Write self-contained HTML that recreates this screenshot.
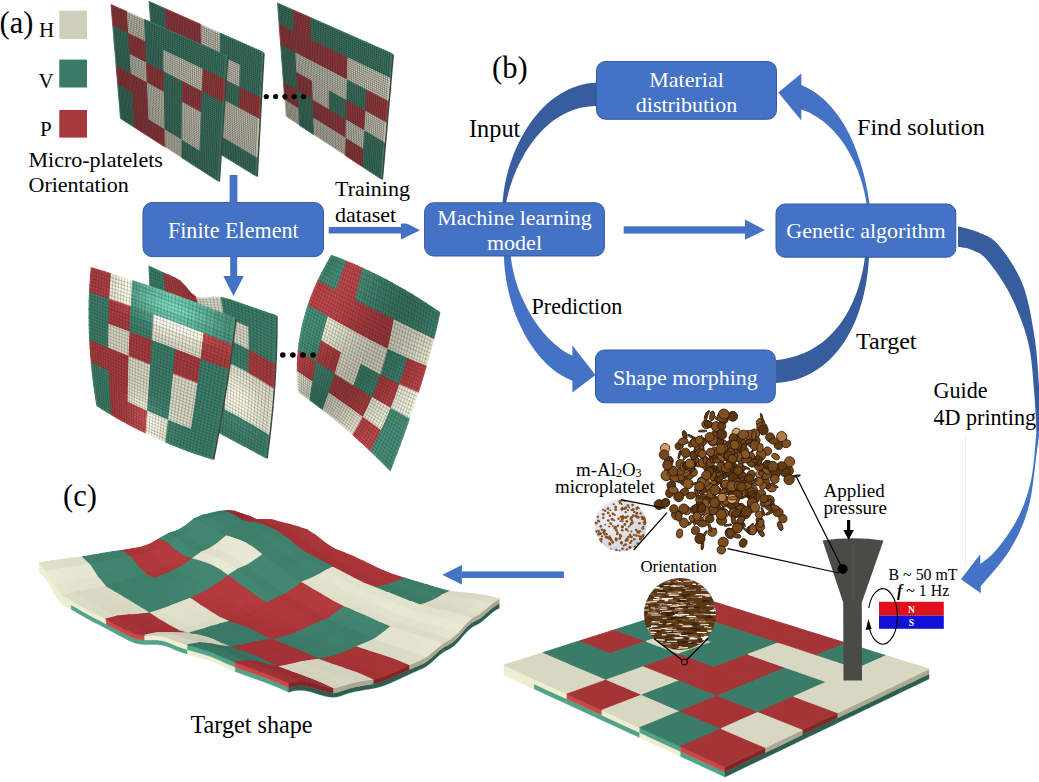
<!DOCTYPE html>
<html><head><meta charset="utf-8"><style>
html,body{margin:0;padding:0;background:#fff;width:1039px;height:782px;overflow:hidden}
svg{display:block;font-family:"Liberation Serif",serif}
</style></head><body>
<svg width="1039" height="782" viewBox="0 0 1039 782" font-family="Liberation Serif"><polygon points="502.5,203 503,197.7 503.6,192.3 504.5,186.8 505.5,181.3 506.8,175.8 508.2,170.4 509.8,164.9 511.7,159.5 513.7,154.1 515.9,148.8 518.3,143.5 520.9,138.4 523.6,133.4 526.6,128.5 529.7,123.8 533,119.3 536.5,114.9 540.1,110.7 543.9,106.8 547.9,103.1 552.1,99.6 556.4,96.4 561,93.5 565.6,90.9 570.5,88.6 575.4,86.7 580.6,85.1 585.9,83.8 591.4,83 597,82.5 597,106 592,106.2 587.1,106.7 582.3,107.5 577.7,108.6 573.2,110.1 568.8,111.8 564.6,113.7 560.5,116 556.6,118.4 552.7,121.1 549.1,124.1 545.5,127.2 542.1,130.5 538.9,134 535.8,137.6 532.8,141.4 529.9,145.4 527.2,149.4 524.7,153.6 522.3,157.9 520,162.2 517.9,166.6 515.9,171.1 514,175.6 512.3,180.2 510.8,184.8 509.4,189.3 508.1,193.9 507,198.5 506,203" fill="#385d9e"/>
<polygon points="869.5,204 868.7,198.6 867.8,193.3 866.8,188 865.7,182.7 864.5,177.5 863.2,172.3 861.8,167.2 860.3,162.2 858.7,157.3 857,152.5 855.2,147.7 853.3,143.1 851.3,138.5 849.2,134.1 846.9,129.8 844.6,125.6 842.1,121.6 839.6,117.7 836.9,114 834.1,110.4 831.2,106.9 828.2,103.7 825.1,100.6 821.9,97.7 818.5,95 815,92.5 811.5,90.2 807.8,88.1 803.9,86.2 800,84.5 800,109 803.5,110.2 806.9,111.6 810.2,113.1 813.4,114.9 816.6,116.8 819.7,118.9 822.8,121.1 825.7,123.5 828.6,126.1 831.4,128.7 834.1,131.6 836.7,134.5 839.2,137.6 841.6,140.8 844,144.1 846.2,147.6 848.3,151.1 850.4,154.7 852.3,158.4 854.2,162.3 855.9,166.2 857.6,170.1 859.1,174.2 860.5,178.3 861.8,182.4 863,186.7 864.1,190.9 865,195.3 865.9,199.6 866.6,204" fill="#4472c4"/>
<polygon points="778.3,92.6 801.3,73.6 801.3,120.5" fill="#4472c4"/>
<polygon points="503.9,256 504.2,262.4 504.7,268.6 505.5,274.8 506.4,280.8 507.5,286.7 508.7,292.5 510.2,298.2 511.8,303.7 513.5,309.1 515.4,314.4 517.5,319.5 519.7,324.5 522,329.3 524.4,333.9 526.9,338.4 529.6,342.7 532.3,346.8 535.1,350.7 538,354.4 541,357.9 544.1,361.2 547.2,364.4 550.4,367.2 553.6,369.9 556.9,372.4 560.2,374.6 563.5,376.6 566.8,378.3 570.1,379.8 573.5,381 573.5,356 570.6,354.8 567.8,353.4 564.9,351.7 562.1,349.9 559.3,347.8 556.4,345.6 553.7,343.2 550.9,340.6 548.2,337.9 545.5,335 542.9,331.9 540.3,328.7 537.8,325.4 535.4,321.9 533,318.4 530.8,314.7 528.6,310.9 526.5,307 524.5,303.1 522.6,299 520.8,294.9 519.1,290.7 517.6,286.5 516.2,282.2 514.9,277.9 513.8,273.6 512.8,269.2 512,264.8 511.3,260.4 510.8,256" fill="#4472c4"/>
<polygon points="595.5,375 572.4,345.5 572.4,392.4" fill="#4472c4"/>
<polygon points="869,257 868.5,264.2 867.8,271.3 866.9,278.2 865.8,284.9 864.5,291.5 863,297.8 861.3,304 859.4,310 857.4,315.8 855.1,321.4 852.7,326.8 850.1,332 847.3,337 844.4,341.7 841.2,346.2 838,350.5 834.5,354.6 830.9,358.4 827.1,361.9 823.2,365.2 819.1,368.3 814.9,371 810.5,373.5 806,375.8 801.4,377.7 796.6,379.4 791.6,380.7 786.5,381.8 781.3,382.5 776,383 776,360 781.3,359.4 786.5,358.5 791.4,357.3 796.2,355.9 800.9,354.3 805.3,352.5 809.6,350.4 813.7,348.1 817.7,345.6 821.5,342.9 825.2,339.9 828.6,336.8 832,333.6 835.1,330.1 838.1,326.5 841,322.7 843.7,318.8 846.2,314.7 848.6,310.5 850.8,306.1 852.9,301.7 854.8,297.1 856.6,292.4 858.2,287.6 859.7,282.7 861.1,277.7 862.3,272.6 863.3,267.5 864.2,262.3 865,257" fill="#385d9e"/>
<polygon points="958,226.2 959.7,226.7 962,227.3 964.8,228 967.8,228.8 971,229.7 974.2,230.8 977.3,231.8 980,233 982.5,234.1 984.8,235.1 987.1,236.1 989.3,237.2 991.5,238.6 993.8,240.3 996.2,242.5 998.8,245.3 1001.6,248.7 1004.6,252.7 1007.8,257.2 1011,262 1014.1,267.1 1017.1,272.4 1019.9,277.9 1022.3,283.4 1024.4,289.1 1026.2,295 1027.8,301.2 1029.3,307.5 1030.6,313.9 1031.8,320.4 1032.9,326.9 1034,333.4 1035,339.9 1035.8,346.6 1036.6,353.3 1037.2,360.1 1037.7,366.9 1038.2,373.5 1038.6,380 1039,386.3 1039.3,392.7 1039.5,399.3 1039.5,406 1039.6,412.5 1039.5,418.5 1039.5,424 1039.5,428.5 1039.5,432 1036.5,432 1036.3,428.8 1036.1,424.6 1035.9,419.6 1035.6,414 1035.3,408 1034.9,401.9 1034.5,395.8 1034,390 1033.5,384.3 1033,378.4 1032.6,372.5 1032,366.4 1031.3,360.3 1030.5,354.2 1029.4,348.2 1028.1,342.2 1026.5,336.2 1024.7,330.1 1022.6,324 1020.4,317.9 1018,311.9 1015.6,306.1 1013.1,300.5 1010.5,295.2 1007.8,290.1 1004.8,285 1001.7,280 998.6,275.3 995.4,270.8 992.4,266.8 989.6,263.1 987,260 984.7,257.5 982.6,255.6 980.7,254.1 978.9,253 977.2,252.2 975.5,251.4 973.8,250.8 972,250 970.1,249.2 968.1,248.6 966.1,248.1 964.1,247.7 962.2,247.4 960.5,247.1 959.1,246.9 958,246.7" fill="#385d9e"/>
<polygon points="1039.5,431 1039.3,432.5 1039.1,434.4 1038.9,436.5 1038.6,439 1038.2,441.9 1037.8,445.3 1037.2,449.2 1036.6,453.7 1035.9,459 1035.2,465.2 1034.4,472 1033.5,479.2 1032.5,486.6 1031.4,493.9 1030.1,500.9 1028.5,507.3 1026.7,513.2 1024.8,518.9 1022.8,524.4 1020.5,529.7 1018.1,534.9 1015.5,540 1012.7,545 1009.8,550 1006.4,555.2 1002.4,560.5 998.1,565.9 993.7,571.2 989.5,576.1 985.6,580.5 982.4,584.2 980,587 979,565 980.3,564 982,562.7 984,561.2 986.3,559.5 988.7,557.5 991.3,555.3 993.8,552.8 996.3,550 998.8,546.9 1001.6,543.3 1004.4,539.5 1007.3,535.4 1010.2,531.1 1012.9,526.8 1015.5,522.4 1017.8,518 1019.9,513.7 1021.9,509.3 1023.7,504.9 1025.4,500.3 1027,495.7 1028.4,490.8 1029.8,485.8 1031,480.5 1032.1,474.5 1033,467.8 1033.9,460.6 1034.6,453.4 1035.2,446.5 1035.7,440.2 1036.1,434.9 1036.5,431" fill="#4472c4"/>
<polygon points="960.9,579.2 980.2,554.3 980.8,593.2" fill="#4472c4"/>
<line x1="965.5" y1="435" x2="965.5" y2="566" stroke="#f0f0f0" stroke-width="1"/>
<rect x="143" y="202.6" width="180.5" height="54" rx="9" fill="#4472c4" stroke="#345a9f" stroke-width="1"/>
<rect x="596.5" y="61.5" width="180" height="57.8" rx="9" fill="#4472c4" stroke="#345a9f" stroke-width="1"/>
<rect x="424.6" y="202.8" width="179.8" height="53.2" rx="9" fill="#4472c4" stroke="#345a9f" stroke-width="1"/>
<rect x="776" y="204" width="179.8" height="53.2" rx="9" fill="#4472c4" stroke="#345a9f" stroke-width="1"/>
<rect x="595.5" y="350" width="179.8" height="52.8" rx="9" fill="#4472c4" stroke="#345a9f" stroke-width="1"/>
<text x="233.3" y="237.9" font-size="22.1" fill="#ffffff" text-anchor="middle">Finite Element</text>
<text x="686.5" y="86.6" font-size="22" fill="#ffffff" text-anchor="middle">Material</text>
<text x="686.5" y="111.6" font-size="22" fill="#ffffff" text-anchor="middle">distribution</text>
<text x="514.5" y="225.2" font-size="22" fill="#ffffff" text-anchor="middle">Machine learning</text>
<text x="514.5" y="250.2" font-size="22" fill="#ffffff" text-anchor="middle">model</text>
<text x="866" y="237.6" font-size="22" fill="#ffffff" text-anchor="middle">Genetic algorithm</text>
<text x="685.4" y="384.7" font-size="22" fill="#ffffff" text-anchor="middle">Shape morphing</text>
<text x="-0.5" y="33.2" font-size="30.5" fill="#000" text-anchor="start">(a)</text>
<text x="492" y="78.4" font-size="30.5" fill="#000" text-anchor="start">(b)</text>
<text x="63" y="506" font-size="30.5" fill="#000" text-anchor="start">(c)</text>
<text x="39" y="37" font-size="21" fill="#000" text-anchor="start">H</text>
<text x="38.6" y="87.5" font-size="21" fill="#000" text-anchor="start">V</text>
<text x="40" y="136.1" font-size="21" fill="#000" text-anchor="start">P</text>
<text x="28.5" y="167.2" font-size="22" fill="#000" text-anchor="start">Micro-platelets</text>
<text x="28.5" y="192.3" font-size="22" fill="#000" text-anchor="start">Orientation</text>
<text x="469" y="137" font-size="24.3" fill="#000" text-anchor="start">Input</text>
<text x="857" y="134.5" font-size="24.1" fill="#000" text-anchor="start">Find solution</text>
<text x="531.5" y="313.7" font-size="22.1" fill="#000" text-anchor="start">Prediction</text>
<text x="856" y="348.6" font-size="24" fill="#000" text-anchor="start">Target</text>
<text x="933.5" y="397.8" font-size="22.1" fill="#000" text-anchor="start">Guide</text>
<text x="933.5" y="424.7" font-size="22.1" fill="#000" text-anchor="start">4D printing</text>
<text x="190.5" y="732.5" font-size="24.2" fill="#000" text-anchor="start">Target shape</text>
<text x="576" y="476.3" font-size="18.9" fill="#000" text-anchor="start">m-Al<tspan font-size="12" dy="0.6">2</tspan><tspan dy="-0.6">O</tspan><tspan font-size="12" dy="0.6">3</tspan></text>
<text x="555" y="493" font-size="18.9" fill="#000" text-anchor="start">microplatelet</text>
<text x="823.5" y="496.5" font-size="19" fill="#000" text-anchor="start">Applied</text>
<text x="823.5" y="513.5" font-size="19" fill="#000" text-anchor="start">pressure</text>
<text x="640.5" y="572.4" font-size="16.8" fill="#000" text-anchor="start">Orientation</text>
<text x="888.5" y="580.4" font-size="15.9" fill="#000" text-anchor="start">B ~ 50 mT</text>
<text x="897" y="596" font-size="15.9" fill="#000" text-anchor="start"><tspan font-style="italic" font-weight="bold">f</tspan> ~ 1 Hz</text>
<rect x="59.3" y="10.7" width="27.7" height="28.2" fill="#cfd0bc"/>
<rect x="59.3" y="59.6" width="27.7" height="27.9" fill="#3b7a66"/>
<rect x="59.3" y="110" width="27.7" height="27.6" fill="#a5393b"/>
<rect x="229.6" y="175" width="7.8" height="28" fill="#4472c4"/>
<rect x="230.2" y="256" width="7" height="21" fill="#4472c4"/>
<polygon points="223.3,276 243.8,276 233.5,296" fill="#4472c4"/>
<rect x="328.7" y="227" width="73" height="6.5" fill="#4472c4"/>
<polygon points="401,220.5 420,230.2 401,239.5" fill="#4472c4"/>
<rect x="331" y="181" width="82" height="42.5" fill="#fff"/>
<text x="335" y="196" font-size="22" fill="#000" text-anchor="start">Training</text>
<text x="335" y="221.8" font-size="22" fill="#000" text-anchor="start">dataset</text>
<rect x="623.7" y="226.3" width="122" height="7.3" fill="#4472c4"/>
<polygon points="745,219.4 765,230 745,239.8" fill="#4472c4"/>
<rect x="461.9" y="571.4" width="102" height="6.6" fill="#4472c4"/>
<polygon points="442.3,574.7 461.9,564.9 461.9,584.5" fill="#4472c4"/>
<polygon points="262.8,52 264.7,53.5 257.9,177 255.8,176" fill="#3b4a40"/>
<g stroke-width="0.9">
<polygon points="149,1.4 154.4,3.8 159.9,6.2 165.5,8.7 165.5,8.7 165.9,16.1 166.3,23.3 166.7,30.4 166.7,30.4 161.3,27.8 155.9,25.2 150.6,22.7 150.6,22.7 150.1,15.7 149.6,8.6 149,1.4" fill="#3a7d68" stroke="#3a7d68"/>
<polygon points="165.5,8.7 171.2,11.3 177,13.8 182.8,16.4 182.8,16.4 183.1,23.9 183.4,31.3 183.7,38.5 183.7,38.5 177.9,35.7 172.3,33 166.7,30.4 166.7,30.4 166.3,23.3 165.9,16.1 165.5,8.7" fill="#a83a3d" stroke="#a83a3d"/>
<polygon points="182.8,16.4 188.8,19.1 194.9,21.8 201.2,24.6 201.2,24.6 201.3,32.2 201.4,39.7 201.6,47 201.6,47 195.5,44.1 189.5,41.3 183.7,38.5 183.7,38.5 183.4,31.3 183.1,23.9 182.8,16.4" fill="#a83a3d" stroke="#a83a3d"/>
<polygon points="201.2,24.6 207.5,27.4 214,30.3 220.5,33.2 220.5,33.2 220.5,41 220.5,48.6 220.4,56 220.4,56 214,53 207.7,50 201.6,47 201.6,47 201.4,39.7 201.3,32.2 201.2,24.6" fill="#d8d7c4" stroke="#d8d7c4"/>
<polygon points="220.5,33.2 227.2,36.2 234.1,39.2 241.1,42.3 241.1,42.3 240.8,50.2 240.6,57.9 240.4,65.5 240.4,65.5 233.6,62.3 226.9,59.1 220.4,56 220.4,56 220.5,48.6 220.5,41 220.5,33.2" fill="#3a7d68" stroke="#3a7d68"/>
<polygon points="241.1,42.3 248.2,45.5 255.4,48.7 262.8,52 262.8,52 262.3,60 261.9,67.9 261.5,75.6 261.5,75.6 254.3,72.2 247.3,68.8 240.4,65.5 240.4,65.5 240.6,57.9 240.8,50.2 241.1,42.3" fill="#3a7d68" stroke="#3a7d68"/>
<polygon points="150.6,22.7 155.9,25.2 161.3,27.8 166.7,30.4 166.7,30.4 167.1,37.4 167.5,44.2 167.9,51 167.9,51 162.6,48.3 157.3,45.6 152.2,43 152.2,43 151.7,36.3 151.2,29.6 150.6,22.7" fill="#3a7d68" stroke="#3a7d68"/>
<polygon points="166.7,30.4 172.3,33 177.9,35.7 183.7,38.5 183.7,38.5 184,45.6 184.2,52.6 184.5,59.4 184.5,59.4 178.9,56.6 173.4,53.8 167.9,51 167.9,51 167.5,44.2 167.1,37.4 166.7,30.4" fill="#3a7d68" stroke="#3a7d68"/>
<polygon points="183.7,38.5 189.5,41.3 195.5,44.1 201.6,47 201.6,47 201.7,54.2 201.8,61.3 201.9,68.3 201.9,68.3 196,65.3 190.2,62.3 184.5,59.4 184.5,59.4 184.2,52.6 184,45.6 183.7,38.5" fill="#3a7d68" stroke="#3a7d68"/>
<polygon points="201.6,47 207.7,50 214,53 220.4,56 220.4,56 220.4,63.4 220.3,70.6 220.3,77.6 220.3,77.6 214.1,74.5 207.9,71.4 201.9,68.3 201.9,68.3 201.8,61.3 201.7,54.2 201.6,47" fill="#3a7d68" stroke="#3a7d68"/>
<polygon points="220.4,56 226.9,59.1 233.6,62.3 240.4,65.5 240.4,65.5 240.1,73 239.9,80.3 239.7,87.5 239.7,87.5 233.1,84.1 226.7,80.9 220.3,77.6 220.3,77.6 220.3,70.6 220.4,63.4 220.4,56" fill="#d8d7c4" stroke="#d8d7c4"/>
<polygon points="240.4,65.5 247.3,68.8 254.3,72.2 261.5,75.6 261.5,75.6 261,83.2 260.6,90.6 260.2,97.9 260.2,97.9 253.2,94.4 246.4,90.9 239.7,87.5 239.7,87.5 239.9,80.3 240.1,73 240.4,65.5" fill="#3a7d68" stroke="#3a7d68"/>
<polygon points="152.2,43 157.3,45.6 162.6,48.3 167.9,51 167.9,51 168.3,57.7 168.7,64.2 169.1,70.6 169.1,70.6 163.8,67.8 158.7,65.1 153.7,62.4 153.7,62.4 153.2,56 152.7,49.6 152.2,43" fill="#3a7d68" stroke="#3a7d68"/>
<polygon points="167.9,51 173.4,53.8 178.9,56.6 184.5,59.4 184.5,59.4 184.8,66.2 185,72.8 185.3,79.4 185.3,79.4 179.8,76.4 174.4,73.5 169.1,70.6 169.1,70.6 168.7,64.2 168.3,57.7 167.9,51" fill="#3a7d68" stroke="#3a7d68"/>
<polygon points="184.5,59.4 190.2,62.3 196,65.3 201.9,68.3 201.9,68.3 202,75.1 202.2,81.9 202.3,88.5 202.3,88.5 196.5,85.4 190.8,82.4 185.3,79.4 185.3,79.4 185,72.8 184.8,66.2 184.5,59.4" fill="#3a7d68" stroke="#3a7d68"/>
<polygon points="201.9,68.3 207.9,71.4 214.1,74.5 220.3,77.6 220.3,77.6 220.3,84.6 220.2,91.4 220.2,98.1 220.2,98.1 214.1,94.9 208.2,91.7 202.3,88.5 202.3,88.5 202.2,81.9 202,75.1 201.9,68.3" fill="#3a7d68" stroke="#3a7d68"/>
<polygon points="220.3,77.6 226.7,80.9 233.1,84.1 239.7,87.5 239.7,87.5 239.5,94.6 239.3,101.5 239.1,108.3 239.1,108.3 232.7,104.9 226.4,101.5 220.2,98.1 220.2,98.1 220.2,91.4 220.3,84.6 220.3,77.6" fill="#3a7d68" stroke="#3a7d68"/>
<polygon points="239.7,87.5 246.4,90.9 253.2,94.4 260.2,97.9 260.2,97.9 259.8,105.1 259.4,112.1 259,119 259,119 252.3,115.4 245.6,111.8 239.1,108.3 239.1,108.3 239.3,101.5 239.5,94.6 239.7,87.5" fill="#a83a3d" stroke="#a83a3d"/>
<polygon points="153.7,62.4 158.7,65.1 163.8,67.8 169.1,70.6 169.1,70.6 169.4,77 169.8,83.2 170.2,89.4 170.2,89.4 165,86.5 160,83.6 155.1,80.8 155.1,80.8 154.6,74.8 154.1,68.6 153.7,62.4" fill="#3a7d68" stroke="#3a7d68"/>
<polygon points="169.1,70.6 174.4,73.5 179.8,76.4 185.3,79.4 185.3,79.4 185.5,85.8 185.8,92.1 186,98.3 186,98.3 180.6,95.3 175.4,92.3 170.2,89.4 170.2,89.4 169.8,83.2 169.4,77 169.1,70.6" fill="#3a7d68" stroke="#3a7d68"/>
<polygon points="185.3,79.4 190.8,82.4 196.5,85.4 202.3,88.5 202.3,88.5 202.4,95 202.5,101.4 202.6,107.7 202.6,107.7 197,104.6 191.4,101.4 186,98.3 186,98.3 185.8,92.1 185.5,85.8 185.3,79.4" fill="#3a7d68" stroke="#3a7d68"/>
<polygon points="202.3,88.5 208.2,91.7 214.1,94.9 220.2,98.1 220.2,98.1 220.2,104.7 220.1,111.2 220.1,117.6 220.1,117.6 214.2,114.3 208.3,111 202.6,107.7 202.6,107.7 202.5,101.4 202.4,95 202.3,88.5" fill="#3a7d68" stroke="#3a7d68"/>
<polygon points="220.2,98.1 226.4,101.5 232.7,104.9 239.1,108.3 239.1,108.3 238.9,115 238.7,121.6 238.5,128 238.5,128 232.3,124.5 226.1,121 220.1,117.6 220.1,117.6 220.1,111.2 220.2,104.7 220.2,98.1" fill="#d8d7c4" stroke="#d8d7c4"/>
<polygon points="239.1,108.3 245.6,111.8 252.3,115.4 259,119 259,119 258.6,125.8 258.3,132.5 257.9,139 257.9,139 251.3,135.3 244.8,131.6 238.5,128 238.5,128 238.7,121.6 238.9,115 239.1,108.3" fill="#d8d7c4" stroke="#d8d7c4"/>
<polygon points="155.1,80.8 160,83.6 165,86.5 170.2,89.4 170.2,89.4 170.5,95.4 170.9,101.4 171.2,107.3 171.2,107.3 166.2,104.3 161.3,101.4 156.4,98.5 156.4,98.5 156,92.7 155.5,86.8 155.1,80.8" fill="#3a7d68" stroke="#3a7d68"/>
<polygon points="170.2,89.4 175.4,92.3 180.6,95.3 186,98.3 186,98.3 186.2,104.5 186.5,110.5 186.7,116.4 186.7,116.4 181.4,113.3 176.3,110.3 171.2,107.3 171.2,107.3 170.9,101.4 170.5,95.4 170.2,89.4" fill="#3a7d68" stroke="#3a7d68"/>
<polygon points="186,98.3 191.4,101.4 197,104.6 202.6,107.7 202.6,107.7 202.7,113.9 202.8,120.1 202.9,126.1 202.9,126.1 197.4,122.8 192,119.6 186.7,116.4 186.7,116.4 186.5,110.5 186.2,104.5 186,98.3" fill="#3a7d68" stroke="#3a7d68"/>
<polygon points="202.6,107.7 208.3,111 214.2,114.3 220.1,117.6 220.1,117.6 220.1,123.9 220,130.1 220,136.2 220,136.2 214.2,132.7 208.5,129.4 202.9,126.1 202.9,126.1 202.8,120.1 202.7,113.9 202.6,107.7" fill="#3a7d68" stroke="#3a7d68"/>
<polygon points="220.1,117.6 226.1,121 232.3,124.5 238.5,128 238.5,128 238.3,134.4 238.1,140.6 237.9,146.8 237.9,146.8 231.9,143.2 225.9,139.6 220,136.2 220,136.2 220,130.1 220.1,123.9 220.1,117.6" fill="#d8d7c4" stroke="#d8d7c4"/>
<polygon points="238.5,128 244.8,131.6 251.3,135.3 257.9,139 257.9,139 257.5,145.4 257.2,151.8 256.8,158 256.8,158 250.4,154.2 244.1,150.5 237.9,146.8 237.9,146.8 238.1,140.6 238.3,134.4 238.5,128" fill="#d8d7c4" stroke="#d8d7c4"/>
<polygon points="156.4,98.5 161.3,101.4 166.2,104.3 171.2,107.3 171.2,107.3 171.5,113 171.9,118.7 172.2,124.4 172.2,124.4 167.3,121.3 162.5,118.3 157.7,115.4 157.7,115.4 157.3,109.8 156.8,104.2 156.4,98.5" fill="#3a7d68" stroke="#3a7d68"/>
<polygon points="171.2,107.3 176.3,110.3 181.4,113.3 186.7,116.4 186.7,116.4 186.9,122.3 187.1,128 187.4,133.7 187.4,133.7 182.2,130.5 177.2,127.4 172.2,124.4 172.2,124.4 171.9,118.7 171.5,113 171.2,107.3" fill="#3a7d68" stroke="#3a7d68"/>
<polygon points="186.7,116.4 192,119.6 197.4,122.8 202.9,126.1 202.9,126.1 203,132 203.1,137.8 203.2,143.5 203.2,143.5 197.9,140.2 192.6,136.9 187.4,133.7 187.4,133.7 187.1,128 186.9,122.3 186.7,116.4" fill="#3a7d68" stroke="#3a7d68"/>
<polygon points="202.9,126.1 208.5,129.4 214.2,132.7 220,136.2 220,136.2 220,142.1 219.9,148 219.9,153.8 219.9,153.8 214.3,150.3 208.7,146.9 203.2,143.5 203.2,143.5 203.1,137.8 203,132 202.9,126.1" fill="#3a7d68" stroke="#3a7d68"/>
<polygon points="220,136.2 225.9,139.6 231.9,143.2 237.9,146.8 237.9,146.8 237.8,152.8 237.6,158.8 237.4,164.6 237.4,164.6 231.5,161 225.6,157.4 219.9,153.8 219.9,153.8 219.9,148 220,142.1 220,136.2" fill="#3a7d68" stroke="#3a7d68"/>
<polygon points="237.9,146.8 244.1,150.5 250.4,154.2 256.8,158 256.8,158 256.5,164.1 256.1,170.1 255.8,176 255.8,176 249.6,172.1 243.4,168.4 237.4,164.6 237.4,164.6 237.6,158.8 237.8,152.8 237.9,146.8" fill="#3a7d68" stroke="#3a7d68"/>
</g>
<path d="M150.5,2.1 L152.1,23.4 L153.6,43.7 L155.1,63.1 L156.4,81.6 L157.8,99.3 L159.0,116.2 M149.2,3.4 L165.6,10.8 L182.9,18.6 L201.2,26.7 L220.5,35.4 L241.0,44.6 L262.7,54.3 M152.0,2.7 L153.6,24.1 L155.1,44.5 L156.5,63.9 L157.8,82.4 L159.1,100.1 L160.4,117.0 M149.3,5.5 L165.7,12.9 L183.0,20.7 L201.2,28.9 L220.5,37.6 L240.9,46.8 L262.5,56.5 M153.5,3.4 L155.1,24.8 L156.5,45.2 L157.9,64.6 L159.2,83.2 L160.5,100.9 L161.7,117.9 M149.5,7.5 L165.8,14.9 L183.1,22.8 L201.3,31.0 L220.5,39.8 L240.9,49.0 L262.4,58.8 M155.1,4.1 L156.6,25.5 L158.0,46.0 L159.3,65.4 L160.6,84.0 L161.9,101.7 L163.1,118.7 M149.6,9.5 L166.0,17.0 L183.2,24.8 L201.3,33.1 L220.5,41.9 L240.8,51.2 L262.3,61.0 M156.6,4.8 L158.1,26.3 L159.5,46.7 L160.8,66.2 L162.1,84.8 L163.3,102.6 L164.4,119.5 M149.8,11.5 L166.1,19.0 L183.2,26.9 L201.4,35.3 L220.5,44.1 L240.7,53.4 L262.2,63.2 M158.2,5.5 L159.6,27.0 L160.9,47.5 L162.2,67.0 L163.5,85.6 L164.6,103.4 L165.8,120.4 M149.9,13.5 L166.2,21.0 L183.3,29.0 L201.4,37.4 L220.5,46.2 L240.7,55.5 L262.0,65.5 M159.7,6.2 L161.1,27.7 L162.4,48.2 L163.7,67.8 L164.9,86.4 L166.0,104.2 L167.1,121.2 M150.1,15.5 L166.3,23.1 L183.4,31.0 L201.4,39.4 L220.5,48.3 L240.6,57.7 L261.9,67.6 M161.3,6.9 L162.6,28.4 L163.9,49.0 L165.1,68.5 L166.3,87.2 L167.4,105.0 L168.5,122.1 M150.2,17.5 L166.4,25.1 L183.5,33.1 L201.5,41.5 L220.5,50.4 L240.5,59.9 L261.8,69.8 M162.8,7.6 L164.2,29.2 L165.4,49.7 L166.6,69.3 L167.8,88.0 L168.8,105.9 L169.9,122.9 M150.4,19.4 L166.5,27.1 L183.6,35.1 L201.5,43.6 L220.4,52.5 L240.5,62.0 L261.7,72.0 M164.4,8.3 L165.7,29.9 L166.9,50.5 L168.1,70.1 L169.2,88.8 L170.3,106.7 L171.3,123.8 M150.5,21.4 L166.7,29.1 L183.6,37.1 L201.5,45.6 L220.4,54.6 L240.4,64.1 L261.5,74.2 M166.0,9.0 L167.3,30.6 L168.4,51.3 L169.6,70.9 L170.6,89.6 L171.7,107.5 L172.7,124.6 M150.7,23.4 L166.8,31.1 L183.7,39.2 L201.6,47.7 L220.4,56.7 L240.3,66.2 L261.4,76.3 M167.6,9.7 L168.8,31.4 L170.0,52.0 L171.1,71.7 L172.1,90.5 L173.1,108.4 L174.0,125.5 M150.8,25.3 L166.9,33.0 L183.8,41.2 L201.6,49.7 L220.4,58.8 L240.3,68.3 L261.3,78.5 M169.2,10.4 L170.4,32.1 L171.5,52.8 L172.5,72.5 L173.6,91.3 L174.5,109.2 L175.4,126.4 M151.0,27.2 L167.0,35.0 L183.9,43.2 L201.6,51.8 L220.4,60.8 L240.2,70.4 L261.2,80.6 M170.8,11.1 L171.9,32.9 L173.0,53.6 L174.0,73.3 L175.0,92.1 L176.0,110.1 L176.9,127.2 M151.1,29.2 L167.1,36.9 L183.9,45.1 L201.7,53.8 L220.4,62.9 L240.2,72.5 L261.1,82.7 M172.4,11.8 L173.5,33.6 L174.6,54.4 L175.6,74.1 L176.5,93.0 L177.4,110.9 L178.3,128.1 M151.3,31.1 L167.2,38.9 L184.0,47.1 L201.7,55.8 L220.4,64.9 L240.1,74.6 L260.9,84.8 M174.0,12.5 L175.1,34.4 L176.1,55.2 L177.1,74.9 L178.0,93.8 L178.9,111.8 L179.7,129.0 M151.4,33.0 L167.3,40.8 L184.1,49.1 L201.7,57.8 L220.4,67.0 L240.0,76.7 L260.8,86.9 M175.7,13.3 L176.7,35.1 L177.7,56.0 L178.6,75.8 L179.5,94.6 L180.3,112.7 L181.1,129.9 M151.6,34.9 L167.5,42.8 L184.2,51.0 L201.8,59.8 L220.4,69.0 L240.0,78.7 L260.7,89.0 M177.3,14.0 L178.3,35.9 L179.2,56.8 L180.1,76.6 L181.0,95.5 L181.8,113.5 L182.5,130.7 M151.7,36.8 L167.6,44.7 L184.2,53.0 L201.8,61.8 L220.3,71.0 L239.9,80.8 L260.6,91.1 M179.0,14.7 L179.9,36.7 L180.8,57.5 L181.7,77.4 L182.5,96.3 L183.2,114.4 L184.0,131.6 M151.8,38.6 L167.7,46.6 L184.3,54.9 L201.9,63.7 L220.3,73.0 L239.8,82.8 L260.5,93.1 M180.6,15.5 L181.5,37.5 L182.4,58.4 L183.2,78.2 L184.0,97.2 L184.7,115.3 L185.4,132.5 M152.0,40.5 L167.8,48.5 L184.4,56.9 L201.9,65.7 L220.3,75.0 L239.8,84.8 L260.4,95.2 M182.3,16.2 L183.1,38.2 L184.0,59.2 L184.7,79.1 L185.5,98.0 L186.2,116.1 L186.9,133.4 M152.1,42.4 L167.9,50.4 L184.5,58.8 L201.9,67.6 L220.3,77.0 L239.7,86.8 L260.2,97.2 M184.0,16.9 L184.8,39.0 L185.6,60.0 L186.3,79.9 L187.0,98.9 L187.7,117.0 L188.3,134.3 M152.3,44.2 L168.0,52.3 L184.5,60.7 L202.0,69.6 L220.3,78.9 L239.7,88.8 L260.1,99.3 M185.6,17.7 L186.4,39.8 L187.2,60.8 L187.9,80.8 L188.5,99.8 L189.2,117.9 L189.8,135.2 M152.4,46.1 L168.1,54.1 L184.6,62.6 L202.0,71.5 L220.3,80.9 L239.6,90.8 L260.0,101.3 M187.3,18.4 L188.1,40.6 L188.8,61.6 L189.4,81.6 L190.1,100.6 L190.7,118.8 L191.3,136.1 M152.6,47.9 L168.2,56.0 L184.7,64.5 L202.0,73.4 L220.3,82.9 L239.5,92.8 L259.9,103.3 M189.0,19.2 L189.7,41.4 L190.4,62.4 L191.0,82.4 L191.6,101.5 L192.2,119.7 L192.7,137.0 M152.7,49.8 L168.3,57.9 L184.8,66.4 L202.1,75.4 L220.3,84.8 L239.5,94.8 L259.8,105.3 M190.7,20.0 L191.4,42.2 L192.0,63.2 L192.6,83.3 L193.2,102.4 L193.7,120.6 L194.2,138.0 M152.8,51.6 L168.4,59.7 L184.8,68.3 L202.1,77.3 L220.3,86.7 L239.4,96.7 L259.7,107.3 M192.5,20.7 L193.1,43.0 L193.6,64.1 L194.2,84.2 L194.7,103.3 L195.2,121.5 L195.7,138.9 M153.0,53.4 L168.5,61.6 L184.9,70.1 L202.1,79.2 L220.2,88.7 L239.4,98.7 L259.6,109.3 M194.2,21.5 L194.7,43.8 L195.3,64.9 L195.8,85.0 L196.3,104.2 L196.8,122.4 L197.2,139.8 M153.1,55.2 L168.6,63.4 L185.0,72.0 L202.2,81.0 L220.2,90.6 L239.3,100.6 L259.5,111.2 M195.9,22.3 L196.4,44.6 L196.9,65.8 L197.4,85.9 L197.9,105.0 L198.3,123.3 L198.7,140.7 M153.2,57.0 L168.8,65.2 L185.0,73.8 L202.2,82.9 L220.2,92.5 L239.3,102.6 L259.3,113.2 M197.7,23.0 L198.1,45.4 L198.6,66.6 L199.0,86.8 L199.4,105.9 L199.8,124.2 L200.2,141.7 M153.4,58.8 L168.9,67.0 L185.1,75.7 L202.2,84.8 L220.2,94.4 L239.2,104.5 L259.2,115.1 M199.4,23.8 L199.8,46.2 L200.3,67.4 L200.6,87.6 L201.0,106.8 L201.4,125.1 L201.7,142.6 M153.5,60.6 L169.0,68.8 L185.2,77.5 L202.2,86.7 L220.2,96.3 L239.1,106.4 L259.1,117.1 M201.2,24.6 L201.6,47.0 L201.9,68.3 L202.3,88.5 L202.6,107.7 L202.9,126.1 L203.2,143.5 M153.7,62.4 L169.1,70.6 L185.3,79.4 L202.3,88.5 L220.2,98.1 L239.1,108.3 L259.0,119.0 M202.9,25.4 L203.3,47.8 L203.6,69.1 L203.9,89.4 L204.2,108.6 L204.5,127.0 L204.8,144.5 M153.8,64.1 L169.2,72.4 L185.3,81.2 L202.3,90.4 L220.2,100.0 L239.0,110.2 L258.9,120.9 M204.7,26.2 L205.0,48.7 L205.3,70.0 L205.6,90.3 L205.8,109.6 L206.1,127.9 L206.3,145.4 M153.9,65.9 L169.3,74.2 L185.4,83.0 L202.3,92.2 L220.2,101.9 L239.0,112.1 L258.8,122.8 M206.5,27.0 L206.8,49.5 L207.0,70.9 L207.2,91.2 L207.4,110.5 L207.6,128.9 L207.8,146.4 M154.1,67.6 L169.4,76.0 L185.5,84.8 L202.4,94.0 L220.2,103.7 L238.9,114.0 L258.7,124.7 M208.3,27.8 L208.5,50.3 L208.7,71.7 L208.9,92.1 L209.1,111.4 L209.2,129.8 L209.4,147.3 M154.2,69.4 L169.5,77.8 L185.5,86.6 L202.4,95.8 L220.2,105.6 L238.9,115.8 L258.6,126.6 M210.1,28.6 L210.3,51.2 L210.4,72.6 L210.6,93.0 L210.7,112.3 L210.8,130.7 L211.0,148.3 M154.3,71.1 L169.6,79.5 L185.6,88.4 L202.4,97.6 L220.1,107.4 L238.8,117.7 L258.5,128.5 M211.9,29.4 L212.0,52.0 L212.1,73.5 L212.2,93.9 L212.3,113.2 L212.4,131.7 L212.5,149.3 M154.5,72.9 L169.7,81.3 L185.7,90.1 L202.5,99.4 L220.1,109.2 L238.7,119.5 L258.4,130.4 M213.8,30.2 L213.8,52.9 L213.9,74.4 L213.9,94.8 L214.0,114.2 L214.0,132.6 L214.1,150.2 M154.6,74.6 L169.8,83.0 L185.7,91.9 L202.5,101.2 L220.1,111.0 L238.7,121.4 L258.3,132.3 M215.6,31.0 L215.6,53.7 L215.6,75.3 L215.6,95.7 L215.6,115.1 L215.7,133.6 L215.7,151.2 M154.7,76.3 L169.9,84.8 L185.8,93.7 L202.5,103.0 L220.1,112.8 L238.6,123.2 L258.2,134.1 M217.4,31.8 L217.4,54.6 L217.4,76.1 L217.3,96.6 L217.3,116.0 L217.3,134.6 L217.2,152.2 M154.8,78.0 L170.0,86.5 L185.9,95.4 L202.6,104.8 L220.1,114.6 L238.6,125.0 L258.1,136.0 M219.3,32.7 L219.2,55.4 L219.1,77.0 L219.1,97.5 L219.0,117.0 L218.9,135.5 L218.8,153.2 M155.0,79.7 L170.1,88.2 L185.9,97.2 L202.6,106.6 L220.1,116.4 L238.5,126.8 L258.0,137.8 M221.2,33.5 L221.0,56.3 L220.9,77.9 L220.8,98.5 L220.7,117.9 L220.5,136.5 L220.4,154.2 M155.1,81.4 L170.2,89.9 L186.0,98.9 L202.6,108.3 L220.1,118.2 L238.5,128.6 L257.9,139.6 M223.0,34.3 L222.9,57.2 L222.7,78.8 L222.5,99.4 L222.3,118.9 L222.2,137.5 L222.0,155.1 M155.2,83.1 L170.3,91.7 L186.1,100.6 L202.7,110.1 L220.1,120.0 L238.4,130.4 L257.8,141.4 M224.9,35.2 L224.7,58.1 L224.5,79.7 L224.2,100.3 L224.0,119.9 L223.8,138.4 L223.7,156.1 M155.4,84.8 L170.4,93.4 L186.1,102.4 L202.7,111.8 L220.1,121.8 L238.4,132.2 L257.6,143.2 M226.8,36.0 L226.5,58.9 L226.3,80.7 L226.0,101.3 L225.7,120.8 L225.5,139.4 L225.3,157.1 M155.5,86.4 L170.5,95.1 L186.2,104.1 L202.7,113.6 L220.1,123.5 L238.3,134.0 L257.5,145.0 M228.7,36.9 L228.4,59.8 L228.1,81.6 L227.7,102.2 L227.5,121.8 L227.2,140.4 L226.9,158.2 M155.6,88.1 L170.6,96.7 L186.3,105.8 L202.7,115.3 L220.1,125.3 L238.3,135.8 L257.4,146.8 M230.6,37.7 L230.2,60.7 L229.9,82.5 L229.5,103.2 L229.2,122.8 L228.9,141.4 L228.5,159.2 M155.7,89.8 L170.7,98.4 L186.3,107.5 L202.8,117.0 L220.0,127.0 L238.2,137.5 L257.3,148.6 M232.6,38.6 L232.1,61.6 L231.7,83.4 L231.3,104.1 L230.9,123.7 L230.5,142.4 L230.2,160.2 M155.9,91.4 L170.8,100.1 L186.4,109.2 L202.8,118.7 L220.0,128.7 L238.2,139.3 L257.2,150.4 M234.5,39.4 L234.0,62.5 L233.5,84.4 L233.1,105.1 L232.6,124.7 L232.2,143.4 L231.8,161.2 M156.0,93.1 L170.9,101.8 L186.5,110.9 L202.8,120.4 L220.0,130.5 L238.1,141.0 L257.1,152.2 M236.5,40.3 L235.9,63.4 L235.4,85.3 L234.9,106.0 L234.4,125.7 L233.9,144.4 L233.5,162.2 M156.1,94.7 L171.0,103.4 L186.5,112.5 L202.9,122.1 L220.0,132.2 L238.1,142.8 L257.0,153.9 M238.4,41.2 L237.8,64.3 L237.2,86.2 L236.7,107.0 L236.1,126.7 L235.6,145.4 L235.2,163.3 M156.2,96.3 L171.1,105.1 L186.6,114.2 L202.9,123.8 L220.0,133.9 L238.0,144.5 L256.9,155.7 M240.4,42.0 L239.7,65.2 L239.1,87.2 L238.5,108.0 L237.9,127.7 L237.4,146.5 L236.8,164.3 M156.4,98.0 L171.2,106.7 L186.7,115.9 L202.9,125.5 L220.0,135.6 L238.0,146.2 L256.8,157.4 M242.4,42.9 L241.6,66.2 L241.0,88.1 L240.3,109.0 L239.7,128.7 L239.1,147.5 L238.5,165.3 M156.5,99.6 L171.3,108.3 L186.7,117.5 L203.0,127.2 L220.0,137.3 L237.9,147.9 L256.8,159.1 M244.4,43.8 L243.6,67.1 L242.8,89.1 L242.1,109.9 L241.5,129.7 L240.8,148.5 L240.2,166.4 M156.6,101.2 L171.4,110.0 L186.8,119.2 L203.0,128.8 L220.0,139.0 L237.8,149.6 L256.7,160.9 M246.4,44.7 L245.5,68.0 L244.7,90.0 L244.0,110.9 L243.2,130.7 L242.6,149.5 L241.9,167.4 M156.7,102.8 L171.4,111.6 L186.9,120.8 L203.0,130.5 L220.0,140.7 L237.8,151.3 L256.6,162.6 M248.4,45.6 L247.5,68.9 L246.6,91.0 L245.8,111.9 L245.0,131.7 L244.3,150.6 L243.6,168.5 M156.9,104.4 L171.5,113.2 L186.9,122.5 L203.0,132.2 L220.0,142.3 L237.7,153.0 L256.5,164.3 M250.4,46.5 L249.4,69.9 L248.5,92.0 L247.7,112.9 L246.9,132.8 L246.1,151.6 L245.3,169.5 M157.0,106.0 L171.6,114.8 L187.0,124.1 L203.1,133.8 L220.0,144.0 L237.7,154.7 L256.4,166.0 M252.4,47.4 L251.4,70.8 L250.5,93.0 L249.5,113.9 L248.7,133.8 L247.8,152.7 L247.1,170.6 M157.1,107.6 L171.7,116.4 L187.0,125.7 L203.1,135.4 L219.9,145.7 L237.6,156.4 L256.3,167.7 M254.5,48.3 L253.4,71.8 L252.4,93.9 L251.4,114.9 L250.5,134.8 L249.6,153.7 L248.8,171.7 M157.2,109.1 L171.8,118.0 L187.1,127.3 L203.1,137.1 L219.9,147.3 L237.6,158.0 L256.2,169.3 M256.6,49.2 L255.4,72.7 L254.3,94.9 L253.3,115.9 L252.3,135.9 L251.4,154.8 L250.5,172.7 M157.3,110.7 L171.9,119.6 L187.2,128.9 L203.2,138.7 L219.9,148.9 L237.5,159.7 L256.1,171.0 M258.6,50.1 L257.4,73.7 L256.3,95.9 L255.2,117.0 L254.2,136.9 L253.2,155.8 L252.3,173.8 M157.5,112.3 L172.0,121.2 L187.2,130.5 L203.2,140.3 L219.9,150.6 L237.5,161.4 L256.0,172.7 M260.7,51.1 L259.4,74.6 L258.2,96.9 L257.1,118.0 L256.0,138.0 L255.0,156.9 L254.0,174.9 M157.6,113.8 L172.1,122.8 L187.3,132.1 L203.2,141.9 L219.9,152.2 L237.5,163.0 L255.9,174.3" fill="none" stroke="#222" stroke-width="0.45" stroke-opacity="0.8"/>
<polygon points="226.5,55.5 228.5,57 220,182 218,181" fill="#3b4a40"/>
<g stroke-width="0.9">
<polygon points="111,4.5 116.3,6.9 121.8,9.3 127.3,11.7 127.3,11.7 127.8,19.2 128.3,26.5 128.7,33.8 128.7,33.8 123.3,31.2 118,28.6 112.8,26.1 112.8,26.1 112.2,19 111.6,11.8 111,4.5" fill="#a83a3d" stroke="#a83a3d"/>
<polygon points="127.3,11.7 133,14.2 138.8,16.8 144.7,19.4 144.7,19.4 145,27 145.3,34.5 145.6,41.9 145.6,41.9 139.9,39.1 134.3,36.4 128.7,33.8 128.7,33.8 128.3,26.5 127.8,19.2 127.3,11.7" fill="#d8d7c4" stroke="#d8d7c4"/>
<polygon points="144.7,19.4 150.7,22 156.9,24.8 163.2,27.5 163.2,27.5 163.3,35.3 163.5,43 163.6,50.5 163.6,50.5 157.5,47.5 151.5,44.7 145.6,41.9 145.6,41.9 145.3,34.5 145,27 144.7,19.4" fill="#3a7d68" stroke="#3a7d68"/>
<polygon points="163.2,27.5 169.6,30.4 176.2,33.3 182.9,36.2 182.9,36.2 182.8,44.2 182.8,52 182.7,59.6 182.7,59.6 176.2,56.5 169.8,53.5 163.6,50.5 163.6,50.5 163.5,43 163.3,35.3 163.2,27.5" fill="#3a7d68" stroke="#3a7d68"/>
<polygon points="182.9,36.2 189.7,39.3 196.8,42.4 203.9,45.5 203.9,45.5 203.6,53.7 203.4,61.6 203.1,69.4 203.1,69.4 196.1,66.1 189.3,62.8 182.7,59.6 182.7,59.6 182.8,52 182.8,44.2 182.9,36.2" fill="#3a7d68" stroke="#3a7d68"/>
<polygon points="203.9,45.5 211.3,48.8 218.8,52.1 226.5,55.5 226.5,55.5 225.9,63.8 225.4,71.9 224.8,79.9 224.8,79.9 217.4,76.3 210.2,72.8 203.1,69.4 203.1,69.4 203.4,61.6 203.6,53.7 203.9,45.5" fill="#3a7d68" stroke="#3a7d68"/>
<polygon points="112.8,26.1 118,28.6 123.3,31.2 128.7,33.8 128.7,33.8 129.2,40.8 129.6,47.8 130,54.6 130,54.6 124.8,51.9 119.6,49.2 114.5,46.6 114.5,46.6 113.9,39.9 113.4,33 112.8,26.1" fill="#3a7d68" stroke="#3a7d68"/>
<polygon points="128.7,33.8 134.3,36.4 139.9,39.1 145.6,41.9 145.6,41.9 145.9,49.1 146.2,56.1 146.5,63.1 146.5,63.1 140.9,60.2 135.4,57.4 130,54.6 130,54.6 129.6,47.8 129.2,40.8 128.7,33.8" fill="#a83a3d" stroke="#a83a3d"/>
<polygon points="145.6,41.9 151.5,44.7 157.5,47.5 163.6,50.5 163.6,50.5 163.7,57.8 163.8,65 164,72.1 164,72.1 158,69 152.2,66 146.5,63.1 146.5,63.1 146.2,56.1 145.9,49.1 145.6,41.9" fill="#3a7d68" stroke="#3a7d68"/>
<polygon points="163.6,50.5 169.8,53.5 176.2,56.5 182.7,59.6 182.7,59.6 182.6,67.1 182.6,74.5 182.5,81.6 182.5,81.6 176.2,78.4 170,75.2 164,72.1 164,72.1 163.8,65 163.7,57.8 163.6,50.5" fill="#d8d7c4" stroke="#d8d7c4"/>
<polygon points="182.7,59.6 189.3,62.8 196.1,66.1 203.1,69.4 203.1,69.4 202.8,77.1 202.5,84.5 202.2,91.8 202.2,91.8 195.5,88.4 188.9,85 182.5,81.6 182.5,81.6 182.6,74.5 182.6,67.1 182.7,59.6" fill="#d8d7c4" stroke="#d8d7c4"/>
<polygon points="203.1,69.4 210.2,72.8 217.4,76.3 224.8,79.9 224.8,79.9 224.3,87.7 223.8,95.3 223.3,102.7 223.3,102.7 216.1,99 209.1,95.4 202.2,91.8 202.2,91.8 202.5,84.5 202.8,77.1 203.1,69.4" fill="#a83a3d" stroke="#a83a3d"/>
<polygon points="114.5,46.6 119.6,49.2 124.8,51.9 130,54.6 130,54.6 130.5,61.3 130.9,67.8 131.3,74.3 131.3,74.3 126.1,71.5 121.1,68.7 116.1,65.9 116.1,65.9 115.6,59.6 115.1,53.1 114.5,46.6" fill="#3a7d68" stroke="#3a7d68"/>
<polygon points="130,54.6 135.4,57.4 140.9,60.2 146.5,63.1 146.5,63.1 146.8,69.9 147.1,76.6 147.3,83.1 147.3,83.1 141.9,80.1 136.5,77.2 131.3,74.3 131.3,74.3 130.9,67.8 130.5,61.3 130,54.6" fill="#d8d7c4" stroke="#d8d7c4"/>
<polygon points="146.5,63.1 152.2,66 158,69 164,72.1 164,72.1 164.1,79 164.2,85.8 164.3,92.5 164.3,92.5 158.5,89.3 152.9,86.2 147.3,83.1 147.3,83.1 147.1,76.6 146.8,69.9 146.5,63.1" fill="#a83a3d" stroke="#a83a3d"/>
<polygon points="164,72.1 170,75.2 176.2,78.4 182.5,81.6 182.5,81.6 182.4,88.7 182.4,95.6 182.3,102.4 182.3,102.4 176.2,99 170.2,95.7 164.3,92.5 164.3,92.5 164.2,85.8 164.1,79 164,72.1" fill="#3a7d68" stroke="#3a7d68"/>
<polygon points="182.5,81.6 188.9,85 195.5,88.4 202.2,91.8 202.2,91.8 202,99 201.7,106 201.5,112.9 201.5,112.9 195,109.3 188.6,105.8 182.3,102.4 182.3,102.4 182.4,95.6 182.4,88.7 182.5,81.6" fill="#a83a3d" stroke="#a83a3d"/>
<polygon points="202.2,91.8 209.1,95.4 216.1,99 223.3,102.7 223.3,102.7 222.8,110 222.3,117.1 221.9,124.1 221.9,124.1 214.9,120.3 208.1,116.5 201.5,112.9 201.5,112.9 201.7,106 202,99 202.2,91.8" fill="#3a7d68" stroke="#3a7d68"/>
<polygon points="116.1,65.9 121.1,68.7 126.1,71.5 131.3,74.3 131.3,74.3 131.7,80.6 132.1,86.9 132.5,93 132.5,93 127.4,90.1 122.5,87.2 117.7,84.4 117.7,84.4 117.2,78.3 116.6,72.2 116.1,65.9" fill="#a83a3d" stroke="#a83a3d"/>
<polygon points="131.3,74.3 136.5,77.2 141.9,80.1 147.3,83.1 147.3,83.1 147.6,89.6 147.9,95.9 148.1,102.1 148.1,102.1 142.8,99 137.6,96 132.5,93 132.5,93 132.1,86.9 131.7,80.6 131.3,74.3" fill="#a83a3d" stroke="#a83a3d"/>
<polygon points="147.3,83.1 152.9,86.2 158.5,89.3 164.3,92.5 164.3,92.5 164.4,99 164.5,105.4 164.7,111.7 164.7,111.7 159,108.4 153.5,105.2 148.1,102.1 148.1,102.1 147.9,95.9 147.6,89.6 147.3,83.1" fill="#d8d7c4" stroke="#d8d7c4"/>
<polygon points="164.3,92.5 170.2,95.7 176.2,99 182.3,102.4 182.3,102.4 182.3,109 182.2,115.5 182.2,121.9 182.2,121.9 176.2,118.4 170.4,115 164.7,111.7 164.7,111.7 164.5,105.4 164.4,99 164.3,92.5" fill="#3a7d68" stroke="#3a7d68"/>
<polygon points="182.3,102.4 188.6,105.8 195,109.3 201.5,112.9 201.5,112.9 201.2,119.6 201,126.2 200.8,132.7 200.8,132.7 194.4,129 188.2,125.4 182.2,121.9 182.2,121.9 182.2,115.5 182.3,109 182.3,102.4" fill="#d8d7c4" stroke="#d8d7c4"/>
<polygon points="201.5,112.9 208.1,116.5 214.9,120.3 221.9,124.1 221.9,124.1 221.4,130.9 220.9,137.6 220.5,144.2 220.5,144.2 213.8,140.3 207.2,136.5 200.8,132.7 200.8,132.7 201,126.2 201.2,119.6 201.5,112.9" fill="#3a7d68" stroke="#3a7d68"/>
<polygon points="117.7,84.4 122.5,87.2 127.4,90.1 132.5,93 132.5,93 132.9,99 133.2,104.9 133.6,110.7 133.6,110.7 128.7,107.7 123.9,104.8 119.1,101.8 119.1,101.8 118.6,96.1 118.1,90.3 117.7,84.4" fill="#3a7d68" stroke="#3a7d68"/>
<polygon points="132.5,93 137.6,96 142.8,99 148.1,102.1 148.1,102.1 148.4,108.2 148.6,114.2 148.9,120.1 148.9,120.1 143.7,116.9 138.6,113.8 133.6,110.7 133.6,110.7 133.2,104.9 132.9,99 132.5,93" fill="#a83a3d" stroke="#a83a3d"/>
<polygon points="148.1,102.1 153.5,105.2 159,108.4 164.7,111.7 164.7,111.7 164.8,117.9 164.9,124 165,129.9 165,129.9 159.5,126.6 154.1,123.3 148.9,120.1 148.9,120.1 148.6,114.2 148.4,108.2 148.1,102.1" fill="#d8d7c4" stroke="#d8d7c4"/>
<polygon points="164.7,111.7 170.4,115 176.2,118.4 182.2,121.9 182.2,121.9 182.1,128.2 182.1,134.3 182,140.4 182,140.4 176.2,136.8 170.6,133.3 165,129.9 165,129.9 164.9,124 164.8,117.9 164.7,111.7" fill="#3a7d68" stroke="#3a7d68"/>
<polygon points="182.2,121.9 188.2,125.4 194.4,129 200.8,132.7 200.8,132.7 200.5,139.1 200.3,145.3 200.1,151.4 200.1,151.4 193.9,147.7 187.9,144 182,140.4 182,140.4 182.1,134.3 182.1,128.2 182.2,121.9" fill="#d8d7c4" stroke="#d8d7c4"/>
<polygon points="200.8,132.7 207.2,136.5 213.8,140.3 220.5,144.2 220.5,144.2 220.1,150.6 219.6,157 219.2,163.1 219.2,163.1 212.7,159.2 206.3,155.2 200.1,151.4 200.1,151.4 200.3,145.3 200.5,139.1 200.8,132.7" fill="#3a7d68" stroke="#3a7d68"/>
<polygon points="119.1,101.8 123.9,104.8 128.7,107.7 133.6,110.7 133.6,110.7 134,116.4 134.3,122.1 134.7,127.6 134.7,127.6 129.9,124.5 125.1,121.5 120.5,118.5 120.5,118.5 120,113 119.6,107.5 119.1,101.8" fill="#3a7d68" stroke="#3a7d68"/>
<polygon points="133.6,110.7 138.6,113.8 143.7,116.9 148.9,120.1 148.9,120.1 149.1,125.9 149.3,131.5 149.6,137.1 149.6,137.1 144.5,133.9 139.5,130.7 134.7,127.6 134.7,127.6 134.3,122.1 134,116.4 133.6,110.7" fill="#a83a3d" stroke="#a83a3d"/>
<polygon points="148.9,120.1 154.1,123.3 159.5,126.6 165,129.9 165,129.9 165.1,135.8 165.2,141.6 165.3,147.2 165.3,147.2 160,143.8 154.7,140.4 149.6,137.1 149.6,137.1 149.3,131.5 149.1,125.9 148.9,120.1" fill="#a83a3d" stroke="#a83a3d"/>
<polygon points="165,129.9 170.6,133.3 176.2,136.8 182,140.4 182,140.4 182,146.3 181.9,152.1 181.9,157.8 181.9,157.8 176.2,154.2 170.7,150.7 165.3,147.2 165.3,147.2 165.2,141.6 165.1,135.8 165,129.9" fill="#d8d7c4" stroke="#d8d7c4"/>
<polygon points="182,140.4 187.9,144 193.9,147.7 200.1,151.4 200.1,151.4 199.8,157.4 199.6,163.3 199.4,169.1 199.4,169.1 193.5,165.3 187.6,161.5 181.9,157.8 181.9,157.8 181.9,152.1 182,146.3 182,140.4" fill="#3a7d68" stroke="#3a7d68"/>
<polygon points="200.1,151.4 206.3,155.2 212.7,159.2 219.2,163.1 219.2,163.1 218.8,169.2 218.4,175.2 218,181 218,181 211.7,177 205.5,173 199.4,169.1 199.4,169.1 199.6,163.3 199.8,157.4 200.1,151.4" fill="#3a7d68" stroke="#3a7d68"/>
</g>
<path d="M112.5,5.2 L114.3,26.8 L115.9,47.3 L117.5,66.7 L119.0,85.1 L120.4,102.7 L121.8,119.3 M111.2,6.6 L127.5,13.8 L144.8,21.5 L163.2,29.8 L182.9,38.5 L203.9,47.8 L226.3,57.9 M114.0,5.8 L115.7,27.5 L117.4,48.0 L118.9,67.5 L120.4,85.9 L121.8,103.5 L123.1,120.2 M111.3,8.6 L127.6,15.9 L144.9,23.7 L163.3,31.9 L182.8,40.7 L203.8,50.1 L226.2,60.2 M115.5,6.5 L117.2,28.2 L118.8,48.8 L120.3,68.2 L121.7,86.7 L123.1,104.3 L124.4,121.0 M111.5,10.7 L127.7,18.0 L145.0,25.8 L163.3,34.1 L182.8,43.0 L203.7,52.4 L226.0,62.5 M117.0,7.2 L118.7,28.9 L120.2,49.5 L121.7,69.0 L123.1,87.5 L124.5,105.1 L125.7,121.9 M111.7,12.7 L127.9,20.1 L145.1,28.0 L163.3,36.3 L182.8,45.2 L203.6,54.7 L225.9,64.8 M118.5,7.8 L120.2,29.6 L121.7,50.3 L123.1,69.8 L124.5,88.3 L125.8,105.9 L127.0,122.7 M111.9,14.8 L128.0,22.2 L145.1,30.1 L163.4,38.5 L182.8,47.4 L203.5,56.9 L225.7,67.1 M120.1,8.5 L121.6,30.4 L123.1,51.0 L124.6,70.6 L125.9,89.1 L127.2,106.8 L128.4,123.5 M112.0,16.8 L128.1,24.3 L145.2,32.2 L163.4,40.6 L182.8,49.6 L203.4,59.2 L225.6,69.4 M121.6,9.2 L123.2,31.1 L124.6,51.8 L126.0,71.4 L127.3,90.0 L128.5,107.6 L129.7,124.4 M112.2,18.8 L128.3,26.3 L145.3,34.3 L163.4,42.7 L182.8,51.8 L203.4,61.4 L225.4,71.7 M123.2,9.9 L124.7,31.8 L126.1,52.5 L127.4,72.2 L128.7,90.8 L129.9,108.5 L131.1,125.3 M112.4,20.8 L128.4,28.4 L145.4,36.4 L163.5,44.9 L182.7,53.9 L203.3,63.6 L225.3,73.9 M124.7,10.6 L126.2,32.5 L127.6,53.3 L128.9,73.0 L130.1,91.6 L131.3,109.3 L132.4,126.1 M112.5,22.8 L128.5,30.4 L145.5,38.4 L163.5,47.0 L182.7,56.1 L203.2,65.8 L225.1,76.2 M126.3,11.3 L127.7,33.3 L129.1,54.1 L130.3,73.8 L131.5,92.4 L132.7,110.1 L133.8,127.0 M112.7,24.8 L128.6,32.4 L145.6,40.5 L163.6,49.1 L182.7,58.2 L203.1,68.0 L224.9,78.4 M127.9,11.9 L129.2,34.0 L130.5,54.8 L131.8,74.6 L133.0,93.3 L134.1,111.0 L135.1,127.9 M112.9,26.8 L128.8,34.4 L145.7,42.5 L163.6,51.2 L182.7,60.4 L203.0,70.1 L224.8,80.6 M129.5,12.6 L130.8,34.7 L132.1,55.6 L133.3,75.4 L134.4,94.1 L135.5,111.9 L136.5,128.7 M113.0,28.7 L128.9,36.4 L145.7,44.6 L163.6,53.2 L182.7,62.5 L203.0,72.3 L224.7,82.8 M131.0,13.4 L132.3,35.5 L133.6,56.4 L134.7,76.2 L135.8,94.9 L136.9,112.7 L137.9,129.6 M113.2,30.7 L129.0,38.4 L145.8,46.6 L163.7,55.3 L182.6,64.6 L202.9,74.4 L224.5,85.0 M132.7,14.1 L133.9,36.2 L135.1,57.2 L136.2,77.0 L137.3,95.8 L138.3,113.6 L139.2,130.5 M113.3,32.6 L129.2,40.4 L145.9,48.6 L163.7,57.4 L182.6,66.7 L202.8,76.6 L224.4,87.2 M134.3,14.8 L135.5,37.0 L136.6,58.0 L137.7,77.8 L138.7,96.6 L139.7,114.5 L140.6,131.4 M113.5,34.5 L129.3,42.4 L146.0,50.6 L163.7,59.4 L182.6,68.7 L202.7,78.7 L224.2,89.3 M135.9,15.5 L137.1,37.7 L138.2,58.8 L139.2,78.6 L140.2,97.5 L141.1,115.3 L142.0,132.3 M113.7,36.5 L129.4,44.3 L146.1,52.6 L163.8,61.4 L182.6,70.8 L202.7,80.8 L224.1,91.5 M137.5,16.2 L138.6,38.5 L139.7,59.6 L140.7,79.5 L141.7,98.3 L142.6,116.2 L143.4,133.2 M113.8,38.4 L129.5,46.3 L146.2,54.6 L163.8,63.5 L182.6,72.9 L202.6,82.9 L223.9,93.6 M139.2,16.9 L140.2,39.3 L141.3,60.4 L142.2,80.3 L143.1,99.2 L144.0,117.1 L144.8,134.1 M114.0,40.3 L129.6,48.2 L146.2,56.6 L163.8,65.5 L182.6,74.9 L202.5,85.0 L223.8,95.7 M140.8,17.7 L141.8,40.0 L142.8,61.2 L143.7,81.1 L144.6,100.0 L145.5,118.0 L146.2,135.0 M114.1,42.2 L129.8,50.1 L146.3,58.5 L163.9,67.5 L182.5,76.9 L202.4,87.0 L223.6,97.8 M142.5,18.4 L143.5,40.8 L144.4,62.0 L145.3,82.0 L146.1,100.9 L146.9,118.9 L147.7,135.9 M114.3,44.1 L129.9,52.0 L146.4,60.5 L163.9,69.4 L182.5,79.0 L202.3,89.1 L223.5,99.9 M144.1,19.1 L145.1,41.6 L146.0,62.8 L146.8,82.8 L147.6,101.8 L148.4,119.8 L149.1,136.8 M114.5,45.9 L130.0,53.9 L146.5,62.4 L164.0,71.4 L182.5,81.0 L202.3,91.2 L223.4,102.0 M145.8,19.9 L146.7,42.4 L147.6,63.6 L148.4,83.7 L149.1,102.7 L149.8,120.7 L150.5,137.7 M114.6,47.8 L130.1,55.8 L146.6,64.4 L164.0,73.4 L182.5,83.0 L202.2,93.2 L223.2,104.1 M147.5,20.6 L148.4,43.2 L149.2,64.4 L149.9,84.5 L150.6,103.6 L151.3,121.6 L152.0,138.7 M114.8,49.7 L130.2,57.7 L146.6,66.3 L164.0,75.3 L182.5,85.0 L202.1,95.2 L223.1,106.1 M149.2,21.4 L150.0,44.0 L150.8,65.3 L151.5,85.4 L152.2,104.4 L152.8,122.5 L153.4,139.6 M114.9,51.5 L130.4,59.6 L146.7,68.2 L164.1,77.3 L182.5,86.9 L202.1,97.2 L222.9,108.2 M150.9,22.1 L151.7,44.8 L152.4,66.1 L153.1,86.3 L153.7,105.3 L154.3,123.4 L154.9,140.5 M115.1,53.3 L130.5,61.5 L146.8,70.1 L164.1,79.2 L182.4,88.9 L202.0,99.2 L222.8,110.2 M152.6,22.9 L153.4,45.6 L154.0,66.9 L154.6,87.1 L155.2,106.2 L155.8,124.3 L156.3,141.5 M115.2,55.2 L130.6,63.3 L146.9,72.0 L164.1,81.1 L182.4,90.9 L201.9,101.2 L222.7,112.2 M154.4,23.7 L155.0,46.4 L155.7,67.8 L156.2,88.0 L156.8,107.1 L157.3,125.2 L157.8,142.4 M115.4,57.0 L130.7,65.2 L147.0,73.9 L164.2,83.0 L182.4,92.8 L201.8,103.2 L222.5,114.2 M156.1,24.4 L156.7,47.2 L157.3,68.6 L157.8,88.9 L158.3,108.0 L158.8,126.2 L159.3,143.4 M115.5,58.8 L130.8,67.0 L147.0,75.7 L164.2,85.0 L182.4,94.7 L201.8,105.1 L222.4,116.2 M157.9,25.2 L158.4,48.0 L158.9,69.5 L159.4,89.8 L159.9,108.9 L160.4,127.1 L160.8,144.3 M115.7,60.6 L131.0,68.9 L147.1,77.6 L164.2,86.8 L182.4,96.7 L201.7,107.1 L222.3,118.2 M159.6,26.0 L160.1,48.8 L160.6,70.3 L161.1,90.7 L161.5,109.9 L161.9,128.0 L162.3,145.3 M115.8,62.4 L131.1,70.7 L147.2,79.4 L164.3,88.7 L182.4,98.6 L201.6,109.0 L222.1,120.2 M161.4,26.8 L161.9,49.6 L162.3,71.2 L162.7,91.6 L163.1,110.8 L163.4,129.0 L163.8,146.2 M116.0,64.2 L131.2,72.5 L147.3,81.3 L164.3,90.6 L182.4,100.5 L201.5,111.0 L222.0,122.1 M163.2,27.5 L163.6,50.5 L164.0,72.1 L164.3,92.5 L164.7,111.7 L165.0,129.9 L165.3,147.2 M116.1,65.9 L131.3,74.3 L147.3,83.1 L164.3,92.5 L182.3,102.4 L201.5,112.9 L221.9,124.1 M165.0,28.3 L165.3,51.3 L165.7,73.0 L166.0,93.4 L166.3,112.6 L166.5,130.9 L166.8,148.2 M116.3,67.7 L131.4,76.1 L147.4,84.9 L164.4,94.3 L182.3,104.2 L201.4,114.8 L221.7,126.0 M166.8,29.1 L167.1,52.2 L167.4,73.8 L167.6,94.3 L167.9,113.6 L168.1,131.8 L168.3,149.2 M116.4,69.5 L131.5,77.9 L147.5,86.8 L164.4,96.1 L182.3,106.1 L201.3,116.7 L221.6,128.0 M168.6,29.9 L168.8,53.0 L169.1,74.7 L169.3,95.2 L169.5,114.5 L169.7,132.8 L169.9,150.1 M116.6,71.2 L131.6,79.6 L147.6,88.6 L164.4,98.0 L182.3,108.0 L201.3,118.6 L221.5,129.9 M170.4,30.7 L170.6,53.8 L170.8,75.6 L171.0,96.1 L171.1,115.5 L171.3,133.8 L171.4,151.1 M116.7,73.0 L131.7,81.4 L147.6,90.3 L164.5,99.8 L182.3,109.8 L201.2,120.5 L221.3,131.8 M172.3,31.5 L172.4,54.7 L172.5,76.5 L172.6,97.0 L172.7,116.4 L172.8,134.8 L172.9,152.1 M116.8,74.7 L131.9,83.2 L147.7,92.1 L164.5,101.6 L182.3,111.7 L201.1,122.3 L221.2,133.7 M174.1,32.4 L174.2,55.6 L174.3,77.4 L174.3,98.0 L174.4,117.4 L174.4,135.7 L174.5,153.1 M117.0,76.4 L132.0,84.9 L147.8,93.9 L164.5,103.4 L182.2,113.5 L201.1,124.2 L221.1,135.6 M176.0,33.2 L176.0,56.4 L176.0,78.3 L176.0,98.9 L176.0,118.3 L176.1,136.7 L176.1,154.1 M117.1,78.1 L132.1,86.7 L147.9,95.7 L164.5,105.2 L182.2,115.3 L201.0,126.0 L221.0,137.4 M177.8,34.0 L177.8,57.3 L177.8,79.2 L177.7,99.8 L177.7,119.3 L177.7,137.7 L177.6,155.1 M117.3,79.8 L132.2,88.4 L147.9,97.4 L164.6,107.0 L182.2,117.1 L200.9,127.9 L220.8,139.3 M179.7,34.8 L179.6,58.2 L179.5,80.1 L179.4,100.8 L179.4,120.3 L179.3,138.7 L179.2,156.1 M117.4,81.5 L132.3,90.1 L148.0,99.2 L164.6,108.8 L182.2,118.9 L200.9,129.7 L220.7,141.1 M181.6,35.7 L181.5,59.1 L181.3,81.0 L181.2,101.7 L181.0,121.2 L180.9,139.7 L180.8,157.2 M117.6,83.2 L132.4,91.8 L148.1,100.9 L164.6,110.5 L182.2,120.7 L200.8,131.5 L220.6,143.0 M183.5,36.5 L183.3,59.9 L183.1,82.0 L182.9,102.7 L182.7,122.2 L182.6,140.7 L182.4,158.2 M117.7,84.9 L132.5,93.5 L148.1,102.7 L164.7,112.3 L182.2,122.5 L200.7,133.3 L220.5,144.8 M185.4,37.4 L185.2,60.8 L184.9,82.9 L184.7,103.6 L184.4,123.2 L184.2,141.7 L184.0,159.2 M117.8,86.6 L132.6,95.2 L148.2,104.4 L164.7,114.0 L182.2,124.3 L200.7,135.1 L220.3,146.6 M187.4,38.2 L187.0,61.7 L186.7,83.8 L186.4,104.6 L186.1,124.2 L185.9,142.7 L185.6,160.3 M118.0,88.3 L132.7,96.9 L148.3,106.1 L164.7,115.8 L182.1,126.0 L200.6,136.9 L220.2,148.4 M189.3,39.1 L188.9,62.6 L188.5,84.8 L188.2,105.6 L187.9,125.2 L187.5,143.8 L187.3,161.3 M118.1,89.9 L132.8,98.6 L148.4,107.8 L164.8,117.5 L182.1,127.8 L200.5,138.7 L220.1,150.2 M191.3,39.9 L190.8,63.5 L190.4,85.7 L190.0,106.6 L189.6,126.2 L189.2,144.8 L188.9,162.3 M118.3,91.6 L132.9,100.3 L148.4,109.5 L164.8,119.2 L182.1,129.5 L200.5,140.4 L220.0,152.0 M193.2,40.8 L192.7,64.5 L192.2,86.7 L191.8,107.5 L191.3,127.2 L190.9,145.8 L190.5,163.4 M118.4,93.2 L133.0,102.0 L148.5,111.2 L164.8,120.9 L182.1,131.3 L200.4,142.2 L219.8,153.8 M195.2,41.7 L194.6,65.4 L194.1,87.6 L193.6,108.5 L193.1,128.2 L192.6,146.9 L192.2,164.4 M118.5,94.8 L133.1,103.6 L148.6,112.9 L164.9,122.7 L182.1,133.0 L200.3,144.0 L219.7,155.6 M197.2,42.6 L196.6,66.3 L195.9,88.6 L195.4,109.5 L194.8,129.3 L194.3,147.9 L193.8,165.5 M118.7,96.5 L133.3,105.3 L148.6,114.5 L164.9,124.3 L182.1,134.7 L200.3,145.7 L219.6,157.3 M199.2,43.5 L198.5,67.2 L197.8,89.5 L197.2,110.5 L196.6,130.3 L196.0,148.9 L195.5,166.6 M118.8,98.1 L133.4,106.9 L148.7,116.2 L164.9,126.0 L182.1,136.4 L200.2,147.4 L219.5,159.1 M201.2,44.3 L200.4,68.2 L199.7,90.5 L199.0,111.5 L198.4,131.3 L197.8,150.0 L197.2,167.6 M118.9,99.7 L133.5,108.5 L148.8,117.9 L164.9,127.7 L182.0,138.1 L200.2,149.1 L219.4,160.8 M203.3,45.2 L202.4,69.1 L201.6,91.5 L200.9,112.5 L200.2,132.4 L199.5,151.1 L198.9,168.7 M119.1,101.3 L133.6,110.2 L148.8,119.5 L165.0,129.4 L182.0,139.8 L200.1,150.9 L219.2,162.6 M205.3,46.1 L204.4,70.1 L203.5,92.5 L202.7,113.6 L202.0,133.4 L201.2,152.1 L200.6,169.8 M119.2,102.9 L133.7,111.8 L148.9,121.2 L165.0,131.0 L182.0,141.5 L200.0,152.6 L219.1,164.3 M207.4,47.1 L206.4,71.0 L205.4,93.5 L204.6,114.6 L203.8,134.5 L203.0,153.2 L202.3,170.9 M119.3,104.5 L133.8,113.4 L149.0,122.8 L165.0,132.7 L182.0,143.2 L200.0,154.2 L219.0,166.0 M209.4,48.0 L208.4,72.0 L207.4,94.5 L206.5,115.6 L205.6,135.5 L204.7,154.3 L204.0,172.0 M119.5,106.1 L133.9,115.0 L149.0,124.4 L165.1,134.3 L182.0,144.8 L199.9,155.9 L218.9,167.7 M211.5,48.9 L210.4,72.9 L209.3,95.5 L208.3,116.7 L207.4,136.6 L206.5,155.4 L205.7,173.1 M119.6,107.7 L134.0,116.6 L149.1,126.0 L165.1,136.0 L182.0,146.5 L199.8,157.6 L218.8,169.4 M213.6,49.8 L212.4,73.9 L211.3,96.5 L210.2,117.7 L209.2,137.7 L208.3,156.5 L207.4,174.2 M119.7,109.2 L134.1,118.2 L149.2,127.6 L165.1,137.6 L182.0,148.1 L199.8,159.3 L218.7,171.1 M215.7,50.7 L214.5,74.9 L213.3,97.5 L212.1,118.8 L211.1,138.7 L210.1,157.6 L209.2,175.3 M119.9,110.8 L134.2,119.8 L149.2,129.2 L165.1,139.2 L181.9,149.8 L199.7,160.9 L218.6,172.8 M217.9,51.7 L216.5,75.9 L215.2,98.5 L214.1,119.8 L212.9,139.8 L211.9,158.7 L210.9,176.5 M120.0,112.4 L134.3,121.4 L149.3,130.8 L165.2,140.8 L181.9,151.4 L199.7,162.6 L218.4,174.4 M220.0,52.6 L218.6,76.9 L217.2,99.6 L216.0,120.9 L214.8,140.9 L213.7,159.8 L212.7,177.6 M120.1,113.9 L134.4,122.9 L149.4,132.4 L165.2,142.4 L181.9,153.0 L199.6,164.2 L218.3,176.1 M222.1,53.6 L220.7,77.9 L219.2,100.6 L217.9,121.9 L216.7,142.0 L215.5,160.9 L214.4,178.7 M120.2,115.4 L134.5,124.5 L149.4,134.0 L165.2,144.0 L181.9,154.6 L199.5,165.9 L218.2,177.7 M224.3,54.5 L222.7,78.9 L221.3,101.6 L219.9,123.0 L218.6,143.1 L217.4,162.0 L216.2,179.9 M120.4,117.0 L134.6,126.0 L149.5,135.6 L165.3,145.6 L181.9,156.2 L199.5,167.5 L218.1,179.4" fill="none" stroke="#222" stroke-width="0.45" stroke-opacity="0.8"/>
<polygon points="392,53.5 394,55 383,180 381,179" fill="#3b4a40"/>
<g stroke-width="0.9">
<polygon points="277.5,3 282.7,5.3 288.1,7.7 293.5,10.1 293.5,10.1 293.9,17.6 294.3,25 294.7,32.2 294.7,32.2 289.4,29.7 284.2,27.2 279.1,24.7 279.1,24.7 278.6,17.6 278.1,10.4 277.5,3" fill="#3a7d68" stroke="#3a7d68"/>
<polygon points="293.5,10.1 299.1,12.5 304.8,15 310.6,17.6 310.6,17.6 310.8,25.3 311.1,32.9 311.3,40.3 311.3,40.3 305.6,37.5 300.1,34.9 294.7,32.2 294.7,32.2 294.3,25 293.9,17.6 293.5,10.1" fill="#a83a3d" stroke="#a83a3d"/>
<polygon points="310.6,17.6 316.5,20.2 322.6,22.9 328.8,25.6 328.8,25.6 328.9,33.5 328.9,41.3 329,48.8 329,48.8 322.9,45.9 317,43 311.3,40.3 311.3,40.3 311.1,32.9 310.8,25.3 310.6,17.6" fill="#3a7d68" stroke="#3a7d68"/>
<polygon points="328.8,25.6 335.2,28.5 341.7,31.3 348.4,34.3 348.4,34.3 348.2,42.3 348,50.2 347.9,57.9 347.9,57.9 341.4,54.8 335.1,51.8 329,48.8 329,48.8 328.9,41.3 328.9,33.5 328.8,25.6" fill="#3a7d68" stroke="#3a7d68"/>
<polygon points="348.4,34.3 355.2,37.3 362.2,40.4 369.4,43.5 369.4,43.5 368.9,51.8 368.5,59.8 368.1,67.7 368.1,67.7 361.2,64.4 354.4,61.1 347.9,57.9 347.9,57.9 348,50.2 348.2,42.3 348.4,34.3" fill="#3a7d68" stroke="#3a7d68"/>
<polygon points="369.4,43.5 376.7,46.8 384.3,50.1 392,53.5 392,53.5 391.3,61.9 390.5,70.2 389.8,78.2 389.8,78.2 382.4,74.6 375.2,71.1 368.1,67.7 368.1,67.7 368.5,59.8 368.9,51.8 369.4,43.5" fill="#3a7d68" stroke="#3a7d68"/>
<polygon points="279.1,24.7 284.2,27.2 289.4,29.7 294.7,32.2 294.7,32.2 295.1,39.3 295.5,46.3 295.8,53.1 295.8,53.1 290.7,50.4 285.6,47.8 280.7,45.2 280.7,45.2 280.2,38.5 279.6,31.7 279.1,24.7" fill="#a83a3d" stroke="#a83a3d"/>
<polygon points="294.7,32.2 300.1,34.9 305.6,37.5 311.3,40.3 311.3,40.3 311.5,47.5 311.7,54.6 311.9,61.5 311.9,61.5 306.4,58.7 301.1,55.9 295.8,53.1 295.8,53.1 295.5,46.3 295.1,39.3 294.7,32.2" fill="#a83a3d" stroke="#a83a3d"/>
<polygon points="311.3,40.3 317,43 322.9,45.9 329,48.8 329,48.8 329,56.2 329,63.4 329.1,70.5 329.1,70.5 323.2,67.4 317.5,64.5 311.9,61.5 311.9,61.5 311.7,54.6 311.5,47.5 311.3,40.3" fill="#a83a3d" stroke="#a83a3d"/>
<polygon points="329,48.8 335.1,51.8 341.4,54.8 347.9,57.9 347.9,57.9 347.7,65.5 347.5,72.8 347.3,80 347.3,80 341.1,76.8 335,73.6 329.1,70.5 329.1,70.5 329,63.4 329,56.2 329,48.8" fill="#a83a3d" stroke="#a83a3d"/>
<polygon points="347.9,57.9 354.4,61.1 361.2,64.4 368.1,67.7 368.1,67.7 367.7,75.4 367.3,82.9 366.9,90.3 366.9,90.3 360.2,86.8 353.7,83.4 347.3,80 347.3,80 347.5,72.8 347.7,65.5 347.9,57.9" fill="#d8d7c4" stroke="#d8d7c4"/>
<polygon points="368.1,67.7 375.2,71.1 382.4,74.6 389.8,78.2 389.8,78.2 389.1,86.1 388.5,93.7 387.8,101.2 387.8,101.2 380.7,97.5 373.7,93.8 366.9,90.3 366.9,90.3 367.3,82.9 367.7,75.4 368.1,67.7" fill="#d8d7c4" stroke="#d8d7c4"/>
<polygon points="280.7,45.2 285.6,47.8 290.7,50.4 295.8,53.1 295.8,53.1 296.2,59.8 296.5,66.4 296.9,72.8 296.9,72.8 291.9,70 286.9,67.2 282.1,64.5 282.1,64.5 281.6,58.2 281.2,51.8 280.7,45.2" fill="#3a7d68" stroke="#3a7d68"/>
<polygon points="295.8,53.1 301.1,55.9 306.4,58.7 311.9,61.5 311.9,61.5 312.1,68.3 312.3,75 312.5,81.5 312.5,81.5 307.2,78.6 302,75.6 296.9,72.8 296.9,72.8 296.5,66.4 296.2,59.8 295.8,53.1" fill="#d8d7c4" stroke="#d8d7c4"/>
<polygon points="311.9,61.5 317.5,64.5 323.2,67.4 329.1,70.5 329.1,70.5 329.1,77.4 329.1,84.2 329.2,90.8 329.2,90.8 323.5,87.7 318,84.6 312.5,81.5 312.5,81.5 312.3,75 312.1,68.3 311.9,61.5" fill="#d8d7c4" stroke="#d8d7c4"/>
<polygon points="329.1,70.5 335,73.6 341.1,76.8 347.3,80 347.3,80 347.2,87.1 347,94 346.9,100.8 346.9,100.8 340.8,97.4 334.9,94.1 329.2,90.8 329.2,90.8 329.1,84.2 329.1,77.4 329.1,70.5" fill="#d8d7c4" stroke="#d8d7c4"/>
<polygon points="347.3,80 353.7,83.4 360.2,86.8 366.9,90.3 366.9,90.3 366.5,97.4 366.1,104.5 365.8,111.3 365.8,111.3 359.3,107.7 353,104.2 346.9,100.8 346.9,100.8 347,94 347.2,87.1 347.3,80" fill="#3a7d68" stroke="#3a7d68"/>
<polygon points="366.9,90.3 373.7,93.8 380.7,97.5 387.8,101.2 387.8,101.2 387.2,108.5 386.6,115.6 385.9,122.6 385.9,122.6 379.1,118.8 372.3,115 365.8,111.3 365.8,111.3 366.1,104.5 366.5,97.4 366.9,90.3" fill="#a83a3d" stroke="#a83a3d"/>
<polygon points="282.1,64.5 286.9,67.2 291.9,70 296.9,72.8 296.9,72.8 297.2,79.1 297.5,85.3 297.9,91.3 297.9,91.3 293,88.4 288.2,85.6 283.5,82.8 283.5,82.8 283,76.8 282.6,70.7 282.1,64.5" fill="#3a7d68" stroke="#3a7d68"/>
<polygon points="296.9,72.8 302,75.6 307.2,78.6 312.5,81.5 312.5,81.5 312.7,87.9 312.9,94.2 313.1,100.4 313.1,100.4 307.9,97.3 302.8,94.3 297.9,91.3 297.9,91.3 297.5,85.3 297.2,79.1 296.9,72.8" fill="#a83a3d" stroke="#a83a3d"/>
<polygon points="312.5,81.5 318,84.6 323.5,87.7 329.2,90.8 329.2,90.8 329.2,97.4 329.2,103.7 329.3,110 329.3,110 323.8,106.7 318.4,103.5 313.1,100.4 313.1,100.4 312.9,94.2 312.7,87.9 312.5,81.5" fill="#d8d7c4" stroke="#d8d7c4"/>
<polygon points="329.2,90.8 334.9,94.1 340.8,97.4 346.9,100.8 346.9,100.8 346.7,107.4 346.6,113.9 346.4,120.2 346.4,120.2 340.6,116.7 334.9,113.3 329.3,110 329.3,110 329.2,103.7 329.2,97.4 329.2,90.8" fill="#3a7d68" stroke="#3a7d68"/>
<polygon points="346.9,100.8 353,104.2 359.3,107.7 365.8,111.3 365.8,111.3 365.4,118 365,124.6 364.7,131.1 364.7,131.1 358.5,127.4 352.4,123.7 346.4,120.2 346.4,120.2 346.6,113.9 346.7,107.4 346.9,100.8" fill="#a83a3d" stroke="#a83a3d"/>
<polygon points="365.8,111.3 372.3,115 379.1,118.8 385.9,122.6 385.9,122.6 385.3,129.4 384.8,136.1 384.2,142.6 384.2,142.6 377.5,138.7 371.1,134.8 364.7,131.1 364.7,131.1 365,124.6 365.4,118 365.8,111.3" fill="#d8d7c4" stroke="#d8d7c4"/>
<polygon points="283.5,82.8 288.2,85.6 293,88.4 297.9,91.3 297.9,91.3 298.2,97.3 298.5,103.1 298.8,108.9 298.8,108.9 294,105.9 289.4,103 284.8,100.1 284.8,100.1 284.3,94.4 283.9,88.7 283.5,82.8" fill="#a83a3d" stroke="#a83a3d"/>
<polygon points="297.9,91.3 302.8,94.3 307.9,97.3 313.1,100.4 313.1,100.4 313.3,106.4 313.5,112.4 313.6,118.2 313.6,118.2 308.6,115 303.7,111.9 298.8,108.9 298.8,108.9 298.5,103.1 298.2,97.3 297.9,91.3" fill="#3a7d68" stroke="#3a7d68"/>
<polygon points="313.1,100.4 318.4,103.5 323.8,106.7 329.3,110 329.3,110 329.3,116.1 329.3,122.1 329.3,128 329.3,128 324,124.7 318.8,121.4 313.6,118.2 313.6,118.2 313.5,112.4 313.3,106.4 313.1,100.4" fill="#a83a3d" stroke="#a83a3d"/>
<polygon points="329.3,110 334.9,113.3 340.6,116.7 346.4,120.2 346.4,120.2 346.3,126.4 346.1,132.5 346,138.5 346,138.5 340.3,134.9 334.8,131.5 329.3,128 329.3,128 329.3,122.1 329.3,116.1 329.3,110" fill="#a83a3d" stroke="#a83a3d"/>
<polygon points="346.4,120.2 352.4,123.7 358.5,127.4 364.7,131.1 364.7,131.1 364.4,137.4 364,143.5 363.7,149.6 363.7,149.6 357.7,145.8 351.8,142.1 346,138.5 346,138.5 346.1,132.5 346.3,126.4 346.4,120.2" fill="#d8d7c4" stroke="#d8d7c4"/>
<polygon points="364.7,131.1 371.1,134.8 377.5,138.7 384.2,142.6 384.2,142.6 383.6,149 383.1,155.3 382.5,161.4 382.5,161.4 376.1,157.4 369.8,153.4 363.7,149.6 363.7,149.6 364,143.5 364.4,137.4 364.7,131.1" fill="#3a7d68" stroke="#3a7d68"/>
<polygon points="284.8,100.1 289.4,103 294,105.9 298.8,108.9 298.8,108.9 299.1,114.5 299.4,120.1 299.7,125.5 299.7,125.5 295,122.5 290.5,119.4 286,116.5 286,116.5 285.6,111.1 285.2,105.7 284.8,100.1" fill="#d8d7c4" stroke="#d8d7c4"/>
<polygon points="298.8,108.9 303.7,111.9 308.6,115 313.6,118.2 313.6,118.2 313.8,123.9 314,129.5 314.1,135 314.1,135 309.2,131.8 304.4,128.6 299.7,125.5 299.7,125.5 299.4,120.1 299.1,114.5 298.8,108.9" fill="#3a7d68" stroke="#3a7d68"/>
<polygon points="313.6,118.2 318.8,121.4 324,124.7 329.3,128 329.3,128 329.4,133.8 329.4,139.5 329.4,145.1 329.4,145.1 324.2,141.7 319.1,138.3 314.1,135 314.1,135 314,129.5 313.8,123.9 313.6,118.2" fill="#d8d7c4" stroke="#d8d7c4"/>
<polygon points="329.3,128 334.8,131.5 340.3,134.9 346,138.5 346,138.5 345.9,144.3 345.7,150.1 345.6,155.7 345.6,155.7 340.1,152.1 334.7,148.5 329.4,145.1 329.4,145.1 329.4,139.5 329.4,133.8 329.3,128" fill="#d8d7c4" stroke="#d8d7c4"/>
<polygon points="346,138.5 351.8,142.1 357.7,145.8 363.7,149.6 363.7,149.6 363.4,155.5 363.1,161.3 362.8,167 362.8,167 356.9,163.2 351.2,159.4 345.6,155.7 345.6,155.7 345.7,150.1 345.9,144.3 346,138.5" fill="#a83a3d" stroke="#a83a3d"/>
<polygon points="363.7,149.6 369.8,153.4 376.1,157.4 382.5,161.4 382.5,161.4 382,167.4 381.5,173.3 381,179 381,179 374.8,174.9 368.7,170.9 362.8,167 362.8,167 363.1,161.3 363.4,155.5 363.7,149.6" fill="#3a7d68" stroke="#3a7d68"/>
</g>
<path d="M279.0,3.6 L280.5,25.4 L282.0,45.9 L283.5,65.3 L284.8,83.6 L286.1,100.9 L287.3,117.3 M277.7,5.1 L293.6,12.2 L310.7,19.8 L328.9,27.9 L348.3,36.6 L369.3,45.9 L391.8,55.9 M280.4,4.3 L282.0,26.1 L283.4,46.6 L284.8,66.0 L286.1,84.4 L287.3,101.7 L288.5,118.2 M277.8,7.2 L293.7,14.3 L310.7,22.0 L328.9,30.1 L348.3,38.8 L369.1,48.2 L391.6,58.3 M281.9,4.9 L283.4,26.8 L284.8,47.4 L286.2,66.8 L287.4,85.1 L288.6,102.5 L289.8,119.0 M278.0,9.2 L293.9,16.4 L310.8,24.1 L328.9,32.3 L348.2,41.1 L369.0,50.5 L391.4,60.6 M283.4,5.6 L284.9,27.5 L286.2,48.1 L287.5,67.6 L288.8,85.9 L289.9,103.3 L291.0,119.8 M278.1,11.3 L294.0,18.5 L310.9,26.3 L328.9,34.5 L348.2,43.3 L368.9,52.8 L391.2,63.0 M284.9,6.3 L286.3,28.2 L287.7,48.9 L288.9,68.3 L290.1,86.7 L291.3,104.2 L292.3,120.7 M278.3,13.3 L294.1,20.6 L310.9,28.4 L328.9,36.7 L348.1,45.6 L368.8,55.1 L391.0,65.3 M286.4,6.9 L287.8,28.9 L289.1,49.6 L290.3,69.1 L291.5,87.5 L292.6,105.0 L293.6,121.5 M278.4,15.4 L294.2,22.7 L311.0,30.5 L328.9,38.9 L348.1,47.8 L368.7,57.3 L390.8,67.6 M287.9,7.6 L289.2,29.6 L290.5,50.3 L291.7,69.9 L292.8,88.3 L293.9,105.8 L294.9,122.4 M278.6,17.4 L294.3,24.8 L311.0,32.6 L328.9,41.0 L348.0,50.0 L368.5,59.6 L390.6,69.9 M289.4,8.3 L290.7,30.3 L291.9,51.1 L293.1,70.7 L294.2,89.2 L295.2,106.6 L296.2,123.2 M278.7,19.4 L294.4,26.8 L311.1,34.7 L328.9,43.2 L348.0,52.2 L368.4,61.8 L390.4,72.2 M290.9,8.9 L292.2,31.0 L293.4,51.8 L294.5,71.5 L295.6,90.0 L296.6,107.5 L297.5,124.1 M278.9,21.4 L294.5,28.9 L311.2,36.8 L328.9,45.3 L347.9,54.3 L368.3,64.0 L390.2,74.5 M292.5,9.6 L293.7,31.8 L294.8,52.6 L295.9,72.3 L296.9,90.8 L297.9,108.3 L298.8,124.9 M279.0,23.4 L294.6,30.9 L311.2,38.9 L328.9,47.4 L347.9,56.5 L368.2,66.2 L390.0,76.7 M294.0,10.3 L295.2,32.5 L296.3,53.4 L297.3,73.0 L298.3,91.6 L299.3,109.2 L300.1,125.8 M279.2,25.4 L294.7,32.9 L311.3,40.9 L329.0,49.5 L347.8,58.6 L368.1,68.4 L389.8,79.0 M295.6,11.0 L296.7,33.2 L297.8,54.1 L298.8,73.8 L299.7,92.4 L300.6,110.0 L301.5,126.7 M279.3,27.4 L294.8,34.9 L311.4,43.0 L329.0,51.6 L347.8,60.8 L367.9,70.6 L389.6,81.2 M297.2,11.7 L298.2,34.0 L299.3,54.9 L300.2,74.7 L301.1,93.3 L302.0,110.9 L302.8,127.5 M279.5,29.3 L295.0,36.9 L311.4,45.0 L329.0,53.7 L347.7,62.9 L367.8,72.8 L389.4,83.4 M298.7,12.4 L299.8,34.7 L300.7,55.7 L301.7,75.5 L302.5,94.1 L303.3,111.7 L304.1,128.4 M279.6,31.3 L295.1,38.9 L311.5,47.0 L329.0,55.7 L347.7,65.0 L367.7,74.9 L389.2,85.6 M300.3,13.1 L301.3,35.4 L302.2,56.5 L303.1,76.3 L303.9,95.0 L304.7,112.6 L305.5,129.3 M279.8,33.2 L295.2,40.9 L311.5,49.1 L329.0,57.8 L347.6,67.1 L367.6,77.1 L389.0,87.7 M301.9,13.8 L302.9,36.2 L303.7,57.3 L304.6,77.1 L305.4,95.8 L306.1,113.5 L306.8,130.2 M279.9,35.1 L295.3,42.8 L311.6,51.1 L329.0,59.8 L347.6,69.2 L367.5,79.2 L388.8,89.9 M303.5,14.5 L304.4,36.9 L305.3,58.1 L306.1,77.9 L306.8,96.7 L307.5,114.3 L308.2,131.1 M280.0,37.0 L295.4,44.8 L311.7,53.0 L329.0,61.8 L347.5,71.2 L367.4,81.3 L388.6,92.1 M305.1,15.2 L306.0,37.7 L306.8,58.8 L307.5,78.7 L308.2,97.5 L308.9,115.2 L309.5,132.0 M280.2,38.9 L295.5,46.7 L311.7,55.0 L329.0,63.9 L347.5,73.3 L367.3,83.4 L388.4,94.2 M306.8,15.9 L307.6,38.5 L308.3,59.6 L309.0,79.6 L309.7,98.4 L310.3,116.1 L310.9,132.9 M280.3,40.8 L295.6,48.7 L311.8,57.0 L329.0,65.9 L347.5,75.3 L367.1,85.5 L388.2,96.3 M308.4,16.6 L309.1,39.2 L309.9,60.5 L310.5,80.4 L311.1,99.2 L311.7,117.0 L312.3,133.8 M280.5,42.7 L295.7,50.6 L311.8,58.9 L329.0,67.9 L347.4,77.4 L367.0,87.5 L388.1,98.4 M310.0,17.4 L310.7,40.0 L311.4,61.3 L312.0,81.3 L312.6,100.1 L313.2,117.9 L313.7,134.7 M280.6,44.6 L295.8,52.5 L311.9,60.9 L329.1,69.8 L347.4,79.4 L366.9,89.6 L387.9,100.5 M311.7,18.1 L312.3,40.8 L313.0,62.1 L313.5,82.1 L314.1,101.0 L314.6,118.8 L315.1,135.6 M280.8,46.4 L295.9,54.4 L312.0,62.8 L329.1,71.8 L347.3,81.4 L366.8,91.6 L387.7,102.6 M313.4,18.8 L314.0,41.6 L314.5,62.9 L315.1,83.0 L315.6,101.9 L316.0,119.7 L316.5,136.6 M280.9,48.3 L296.0,56.3 L312.0,64.7 L329.1,73.8 L347.3,83.4 L366.7,93.6 L387.5,104.6 M315.0,19.6 L315.6,42.3 L316.1,63.7 L316.6,83.8 L317.0,102.7 L317.5,120.6 L317.9,137.5 M281.0,50.1 L296.1,58.1 L312.1,66.6 L329.1,75.7 L347.2,85.3 L366.6,95.7 L387.3,106.7 M316.7,20.3 L317.2,43.1 L317.7,64.5 L318.1,84.7 L318.5,103.6 L318.9,121.5 L319.3,138.4 M281.2,52.0 L296.2,60.0 L312.1,68.5 L329.1,77.6 L347.2,87.3 L366.5,97.7 L387.2,108.7 M318.4,21.0 L318.9,43.9 L319.3,65.4 L319.7,85.5 L320.0,104.5 L320.4,122.4 L320.7,139.3 M281.3,53.8 L296.3,61.9 L312.2,70.4 L329.1,79.6 L347.1,89.3 L366.4,99.6 L387.0,110.7 M320.1,21.8 L320.5,44.7 L320.9,66.2 L321.2,86.4 L321.6,105.4 L321.9,123.4 L322.2,140.3 M281.4,55.6 L296.4,63.7 L312.2,72.3 L329.1,81.5 L347.1,91.2 L366.3,101.6 L386.8,112.8 M321.9,22.6 L322.2,45.5 L322.5,67.1 L322.8,87.3 L323.1,106.3 L323.3,124.3 L323.6,141.2 M281.6,57.4 L296.5,65.5 L312.3,74.2 L329.1,83.4 L347.0,93.1 L366.2,103.6 L386.6,114.8 M323.6,23.3 L323.9,46.3 L324.1,67.9 L324.4,88.2 L324.6,107.2 L324.8,125.2 L325.0,142.2 M281.7,59.2 L296.6,67.4 L312.4,76.0 L329.1,85.2 L347.0,95.1 L366.1,105.5 L386.5,116.7 M325.3,24.1 L325.6,47.2 L325.8,68.8 L326.0,89.1 L326.2,108.2 L326.3,126.1 L326.5,143.1 M281.8,61.0 L296.7,69.2 L312.4,77.9 L329.1,87.1 L347.0,97.0 L366.0,107.5 L386.3,118.7 M327.1,24.9 L327.2,48.0 L327.4,69.6 L327.6,90.0 L327.7,109.1 L327.8,127.1 L328.0,144.1 M282.0,62.8 L296.8,71.0 L312.5,79.7 L329.2,89.0 L346.9,98.9 L365.9,109.4 L386.1,120.7 M328.8,25.6 L329.0,48.8 L329.1,70.5 L329.2,90.8 L329.3,110.0 L329.3,128.0 L329.4,145.1 M282.1,64.5 L296.9,72.8 L312.5,81.5 L329.2,90.8 L346.9,100.8 L365.8,111.3 L385.9,122.6 M330.6,26.4 L330.7,49.6 L330.7,71.4 L330.8,91.8 L330.8,110.9 L330.9,129.0 L330.9,146.0 M282.2,66.3 L297.0,74.6 L312.6,83.4 L329.2,92.7 L346.8,102.6 L365.7,113.2 L385.8,124.6 M332.4,27.2 L332.4,50.5 L332.4,72.2 L332.4,92.7 L332.4,111.9 L332.4,130.0 L332.4,147.0 M282.4,68.0 L297.1,76.3 L312.6,85.2 L329.2,94.5 L346.8,104.5 L365.6,115.1 L385.6,126.5 M334.2,28.0 L334.1,51.3 L334.1,73.1 L334.0,93.6 L334.0,112.8 L333.9,130.9 L333.9,148.0 M282.5,69.8 L297.2,78.1 L312.7,87.0 L329.2,96.4 L346.7,106.3 L365.4,117.0 L385.4,128.4 M336.0,28.8 L335.9,52.2 L335.8,74.0 L335.7,94.5 L335.6,113.7 L335.5,131.9 L335.4,149.0 M282.6,71.5 L297.2,79.9 L312.7,88.7 L329.2,98.2 L346.7,108.2 L365.3,118.9 L385.3,130.3 M337.8,29.6 L337.7,53.0 L337.5,74.9 L337.3,95.4 L337.2,114.7 L337.0,132.9 L336.9,150.0 M282.8,73.2 L297.3,81.6 L312.8,90.5 L329.2,100.0 L346.7,110.0 L365.2,120.7 L385.1,132.2 M339.7,30.4 L339.4,53.9 L339.2,75.8 L339.0,96.3 L338.8,115.7 L338.6,133.8 L338.4,151.0 M282.9,74.9 L297.4,83.4 L312.9,92.3 L329.2,101.8 L346.6,111.8 L365.1,122.6 L384.9,134.0 M341.5,31.2 L341.2,54.7 L340.9,76.7 L340.7,97.3 L340.4,116.6 L340.2,134.8 L339.9,152.0 M283.0,76.6 L297.5,85.1 L312.9,94.0 L329.2,103.5 L346.6,113.7 L365.1,124.4 L384.8,135.9 M343.4,32.1 L343.0,55.6 L342.7,77.6 L342.3,98.2 L342.0,117.6 L341.7,135.8 L341.5,153.0 M283.1,78.3 L297.6,86.8 L313.0,95.8 L329.2,105.3 L346.5,115.4 L365.0,126.2 L384.6,137.8 M345.2,32.9 L344.8,56.5 L344.4,78.5 L344.0,99.2 L343.7,118.6 L343.3,136.8 L343.0,154.0 M283.3,80.0 L297.7,88.5 L313.0,97.5 L329.2,107.1 L346.5,117.2 L364.9,128.1 L384.5,139.6 M347.1,33.7 L346.6,57.3 L346.2,79.4 L345.7,100.1 L345.3,119.5 L344.9,137.8 L344.6,155.0 M283.4,81.7 L297.8,90.2 L313.1,99.2 L329.2,108.8 L346.4,119.0 L364.8,129.9 L384.3,141.4 M349.0,34.5 L348.5,58.2 L347.9,80.3 L347.4,101.1 L347.0,120.5 L346.5,138.8 L346.1,156.1 M283.5,83.3 L297.9,91.9 L313.1,101.0 L329.3,110.6 L346.4,120.8 L364.7,131.7 L384.1,143.2 M350.9,35.4 L350.3,59.1 L349.7,81.3 L349.2,102.0 L348.6,121.5 L348.2,139.8 L347.7,157.1 M283.6,85.0 L298.0,93.6 L313.2,102.7 L329.3,112.3 L346.4,122.5 L364.6,133.4 L384.0,145.1 M352.9,36.2 L352.2,60.0 L351.5,82.2 L350.9,103.0 L350.3,122.5 L349.8,140.9 L349.3,158.1 M283.8,86.7 L298.1,95.3 L313.2,104.4 L329.3,114.0 L346.3,124.3 L364.5,135.2 L383.8,146.8 M354.8,37.1 L354.0,60.9 L353.3,83.2 L352.6,104.0 L352.0,123.5 L351.4,141.9 L350.9,159.2 M283.9,88.3 L298.2,96.9 L313.3,106.1 L329.3,115.7 L346.3,126.0 L364.4,137.0 L383.7,148.6 M356.7,37.9 L355.9,61.8 L355.1,84.1 L354.4,105.0 L353.7,124.5 L353.1,142.9 L352.5,160.2 M284.0,89.9 L298.3,98.6 L313.3,107.7 L329.3,117.5 L346.2,127.8 L364.3,138.7 L383.5,150.4 M358.7,38.8 L357.8,62.7 L356.9,85.1 L356.2,106.0 L355.4,125.5 L354.7,143.9 L354.1,161.3 M284.1,91.6 L298.3,100.2 L313.4,109.4 L329.3,119.2 L346.2,129.5 L364.2,140.5 L383.4,152.2 M360.7,39.7 L359.7,63.7 L358.8,86.0 L357.9,106.9 L357.1,126.6 L356.4,145.0 L355.7,162.3 M284.3,93.2 L298.4,101.9 L313.4,111.1 L329.3,120.8 L346.2,131.2 L364.1,142.2 L383.2,153.9 M362.7,40.6 L361.6,64.6 L360.6,87.0 L359.7,107.9 L358.9,127.6 L358.1,146.0 L357.3,163.4 M284.4,94.8 L298.5,103.5 L313.5,112.7 L329.3,122.5 L346.1,132.9 L364.0,143.9 L383.0,155.7 M364.7,41.4 L363.5,65.5 L362.5,88.0 L361.5,109.0 L360.6,128.6 L359.7,147.1 L358.9,164.5 M284.5,96.4 L298.6,105.1 L313.5,114.4 L329.3,124.2 L346.1,134.6 L363.9,145.6 L382.9,157.4 M366.7,42.3 L365.5,66.4 L364.4,88.9 L363.3,110.0 L362.3,129.7 L361.4,148.2 L360.6,165.6 M284.6,98.0 L298.7,106.8 L313.6,116.0 L329.3,125.8 L346.1,136.3 L363.8,147.3 L382.7,159.1 M368.7,43.2 L367.4,67.4 L366.3,89.9 L365.1,111.0 L364.1,130.7 L363.1,149.2 L362.2,166.6 M284.7,99.6 L298.8,108.4 L313.6,117.7 L329.3,127.5 L346.0,137.9 L363.7,149.0 L382.6,160.8 M370.8,44.1 L369.4,68.3 L368.2,90.9 L367.0,112.0 L365.9,131.8 L364.8,150.3 L363.9,167.7 M284.9,101.1 L298.9,110.0 L313.7,119.3 L329.3,129.1 L346.0,139.6 L363.6,150.7 L382.4,162.5 M372.8,45.0 L371.4,69.3 L370.1,91.9 L368.8,113.0 L367.7,132.8 L366.6,151.4 L365.5,168.8 M285.0,102.7 L298.9,111.5 L313.7,120.9 L329.4,130.8 L345.9,141.2 L363.6,152.4 L382.3,164.2 M374.9,46.0 L373.4,70.3 L372.0,92.9 L370.7,114.1 L369.4,133.9 L368.3,152.5 L367.2,169.9 M285.1,104.3 L299.0,113.1 L313.8,122.5 L329.4,132.4 L345.9,142.9 L363.5,154.0 L382.1,165.9 M377.0,46.9 L375.4,71.2 L373.9,93.9 L372.5,115.1 L371.3,135.0 L370.0,153.6 L368.9,171.0 M285.2,105.8 L299.1,114.7 L313.8,124.1 L329.4,134.0 L345.9,144.5 L363.4,155.7 L382.0,167.6 M379.1,47.8 L377.4,72.2 L375.9,94.9 L374.4,116.2 L373.1,136.0 L371.8,154.7 L370.6,172.2 M285.3,107.4 L299.2,116.3 L313.9,125.7 L329.4,135.6 L345.8,146.1 L363.3,157.3 L381.9,169.2 M381.2,48.7 L379.4,73.2 L377.8,96.0 L376.3,117.2 L374.9,137.1 L373.6,155.8 L372.3,173.3 M285.4,108.9 L299.3,117.8 L313.9,127.2 L329.4,137.2 L345.8,147.8 L363.2,159.0 L381.7,170.9 M383.3,49.7 L381.5,74.2 L379.8,97.0 L378.2,118.3 L376.7,138.2 L375.3,156.9 L374.0,174.4 M285.5,110.4 L299.4,119.4 L314.0,128.8 L329.4,138.8 L345.7,149.4 L363.1,160.6 L381.6,172.5 M385.5,50.6 L383.6,75.2 L381.8,98.0 L380.1,119.4 L378.6,139.3 L377.1,158.0 L375.8,175.6 M285.7,112.0 L299.4,120.9 L314.0,130.4 L329.4,140.4 L345.7,151.0 L363.0,162.2 L381.4,174.2 M387.6,51.6 L385.6,76.2 L383.8,99.1 L382.1,120.4 L380.4,140.4 L378.9,159.1 L377.5,176.7 M285.8,113.5 L299.5,122.5 L314.1,131.9 L329.4,141.9 L345.7,152.6 L362.9,163.8 L381.3,175.8 M389.8,52.5 L387.7,77.2 L385.8,100.1 L384.0,121.5 L382.3,141.5 L380.7,160.3 L379.2,177.8 M285.9,115.0 L299.6,124.0 L314.1,133.5 L329.4,143.5 L345.6,154.1 L362.9,165.4 L381.1,177.4" fill="none" stroke="#222" stroke-width="0.45" stroke-opacity="0.8"/>
<circle cx="266.3" cy="96.6" r="2.6" fill="#000"/>
<circle cx="275.6" cy="96.6" r="2.6" fill="#000"/>
<circle cx="284.9" cy="96.6" r="2.6" fill="#000"/>
<circle cx="294.2" cy="96.6" r="2.6" fill="#000"/>
<circle cx="303.5" cy="96.6" r="2.6" fill="#000"/>
<polygon points="275.7,315.5 275.6,334.2 275.1,352.7 274.3,370.9 273.1,388.9 271.6,406.5 269.9,423.9 267.9,441 265.8,457.7 267.8,458.7 269.9,442 271.9,424.9 273.6,407.5 275.1,389.9 276.3,371.9 277.1,353.7 277.6,335.2 277.7,316.5" fill="#3b4a40"/>
<g stroke-width="1.1">
<polygon points="149,266.3 153.9,268.6 154.4,276.9 149.4,274.9" fill="#3a7d68" stroke="#3a7d68"/>
<polygon points="153.9,268.6 158.9,270.9 159.5,278.8 154.4,276.9" fill="#3a7d68" stroke="#3a7d68"/>
<polygon points="158.9,270.9 164.1,273.2 164.9,280.9 159.5,278.8" fill="#3a7d68" stroke="#3a7d68"/>
<polygon points="149.4,274.9 154.4,276.9 154.9,285 149.8,283.4" fill="#3a7d68" stroke="#3a7d68"/>
<polygon points="154.4,276.9 159.5,278.8 160.1,286.8 154.9,285" fill="#3a7d68" stroke="#3a7d68"/>
<polygon points="159.5,278.8 164.9,280.9 165.6,288.6 160.1,286.8" fill="#3a7d68" stroke="#3a7d68"/>
<polygon points="149.8,283.4 154.9,285 155.3,293.1 150.1,291.7" fill="#3a7d68" stroke="#3a7d68"/>
<polygon points="154.9,285 160.1,286.8 160.7,294.6 155.3,293.1" fill="#3a7d68" stroke="#3a7d68"/>
<polygon points="160.1,286.8 165.6,288.6 166.2,296.2 160.7,294.6" fill="#3a7d68" stroke="#3a7d68"/>
<polygon points="164.1,273.2 169.5,275.5 170.4,283 164.9,280.9" fill="#a83a3d" stroke="#a83a3d"/>
<polygon points="169.5,275.5 175,278 175.9,285.2 170.4,283" fill="#a83a3d" stroke="#a83a3d"/>
<polygon points="175,278 180.3,281.2 181.4,288.1 175.9,285.2" fill="#a83a3d" stroke="#a83a3d"/>
<polygon points="164.9,280.9 170.4,283 171.2,290.4 165.6,288.6" fill="#a83a3d" stroke="#a83a3d"/>
<polygon points="170.4,283 175.9,285.2 176.8,292.5 171.2,290.4" fill="#a83a3d" stroke="#a83a3d"/>
<polygon points="175.9,285.2 181.4,288.1 182.4,295.1 176.8,292.5" fill="#a83a3d" stroke="#a83a3d"/>
<polygon points="165.6,288.6 171.2,290.4 171.9,297.9 166.2,296.2" fill="#a83a3d" stroke="#a83a3d"/>
<polygon points="171.2,290.4 176.8,292.5 177.6,299.8 171.9,297.9" fill="#a83a3d" stroke="#a83a3d"/>
<polygon points="176.8,292.5 182.4,295.1 183.3,302.2 177.6,299.8" fill="#a83a3d" stroke="#a83a3d"/>
<polygon points="180.3,281.2 185.3,286.3 186.6,292.6 181.4,288.1" fill="#a83a3d" stroke="#a83a3d"/>
<polygon points="185.3,286.3 190.4,292.8 192,298.4 186.6,292.6" fill="#a83a3d" stroke="#a83a3d"/>
<polygon points="190.4,292.8 196.6,297.5 198.2,302.7 192,298.4" fill="#a83a3d" stroke="#a83a3d"/>
<polygon points="181.4,288.1 186.6,292.6 187.8,299.2 182.4,295.1" fill="#a83a3d" stroke="#a83a3d"/>
<polygon points="186.6,292.6 192,298.4 193.4,304.3 187.8,299.2" fill="#a83a3d" stroke="#a83a3d"/>
<polygon points="192,298.4 198.2,302.7 199.7,308.2 193.4,304.3" fill="#a83a3d" stroke="#a83a3d"/>
<polygon points="182.4,295.1 187.8,299.2 188.9,305.8 183.3,302.2" fill="#a83a3d" stroke="#a83a3d"/>
<polygon points="187.8,299.2 193.4,304.3 194.6,310.4 188.9,305.8" fill="#a83a3d" stroke="#a83a3d"/>
<polygon points="193.4,304.3 199.7,308.2 201,314.1 194.6,310.4" fill="#a83a3d" stroke="#a83a3d"/>
<polygon points="196.6,297.5 204.1,298.2 205.7,303.7 198.2,302.7" fill="#d8d7c4" stroke="#d8d7c4"/>
<polygon points="204.1,298.2 212.7,297.1 214,303.2 205.7,303.7" fill="#d8d7c4" stroke="#d8d7c4"/>
<polygon points="212.7,297.1 221.4,297.5 222.6,304 214,303.2" fill="#d8d7c4" stroke="#d8d7c4"/>
<polygon points="198.2,302.7 205.7,303.7 207.1,309.5 199.7,308.2" fill="#d8d7c4" stroke="#d8d7c4"/>
<polygon points="205.7,303.7 214,303.2 215.2,309.6 207.1,309.5" fill="#d8d7c4" stroke="#d8d7c4"/>
<polygon points="214,303.2 222.6,304 223.5,310.8 215.2,309.6" fill="#d8d7c4" stroke="#d8d7c4"/>
<polygon points="199.7,308.2 207.1,309.5 208.3,315.5 201,314.1" fill="#d8d7c4" stroke="#d8d7c4"/>
<polygon points="207.1,309.5 215.2,309.6 216.2,316.1 208.3,315.5" fill="#d8d7c4" stroke="#d8d7c4"/>
<polygon points="215.2,309.6 223.5,310.8 224.3,317.7 216.2,316.1" fill="#d8d7c4" stroke="#d8d7c4"/>
<polygon points="221.4,297.5 230,299.7 231,306.5 222.6,304" fill="#3a7d68" stroke="#3a7d68"/>
<polygon points="230,299.7 238.6,302.7 239.4,309.7 231,306.5" fill="#3a7d68" stroke="#3a7d68"/>
<polygon points="238.6,302.7 247.3,305.8 247.9,313 239.4,309.7" fill="#3a7d68" stroke="#3a7d68"/>
<polygon points="222.6,304 231,306.5 231.7,313.4 223.5,310.8" fill="#3a7d68" stroke="#3a7d68"/>
<polygon points="231,306.5 239.4,309.7 240,316.8 231.7,313.4" fill="#3a7d68" stroke="#3a7d68"/>
<polygon points="239.4,309.7 247.9,313 248.4,320.4 240,316.8" fill="#3a7d68" stroke="#3a7d68"/>
<polygon points="223.5,310.8 231.7,313.4 232.4,320.5 224.3,317.7" fill="#3a7d68" stroke="#3a7d68"/>
<polygon points="231.7,313.4 240,316.8 240.5,324 232.4,320.5" fill="#3a7d68" stroke="#3a7d68"/>
<polygon points="240,316.8 248.4,320.4 248.8,327.8 240.5,324" fill="#3a7d68" stroke="#3a7d68"/>
<polygon points="247.3,305.8 256.4,309 256.8,316.5 247.9,313" fill="#3a7d68" stroke="#3a7d68"/>
<polygon points="256.4,309 265.8,312.2 266.1,320.1 256.8,316.5" fill="#3a7d68" stroke="#3a7d68"/>
<polygon points="265.8,312.2 275.7,315.5 275.7,323.9 266.1,320.1" fill="#3a7d68" stroke="#3a7d68"/>
<polygon points="247.9,313 256.8,316.5 257.2,324.1 248.4,320.4" fill="#3a7d68" stroke="#3a7d68"/>
<polygon points="256.8,316.5 266.1,320.1 266.2,328 257.2,324.1" fill="#3a7d68" stroke="#3a7d68"/>
<polygon points="266.1,320.1 275.7,323.9 275.7,332.2 266.2,328" fill="#3a7d68" stroke="#3a7d68"/>
<polygon points="248.4,320.4 257.2,324.1 257.4,331.7 248.8,327.8" fill="#3a7d68" stroke="#3a7d68"/>
<polygon points="257.2,324.1 266.2,328 266.3,335.9 257.4,331.7" fill="#3a7d68" stroke="#3a7d68"/>
<polygon points="266.2,328 275.7,332.2 275.5,340.4 266.3,335.9" fill="#3a7d68" stroke="#3a7d68"/>
<polygon points="150.1,291.7 155.3,293.1 155.8,301.1 150.5,299.9" fill="#3a7d68" stroke="#3a7d68"/>
<polygon points="155.3,293.1 160.7,294.6 161.2,302.4 155.8,301.1" fill="#3a7d68" stroke="#3a7d68"/>
<polygon points="160.7,294.6 166.2,296.2 166.8,303.9 161.2,302.4" fill="#3a7d68" stroke="#3a7d68"/>
<polygon points="150.5,299.9 155.8,301.1 156.2,309 150.9,307.9" fill="#3a7d68" stroke="#3a7d68"/>
<polygon points="155.8,301.1 161.2,302.4 161.7,310.2 156.2,309" fill="#3a7d68" stroke="#3a7d68"/>
<polygon points="161.2,302.4 166.8,303.9 167.3,311.5 161.7,310.2" fill="#3a7d68" stroke="#3a7d68"/>
<polygon points="150.9,307.9 156.2,309 156.6,316.7 151.2,315.8" fill="#3a7d68" stroke="#3a7d68"/>
<polygon points="156.2,309 161.7,310.2 162.1,317.8 156.6,316.7" fill="#3a7d68" stroke="#3a7d68"/>
<polygon points="161.7,310.2 167.3,311.5 167.8,319.1 162.1,317.8" fill="#3a7d68" stroke="#3a7d68"/>
<polygon points="166.2,296.2 171.9,297.9 172.5,305.4 166.8,303.9" fill="#3a7d68" stroke="#3a7d68"/>
<polygon points="171.9,297.9 177.6,299.8 178.3,307.2 172.5,305.4" fill="#3a7d68" stroke="#3a7d68"/>
<polygon points="177.6,299.8 183.3,302.2 184.1,309.4 178.3,307.2" fill="#3a7d68" stroke="#3a7d68"/>
<polygon points="166.8,303.9 172.5,305.4 173,313 167.3,311.5" fill="#3a7d68" stroke="#3a7d68"/>
<polygon points="172.5,305.4 178.3,307.2 178.9,314.6 173,313" fill="#3a7d68" stroke="#3a7d68"/>
<polygon points="178.3,307.2 184.1,309.4 184.8,316.7 178.9,314.6" fill="#3a7d68" stroke="#3a7d68"/>
<polygon points="167.3,311.5 173,313 173.5,320.5 167.8,319.1" fill="#3a7d68" stroke="#3a7d68"/>
<polygon points="173,313 178.9,314.6 179.4,322.1 173.5,320.5" fill="#3a7d68" stroke="#3a7d68"/>
<polygon points="178.9,314.6 184.8,316.7 185.4,324.1 179.4,322.1" fill="#3a7d68" stroke="#3a7d68"/>
<polygon points="183.3,302.2 188.9,305.8 189.8,312.7 184.1,309.4" fill="#3a7d68" stroke="#3a7d68"/>
<polygon points="188.9,305.8 194.6,310.4 195.7,316.8 189.8,312.7" fill="#3a7d68" stroke="#3a7d68"/>
<polygon points="194.6,310.4 201,314.1 202.1,320.2 195.7,316.8" fill="#3a7d68" stroke="#3a7d68"/>
<polygon points="184.1,309.4 189.8,312.7 190.6,319.7 184.8,316.7" fill="#3a7d68" stroke="#3a7d68"/>
<polygon points="189.8,312.7 195.7,316.8 196.6,323.4 190.6,319.7" fill="#3a7d68" stroke="#3a7d68"/>
<polygon points="195.7,316.8 202.1,320.2 203.1,326.6 196.6,323.4" fill="#3a7d68" stroke="#3a7d68"/>
<polygon points="184.8,316.7 190.6,319.7 191.3,326.8 185.4,324.1" fill="#3a7d68" stroke="#3a7d68"/>
<polygon points="190.6,319.7 196.6,323.4 197.4,330.2 191.3,326.8" fill="#3a7d68" stroke="#3a7d68"/>
<polygon points="196.6,323.4 203.1,326.6 203.9,333.2 197.4,330.2" fill="#3a7d68" stroke="#3a7d68"/>
<polygon points="201,314.1 208.3,315.5 209.3,321.9 202.1,320.2" fill="#3a7d68" stroke="#3a7d68"/>
<polygon points="208.3,315.5 216.2,316.1 217.1,322.9 209.3,321.9" fill="#3a7d68" stroke="#3a7d68"/>
<polygon points="216.2,316.1 224.3,317.7 225,324.8 217.1,322.9" fill="#3a7d68" stroke="#3a7d68"/>
<polygon points="202.1,320.2 209.3,321.9 210.2,328.5 203.1,326.6" fill="#3a7d68" stroke="#3a7d68"/>
<polygon points="209.3,321.9 217.1,322.9 217.8,329.9 210.2,328.5" fill="#3a7d68" stroke="#3a7d68"/>
<polygon points="217.1,322.9 225,324.8 225.5,332.1 217.8,329.9" fill="#3a7d68" stroke="#3a7d68"/>
<polygon points="203.1,326.6 210.2,328.5 210.9,335.3 203.9,333.2" fill="#3a7d68" stroke="#3a7d68"/>
<polygon points="210.2,328.5 217.8,329.9 218.3,337 210.9,335.3" fill="#3a7d68" stroke="#3a7d68"/>
<polygon points="217.8,329.9 225.5,332.1 225.9,339.4 218.3,337" fill="#3a7d68" stroke="#3a7d68"/>
<polygon points="224.3,317.7 232.4,320.5 232.9,327.8 225,324.8" fill="#d8d7c4" stroke="#d8d7c4"/>
<polygon points="232.4,320.5 240.5,324 240.9,331.4 232.9,327.8" fill="#d8d7c4" stroke="#d8d7c4"/>
<polygon points="240.5,324 248.8,327.8 249.1,335.3 240.9,331.4" fill="#d8d7c4" stroke="#d8d7c4"/>
<polygon points="225,324.8 232.9,327.8 233.3,335.2 225.5,332.1" fill="#d8d7c4" stroke="#d8d7c4"/>
<polygon points="232.9,327.8 240.9,331.4 241.2,338.9 233.3,335.2" fill="#d8d7c4" stroke="#d8d7c4"/>
<polygon points="240.9,331.4 249.1,335.3 249.2,342.9 241.2,338.9" fill="#d8d7c4" stroke="#d8d7c4"/>
<polygon points="225.5,332.1 233.3,335.2 233.6,342.7 225.9,339.4" fill="#d8d7c4" stroke="#d8d7c4"/>
<polygon points="233.3,335.2 241.2,338.9 241.3,346.4 233.6,342.7" fill="#d8d7c4" stroke="#d8d7c4"/>
<polygon points="241.2,338.9 249.2,342.9 249.3,350.5 241.3,346.4" fill="#d8d7c4" stroke="#d8d7c4"/>
<polygon points="248.8,327.8 257.4,331.7 257.5,339.4 249.1,335.3" fill="#3a7d68" stroke="#3a7d68"/>
<polygon points="257.4,331.7 266.3,335.9 266.2,343.9 257.5,339.4" fill="#3a7d68" stroke="#3a7d68"/>
<polygon points="266.3,335.9 275.5,340.4 275.3,348.6 266.2,343.9" fill="#3a7d68" stroke="#3a7d68"/>
<polygon points="249.1,335.3 257.5,339.4 257.5,347.2 249.2,342.9" fill="#3a7d68" stroke="#3a7d68"/>
<polygon points="257.5,339.4 266.2,343.9 266.1,351.8 257.5,347.2" fill="#3a7d68" stroke="#3a7d68"/>
<polygon points="266.2,343.9 275.3,348.6 275,356.8 266.1,351.8" fill="#3a7d68" stroke="#3a7d68"/>
<polygon points="249.2,342.9 257.5,347.2 257.5,355 249.3,350.5" fill="#3a7d68" stroke="#3a7d68"/>
<polygon points="257.5,347.2 266.1,351.8 265.9,359.7 257.5,355" fill="#3a7d68" stroke="#3a7d68"/>
<polygon points="266.1,351.8 275,356.8 274.6,364.9 265.9,359.7" fill="#3a7d68" stroke="#3a7d68"/>
<polygon points="151.2,315.8 156.6,316.7 157,324.4 151.6,323.5" fill="#3a7d68" stroke="#3a7d68"/>
<polygon points="156.6,316.7 162.1,317.8 162.5,325.5 157,324.4" fill="#3a7d68" stroke="#3a7d68"/>
<polygon points="162.1,317.8 167.8,319.1 168.2,326.7 162.5,325.5" fill="#3a7d68" stroke="#3a7d68"/>
<polygon points="151.6,323.5 157,324.4 157.3,332 151.9,331.1" fill="#3a7d68" stroke="#3a7d68"/>
<polygon points="157,324.4 162.5,325.5 162.9,333 157.3,332" fill="#3a7d68" stroke="#3a7d68"/>
<polygon points="162.5,325.5 168.2,326.7 168.6,334.2 162.9,333" fill="#3a7d68" stroke="#3a7d68"/>
<polygon points="151.9,331.1 157.3,332 157.7,339.4 152.2,338.5" fill="#3a7d68" stroke="#3a7d68"/>
<polygon points="157.3,332 162.9,333 163.2,340.5 157.7,339.4" fill="#3a7d68" stroke="#3a7d68"/>
<polygon points="162.9,333 168.6,334.2 168.9,341.7 163.2,340.5" fill="#3a7d68" stroke="#3a7d68"/>
<polygon points="167.8,319.1 173.5,320.5 174,328 168.2,326.7" fill="#3a7d68" stroke="#3a7d68"/>
<polygon points="173.5,320.5 179.4,322.1 179.9,329.6 174,328" fill="#3a7d68" stroke="#3a7d68"/>
<polygon points="179.4,322.1 185.4,324.1 185.9,331.5 179.9,329.6" fill="#3a7d68" stroke="#3a7d68"/>
<polygon points="168.2,326.7 174,328 174.4,335.6 168.6,334.2" fill="#3a7d68" stroke="#3a7d68"/>
<polygon points="174,328 179.9,329.6 180.3,337.1 174.4,335.6" fill="#3a7d68" stroke="#3a7d68"/>
<polygon points="179.9,329.6 185.9,331.5 186.3,339 180.3,337.1" fill="#3a7d68" stroke="#3a7d68"/>
<polygon points="168.6,334.2 174.4,335.6 174.7,343.1 168.9,341.7" fill="#3a7d68" stroke="#3a7d68"/>
<polygon points="174.4,335.6 180.3,337.1 180.6,344.7 174.7,343.1" fill="#3a7d68" stroke="#3a7d68"/>
<polygon points="180.3,337.1 186.3,339 186.6,346.6 180.6,344.7" fill="#3a7d68" stroke="#3a7d68"/>
<polygon points="185.4,324.1 191.3,326.8 191.9,334.1 185.9,331.5" fill="#3a7d68" stroke="#3a7d68"/>
<polygon points="191.3,326.8 197.4,330.2 198,337.2 191.9,334.1" fill="#3a7d68" stroke="#3a7d68"/>
<polygon points="197.4,330.2 203.9,333.2 204.5,340 198,337.2" fill="#3a7d68" stroke="#3a7d68"/>
<polygon points="185.9,331.5 191.9,334.1 192.3,341.5 186.3,339" fill="#3a7d68" stroke="#3a7d68"/>
<polygon points="191.9,334.1 198,337.2 198.5,344.3 192.3,341.5" fill="#3a7d68" stroke="#3a7d68"/>
<polygon points="198,337.2 204.5,340 205,347.1 198.5,344.3" fill="#3a7d68" stroke="#3a7d68"/>
<polygon points="186.3,339 192.3,341.5 192.7,348.9 186.6,346.6" fill="#3a7d68" stroke="#3a7d68"/>
<polygon points="192.3,341.5 198.5,344.3 198.9,351.6 192.7,348.9" fill="#3a7d68" stroke="#3a7d68"/>
<polygon points="198.5,344.3 205,347.1 205.4,354.3 198.9,351.6" fill="#3a7d68" stroke="#3a7d68"/>
<polygon points="203.9,333.2 210.9,335.3 211.5,342.3 204.5,340" fill="#3a7d68" stroke="#3a7d68"/>
<polygon points="210.9,335.3 218.3,337 218.7,344.3 211.5,342.3" fill="#3a7d68" stroke="#3a7d68"/>
<polygon points="218.3,337 225.9,339.4 226.2,346.9 218.7,344.3" fill="#3a7d68" stroke="#3a7d68"/>
<polygon points="204.5,340 211.5,342.3 211.9,349.5 205,347.1" fill="#3a7d68" stroke="#3a7d68"/>
<polygon points="211.5,342.3 218.7,344.3 219.1,351.7 211.9,349.5" fill="#3a7e68" stroke="#3a7e68"/>
<polygon points="218.7,344.3 226.2,346.9 226.4,354.5 219.1,351.7" fill="#3b7e69" stroke="#3b7e69"/>
<polygon points="205,347.1 211.9,349.5 212.2,356.8 205.4,354.3" fill="#3a7e69" stroke="#3a7e69"/>
<polygon points="211.9,349.5 219.1,351.7 219.2,359.3 212.2,356.8" fill="#3b7e69" stroke="#3b7e69"/>
<polygon points="219.1,351.7 226.4,354.5 226.4,362.3 219.2,359.3" fill="#3c7f6a" stroke="#3c7f6a"/>
<polygon points="225.9,339.4 233.6,342.7 233.7,350.3 226.2,346.9" fill="#3a7d68" stroke="#3a7d68"/>
<polygon points="233.6,342.7 241.3,346.4 241.4,354.1 233.7,350.3" fill="#3a7d68" stroke="#3a7d68"/>
<polygon points="241.3,346.4 249.3,350.5 249.2,358.3 241.4,354.1" fill="#3a7d68" stroke="#3a7d68"/>
<polygon points="226.2,346.9 233.7,350.3 233.8,358 226.4,354.5" fill="#3b7e69" stroke="#3b7e69"/>
<polygon points="233.7,350.3 241.4,354.1 241.4,361.8 233.8,358" fill="#3b7e69" stroke="#3b7e69"/>
<polygon points="241.4,354.1 249.2,358.3 249.1,366.1 241.4,361.8" fill="#3b7e69" stroke="#3b7e69"/>
<polygon points="226.4,354.5 233.8,358 233.8,365.8 226.4,362.3" fill="#3c806b" stroke="#3c806b"/>
<polygon points="233.8,358 241.4,361.8 241.2,369.6 233.8,365.8" fill="#3c816b" stroke="#3c816b"/>
<polygon points="241.4,361.8 249.1,366.1 248.9,373.9 241.2,369.6" fill="#3c806b" stroke="#3c806b"/>
<polygon points="249.3,350.5 257.5,355 257.3,362.8 249.2,358.3" fill="#a83a3d" stroke="#a83a3d"/>
<polygon points="257.5,355 265.9,359.7 265.6,367.7 257.3,362.8" fill="#a83a3d" stroke="#a83a3d"/>
<polygon points="265.9,359.7 274.6,364.9 274.1,373 265.6,367.7" fill="#a83a3d" stroke="#a83a3d"/>
<polygon points="249.2,358.3 257.3,362.8 257.1,370.6 249.1,366.1" fill="#a93b3e" stroke="#a93b3e"/>
<polygon points="257.3,362.8 265.6,367.7 265.2,375.6 257.1,370.6" fill="#a93a3d" stroke="#a93a3d"/>
<polygon points="265.6,367.7 274.1,373 273.6,381 265.2,375.6" fill="#a83a3d" stroke="#a83a3d"/>
<polygon points="249.1,366.1 257.1,370.6 256.7,378.5 248.9,373.9" fill="#ab3c3f" stroke="#ab3c3f"/>
<polygon points="257.1,370.6 265.2,375.6 264.8,383.5 256.7,378.5" fill="#aa3b3e" stroke="#aa3b3e"/>
<polygon points="265.2,375.6 273.6,381 273.1,388.9 264.8,383.5" fill="#a93a3d" stroke="#a93a3d"/>
<polygon points="152.2,338.5 157.7,339.4 158,346.8 152.6,345.8" fill="#3a7d68" stroke="#3a7d68"/>
<polygon points="157.7,339.4 163.2,340.5 163.5,347.9 158,346.8" fill="#3a7d68" stroke="#3a7d68"/>
<polygon points="163.2,340.5 168.9,341.7 169.2,349.2 163.5,347.9" fill="#3a7d68" stroke="#3a7d68"/>
<polygon points="152.6,345.8 158,346.8 158.3,354.1 152.9,353" fill="#3a7d68" stroke="#3a7d68"/>
<polygon points="158,346.8 163.5,347.9 163.8,355.3 158.3,354.1" fill="#3a7d68" stroke="#3a7d68"/>
<polygon points="163.5,347.9 169.2,349.2 169.4,356.6 163.8,355.3" fill="#3a7d68" stroke="#3a7d68"/>
<polygon points="152.9,353 158.3,354.1 158.6,361.3 153.2,360.1" fill="#3a7d68" stroke="#3a7d68"/>
<polygon points="158.3,354.1 163.8,355.3 164.1,362.6 158.6,361.3" fill="#3a7d68" stroke="#3a7d68"/>
<polygon points="163.8,355.3 169.4,356.6 169.7,364.1 164.1,362.6" fill="#3a7d68" stroke="#3a7d68"/>
<polygon points="168.9,341.7 174.7,343.1 175,350.7 169.2,349.2" fill="#3a7d68" stroke="#3a7d68"/>
<polygon points="174.7,343.1 180.6,344.7 180.9,352.3 175,350.7" fill="#3a7d68" stroke="#3a7d68"/>
<polygon points="180.6,344.7 186.6,346.6 186.9,354.2 180.9,352.3" fill="#3a7d68" stroke="#3a7d68"/>
<polygon points="169.2,349.2 175,350.7 175.2,358.2 169.4,356.6" fill="#3a7d68" stroke="#3a7d68"/>
<polygon points="175,350.7 180.9,352.3 181.1,359.9 175.2,358.2" fill="#3a7d68" stroke="#3a7d68"/>
<polygon points="180.9,352.3 186.9,354.2 187.1,361.8 181.1,359.9" fill="#3a7d68" stroke="#3a7d68"/>
<polygon points="169.4,356.6 175.2,358.2 175.4,365.7 169.7,364.1" fill="#3a7d68" stroke="#3a7d68"/>
<polygon points="175.2,358.2 181.1,359.9 181.2,367.5 175.4,365.7" fill="#3a7d68" stroke="#3a7d68"/>
<polygon points="181.1,359.9 187.1,361.8 187.2,369.5 181.2,367.5" fill="#3a7d68" stroke="#3a7d68"/>
<polygon points="186.6,346.6 192.7,348.9 193,356.5 186.9,354.2" fill="#3a7d68" stroke="#3a7d68"/>
<polygon points="192.7,348.9 198.9,351.6 199.2,359.1 193,356.5" fill="#3a7d68" stroke="#3a7d68"/>
<polygon points="198.9,351.6 205.4,354.3 205.7,361.8 199.2,359.1" fill="#3a7e69" stroke="#3a7e69"/>
<polygon points="186.9,354.2 193,356.5 193.2,364.1 187.1,361.8" fill="#3a7d68" stroke="#3a7d68"/>
<polygon points="193,356.5 199.2,359.1 199.4,366.6 193.2,364.1" fill="#3a7d68" stroke="#3a7d68"/>
<polygon points="199.2,359.1 205.7,361.8 205.8,369.3 199.4,366.6" fill="#3b7e69" stroke="#3b7e69"/>
<polygon points="187.1,361.8 193.2,364.1 193.3,371.8 187.2,369.5" fill="#3a7d68" stroke="#3a7d68"/>
<polygon points="193.2,364.1 199.4,366.6 199.5,374.3 193.3,371.8" fill="#3a7e69" stroke="#3a7e69"/>
<polygon points="199.4,366.6 205.8,369.3 205.8,377 199.5,374.3" fill="#3b7f6a" stroke="#3b7f6a"/>
<polygon points="205.4,354.3 212.2,356.8 212.4,364.3 205.7,361.8" fill="#3b7f69" stroke="#3b7f69"/>
<polygon points="212.2,356.8 219.2,359.3 219.3,367 212.4,364.3" fill="#3c806b" stroke="#3c806b"/>
<polygon points="219.2,359.3 226.4,362.3 226.4,370.1 219.3,367" fill="#3e826d" stroke="#3e826d"/>
<polygon points="205.7,361.8 212.4,364.3 212.4,372 205.8,369.3" fill="#3c806b" stroke="#3c806b"/>
<polygon points="212.4,364.3 219.3,367 219.3,374.8 212.4,372" fill="#3e836d" stroke="#3e836d"/>
<polygon points="219.3,367 226.4,370.1 226.3,378 219.3,374.8" fill="#418771" stroke="#418771"/>
<polygon points="205.8,369.3 212.4,372 212.4,379.8 205.8,377" fill="#3d816c" stroke="#3d816c"/>
<polygon points="212.4,372 219.3,374.8 219.2,382.7 212.4,379.8" fill="#408670" stroke="#408670"/>
<polygon points="219.3,374.8 226.3,378 226.1,385.9 219.2,382.7" fill="#448c76" stroke="#448c76"/>
<polygon points="226.4,362.3 233.8,365.8 233.6,373.6 226.4,370.1" fill="#e3e2ce" stroke="#e3e2ce"/>
<polygon points="233.8,365.8 241.2,369.6 241,377.5 233.6,373.6" fill="#e4e3cf" stroke="#e4e3cf"/>
<polygon points="241.2,369.6 248.9,373.9 248.6,381.8 241,377.5" fill="#e3e2ce" stroke="#e3e2ce"/>
<polygon points="226.4,370.1 233.6,373.6 233.4,381.5 226.3,378" fill="#ecebd6" stroke="#ecebd6"/>
<polygon points="233.6,373.6 241,377.5 240.7,385.5 233.4,381.5" fill="#eeedd8" stroke="#eeedd8"/>
<polygon points="241,377.5 248.6,381.8 248.2,389.7 240.7,385.5" fill="#ecebd6" stroke="#ecebd6"/>
<polygon points="226.3,378 233.4,381.5 233.1,389.5 226.1,385.9" fill="#f5f4df" stroke="#f5f4df"/>
<polygon points="233.4,381.5 240.7,385.5 240.4,393.4 233.1,389.5" fill="#f9f8e2" stroke="#f9f8e2"/>
<polygon points="240.7,385.5 248.2,389.7 247.7,397.7 240.4,393.4" fill="#f5f4df" stroke="#f5f4df"/>
<polygon points="248.9,373.9 256.7,378.5 256.3,386.4 248.6,381.8" fill="#e0dfcb" stroke="#e0dfcb"/>
<polygon points="256.7,378.5 264.8,383.5 264.3,391.4 256.3,386.4" fill="#dddcc8" stroke="#dddcc8"/>
<polygon points="264.8,383.5 273.1,388.9 272.4,396.8 264.3,391.4" fill="#dad9c6" stroke="#dad9c6"/>
<polygon points="248.6,381.8 256.3,386.4 255.9,394.3 248.2,389.7" fill="#e6e5d1" stroke="#e6e5d1"/>
<polygon points="256.3,386.4 264.3,391.4 263.7,399.3 255.9,394.3" fill="#e1e0cc" stroke="#e1e0cc"/>
<polygon points="264.3,391.4 272.4,396.8 271.8,404.6 263.7,399.3" fill="#dcdbc8" stroke="#dcdbc8"/>
<polygon points="248.2,389.7 255.9,394.3 255.3,402.2 247.7,397.7" fill="#eeedd8" stroke="#eeedd8"/>
<polygon points="255.9,394.3 263.7,399.3 263.1,407.1 255.3,402.2" fill="#e5e4d0" stroke="#e5e4d0"/>
<polygon points="263.7,399.3 271.8,404.6 271,412.4 263.1,407.1" fill="#deddca" stroke="#deddca"/>
<polygon points="153.2,360.1 158.6,361.3 158.9,368.4 153.5,367" fill="#3a7d68" stroke="#3a7d68"/>
<polygon points="158.6,361.3 164.1,362.6 164.3,369.8 158.9,368.4" fill="#3a7d68" stroke="#3a7d68"/>
<polygon points="164.1,362.6 169.7,364.1 169.9,371.4 164.3,369.8" fill="#3a7d68" stroke="#3a7d68"/>
<polygon points="153.5,367 158.9,368.4 159.1,375.4 153.8,373.8" fill="#3a7d68" stroke="#3a7d68"/>
<polygon points="158.9,368.4 164.3,369.8 164.5,377 159.1,375.4" fill="#3a7d68" stroke="#3a7d68"/>
<polygon points="164.3,369.8 169.9,371.4 170,378.8 164.5,377" fill="#3a7d68" stroke="#3a7d68"/>
<polygon points="153.8,373.8 159.1,375.4 159.3,382.3 154.1,380.5" fill="#3a7d68" stroke="#3a7d68"/>
<polygon points="159.1,375.4 164.5,377 164.7,384.1 159.3,382.3" fill="#3a7d68" stroke="#3a7d68"/>
<polygon points="164.5,377 170,378.8 170.1,386.1 164.7,384.1" fill="#3a7d68" stroke="#3a7d68"/>
<polygon points="169.7,364.1 175.4,365.7 175.5,373.2 169.9,371.4" fill="#3a7d68" stroke="#3a7d68"/>
<polygon points="175.4,365.7 181.2,367.5 181.3,375.1 175.5,373.2" fill="#3a7d68" stroke="#3a7d68"/>
<polygon points="181.2,367.5 187.2,369.5 187.2,377.2 181.3,375.1" fill="#3a7d68" stroke="#3a7d68"/>
<polygon points="169.9,371.4 175.5,373.2 175.6,380.7 170,378.8" fill="#3a7d68" stroke="#3a7d68"/>
<polygon points="175.5,373.2 181.3,375.1 181.4,382.7 175.6,380.7" fill="#3a7d68" stroke="#3a7d68"/>
<polygon points="181.3,375.1 187.2,377.2 187.2,385 181.4,382.7" fill="#3a7d68" stroke="#3a7d68"/>
<polygon points="170,378.8 175.6,380.7 175.7,388.1 170.1,386.1" fill="#3a7d68" stroke="#3a7d68"/>
<polygon points="175.6,380.7 181.4,382.7 181.4,390.3 175.7,388.1" fill="#3a7d68" stroke="#3a7d68"/>
<polygon points="181.4,382.7 187.2,385 187.2,392.7 181.4,390.3" fill="#3a7d68" stroke="#3a7d68"/>
<polygon points="187.2,369.5 193.3,371.8 193.3,379.6 187.2,377.2" fill="#3a7d68" stroke="#3a7d68"/>
<polygon points="193.3,371.8 199.5,374.3 199.5,382.1 193.3,379.6" fill="#3a7e69" stroke="#3a7e69"/>
<polygon points="199.5,374.3 205.8,377 205.8,384.8 199.5,382.1" fill="#3b7f6a" stroke="#3b7f6a"/>
<polygon points="187.2,377.2 193.3,379.6 193.2,387.4 187.2,385" fill="#3a7d68" stroke="#3a7d68"/>
<polygon points="193.3,379.6 199.5,382.1 199.4,390 193.2,387.4" fill="#3a7e69" stroke="#3a7e69"/>
<polygon points="199.5,382.1 205.8,384.8 205.6,392.7 199.4,390" fill="#3b7f6a" stroke="#3b7f6a"/>
<polygon points="187.2,385 193.2,387.4 193.1,395.2 187.2,392.7" fill="#3a7d68" stroke="#3a7d68"/>
<polygon points="193.2,387.4 199.4,390 199.2,397.9 193.1,395.2" fill="#3a7e68" stroke="#3a7e68"/>
<polygon points="199.4,390 205.6,392.7 205.4,400.7 199.2,397.9" fill="#3b7f6a" stroke="#3b7f6a"/>
<polygon points="205.8,377 212.4,379.8 212.3,387.7 205.8,384.8" fill="#3e826d" stroke="#3e826d"/>
<polygon points="212.4,379.8 219.2,382.7 219,390.7 212.3,387.7" fill="#418872" stroke="#418872"/>
<polygon points="219.2,382.7 226.1,385.9 225.8,394 219,390.7" fill="#478f79" stroke="#478f79"/>
<polygon points="205.8,384.8 212.3,387.7 212.1,395.6 205.6,392.7" fill="#3e826d" stroke="#3e826d"/>
<polygon points="212.3,387.7 219,390.7 218.7,398.7 212.1,395.6" fill="#418872" stroke="#418872"/>
<polygon points="219,390.7 225.8,394 225.4,402.1 218.7,398.7" fill="#468f78" stroke="#468f78"/>
<polygon points="205.6,392.7 212.1,395.6 211.8,403.7 205.4,400.7" fill="#3d816c" stroke="#3d816c"/>
<polygon points="212.1,395.6 218.7,398.7 218.3,406.9 211.8,403.7" fill="#408670" stroke="#408670"/>
<polygon points="218.7,398.7 225.4,402.1 225,410.2 218.3,406.9" fill="#448c75" stroke="#448c75"/>
<polygon points="226.1,385.9 233.1,389.5 232.8,397.6 225.8,394" fill="#fcfbe5" stroke="#fcfbe5"/>
<polygon points="233.1,389.5 240.4,393.4 239.9,401.5 232.8,397.6" fill="#ffffe9" stroke="#ffffe9"/>
<polygon points="240.4,393.4 247.7,397.7 247.2,405.6 239.9,401.5" fill="#fcfbe5" stroke="#fcfbe5"/>
<polygon points="225.8,394 232.8,397.6 232.3,405.7 225.4,402.1" fill="#fcfae5" stroke="#fcfae5"/>
<polygon points="232.8,397.6 239.9,401.5 239.4,409.5 232.3,405.7" fill="#fffee9" stroke="#fffee9"/>
<polygon points="239.9,401.5 247.2,405.6 246.6,413.6 239.4,409.5" fill="#fcfae5" stroke="#fcfae5"/>
<polygon points="225.4,402.1 232.3,405.7 231.8,413.8 225,410.2" fill="#f5f4df" stroke="#f5f4df"/>
<polygon points="232.3,405.7 239.4,409.5 238.8,417.6 231.8,413.8" fill="#f8f7e2" stroke="#f8f7e2"/>
<polygon points="239.4,409.5 246.6,413.6 246,421.7 238.8,417.6" fill="#f5f4df" stroke="#f5f4df"/>
<polygon points="247.7,397.7 255.3,402.2 254.7,410.1 247.2,405.6" fill="#f2f1dd" stroke="#f2f1dd"/>
<polygon points="255.3,402.2 263.1,407.1 262.4,414.9 254.7,410.1" fill="#e8e7d3" stroke="#e8e7d3"/>
<polygon points="263.1,407.1 271,412.4 270.3,420.1 262.4,414.9" fill="#e0dfcb" stroke="#e0dfcb"/>
<polygon points="247.2,405.6 254.7,410.1 254,418 246.6,413.6" fill="#f2f1dc" stroke="#f2f1dc"/>
<polygon points="254.7,410.1 262.4,414.9 261.7,422.7 254,418" fill="#e8e7d3" stroke="#e8e7d3"/>
<polygon points="262.4,414.9 270.3,420.1 269.5,427.7 261.7,422.7" fill="#e0dfcb" stroke="#e0dfcb"/>
<polygon points="246.6,413.6 254,418 253.3,425.9 246,421.7" fill="#edecd8" stroke="#edecd8"/>
<polygon points="254,418 261.7,422.7 260.9,430.5 253.3,425.9" fill="#e5e4d0" stroke="#e5e4d0"/>
<polygon points="261.7,422.7 269.5,427.7 268.6,435.3 260.9,430.5" fill="#deddca" stroke="#deddca"/>
<polygon points="154.1,380.5 159.3,382.3 159.6,389.1 154.4,387.1" fill="#3a7d68" stroke="#3a7d68"/>
<polygon points="159.3,382.3 164.7,384.1 164.8,391.1 159.6,389.1" fill="#3a7d68" stroke="#3a7d68"/>
<polygon points="164.7,384.1 170.1,386.1 170.2,393.3 164.8,391.1" fill="#3a7d68" stroke="#3a7d68"/>
<polygon points="154.4,387.1 159.6,389.1 159.8,395.8 154.7,393.6" fill="#3a7d68" stroke="#3a7d68"/>
<polygon points="159.6,389.1 164.8,391.1 165,398.1 159.8,395.8" fill="#3a7d68" stroke="#3a7d68"/>
<polygon points="164.8,391.1 170.2,393.3 170.3,400.5 165,398.1" fill="#3a7d68" stroke="#3a7d68"/>
<polygon points="154.7,393.6 159.8,395.8 160,402.5 155,400" fill="#3a7d68" stroke="#3a7d68"/>
<polygon points="159.8,395.8 165,398.1 165.1,405 160,402.5" fill="#3a7d68" stroke="#3a7d68"/>
<polygon points="165,398.1 170.3,400.5 170.3,407.7 165.1,405" fill="#3a7d68" stroke="#3a7d68"/>
<polygon points="170.1,386.1 175.7,388.1 175.7,395.6 170.2,393.3" fill="#3a7d68" stroke="#3a7d68"/>
<polygon points="175.7,388.1 181.4,390.3 181.3,397.9 175.7,395.6" fill="#3a7d68" stroke="#3a7d68"/>
<polygon points="181.4,390.3 187.2,392.7 187.1,400.5 181.3,397.9" fill="#3a7d68" stroke="#3a7d68"/>
<polygon points="170.2,393.3 175.7,395.6 175.7,403 170.3,400.5" fill="#3a7d68" stroke="#3a7d68"/>
<polygon points="175.7,395.6 181.3,397.9 181.2,405.6 175.7,403" fill="#3a7d68" stroke="#3a7d68"/>
<polygon points="181.3,397.9 187.1,400.5 186.9,408.2 181.2,405.6" fill="#3a7d68" stroke="#3a7d68"/>
<polygon points="170.3,400.5 175.7,403 175.7,410.4 170.3,407.7" fill="#3a7d68" stroke="#3a7d68"/>
<polygon points="175.7,403 181.2,405.6 181.1,413.1 175.7,410.4" fill="#3a7d68" stroke="#3a7d68"/>
<polygon points="181.2,405.6 186.9,408.2 186.7,416 181.1,413.1" fill="#3a7d68" stroke="#3a7d68"/>
<polygon points="187.2,392.7 193.1,395.2 193,403.1 187.1,400.5" fill="#3a7d68" stroke="#3a7d68"/>
<polygon points="193.1,395.2 199.2,397.9 199,405.9 193,403.1" fill="#3a7d68" stroke="#3a7d68"/>
<polygon points="199.2,397.9 205.4,400.7 205.1,408.8 199,405.9" fill="#3b7e69" stroke="#3b7e69"/>
<polygon points="187.1,400.5 193,403.1 192.7,411 186.9,408.2" fill="#3a7d68" stroke="#3a7d68"/>
<polygon points="193,403.1 199,405.9 198.7,413.9 192.7,411" fill="#3a7d68" stroke="#3a7d68"/>
<polygon points="199,405.9 205.1,408.8 204.7,416.9 198.7,413.9" fill="#3a7e69" stroke="#3a7e69"/>
<polygon points="186.9,408.2 192.7,411 192.4,418.9 186.7,416" fill="#3a7d68" stroke="#3a7d68"/>
<polygon points="192.7,411 198.7,413.9 198.3,421.9 192.4,418.9" fill="#3a7d68" stroke="#3a7d68"/>
<polygon points="198.7,413.9 204.7,416.9 204.3,425.1 198.3,421.9" fill="#3a7d68" stroke="#3a7d68"/>
<polygon points="205.4,400.7 211.8,403.7 211.4,411.8 205.1,408.8" fill="#3c806b" stroke="#3c806b"/>
<polygon points="211.8,403.7 218.3,406.9 217.9,415.1 211.4,411.8" fill="#3e836d" stroke="#3e836d"/>
<polygon points="218.3,406.9 225,410.2 224.5,418.4 217.9,415.1" fill="#418771" stroke="#418771"/>
<polygon points="205.1,408.8 211.4,411.8 211,420 204.7,416.9" fill="#3b7f69" stroke="#3b7f69"/>
<polygon points="211.4,411.8 217.9,415.1 217.4,423.3 211,420" fill="#3c806b" stroke="#3c806b"/>
<polygon points="217.9,415.1 224.5,418.4 223.9,426.7 217.4,423.3" fill="#3e826d" stroke="#3e826d"/>
<polygon points="204.7,416.9 211,420 210.5,428.3 204.3,425.1" fill="#3a7e69" stroke="#3a7e69"/>
<polygon points="211,420 217.4,423.3 216.8,431.5 210.5,428.3" fill="#3b7e69" stroke="#3b7e69"/>
<polygon points="217.4,423.3 223.9,426.7 223.3,434.9 216.8,431.5" fill="#3c7f6a" stroke="#3c7f6a"/>
<polygon points="225,410.2 231.8,413.8 231.2,422 224.5,418.4" fill="#438a74" stroke="#438a74"/>
<polygon points="231.8,413.8 238.8,417.6 238.2,425.7 231.2,422" fill="#448c75" stroke="#448c75"/>
<polygon points="238.8,417.6 246,421.7 245.3,429.7 238.2,425.7" fill="#438a74" stroke="#438a74"/>
<polygon points="224.5,418.4 231.2,422 230.6,430.2 223.9,426.7" fill="#3f846e" stroke="#3f846e"/>
<polygon points="231.2,422 238.2,425.7 237.5,433.9 230.6,430.2" fill="#3f856f" stroke="#3f856f"/>
<polygon points="238.2,425.7 245.3,429.7 244.5,437.7 237.5,433.9" fill="#3f846e" stroke="#3f846e"/>
<polygon points="223.9,426.7 230.6,430.2 229.9,438.4 223.3,434.9" fill="#3c806b" stroke="#3c806b"/>
<polygon points="230.6,430.2 237.5,433.9 236.7,442.1 229.9,438.4" fill="#3c806b" stroke="#3c806b"/>
<polygon points="237.5,433.9 244.5,437.7 243.7,445.8 236.7,442.1" fill="#3c806b" stroke="#3c806b"/>
<polygon points="246,421.7 253.3,425.9 252.6,433.8 245.3,429.7" fill="#418771" stroke="#418771"/>
<polygon points="253.3,425.9 260.9,430.5 260,438.2 252.6,433.8" fill="#3e836d" stroke="#3e836d"/>
<polygon points="260.9,430.5 268.6,435.3 267.7,442.8 260,438.2" fill="#3c806b" stroke="#3c806b"/>
<polygon points="245.3,429.7 252.6,433.8 251.7,441.7 244.5,437.7" fill="#3e826d" stroke="#3e826d"/>
<polygon points="252.6,433.8 260,438.2 259.2,445.9 251.7,441.7" fill="#3c806b" stroke="#3c806b"/>
<polygon points="260,438.2 267.7,442.8 266.8,450.3 259.2,445.9" fill="#3b7f69" stroke="#3b7f69"/>
<polygon points="244.5,437.7 251.7,441.7 250.9,449.6 243.7,445.8" fill="#3c7f6a" stroke="#3c7f6a"/>
<polygon points="251.7,441.7 259.2,445.9 258.2,453.6 250.9,449.6" fill="#3b7e69" stroke="#3b7e69"/>
<polygon points="259.2,445.9 266.8,450.3 265.8,457.7 258.2,453.6" fill="#3a7e69" stroke="#3a7e69"/>
</g>
<path d="M151.0,267.2 L152.2,292.3 L153.4,316.1 L154.5,338.9 L155.4,360.5 L156.3,381.2 L157.0,401.0 M149.2,269.9 L164.5,276.4 L180.7,284.0 L197.3,299.6 L221.9,300.1 L247.6,308.8 L275.7,318.9 M153.0,268.2 L154.4,292.9 L155.6,316.5 L156.7,339.3 L157.6,361.0 L158.4,381.9 L159.1,402.0 M149.3,273.4 L164.8,279.5 L181.2,286.8 L198.0,301.7 L222.4,302.8 L247.8,311.7 L275.7,322.3 M155.0,269.1 L156.5,293.5 L157.8,317.0 L158.9,339.7 L159.8,361.5 L160.6,382.7 L161.1,403.1 M149.5,276.9 L165.1,282.6 L181.6,289.7 L198.6,303.9 L222.8,305.5 L248.1,314.7 L275.7,325.7 M157.0,270.0 L158.7,294.1 L160.1,317.4 L161.2,340.1 L162.1,362.1 L162.7,383.4 L163.2,404.1 M149.6,280.4 L165.3,285.8 L182.0,292.5 L199.2,306.2 L223.2,308.3 L248.3,317.7 L275.7,329.1 M159.1,271.0 L160.9,294.7 L162.4,317.9 L163.5,340.5 L164.3,362.6 L164.9,384.2 L165.3,405.2 M149.8,283.8 L165.6,288.9 L182.4,295.4 L199.8,308.5 L223.5,311.1 L248.5,320.7 L275.7,332.5 M161.3,271.9 L163.2,295.3 L164.7,318.4 L165.8,341.0 L166.6,363.2 L167.1,385.0 L167.5,406.2 M149.9,287.2 L165.9,292.1 L182.8,298.3 L200.3,310.8 L223.9,313.9 L248.6,323.7 L275.6,335.9 M163.4,272.9 L165.4,296.0 L167.0,318.9 L168.1,341.5 L168.9,363.8 L169.4,385.8 L169.6,407.3 M150.1,290.6 L166.1,295.2 L183.2,301.2 L200.9,313.2 L224.2,316.8 L248.8,326.8 L275.5,339.3 M165.6,273.8 L167.7,296.7 L169.3,319.5 L170.5,342.1 L171.2,364.5 L171.6,386.6 L171.8,408.4 M150.2,294.0 L166.4,298.3 L183.5,304.2 L201.3,315.7 L224.5,319.6 L248.9,329.8 L275.5,342.7 M167.8,274.8 L170.0,297.4 L171.7,320.0 L172.8,342.7 L173.6,365.2 L173.9,387.5 L173.9,409.5 M150.4,297.3 L166.6,301.4 L183.8,307.1 L201.8,318.2 L224.8,322.5 L249.0,332.9 L275.4,346.0 M170.0,275.7 L172.4,298.1 L174.1,320.6 L175.2,343.3 L175.9,365.8 L176.2,388.3 L176.2,410.6 M150.5,300.6 L166.8,304.6 L184.1,310.1 L202.2,320.7 L225.0,325.5 L249.1,336.0 L275.3,349.4 M172.3,276.7 L174.7,298.8 L176.5,321.3 L177.6,343.9 L178.3,366.6 L178.5,389.2 L178.4,411.7 M150.7,303.9 L167.0,307.7 L184.4,313.1 L202.6,323.3 L225.3,328.4 L249.2,339.1 L275.1,352.7 M174.5,277.7 L177.1,299.6 L178.9,321.9 L180.1,344.6 L180.7,367.3 L180.9,390.1 L180.6,412.9 M150.8,307.2 L167.2,310.8 L184.7,316.1 L203.0,326.0 L225.5,331.4 L249.2,342.2 L275.0,356.1 M176.7,278.9 L179.4,300.5 L181.3,322.7 L182.5,345.3 L183.1,368.1 L183.2,391.1 L182.9,414.0 M151.0,310.4 L167.4,313.9 L185.0,319.1 L203.4,328.6 L225.6,334.4 L249.3,345.3 L274.9,359.4 M178.8,280.2 L181.7,301.5 L183.7,323.5 L185.0,346.0 L185.5,368.9 L185.6,392.0 L185.2,415.2 M151.1,313.6 L167.6,317.0 L185.2,322.1 L203.7,331.4 L225.8,337.4 L249.3,348.4 L274.7,362.7 M180.9,281.8 L184.1,302.6 L186.2,324.4 L187.4,346.9 L188.0,369.8 L188.0,393.0 L187.5,416.4 M151.3,316.8 L167.8,320.1 L185.4,325.1 L204.0,334.1 L226.0,340.4 L249.3,351.6 L274.5,366.0 M183.0,283.7 L186.4,304.0 L188.6,325.5 L189.9,347.8 L190.5,370.7 L190.4,394.0 L189.8,417.6 M151.4,320.0 L168.0,323.2 L185.6,328.1 L204.3,336.9 L226.1,343.5 L249.3,354.7 L274.4,369.3 M185.0,286.0 L188.6,305.7 L191.0,326.7 L192.4,348.8 L193.0,371.7 L192.9,395.1 L192.2,418.8 M151.6,323.1 L168.2,326.3 L185.8,331.2 L204.5,339.7 L226.2,346.6 L249.2,357.9 L274.2,372.6 M187.1,288.6 L190.9,307.5 L193.5,328.0 L194.9,349.9 L195.5,372.7 L195.3,396.2 L194.6,420.0 M151.7,326.3 L168.3,329.4 L186.0,334.3 L204.7,342.6 L226.3,349.7 L249.2,361.1 L274.0,375.9 M189.2,291.3 L193.3,309.4 L196.0,329.4 L197.5,351.0 L198.0,373.7 L197.8,397.3 L197.0,421.2 M151.8,329.4 L168.5,332.5 L186.2,337.3 L204.9,345.5 L226.3,352.8 L249.1,364.3 L273.8,379.1 M191.4,293.9 L195.7,311.2 L198.5,330.8 L200.1,352.1 L200.6,374.8 L200.3,398.4 L199.4,422.5 M152.0,332.4 L168.6,335.6 L186.3,340.4 L205.1,348.4 L226.4,355.9 L249.1,367.5 L273.5,382.4 M193.9,296.0 L198.3,312.8 L201.2,332.1 L202.7,353.3 L203.2,375.9 L202.9,399.5 L201.8,423.8 M152.1,335.5 L168.8,338.7 L186.5,343.5 L205.3,351.4 L226.4,359.1 L249.0,370.7 L273.3,385.7 M196.6,297.5 L201.0,314.1 L203.9,333.2 L205.4,354.3 L205.8,377.0 L205.4,400.7 L204.3,425.1 M152.2,338.5 L168.9,341.7 L186.6,346.6 L205.4,354.3 L226.4,362.3 L248.9,373.9 L273.1,388.9 M199.5,298.2 L203.9,314.9 L206.7,334.1 L208.2,355.4 L208.5,378.1 L208.0,401.9 L206.8,426.3 M152.4,341.5 L169.0,344.8 L186.7,349.7 L205.5,357.4 L226.4,365.5 L248.8,377.1 L272.8,392.1 M202.6,298.3 L206.9,315.4 L209.6,334.9 L210.9,356.4 L211.2,379.3 L210.6,403.2 L209.3,427.7 M152.5,344.5 L169.1,347.8 L186.8,352.8 L205.6,360.4 L226.4,368.7 L248.6,380.3 L272.6,395.3 M206.0,298.0 L210.1,315.7 L212.6,335.6 L213.8,357.4 L213.9,380.4 L213.2,404.4 L211.9,429.0 M152.6,347.5 L169.2,350.9 L186.9,355.9 L205.7,363.5 L226.4,371.9 L248.5,383.6 L272.3,398.6 M209.5,297.5 L213.3,315.9 L215.6,336.3 L216.7,358.4 L216.7,381.6 L215.9,405.7 L214.5,430.3 M152.8,350.4 L169.4,353.9 L187.0,359.1 L205.8,366.6 L226.3,375.1 L248.3,386.8 L272.0,401.8 M213.1,297.1 L216.6,316.2 L218.7,337.1 L219.6,359.4 L219.5,382.8 L218.6,407.0 L217.1,431.7 M152.9,353.3 L169.5,357.0 L187.1,362.2 L205.8,369.7 L226.3,378.3 L248.2,390.1 L271.7,405.0 M216.7,297.0 L219.9,316.7 L221.8,338.0 L222.5,360.6 L222.3,384.1 L221.3,408.4 L219.7,433.1 M153.0,356.2 L169.5,360.0 L187.1,365.3 L205.8,372.8 L226.2,381.6 L248.0,393.3 L271.4,408.1 M220.3,297.3 L223.2,317.4 L224.9,339.0 L225.5,361.8 L225.1,385.5 L224.1,409.8 L222.4,434.5 M153.2,359.1 L169.6,363.1 L187.2,368.5 L205.8,376.0 L226.1,384.9 L247.8,396.6 L271.1,411.3 M223.8,297.9 L226.5,318.4 L228.0,340.2 L228.4,363.2 L228.0,386.9 L226.8,411.2 L225.1,435.9 M153.3,362.0 L169.7,366.1 L187.2,371.6 L205.8,379.1 L226.0,388.1 L247.6,399.8 L270.8,414.5 M227.3,298.8 L229.8,319.5 L231.1,341.6 L231.4,364.6 L230.9,388.4 L229.6,412.7 L227.8,437.3 M153.4,364.8 L169.8,369.1 L187.2,374.8 L205.8,382.3 L225.9,391.4 L247.4,403.1 L270.5,417.6 M230.8,299.9 L233.1,320.8 L234.3,343.0 L234.4,366.1 L233.8,389.9 L232.4,414.2 L230.5,438.8 M153.6,367.6 L169.9,372.1 L187.2,377.9 L205.8,385.5 L225.8,394.7 L247.2,406.4 L270.2,420.8 M234.3,301.1 L236.4,322.2 L237.4,344.5 L237.5,367.7 L236.7,391.4 L235.3,415.7 L233.3,440.2 M153.7,370.4 L169.9,375.1 L187.2,381.1 L205.7,388.8 L225.6,398.0 L246.9,409.6 L269.9,423.9 M237.8,302.4 L239.8,323.7 L240.6,346.1 L240.6,369.3 L239.7,393.1 L238.2,417.3 L236.1,441.7 M153.8,373.2 L170.0,378.1 L187.2,384.2 L205.7,392.0 L225.5,401.3 L246.7,412.9 L269.5,427.0 M241.3,303.7 L243.1,325.2 L243.8,347.7 L243.7,371.0 L242.7,394.7 L241.1,418.9 L238.9,443.2 M153.9,376.0 L170.0,381.1 L187.2,387.4 L205.6,395.3 L225.3,404.7 L246.4,416.2 L269.2,430.1 M244.9,305.0 L246.5,326.7 L247.1,349.4 L246.8,372.7 L245.7,396.5 L244.0,420.5 L241.8,444.8 M154.0,378.7 L170.1,384.1 L187.2,390.6 L205.5,398.5 L225.1,408.0 L246.2,419.5 L268.8,433.2 M248.5,306.3 L250.0,328.3 L250.4,351.1 L249.9,374.5 L248.8,398.3 L247.0,422.2 L244.7,446.3 M154.2,381.5 L170.1,387.0 L187.2,393.8 L205.4,401.8 L224.9,411.4 L245.9,422.8 L268.5,436.3 M252.2,307.5 L253.5,329.9 L253.7,352.9 L253.1,376.4 L251.9,400.1 L250.0,424.0 L247.6,447.9 M154.3,384.2 L170.2,390.0 L187.1,396.9 L205.3,405.1 L224.7,414.7 L245.6,426.0 L268.1,439.4 M255.9,308.8 L257.0,331.5 L257.1,354.8 L256.4,378.3 L255.0,402.0 L253.0,425.7 L250.5,449.4 M154.4,386.8 L170.2,393.0 L187.1,400.1 L205.1,408.4 L224.5,418.1 L245.3,429.3 L267.7,442.5 M259.8,310.2 L260.6,333.2 L260.5,356.7 L259.6,380.3 L258.1,403.9 L256.0,427.6 L253.5,451.1 M154.5,389.5 L170.2,395.9 L187.0,403.3 L205.0,411.7 L224.3,421.4 L245.0,432.6 L267.4,445.6 M263.6,311.5 L264.2,335.0 L264.0,358.6 L262.9,382.3 L261.3,406.0 L259.1,429.4 L256.5,452.7 M154.6,392.2 L170.3,398.9 L187.0,406.5 L204.8,415.0 L224.0,424.8 L244.7,435.9 L267.0,448.6 M267.6,312.8 L267.9,336.7 L267.5,360.7 L266.3,384.4 L264.5,408.0 L262.3,431.3 L259.6,454.3 M154.8,394.8 L170.3,401.8 L186.9,409.6 L204.7,418.4 L223.8,428.2 L244.4,439.2 L266.6,451.6 M271.6,314.1 L271.7,338.6 L271.0,362.7 L269.7,386.6 L267.8,410.2 L265.4,433.3 L262.7,456.0 M154.9,397.4 L170.3,404.7 L186.8,412.8 L204.5,421.7 L223.5,431.6 L244.0,442.5 L266.2,454.7" fill="none" stroke="#222" stroke-width="0.45" stroke-opacity="0.5"/>
<polygon points="234.8,318.3 232.3,338.3 229.6,357.5 226.9,376 224.1,393.8 221.2,411 218.3,427.6 215.3,443.6 212.3,459.1 214.3,460.1 217.3,444.6 220.3,428.6 223.2,412 226.1,394.8 228.9,377 231.6,358.5 234.3,339.3 236.8,319.3" fill="#3b4a40"/>
<g stroke-width="1.1">
<polygon points="91.3,267.7 97.8,269.7 97.1,278.3 90.5,276.3" fill="#ab3c3f" stroke="#ab3c3f"/>
<polygon points="97.8,269.7 104.5,271.7 103.9,280.4 97.1,278.3" fill="#ad3d40" stroke="#ad3d40"/>
<polygon points="104.5,271.7 111.4,273.8 110.7,282.6 103.9,280.4" fill="#b13f42" stroke="#b13f42"/>
<polygon points="90.5,276.3 97.1,278.3 96.6,286.8 90,284.7" fill="#ab3c3f" stroke="#ab3c3f"/>
<polygon points="97.1,278.3 103.9,280.4 103.3,289 96.6,286.8" fill="#ae3e41" stroke="#ae3e41"/>
<polygon points="103.9,280.4 110.7,282.6 110.2,291.2 103.3,289" fill="#b34043" stroke="#b34043"/>
<polygon points="90,284.7 96.6,286.8 96.1,295.2 89.5,293" fill="#ab3c3f" stroke="#ab3c3f"/>
<polygon points="96.6,286.8 103.3,289 102.9,297.4 96.1,295.2" fill="#ad3d40" stroke="#ad3d40"/>
<polygon points="103.3,289 110.2,291.2 109.7,299.7 102.9,297.4" fill="#b13f42" stroke="#b13f42"/>
<polygon points="111.4,273.8 118.3,276 117.7,284.8 110.7,282.6" fill="#eae9d5" stroke="#eae9d5"/>
<polygon points="118.3,276 125.5,278.3 124.9,287.2 117.7,284.8" fill="#f5f4df" stroke="#f5f4df"/>
<polygon points="125.5,278.3 132.8,280.7 132.2,289.6 124.9,287.2" fill="#ffffeb" stroke="#ffffeb"/>
<polygon points="110.7,282.6 117.7,284.8 117.2,293.5 110.2,291.2" fill="#eeedd9" stroke="#eeedd9"/>
<polygon points="117.7,284.8 124.9,287.2 124.4,295.9 117.2,293.5" fill="#faf9e4" stroke="#faf9e4"/>
<polygon points="124.9,287.2 132.2,289.6 131.7,298.4 124.4,295.9" fill="#fffff3" stroke="#fffff3"/>
<polygon points="110.2,291.2 117.2,293.5 116.8,302.1 109.7,299.7" fill="#eae9d4" stroke="#eae9d4"/>
<polygon points="117.2,293.5 124.4,295.9 123.9,304.5 116.8,302.1" fill="#f3f2de" stroke="#f3f2de"/>
<polygon points="124.4,295.9 131.7,298.4 131.2,307.1 123.9,304.5" fill="#ffffe9" stroke="#ffffe9"/>
<polygon points="132.8,280.7 140.2,283.2 139.7,292.1 132.2,289.6" fill="#55a58c" stroke="#55a58c"/>
<polygon points="140.2,283.2 147.8,285.7 147.3,294.7 139.7,292.1" fill="#5db197" stroke="#5db197"/>
<polygon points="147.8,285.7 155.6,288.4 155.1,297.4 147.3,294.7" fill="#65bca1" stroke="#65bca1"/>
<polygon points="132.2,289.6 139.7,292.1 139.1,300.9 131.7,298.4" fill="#5bad93" stroke="#5bad93"/>
<polygon points="139.7,292.1 147.3,294.7 146.7,303.6 139.1,300.9" fill="#65bba0" stroke="#65bba0"/>
<polygon points="147.3,294.7 155.1,297.4 154.5,306.3 146.7,303.6" fill="#6ec9ac" stroke="#6ec9ac"/>
<polygon points="131.7,298.4 139.1,300.9 138.6,309.7 131.2,307.1" fill="#54a38b" stroke="#54a38b"/>
<polygon points="139.1,300.9 146.7,303.6 146.2,312.3 138.6,309.7" fill="#5caf95" stroke="#5caf95"/>
<polygon points="146.7,303.6 154.5,306.3 153.9,315.1 146.2,312.3" fill="#63b99e" stroke="#63b99e"/>
<polygon points="155.6,288.4 163.6,291.2 163,300.3 155.1,297.4" fill="#6bc5a9" stroke="#6bc5a9"/>
<polygon points="163.6,291.2 171.8,294.1 171.2,303.2 163,300.3" fill="#6fcbae" stroke="#6fcbae"/>
<polygon points="171.8,294.1 180.1,297.2 179.5,306.2 171.2,303.2" fill="#6fccaf" stroke="#6fccaf"/>
<polygon points="155.1,297.4 163,300.3 162.4,309.2 154.5,306.3" fill="#75d4b6" stroke="#75d4b6"/>
<polygon points="163,300.3 171.2,303.2 170.5,312.1 162.4,309.2" fill="#79dabc" stroke="#79dabc"/>
<polygon points="171.2,303.2 179.5,306.2 178.8,315.2 170.5,312.1" fill="#7adbbd" stroke="#7adbbd"/>
<polygon points="154.5,306.3 162.4,309.2 161.8,318 153.9,315.1" fill="#69c2a6" stroke="#69c2a6"/>
<polygon points="162.4,309.2 170.5,312.1 169.9,320.9 161.8,318" fill="#6cc7ab" stroke="#6cc7ab"/>
<polygon points="170.5,312.1 178.8,315.2 178.1,324 169.9,320.9" fill="#6dc8ab" stroke="#6dc8ab"/>
<polygon points="180.1,297.2 188.7,300.3 188,309.4 179.5,306.2" fill="#6dc8ab" stroke="#6dc8ab"/>
<polygon points="188.7,300.3 197.5,303.6 196.7,312.7 188,309.4" fill="#67c0a4" stroke="#67c0a4"/>
<polygon points="197.5,303.6 206.5,307.1 205.6,316.1 196.7,312.7" fill="#60b59a" stroke="#60b59a"/>
<polygon points="179.5,306.2 188,309.4 187.3,318.4 178.8,315.2" fill="#77d6b8" stroke="#77d6b8"/>
<polygon points="188,309.4 196.7,312.7 195.9,321.6 187.3,318.4" fill="#70cdb0" stroke="#70cdb0"/>
<polygon points="196.7,312.7 205.6,316.1 204.8,325 195.9,321.6" fill="#68c0a4" stroke="#68c0a4"/>
<polygon points="178.8,315.2 187.3,318.4 186.5,327.2 178.1,324" fill="#6ac4a8" stroke="#6ac4a8"/>
<polygon points="187.3,318.4 195.9,321.6 195.1,330.4 186.5,327.2" fill="#65bca1" stroke="#65bca1"/>
<polygon points="195.9,321.6 204.8,325 203.9,333.8 195.1,330.4" fill="#5eb298" stroke="#5eb298"/>
<polygon points="206.5,307.1 215.7,310.6 214.8,319.7 205.6,316.1" fill="#58a990" stroke="#58a990"/>
<polygon points="215.7,310.6 225.1,314.4 224.1,323.4 214.8,319.7" fill="#509e85" stroke="#509e85"/>
<polygon points="225.1,314.4 234.8,318.3 233.7,327.3 224.1,323.4" fill="#4a947d" stroke="#4a947d"/>
<polygon points="205.6,316.1 214.8,319.7 213.8,328.6 204.8,325" fill="#5eb298" stroke="#5eb298"/>
<polygon points="214.8,319.7 224.1,323.4 223.1,332.3 213.8,328.6" fill="#55a48b" stroke="#55a48b"/>
<polygon points="224.1,323.4 233.7,327.3 232.6,336.1 223.1,332.3" fill="#4d9881" stroke="#4d9881"/>
<polygon points="204.8,325 213.8,328.6 212.9,337.3 203.9,333.8" fill="#57a78e" stroke="#57a78e"/>
<polygon points="213.8,328.6 223.1,332.3 222,341 212.9,337.3" fill="#4f9c84" stroke="#4f9c84"/>
<polygon points="223.1,332.3 232.6,336.1 231.4,344.8 222,341" fill="#49937c" stroke="#49937c"/>
<polygon points="89.5,293 96.1,295.2 95.8,303.5 89.2,301.2" fill="#3b7e69" stroke="#3b7e69"/>
<polygon points="96.1,295.2 102.9,297.4 102.6,305.8 95.8,303.5" fill="#3c7f6a" stroke="#3c7f6a"/>
<polygon points="102.9,297.4 109.7,299.7 109.4,308.1 102.6,305.8" fill="#3d816c" stroke="#3d816c"/>
<polygon points="89.2,301.2 95.8,303.5 95.7,311.6 89.1,309.3" fill="#3a7d68" stroke="#3a7d68"/>
<polygon points="95.8,303.5 102.6,305.8 102.3,314 95.7,311.6" fill="#3b7e69" stroke="#3b7e69"/>
<polygon points="102.6,305.8 109.4,308.1 109.1,316.4 102.3,314" fill="#3b7e69" stroke="#3b7e69"/>
<polygon points="89.1,309.3 95.7,311.6 95.6,319.7 89.1,317.3" fill="#3a7d68" stroke="#3a7d68"/>
<polygon points="95.7,311.6 102.3,314 102.2,322.1 95.6,319.7" fill="#3a7d68" stroke="#3a7d68"/>
<polygon points="102.3,314 109.1,316.4 109,324.6 102.2,322.1" fill="#3a7d68" stroke="#3a7d68"/>
<polygon points="109.7,299.7 116.8,302.1 116.4,310.5 109.4,308.1" fill="#b03e41" stroke="#b03e41"/>
<polygon points="116.8,302.1 123.9,304.5 123.5,313 116.4,310.5" fill="#b44144" stroke="#b44144"/>
<polygon points="123.9,304.5 131.2,307.1 130.7,315.6 123.5,313" fill="#ba4447" stroke="#ba4447"/>
<polygon points="109.4,308.1 116.4,310.5 116.1,318.9 109.1,316.4" fill="#ab3c3f" stroke="#ab3c3f"/>
<polygon points="116.4,310.5 123.5,313 123.1,321.4 116.1,318.9" fill="#ac3c3f" stroke="#ac3c3f"/>
<polygon points="123.5,313 130.7,315.6 130.3,324 123.1,321.4" fill="#ae3d41" stroke="#ae3d41"/>
<polygon points="109.1,316.4 116.1,318.9 115.8,327.1 109,324.6" fill="#a93a3d" stroke="#a93a3d"/>
<polygon points="116.1,318.9 123.1,321.4 122.8,329.7 115.8,327.1" fill="#a93b3e" stroke="#a93b3e"/>
<polygon points="123.1,321.4 130.3,324 130,332.4 122.8,329.7" fill="#a93b3e" stroke="#a93b3e"/>
<polygon points="131.2,307.1 138.6,309.7 138.1,318.2 130.7,315.6" fill="#48917a" stroke="#48917a"/>
<polygon points="138.6,309.7 146.2,312.3 145.7,321 138.1,318.2" fill="#4c977f" stroke="#4c977f"/>
<polygon points="146.2,312.3 153.9,315.1 153.4,323.8 145.7,321" fill="#509d85" stroke="#509d85"/>
<polygon points="130.7,315.6 138.1,318.2 137.7,326.7 130.3,324" fill="#3f846e" stroke="#3f846e"/>
<polygon points="138.1,318.2 145.7,321 145.2,329.5 137.7,326.7" fill="#408670" stroke="#408670"/>
<polygon points="145.7,321 153.4,323.8 152.8,332.3 145.2,329.5" fill="#428872" stroke="#428872"/>
<polygon points="130.3,324 137.7,326.7 137.3,335.1 130,332.4" fill="#3b7f69" stroke="#3b7f69"/>
<polygon points="137.7,326.7 145.2,329.5 144.7,337.9 137.3,335.1" fill="#3b7f6a" stroke="#3b7f6a"/>
<polygon points="145.2,329.5 152.8,332.3 152.3,340.7 144.7,337.9" fill="#3c806a" stroke="#3c806a"/>
<polygon points="153.9,315.1 161.8,318 161.2,326.7 153.4,323.8" fill="#fffff5" stroke="#fffff5"/>
<polygon points="161.8,318 169.9,320.9 169.2,329.6 161.2,326.7" fill="#fffff8" stroke="#fffff8"/>
<polygon points="169.9,320.9 178.1,324 177.4,332.7 169.2,329.6" fill="#fffff9" stroke="#fffff9"/>
<polygon points="153.4,323.8 161.2,326.7 160.6,335.2 152.8,332.3" fill="#eae9d5" stroke="#eae9d5"/>
<polygon points="161.2,326.7 169.2,329.6 168.6,338.2 160.6,335.2" fill="#ebead6" stroke="#ebead6"/>
<polygon points="169.2,329.6 177.4,332.7 176.7,341.3 168.6,338.2" fill="#ecebd6" stroke="#ecebd6"/>
<polygon points="152.8,332.3 160.6,335.2 160,343.6 152.3,340.7" fill="#dcdbc8" stroke="#dcdbc8"/>
<polygon points="160.6,335.2 168.6,338.2 167.9,346.6 160,343.6" fill="#dcdbc8" stroke="#dcdbc8"/>
<polygon points="168.6,338.2 176.7,341.3 175.9,349.7 167.9,346.6" fill="#dddcc8" stroke="#dddcc8"/>
<polygon points="178.1,324 186.5,327.2 185.7,335.9 177.4,332.7" fill="#fffff6" stroke="#fffff6"/>
<polygon points="186.5,327.2 195.1,330.4 194.3,339.1 185.7,335.9" fill="#fffff1" stroke="#fffff1"/>
<polygon points="195.1,330.4 203.9,333.8 203,342.5 194.3,339.1" fill="#ffffe9" stroke="#ffffe9"/>
<polygon points="177.4,332.7 185.7,335.9 184.9,344.4 176.7,341.3" fill="#ebead5" stroke="#ebead5"/>
<polygon points="185.7,335.9 194.3,339.1 193.4,347.7 184.9,344.4" fill="#e9e8d4" stroke="#e9e8d4"/>
<polygon points="194.3,339.1 203,342.5 202,351 193.4,347.7" fill="#e6e5d1" stroke="#e6e5d1"/>
<polygon points="176.7,341.3 184.9,344.4 184.1,352.8 175.9,349.7" fill="#dcdbc8" stroke="#dcdbc8"/>
<polygon points="184.9,344.4 193.4,347.7 192.5,356.1 184.1,352.8" fill="#dcdbc8" stroke="#dcdbc8"/>
<polygon points="193.4,347.7 202,351 201,359.4 192.5,356.1" fill="#dbdac7" stroke="#dbdac7"/>
<polygon points="203.9,333.8 212.9,337.3 211.9,346 203,342.5" fill="#c3494c" stroke="#c3494c"/>
<polygon points="212.9,337.3 222,341 220.9,349.6 211.9,346" fill="#bc4548" stroke="#bc4548"/>
<polygon points="222,341 231.4,344.8 230.2,353.3 220.9,349.6" fill="#b64245" stroke="#b64245"/>
<polygon points="203,342.5 211.9,346 210.8,354.4 202,351" fill="#b13f42" stroke="#b13f42"/>
<polygon points="211.9,346 220.9,349.6 219.8,358 210.8,354.4" fill="#af3e41" stroke="#af3e41"/>
<polygon points="220.9,349.6 230.2,353.3 229,361.7 219.8,358" fill="#ad3d40" stroke="#ad3d40"/>
<polygon points="202,351 210.8,354.4 209.8,362.8 201,359.4" fill="#aa3b3e" stroke="#aa3b3e"/>
<polygon points="210.8,354.4 219.8,358 218.7,366.3 209.8,362.8" fill="#aa3b3e" stroke="#aa3b3e"/>
<polygon points="219.8,358 229,361.7 227.8,369.9 218.7,366.3" fill="#a93b3e" stroke="#a93b3e"/>
<polygon points="89.1,317.3 95.6,319.7 95.6,327.7 89.2,325.2" fill="#3a7d68" stroke="#3a7d68"/>
<polygon points="95.6,319.7 102.2,322.1 102.2,330.1 95.6,327.7" fill="#3a7d68" stroke="#3a7d68"/>
<polygon points="102.2,322.1 109,324.6 108.9,332.7 102.2,330.1" fill="#3a7d68" stroke="#3a7d68"/>
<polygon points="89.2,325.2 95.6,327.7 95.8,335.5 89.4,333" fill="#3a7d68" stroke="#3a7d68"/>
<polygon points="95.6,327.7 102.2,330.1 102.2,338 95.8,335.5" fill="#3a7d68" stroke="#3a7d68"/>
<polygon points="102.2,330.1 108.9,332.7 108.8,340.6 102.2,338" fill="#3a7d68" stroke="#3a7d68"/>
<polygon points="89.4,333 95.8,335.5 96,343.3 89.8,340.7" fill="#3a7d68" stroke="#3a7d68"/>
<polygon points="95.8,335.5 102.2,338 102.4,345.9 96,343.3" fill="#3a7d68" stroke="#3a7d68"/>
<polygon points="102.2,338 108.8,340.6 108.9,348.5 102.4,345.9" fill="#3a7d68" stroke="#3a7d68"/>
<polygon points="109,324.6 115.8,327.1 115.7,335.2 108.9,332.7" fill="#d8d7c4" stroke="#d8d7c4"/>
<polygon points="115.8,327.1 122.8,329.7 122.6,337.9 115.7,335.2" fill="#d8d7c4" stroke="#d8d7c4"/>
<polygon points="122.8,329.7 130,332.4 129.7,340.6 122.6,337.9" fill="#d8d7c4" stroke="#d8d7c4"/>
<polygon points="108.9,332.7 115.7,335.2 115.5,343.3 108.8,340.6" fill="#d8d7c4" stroke="#d8d7c4"/>
<polygon points="115.7,335.2 122.6,337.9 122.4,345.9 115.5,343.3" fill="#d8d7c4" stroke="#d8d7c4"/>
<polygon points="122.6,337.9 129.7,340.6 129.4,348.7 122.4,345.9" fill="#d8d7c4" stroke="#d8d7c4"/>
<polygon points="108.8,340.6 115.5,343.3 115.5,351.2 108.9,348.5" fill="#d8d7c4" stroke="#d8d7c4"/>
<polygon points="115.5,343.3 122.4,345.9 122.2,353.9 115.5,351.2" fill="#d8d7c4" stroke="#d8d7c4"/>
<polygon points="122.4,345.9 129.4,348.7 129.1,356.7 122.2,353.9" fill="#d8d7c4" stroke="#d8d7c4"/>
<polygon points="130,332.4 137.3,335.1 136.9,343.3 129.7,340.6" fill="#a83a3d" stroke="#a83a3d"/>
<polygon points="137.3,335.1 144.7,337.9 144.2,346.1 136.9,343.3" fill="#a83a3d" stroke="#a83a3d"/>
<polygon points="144.7,337.9 152.3,340.7 151.7,349 144.2,346.1" fill="#a83a3d" stroke="#a83a3d"/>
<polygon points="129.7,340.6 136.9,343.3 136.5,351.5 129.4,348.7" fill="#a83a3d" stroke="#a83a3d"/>
<polygon points="136.9,343.3 144.2,346.1 143.8,354.3 136.5,351.5" fill="#a83a3d" stroke="#a83a3d"/>
<polygon points="144.2,346.1 151.7,349 151.2,357.2 143.8,354.3" fill="#a83a3d" stroke="#a83a3d"/>
<polygon points="129.4,348.7 136.5,351.5 136.2,359.5 129.1,356.7" fill="#a83a3d" stroke="#a83a3d"/>
<polygon points="136.5,351.5 143.8,354.3 143.3,362.4 136.2,359.5" fill="#a83a3d" stroke="#a83a3d"/>
<polygon points="143.8,354.3 151.2,357.2 150.7,365.3 143.3,362.4" fill="#a83a3d" stroke="#a83a3d"/>
<polygon points="152.3,340.7 160,343.6 159.4,351.9 151.7,349" fill="#3a7d68" stroke="#3a7d68"/>
<polygon points="160,343.6 167.9,346.6 167.2,354.9 159.4,351.9" fill="#3a7d68" stroke="#3a7d68"/>
<polygon points="167.9,346.6 175.9,349.7 175.1,358 167.2,354.9" fill="#3a7d68" stroke="#3a7d68"/>
<polygon points="151.7,349 159.4,351.9 158.7,360.1 151.2,357.2" fill="#3a7d68" stroke="#3a7d68"/>
<polygon points="159.4,351.9 167.2,354.9 166.5,363.1 158.7,360.1" fill="#3a7d68" stroke="#3a7d68"/>
<polygon points="167.2,354.9 175.1,358 174.4,366.2 166.5,363.1" fill="#3a7d68" stroke="#3a7d68"/>
<polygon points="151.2,357.2 158.7,360.1 158.1,368.2 150.7,365.3" fill="#3a7d68" stroke="#3a7d68"/>
<polygon points="158.7,360.1 166.5,363.1 165.8,371.2 158.1,368.2" fill="#3a7d68" stroke="#3a7d68"/>
<polygon points="166.5,363.1 174.4,366.2 173.6,374.3 165.8,371.2" fill="#3a7d68" stroke="#3a7d68"/>
<polygon points="175.9,349.7 184.1,352.8 183.3,361.2 175.1,358" fill="#a93a3d" stroke="#a93a3d"/>
<polygon points="184.1,352.8 192.5,356.1 191.6,364.4 183.3,361.2" fill="#a83a3d" stroke="#a83a3d"/>
<polygon points="192.5,356.1 201,359.4 200,367.7 191.6,364.4" fill="#a83a3d" stroke="#a83a3d"/>
<polygon points="175.1,358 183.3,361.2 182.4,369.3 174.4,366.2" fill="#a83a3d" stroke="#a83a3d"/>
<polygon points="183.3,361.2 191.6,364.4 190.6,372.5 182.4,369.3" fill="#a83a3d" stroke="#a83a3d"/>
<polygon points="191.6,364.4 200,367.7 199,375.8 190.6,372.5" fill="#a83a3d" stroke="#a83a3d"/>
<polygon points="174.4,366.2 182.4,369.3 181.5,377.4 173.6,374.3" fill="#a83a3d" stroke="#a83a3d"/>
<polygon points="182.4,369.3 190.6,372.5 189.7,380.6 181.5,377.4" fill="#a83a3d" stroke="#a83a3d"/>
<polygon points="190.6,372.5 199,375.8 198,383.8 189.7,380.6" fill="#a83a3d" stroke="#a83a3d"/>
<polygon points="201,359.4 209.8,362.8 208.7,371 200,367.7" fill="#3a7d68" stroke="#3a7d68"/>
<polygon points="209.8,362.8 218.7,366.3 217.5,374.5 208.7,371" fill="#3a7d68" stroke="#3a7d68"/>
<polygon points="218.7,366.3 227.8,369.9 226.6,378 217.5,374.5" fill="#3a7d68" stroke="#3a7d68"/>
<polygon points="200,367.7 208.7,371 207.6,379.1 199,375.8" fill="#3a7d68" stroke="#3a7d68"/>
<polygon points="208.7,371 217.5,374.5 216.4,382.5 207.6,379.1" fill="#3a7d68" stroke="#3a7d68"/>
<polygon points="217.5,374.5 226.6,378 225.3,386 216.4,382.5" fill="#3a7d68" stroke="#3a7d68"/>
<polygon points="199,375.8 207.6,379.1 206.5,387.1 198,383.8" fill="#3a7d68" stroke="#3a7d68"/>
<polygon points="207.6,379.1 216.4,382.5 215.2,390.4 206.5,387.1" fill="#3a7d68" stroke="#3a7d68"/>
<polygon points="216.4,382.5 225.3,386 224.1,393.8 215.2,390.4" fill="#3a7d68" stroke="#3a7d68"/>
<polygon points="89.8,340.7 96,343.3 96.3,350.9 90.2,348.3" fill="#a83a3d" stroke="#a83a3d"/>
<polygon points="96,343.3 102.4,345.9 102.6,353.6 96.3,350.9" fill="#a83a3d" stroke="#a83a3d"/>
<polygon points="102.4,345.9 108.9,348.5 109,356.3 102.6,353.6" fill="#a83a3d" stroke="#a83a3d"/>
<polygon points="90.2,348.3 96.3,350.9 96.8,358.5 90.8,355.8" fill="#a83a3d" stroke="#a83a3d"/>
<polygon points="96.3,350.9 102.6,353.6 102.9,361.2 96.8,358.5" fill="#a83a3d" stroke="#a83a3d"/>
<polygon points="102.6,353.6 109,356.3 109.1,363.9 102.9,361.2" fill="#a83a3d" stroke="#a83a3d"/>
<polygon points="90.8,355.8 96.8,358.5 97.3,365.9 91.4,363.2" fill="#a83a3d" stroke="#a83a3d"/>
<polygon points="96.8,358.5 102.9,361.2 103.2,368.7 97.3,365.9" fill="#a83a3d" stroke="#a83a3d"/>
<polygon points="102.9,361.2 109.1,363.9 109.4,371.5 103.2,368.7" fill="#a83a3d" stroke="#a83a3d"/>
<polygon points="108.9,348.5 115.5,351.2 115.5,359 109,356.3" fill="#a83a3d" stroke="#a83a3d"/>
<polygon points="115.5,351.2 122.2,353.9 122.1,361.8 115.5,359" fill="#a83a3d" stroke="#a83a3d"/>
<polygon points="122.2,353.9 129.1,356.7 128.9,364.6 122.1,361.8" fill="#a83a3d" stroke="#a83a3d"/>
<polygon points="109,356.3 115.5,359 115.5,366.7 109.1,363.9" fill="#a83a3d" stroke="#a83a3d"/>
<polygon points="115.5,359 122.1,361.8 122.1,369.5 115.5,366.7" fill="#a83a3d" stroke="#a83a3d"/>
<polygon points="122.1,361.8 128.9,364.6 128.7,372.3 122.1,369.5" fill="#a83a3d" stroke="#a83a3d"/>
<polygon points="109.1,363.9 115.5,366.7 115.6,374.3 109.4,371.5" fill="#a83a3d" stroke="#a83a3d"/>
<polygon points="115.5,366.7 122.1,369.5 122,377.2 115.6,374.3" fill="#a83a3d" stroke="#a83a3d"/>
<polygon points="122.1,369.5 128.7,372.3 128.6,380 122,377.2" fill="#a83a3d" stroke="#a83a3d"/>
<polygon points="129.1,356.7 136.2,359.5 135.8,367.4 128.9,364.6" fill="#d8d7c4" stroke="#d8d7c4"/>
<polygon points="136.2,359.5 143.3,362.4 142.9,370.3 135.8,367.4" fill="#d8d7c4" stroke="#d8d7c4"/>
<polygon points="143.3,362.4 150.7,365.3 150.1,373.2 142.9,370.3" fill="#d8d7c4" stroke="#d8d7c4"/>
<polygon points="128.9,364.6 135.8,367.4 135.5,375.2 128.7,372.3" fill="#d8d7c4" stroke="#d8d7c4"/>
<polygon points="135.8,367.4 142.9,370.3 142.5,378.1 135.5,375.2" fill="#d8d7c4" stroke="#d8d7c4"/>
<polygon points="142.9,370.3 150.1,373.2 149.6,381.1 142.5,378.1" fill="#d8d7c4" stroke="#d8d7c4"/>
<polygon points="128.7,372.3 135.5,375.2 135.3,382.9 128.6,380" fill="#d9d8c5" stroke="#d9d8c5"/>
<polygon points="135.5,375.2 142.5,378.1 142.1,385.9 135.3,382.9" fill="#d9d8c5" stroke="#d9d8c5"/>
<polygon points="142.5,378.1 149.6,381.1 149.1,388.8 142.1,385.9" fill="#d9d8c5" stroke="#d9d8c5"/>
<polygon points="150.7,365.3 158.1,368.2 157.5,376.2 150.1,373.2" fill="#3a7d68" stroke="#3a7d68"/>
<polygon points="158.1,368.2 165.8,371.2 165,379.2 157.5,376.2" fill="#3a7d68" stroke="#3a7d68"/>
<polygon points="165.8,371.2 173.6,374.3 172.7,382.3 165,379.2" fill="#3a7d68" stroke="#3a7d68"/>
<polygon points="150.1,373.2 157.5,376.2 156.9,384.1 149.6,381.1" fill="#3a7d68" stroke="#3a7d68"/>
<polygon points="157.5,376.2 165,379.2 164.3,387.1 156.9,384.1" fill="#3a7d68" stroke="#3a7d68"/>
<polygon points="165,379.2 172.7,382.3 171.9,390.1 164.3,387.1" fill="#3a7d68" stroke="#3a7d68"/>
<polygon points="149.6,381.1 156.9,384.1 156.3,391.8 149.1,388.8" fill="#3b7e69" stroke="#3b7e69"/>
<polygon points="156.9,384.1 164.3,387.1 163.6,394.8 156.3,391.8" fill="#3b7e69" stroke="#3b7e69"/>
<polygon points="164.3,387.1 171.9,390.1 171.1,397.9 163.6,394.8" fill="#3a7e68" stroke="#3a7e68"/>
<polygon points="173.6,374.3 181.5,377.4 180.6,385.4 172.7,382.3" fill="#d8d7c4" stroke="#d8d7c4"/>
<polygon points="181.5,377.4 189.7,380.6 188.7,388.5 180.6,385.4" fill="#d8d7c4" stroke="#d8d7c4"/>
<polygon points="189.7,380.6 198,383.8 196.9,391.7 188.7,388.5" fill="#d8d7c4" stroke="#d8d7c4"/>
<polygon points="172.7,382.3 180.6,385.4 179.7,393.2 171.9,390.1" fill="#d8d7c4" stroke="#d8d7c4"/>
<polygon points="180.6,385.4 188.7,388.5 187.7,396.3 179.7,393.2" fill="#d8d7c4" stroke="#d8d7c4"/>
<polygon points="188.7,388.5 196.9,391.7 195.8,399.5 187.7,396.3" fill="#d8d7c4" stroke="#d8d7c4"/>
<polygon points="171.9,390.1 179.7,393.2 178.8,400.9 171.1,397.9" fill="#d8d7c4" stroke="#d8d7c4"/>
<polygon points="179.7,393.2 187.7,396.3 186.7,404 178.8,400.9" fill="#d8d7c4" stroke="#d8d7c4"/>
<polygon points="187.7,396.3 195.8,399.5 194.7,407.1 186.7,404" fill="#d8d7c4" stroke="#d8d7c4"/>
<polygon points="198,383.8 206.5,387.1 205.3,394.9 196.9,391.7" fill="#3a7d68" stroke="#3a7d68"/>
<polygon points="206.5,387.1 215.2,390.4 214,398.2 205.3,394.9" fill="#3a7d68" stroke="#3a7d68"/>
<polygon points="215.2,390.4 224.1,393.8 222.8,401.5 214,398.2" fill="#3a7d68" stroke="#3a7d68"/>
<polygon points="196.9,391.7 205.3,394.9 204.2,402.7 195.8,399.5" fill="#3a7d68" stroke="#3a7d68"/>
<polygon points="205.3,394.9 214,398.2 212.7,405.9 204.2,402.7" fill="#3a7d68" stroke="#3a7d68"/>
<polygon points="214,398.2 222.8,401.5 221.5,409.1 212.7,405.9" fill="#3a7d68" stroke="#3a7d68"/>
<polygon points="195.8,399.5 204.2,402.7 203,410.3 194.7,407.1" fill="#3a7d68" stroke="#3a7d68"/>
<polygon points="204.2,402.7 212.7,405.9 211.5,413.4 203,410.3" fill="#3a7d68" stroke="#3a7d68"/>
<polygon points="212.7,405.9 221.5,409.1 220.2,416.6 211.5,413.4" fill="#3a7d68" stroke="#3a7d68"/>
<polygon points="91.4,363.2 97.3,365.9 97.8,373.3 92.1,370.5" fill="#3a7d68" stroke="#3a7d68"/>
<polygon points="97.3,365.9 103.2,368.7 103.7,376.1 97.8,373.3" fill="#3a7d68" stroke="#3a7d68"/>
<polygon points="103.2,368.7 109.4,371.5 109.7,378.9 103.7,376.1" fill="#3a7d68" stroke="#3a7d68"/>
<polygon points="92.1,370.5 97.8,373.3 98.5,380.5 92.9,377.7" fill="#3a7d68" stroke="#3a7d68"/>
<polygon points="97.8,373.3 103.7,376.1 104.2,383.4 98.5,380.5" fill="#3a7d68" stroke="#3a7d68"/>
<polygon points="103.7,376.1 109.7,378.9 110,386.3 104.2,383.4" fill="#3a7d68" stroke="#3a7d68"/>
<polygon points="92.9,377.7 98.5,380.5 99.2,387.7 93.8,384.8" fill="#3a7d68" stroke="#3a7d68"/>
<polygon points="98.5,380.5 104.2,383.4 104.7,390.6 99.2,387.7" fill="#3a7d68" stroke="#3a7d68"/>
<polygon points="104.2,383.4 110,386.3 110.4,393.6 104.7,390.6" fill="#3a7d68" stroke="#3a7d68"/>
<polygon points="109.4,371.5 115.6,374.3 115.8,381.8 109.7,378.9" fill="#a83a3d" stroke="#a83a3d"/>
<polygon points="115.6,374.3 122,377.2 122,384.7 115.8,381.8" fill="#a93a3d" stroke="#a93a3d"/>
<polygon points="122,377.2 128.6,380 128.4,387.6 122,384.7" fill="#a93b3e" stroke="#a93b3e"/>
<polygon points="109.7,378.9 115.8,381.8 116,389.2 110,386.3" fill="#a93a3d" stroke="#a93a3d"/>
<polygon points="115.8,381.8 122,384.7 122.1,392.1 116,389.2" fill="#aa3b3e" stroke="#aa3b3e"/>
<polygon points="122,384.7 128.4,387.6 128.3,395.1 122.1,392.1" fill="#ab3c3f" stroke="#ab3c3f"/>
<polygon points="110,386.3 116,389.2 116.2,396.5 110.4,393.6" fill="#a93b3e" stroke="#a93b3e"/>
<polygon points="116,389.2 122.1,392.1 122.1,399.5 116.2,396.5" fill="#ab3c3f" stroke="#ab3c3f"/>
<polygon points="122.1,392.1 128.3,395.1 128.2,402.5 122.1,399.5" fill="#af3e41" stroke="#af3e41"/>
<polygon points="128.6,380 135.3,382.9 135,390.5 128.4,387.6" fill="#dbdac7" stroke="#dbdac7"/>
<polygon points="135.3,382.9 142.1,385.9 141.7,393.5 135,390.5" fill="#dcdbc8" stroke="#dcdbc8"/>
<polygon points="142.1,385.9 149.1,388.8 148.6,396.5 141.7,393.5" fill="#dddcc9" stroke="#dddcc9"/>
<polygon points="128.4,387.6 135,390.5 134.7,398.1 128.3,395.1" fill="#e0dfcb" stroke="#e0dfcb"/>
<polygon points="135,390.5 141.7,393.5 141.3,401 134.7,398.1" fill="#e4e3cf" stroke="#e4e3cf"/>
<polygon points="141.7,393.5 148.6,396.5 148.1,404 141.3,401" fill="#e6e5d1" stroke="#e6e5d1"/>
<polygon points="128.3,395.1 134.7,398.1 134.5,405.5 128.2,402.5" fill="#e7e6d2" stroke="#e7e6d2"/>
<polygon points="134.7,398.1 141.3,401 141,408.5 134.5,405.5" fill="#efeed9" stroke="#efeed9"/>
<polygon points="141.3,401 148.1,404 147.6,411.5 141,408.5" fill="#f4f3de" stroke="#f4f3de"/>
<polygon points="149.1,388.8 156.3,391.8 155.6,399.5 148.6,396.5" fill="#3d816b" stroke="#3d816b"/>
<polygon points="156.3,391.8 163.6,394.8 162.8,402.5 155.6,399.5" fill="#3c806b" stroke="#3c806b"/>
<polygon points="163.6,394.8 171.1,397.9 170.2,405.5 162.8,402.5" fill="#3b7f6a" stroke="#3b7f6a"/>
<polygon points="148.6,396.5 155.6,399.5 155,407 148.1,404" fill="#418771" stroke="#418771"/>
<polygon points="155.6,399.5 162.8,402.5 162.1,410 155,407" fill="#40856f" stroke="#40856f"/>
<polygon points="162.8,402.5 170.2,405.5 169.4,413.1 162.1,410" fill="#3e826d" stroke="#3e826d"/>
<polygon points="148.1,404 155,407 154.4,414.5 147.6,411.5" fill="#47917a" stroke="#47917a"/>
<polygon points="155,407 162.1,410 161.4,417.5 154.4,414.5" fill="#458d76" stroke="#458d76"/>
<polygon points="162.1,410 169.4,413.1 168.5,420.5 161.4,417.5" fill="#418872" stroke="#418872"/>
<polygon points="171.1,397.9 178.8,400.9 177.8,408.6 170.2,405.5" fill="#dad9c5" stroke="#dad9c5"/>
<polygon points="178.8,400.9 186.7,404 185.6,411.6 177.8,408.6" fill="#d9d8c5" stroke="#d9d8c5"/>
<polygon points="186.7,404 194.7,407.1 193.6,414.7 185.6,411.6" fill="#d8d7c4" stroke="#d8d7c4"/>
<polygon points="170.2,405.5 177.8,408.6 176.9,416.1 169.4,413.1" fill="#dcdbc8" stroke="#dcdbc8"/>
<polygon points="177.8,408.6 185.6,411.6 184.6,419.1 176.9,416.1" fill="#dad9c6" stroke="#dad9c6"/>
<polygon points="185.6,411.6 193.6,414.7 192.5,422.1 184.6,419.1" fill="#d9d8c5" stroke="#d9d8c5"/>
<polygon points="169.4,413.1 176.9,416.1 175.9,423.5 168.5,420.5" fill="#e0dfcc" stroke="#e0dfcc"/>
<polygon points="176.9,416.1 184.6,419.1 183.5,426.5 175.9,423.5" fill="#dcdbc7" stroke="#dcdbc7"/>
<polygon points="184.6,419.1 192.5,422.1 191.4,429.5 183.5,426.5" fill="#d9d8c5" stroke="#d9d8c5"/>
<polygon points="194.7,407.1 203,410.3 201.8,417.8 193.6,414.7" fill="#3a7d68" stroke="#3a7d68"/>
<polygon points="203,410.3 211.5,413.4 210.3,420.9 201.8,417.8" fill="#3a7d68" stroke="#3a7d68"/>
<polygon points="211.5,413.4 220.2,416.6 218.9,424 210.3,420.9" fill="#3a7d68" stroke="#3a7d68"/>
<polygon points="193.6,414.7 201.8,417.8 200.6,425.2 192.5,422.1" fill="#3a7d68" stroke="#3a7d68"/>
<polygon points="201.8,417.8 210.3,420.9 209,428.2 200.6,425.2" fill="#3a7d68" stroke="#3a7d68"/>
<polygon points="210.3,420.9 218.9,424 217.6,431.2 209,428.2" fill="#3a7d68" stroke="#3a7d68"/>
<polygon points="192.5,422.1 200.6,425.2 199.4,432.5 191.4,429.5" fill="#3a7d68" stroke="#3a7d68"/>
<polygon points="200.6,425.2 209,428.2 207.7,435.4 199.4,432.5" fill="#3a7d68" stroke="#3a7d68"/>
<polygon points="209,428.2 217.6,431.2 216.3,438.3 207.7,435.4" fill="#3a7d68" stroke="#3a7d68"/>
<polygon points="93.8,384.8 99.2,387.7 100,394.8 94.8,391.8" fill="#3a7d68" stroke="#3a7d68"/>
<polygon points="99.2,387.7 104.7,390.6 105.3,397.8 100,394.8" fill="#3a7d68" stroke="#3a7d68"/>
<polygon points="104.7,390.6 110.4,393.6 110.8,400.8 105.3,397.8" fill="#3a7d68" stroke="#3a7d68"/>
<polygon points="94.8,391.8 100,394.8 100.8,401.8 95.8,398.8" fill="#3a7d68" stroke="#3a7d68"/>
<polygon points="100,394.8 105.3,397.8 106,404.8 100.8,401.8" fill="#3a7d68" stroke="#3a7d68"/>
<polygon points="105.3,397.8 110.8,400.8 111.3,407.8 106,404.8" fill="#3a7d68" stroke="#3a7d68"/>
<polygon points="95.8,398.8 100.8,401.8 101.7,408.7 96.9,405.6" fill="#3a7d68" stroke="#3a7d68"/>
<polygon points="100.8,401.8 106,404.8 106.7,411.8 101.7,408.7" fill="#3a7d68" stroke="#3a7d68"/>
<polygon points="106,404.8 111.3,407.8 111.8,414.8 106.7,411.8" fill="#3a7d68" stroke="#3a7d68"/>
<polygon points="110.4,393.6 116.2,396.5 116.4,403.8 110.8,400.8" fill="#aa3b3e" stroke="#aa3b3e"/>
<polygon points="116.2,396.5 122.1,399.5 122.2,406.8 116.4,403.8" fill="#ac3c40" stroke="#ac3c40"/>
<polygon points="122.1,399.5 128.2,402.5 128.2,409.8 122.2,406.8" fill="#b24043" stroke="#b24043"/>
<polygon points="110.8,400.8 116.4,403.8 116.7,410.9 111.3,407.8" fill="#aa3b3e" stroke="#aa3b3e"/>
<polygon points="116.4,403.8 122.2,406.8 122.4,413.9 116.7,410.9" fill="#ad3d40" stroke="#ad3d40"/>
<polygon points="122.2,406.8 128.2,409.8 128.2,417 122.4,413.9" fill="#b34043" stroke="#b34043"/>
<polygon points="111.3,407.8 116.7,410.9 117.1,417.9 111.8,414.8" fill="#a93b3e" stroke="#a93b3e"/>
<polygon points="116.7,410.9 122.4,413.9 122.5,421 117.1,417.9" fill="#ac3c3f" stroke="#ac3c3f"/>
<polygon points="122.4,413.9 128.2,417 128.1,424.1 122.5,421" fill="#b03f42" stroke="#b03f42"/>
<polygon points="128.2,402.5 134.5,405.5 134.3,412.8 128.2,409.8" fill="#ba4448" stroke="#ba4448"/>
<polygon points="134.5,405.5 141,408.5 140.6,415.8 134.3,412.8" fill="#c44a4d" stroke="#c44a4d"/>
<polygon points="141,408.5 147.6,411.5 147.1,418.8 140.6,415.8" fill="#ca4d51" stroke="#ca4d51"/>
<polygon points="128.2,409.8 134.3,412.8 134.1,420 128.2,417" fill="#bc4548" stroke="#bc4548"/>
<polygon points="134.3,412.8 140.6,415.8 140.3,423 134.1,420" fill="#c64b4e" stroke="#c64b4e"/>
<polygon points="140.6,415.8 147.1,418.8 146.6,426.1 140.3,423" fill="#cc4f52" stroke="#cc4f52"/>
<polygon points="128.2,417 134.1,420 133.9,427.1 128.1,424.1" fill="#b74346" stroke="#b74346"/>
<polygon points="134.1,420 140.3,423 139.9,430.2 133.9,427.1" fill="#bf474a" stroke="#bf474a"/>
<polygon points="140.3,423 146.6,426.1 146.1,433.2 139.9,430.2" fill="#c44a4d" stroke="#c44a4d"/>
<polygon points="147.6,411.5 154.4,414.5 153.7,421.8 147.1,418.8" fill="#ffffea" stroke="#ffffea"/>
<polygon points="154.4,414.5 161.4,417.5 160.6,424.8 153.7,421.8" fill="#f9f8e3" stroke="#f9f8e3"/>
<polygon points="161.4,417.5 168.5,420.5 167.7,427.8 160.6,424.8" fill="#eeedd9" stroke="#eeedd9"/>
<polygon points="147.1,418.8 153.7,421.8 153.1,429.1 146.6,426.1" fill="#ffffed" stroke="#ffffed"/>
<polygon points="153.7,421.8 160.6,424.8 159.9,432.1 153.1,429.1" fill="#fbfae5" stroke="#fbfae5"/>
<polygon points="160.6,424.8 167.7,427.8 166.8,435.1 159.9,432.1" fill="#efeeda" stroke="#efeeda"/>
<polygon points="146.6,426.1 153.1,429.1 152.5,436.2 146.1,433.2" fill="#faf9e4" stroke="#faf9e4"/>
<polygon points="153.1,429.1 159.9,432.1 159.1,439.2 152.5,436.2" fill="#f4f3de" stroke="#f4f3de"/>
<polygon points="159.9,432.1 166.8,435.1 165.9,442.2 159.1,439.2" fill="#eae9d5" stroke="#eae9d5"/>
<polygon points="168.5,420.5 175.9,423.5 175,430.8 167.7,427.8" fill="#40856f" stroke="#40856f"/>
<polygon points="175.9,423.5 183.5,426.5 182.5,433.8 175,430.8" fill="#3c816b" stroke="#3c816b"/>
<polygon points="183.5,426.5 191.4,429.5 190.2,436.7 182.5,433.8" fill="#3b7e69" stroke="#3b7e69"/>
<polygon points="167.7,427.8 175,430.8 174,438 166.8,435.1" fill="#408670" stroke="#408670"/>
<polygon points="175,430.8 182.5,433.8 181.4,440.9 174,438" fill="#3d816b" stroke="#3d816b"/>
<polygon points="182.5,433.8 190.2,436.7 189.1,443.8 181.4,440.9" fill="#3b7e69" stroke="#3b7e69"/>
<polygon points="166.8,435.1 174,438 173,445.1 165.9,442.2" fill="#3f846e" stroke="#3f846e"/>
<polygon points="174,438 181.4,440.9 180.3,448 173,445.1" fill="#3c806b" stroke="#3c806b"/>
<polygon points="181.4,440.9 189.1,443.8 187.9,450.9 180.3,448" fill="#3b7e69" stroke="#3b7e69"/>
<polygon points="191.4,429.5 199.4,432.5 198.2,439.6 190.2,436.7" fill="#3a7d68" stroke="#3a7d68"/>
<polygon points="199.4,432.5 207.7,435.4 206.4,442.5 198.2,439.6" fill="#3a7d68" stroke="#3a7d68"/>
<polygon points="207.7,435.4 216.3,438.3 215,445.4 206.4,442.5" fill="#3a7d68" stroke="#3a7d68"/>
<polygon points="190.2,436.7 198.2,439.6 197,446.7 189.1,443.8" fill="#3a7d68" stroke="#3a7d68"/>
<polygon points="198.2,439.6 206.4,442.5 205.2,449.5 197,446.7" fill="#3a7d68" stroke="#3a7d68"/>
<polygon points="206.4,442.5 215,445.4 213.6,452.3 205.2,449.5" fill="#3a7d68" stroke="#3a7d68"/>
<polygon points="189.1,443.8 197,446.7 195.7,453.7 187.9,450.9" fill="#3a7d68" stroke="#3a7d68"/>
<polygon points="197,446.7 205.2,449.5 203.9,456.4 195.7,453.7" fill="#3a7d68" stroke="#3a7d68"/>
<polygon points="205.2,449.5 213.6,452.3 212.3,459.1 203.9,456.4" fill="#3a7d68" stroke="#3a7d68"/>
</g>
<path d="M94.0,268.5 L92.2,293.9 L91.7,318.3 L92.3,341.7 L93.8,364.3 L96.0,386.0 L98.9,406.9 M91.0,271.2 L111.1,277.4 L132.5,284.4 L155.4,292.1 L179.9,300.9 L206.1,310.8 L234.3,322.0 M96.6,269.3 L94.9,294.8 L94.4,319.3 L94.9,342.8 L96.2,365.4 L98.2,387.2 L100.8,408.1 M90.7,274.7 L110.8,281.0 L132.3,288.0 L155.2,295.8 L179.6,304.6 L205.8,314.5 L233.9,325.6 M99.4,270.1 L97.7,295.7 L97.1,320.2 L97.4,343.8 L98.6,366.5 L100.4,388.4 L102.8,409.4 M90.4,278.2 L110.6,284.5 L132.1,291.6 L154.9,299.5 L179.3,308.3 L205.4,318.2 L233.4,329.3 M102.1,271.0 L100.4,296.6 L99.8,321.2 L100.0,344.9 L101.1,367.7 L102.7,389.6 L104.9,410.6 M90.2,281.6 L110.4,288.1 L131.8,295.2 L154.7,303.1 L179.1,312.0 L205.1,321.8 L233.0,332.9 M104.8,271.8 L103.2,297.5 L102.5,322.2 L102.7,346.0 L103.5,368.8 L105.0,390.8 L106.9,411.9 M89.9,285.1 L110.2,291.6 L131.6,298.8 L154.5,306.7 L178.8,315.6 L204.7,325.5 L232.5,336.5 M107.6,272.7 L106.0,298.5 L105.3,323.2 L105.3,347.1 L106.0,369.9 L107.3,392.0 L109.0,413.2 M89.7,288.5 L110.0,295.1 L131.4,302.3 L154.2,310.3 L178.5,319.2 L204.4,329.1 L232.0,340.0 M110.4,273.5 L108.8,299.4 L108.0,324.2 L108.0,348.1 L108.5,371.1 L109.6,393.2 L111.1,414.4 M89.6,291.9 L109.8,298.6 L131.2,305.9 L154.0,313.9 L178.2,322.8 L204.0,332.6 L231.6,343.6 M113.3,274.4 L111.6,300.4 L110.8,325.3 L110.7,349.2 L111.1,372.2 L111.9,394.4 L113.2,415.7 M89.4,295.3 L109.6,302.0 L131.1,309.4 L153.8,317.5 L177.9,326.4 L203.6,336.2 L231.1,347.1 M116.1,275.3 L114.5,301.3 L113.6,326.3 L113.4,350.3 L113.6,373.4 L114.3,395.6 L115.4,416.9 M89.3,298.6 L109.5,305.5 L130.9,312.9 L153.5,321.0 L177.6,329.9 L203.3,339.7 L230.6,350.6 M119.0,276.2 L117.4,302.3 L116.5,327.4 L116.1,351.4 L116.2,374.6 L116.7,396.8 L117.6,418.2 M89.2,302.0 L109.4,308.9 L130.7,316.4 L153.3,324.5 L177.3,333.5 L202.9,343.3 L230.1,354.0 M121.9,277.2 L120.3,303.3 L119.3,328.4 L118.8,352.5 L118.8,375.7 L119.1,398.0 L119.8,419.5 M89.2,305.3 L109.3,312.3 L130.5,319.8 L153.1,328.0 L177.0,337.0 L202.5,346.8 L229.6,357.5 M124.8,278.1 L123.2,304.3 L122.2,329.5 L121.6,353.7 L121.4,376.9 L121.6,399.2 L122.0,420.7 M89.1,308.6 L109.2,315.7 L130.4,323.3 L152.9,331.5 L176.7,340.5 L202.1,350.2 L229.1,360.9 M127.8,279.1 L126.2,305.3 L125.1,330.5 L124.4,354.8 L124.1,378.1 L124.1,400.5 L124.3,422.0 M89.1,311.9 L109.1,319.0 L130.2,326.7 L152.6,335.0 L176.4,344.0 L201.7,353.7 L228.6,364.3 M130.8,280.0 L129.2,306.4 L128.0,331.6 L127.2,355.9 L126.8,379.2 L126.6,401.7 L126.6,423.2 M89.1,315.2 L109.0,322.4 L130.1,330.1 L152.4,338.4 L176.1,347.4 L201.3,357.1 L228.1,367.7 M133.8,281.0 L132.2,307.4 L131.0,332.7 L130.1,357.1 L129.5,380.4 L129.1,402.9 L128.9,424.5 M89.1,318.4 L108.9,325.7 L129.9,333.5 L152.2,341.9 L175.8,350.8 L200.9,360.5 L227.6,371.0 M136.8,282.0 L135.2,308.5 L133.9,333.8 L132.9,358.2 L132.2,381.6 L131.6,404.1 L131.3,425.7 M89.1,321.6 L108.9,329.0 L129.8,336.9 L152.0,345.3 L175.5,354.2 L200.5,363.9 L227.1,374.3 M139.9,283.1 L138.3,309.5 L136.9,335.0 L135.8,359.4 L134.9,382.8 L134.2,405.3 L133.7,427.0 M89.2,324.9 L108.9,332.3 L129.7,340.2 L151.7,348.6 L175.2,357.6 L200.1,367.3 L226.6,377.6 M143.0,284.1 L141.3,310.6 L139.9,336.1 L138.7,360.5 L137.7,384.0 L136.8,406.6 L136.1,428.2 M89.3,328.1 L108.8,335.6 L129.6,343.5 L151.5,352.0 L174.9,361.0 L199.7,370.6 L226.1,380.9 M146.1,285.2 L144.5,311.7 L143.0,337.2 L141.7,361.7 L140.5,385.2 L139.5,407.8 L138.5,429.5 M89.4,331.3 L108.8,338.8 L129.4,346.8 L151.3,355.3 L174.5,364.4 L199.2,374.0 L225.6,384.2 M149.3,286.2 L147.6,312.8 L146.1,338.4 L144.6,362.9 L143.4,386.4 L142.1,409.0 L141.0,430.7 M89.5,334.4 L108.8,342.1 L129.3,350.1 L151.1,358.7 L174.2,367.7 L198.8,377.3 L225.1,387.4 M152.4,287.3 L150.7,314.0 L149.1,339.5 L147.6,364.1 L146.2,387.6 L144.8,410.2 L143.6,432.0 M89.6,337.6 L108.8,345.3 L129.2,353.4 L150.9,362.0 L173.9,371.0 L198.4,380.5 L224.6,390.6 M155.6,288.4 L153.9,315.1 L152.3,340.7 L150.7,365.3 L149.1,388.8 L147.6,411.5 L146.1,433.2 M89.8,340.7 L108.9,348.5 L129.1,356.7 L150.7,365.3 L173.6,374.3 L198.0,383.8 L224.1,393.8 M158.9,289.6 L157.1,316.3 L155.4,341.9 L153.7,366.5 L152.0,390.1 L150.3,412.7 L148.7,434.5 M89.9,343.8 L108.9,351.7 L129.0,359.9 L150.4,368.5 L173.2,377.6 L197.5,387.1 L223.5,397.0 M162.2,290.7 L160.4,317.5 L158.6,343.1 L156.8,367.7 L154.9,391.3 L153.1,413.9 L151.3,435.7 M90.1,346.9 L109.0,354.9 L128.9,363.1 L150.2,371.8 L172.9,380.8 L197.1,390.3 L223.0,400.1 M165.5,291.9 L163.6,318.6 L161.8,344.3 L159.8,368.9 L157.9,392.5 L155.9,415.2 L154.0,436.9 M90.3,350.0 L109.0,358.0 L128.9,366.3 L150.0,375.0 L172.6,384.1 L196.7,393.5 L222.5,403.3 M168.8,293.1 L166.9,319.9 L165.0,345.5 L163.0,370.1 L160.9,393.7 L158.8,416.4 L156.7,438.1 M90.5,353.1 L109.1,361.1 L128.8,369.5 L149.8,378.2 L172.2,387.3 L196.2,396.7 L222.0,406.4 M172.2,294.3 L170.3,321.1 L168.2,346.8 L166.1,371.4 L163.9,395.0 L161.7,417.6 L159.4,439.4 M90.8,356.1 L109.2,364.3 L128.7,372.7 L149.6,381.4 L171.9,390.5 L195.8,399.8 L221.4,409.5 M175.6,295.5 L173.6,322.3 L171.5,348.0 L169.3,372.6 L167.0,396.2 L164.6,418.8 L162.2,440.6 M91.0,359.2 L109.2,367.4 L128.6,375.9 L149.4,384.6 L171.5,393.7 L195.3,403.0 L220.9,412.5 M179.0,296.7 L177.0,323.6 L174.8,349.3 L172.5,373.9 L170.1,397.5 L167.6,420.1 L165.0,441.8 M91.3,362.2 L109.3,370.5 L128.6,379.0 L149.2,387.8 L171.2,396.8 L194.9,406.1 L220.4,415.6 M182.5,298.0 L180.4,324.9 L178.1,350.5 L175.7,375.1 L173.2,398.7 L170.5,421.3 L167.8,443.0 M91.6,365.2 L109.4,373.5 L128.5,382.1 L148.9,390.9 L170.9,400.0 L194.4,409.2 L219.9,418.6 M186.0,299.3 L183.8,326.2 L181.5,351.8 L179.0,376.4 L176.3,400.0 L173.6,422.5 L170.7,444.2 M91.9,368.2 L109.6,376.6 L128.5,385.2 L148.7,394.1 L170.5,403.1 L194.0,412.3 L219.3,421.6 M189.5,300.6 L187.3,327.5 L184.9,353.1 L182.2,377.7 L179.5,401.2 L176.6,423.8 L173.7,445.4 M92.2,371.1 L109.7,379.6 L128.4,388.3 L148.5,397.2 L170.2,406.2 L193.5,415.4 L218.8,424.6 M193.1,302.0 L190.8,328.8 L188.3,354.5 L185.6,379.0 L182.7,402.5 L179.7,425.0 L176.6,446.6 M92.5,374.1 L109.8,382.6 L128.4,391.4 L148.3,400.3 L169.8,409.3 L193.1,418.4 L218.3,427.6 M196.7,303.3 L194.3,330.1 L191.7,355.8 L188.9,380.3 L185.9,403.8 L182.8,426.2 L179.6,447.7 M92.8,377.0 L110.0,385.6 L128.3,394.4 L148.1,403.3 L169.5,412.4 L192.6,421.5 L217.7,430.6 M200.3,304.7 L197.9,331.5 L195.2,357.1 L192.3,381.6 L189.2,405.0 L186.0,427.4 L182.7,448.9 M93.2,380.0 L110.1,388.6 L128.3,397.5 L147.9,406.4 L169.1,415.4 L192.1,424.5 L217.2,433.5 M204.0,306.1 L201.5,332.9 L198.7,358.5 L195.7,382.9 L192.5,406.3 L189.2,428.7 L185.8,450.1 M93.6,382.9 L110.3,391.6 L128.3,400.5 L147.7,409.4 L168.8,418.5 L191.7,427.5 L216.6,436.4 M207.7,307.5 L205.1,334.3 L202.2,359.9 L199.1,384.3 L195.8,407.6 L192.4,429.9 L188.9,451.2 M93.9,385.8 L110.4,394.6 L128.2,403.5 L147.5,412.5 L168.4,421.5 L191.2,430.5 L216.1,439.3 M211.5,309.0 L208.8,335.7 L205.8,361.2 L202.6,385.6 L199.2,408.9 L195.7,431.1 L192.1,452.4 M94.3,388.6 L110.6,397.5 L128.2,406.5 L147.3,415.5 L168.1,424.5 L190.7,433.4 L215.6,442.2 M215.3,310.5 L212.4,337.2 L209.4,362.6 L206.1,386.9 L202.6,410.1 L199.0,432.3 L195.4,453.5 M94.7,391.5 L110.8,400.4 L128.2,409.4 L147.1,418.5 L167.7,427.5 L190.3,436.4 L215.0,445.1 M219.1,312.0 L216.2,338.7 L213.0,364.1 L209.6,388.3 L206.1,411.4 L202.4,433.5 L198.7,454.7 M95.1,394.4 L111.0,403.3 L128.2,412.4 L146.9,421.5 L167.4,430.5 L189.8,439.3 L214.5,447.9 M222.9,313.5 L219.9,340.1 L216.6,365.5 L213.2,389.7 L209.6,412.7 L205.8,434.7 L202.0,455.8 M95.6,397.2 L111.2,406.2 L128.2,415.3 L146.7,424.4 L167.0,433.4 L189.3,442.2 L213.9,450.7 M226.9,315.1 L223.7,341.7 L220.3,366.9 L216.8,391.0 L213.1,414.0 L209.3,435.9 L205.4,456.9 M96.0,400.0 L111.4,409.1 L128.2,418.3 L146.5,427.4 L166.7,436.4 L188.8,445.1 L213.4,453.5 M230.8,316.7 L227.5,343.2 L224.1,368.4 L220.4,392.4 L216.6,415.3 L212.7,437.1 L208.8,458.0 M96.4,402.8 L111.6,412.0 L128.1,421.2 L146.3,430.3 L166.3,439.3 L188.4,448.0 L212.8,456.3" fill="none" stroke="#222" stroke-width="0.45" stroke-opacity="0.5"/>
<g stroke-width="1.1">
<polygon points="331.6,255.5 336.5,257.3 331.9,266.5 326.5,264.2" fill="#3d826c" stroke="#3d826c"/>
<polygon points="336.5,257.3 341.6,259.3 337.5,269 331.9,266.5" fill="#418771" stroke="#418771"/>
<polygon points="341.6,259.3 346.7,261.4 343,271.5 337.5,269" fill="#448c75" stroke="#448c75"/>
<polygon points="326.5,264.2 331.9,266.5 327.8,275.5 321.9,272.7" fill="#3f856f" stroke="#3f856f"/>
<polygon points="331.9,266.5 337.5,269 333.6,278.4 327.8,275.5" fill="#438a74" stroke="#438a74"/>
<polygon points="337.5,269 343,271.5 339.6,281.3 333.6,278.4" fill="#458e77" stroke="#458e77"/>
<polygon points="321.9,272.7 327.8,275.5 324,284.3 317.8,281.1" fill="#418771" stroke="#418771"/>
<polygon points="327.8,275.5 333.6,278.4 330.1,287.5 324,284.3" fill="#448c75" stroke="#448c75"/>
<polygon points="333.6,278.4 339.6,281.3 336.4,290.7 330.1,287.5" fill="#468f78" stroke="#468f78"/>
<polygon points="346.7,261.4 352,263.5 348.7,274.1 343,271.5" fill="#be4649" stroke="#be4649"/>
<polygon points="352,263.5 357.4,265.9 354.5,276.8 348.7,274.1" fill="#bf474a" stroke="#bf474a"/>
<polygon points="357.4,265.9 362.9,268.4 360.3,279.5 354.5,276.8" fill="#bd4649" stroke="#bd4649"/>
<polygon points="343,271.5 348.7,274.1 345.6,284.2 339.6,281.3" fill="#bf474a" stroke="#bf474a"/>
<polygon points="348.7,274.1 354.5,276.8 351.7,287.2 345.6,284.2" fill="#be474a" stroke="#be474a"/>
<polygon points="354.5,276.8 360.3,279.5 357.8,290.2 351.7,287.2" fill="#bc4548" stroke="#bc4548"/>
<polygon points="339.6,281.3 345.6,284.2 342.6,294 336.4,290.7" fill="#bf474a" stroke="#bf474a"/>
<polygon points="345.6,284.2 351.7,287.2 348.9,297.2 342.6,294" fill="#bd4649" stroke="#bd4649"/>
<polygon points="351.7,287.2 357.8,290.2 355.3,300.5 348.9,297.2" fill="#ba4447" stroke="#ba4447"/>
<polygon points="362.9,268.4 368.5,271 366.2,282.4 360.3,279.5" fill="#448c75" stroke="#448c75"/>
<polygon points="368.5,271 374.3,273.8 372.3,285.4 366.2,282.4" fill="#418771" stroke="#418771"/>
<polygon points="374.3,273.8 380.2,276.7 378.4,288.4 372.3,285.4" fill="#3d816c" stroke="#3d816c"/>
<polygon points="360.3,279.5 366.2,282.4 364,293.3 357.8,290.2" fill="#438a73" stroke="#438a73"/>
<polygon points="366.2,282.4 372.3,285.4 370.2,296.5 364,293.3" fill="#3f846e" stroke="#3f846e"/>
<polygon points="372.3,285.4 378.4,288.4 376.5,299.6 370.2,296.5" fill="#3b7e69" stroke="#3b7e69"/>
<polygon points="357.8,290.2 364,293.3 361.7,303.7 355.3,300.5" fill="#418771" stroke="#418771"/>
<polygon points="364,293.3 370.2,296.5 368.1,307 361.7,303.7" fill="#3d816c" stroke="#3d816c"/>
<polygon points="370.2,296.5 376.5,299.6 374.6,310.3 368.1,307" fill="#397b67" stroke="#397b67"/>
<polygon points="380.2,276.7 386.2,279.8 384.6,291.6 378.4,288.4" fill="#397b67" stroke="#397b67"/>
<polygon points="386.2,279.8 392.3,283.2 390.9,294.9 384.6,291.6" fill="#377763" stroke="#377763"/>
<polygon points="392.3,283.2 398.6,286.7 397.3,298.3 390.9,294.9" fill="#35735f" stroke="#35735f"/>
<polygon points="378.4,288.4 384.6,291.6 382.9,302.9 376.5,299.6" fill="#387965" stroke="#387965"/>
<polygon points="384.6,291.6 390.9,294.9 389.3,306.1 382.9,302.9" fill="#367461" stroke="#367461"/>
<polygon points="390.9,294.9 397.3,298.3 395.8,309.5 389.3,306.1" fill="#34715e" stroke="#34715e"/>
<polygon points="376.5,299.6 382.9,302.9 381,313.6 374.6,310.3" fill="#377763" stroke="#377763"/>
<polygon points="382.9,302.9 389.3,306.1 387.6,316.9 381,313.6" fill="#35735f" stroke="#35735f"/>
<polygon points="389.3,306.1 395.8,309.5 394.1,320.1 387.6,316.9" fill="#34705d" stroke="#34705d"/>
<polygon points="398.6,286.7 405.1,290.4 403.8,301.8 397.3,298.3" fill="#34705d" stroke="#34705d"/>
<polygon points="405.1,290.4 411.7,294.3 410.4,305.5 403.8,301.8" fill="#336e5c" stroke="#336e5c"/>
<polygon points="411.7,294.3 418.5,298.5 417.1,309.3 410.4,305.5" fill="#336e5c" stroke="#336e5c"/>
<polygon points="397.3,298.3 403.8,301.8 402.3,312.8 395.8,309.5" fill="#336f5c" stroke="#336f5c"/>
<polygon points="403.8,301.8 410.4,305.5 408.9,316.3 402.3,312.8" fill="#336e5c" stroke="#336e5c"/>
<polygon points="410.4,305.5 417.1,309.3 415.5,319.7 408.9,316.3" fill="#346f5c" stroke="#346f5c"/>
<polygon points="395.8,309.5 402.3,312.8 400.6,323.4 394.1,320.1" fill="#336e5c" stroke="#336e5c"/>
<polygon points="402.3,312.8 408.9,316.3 407.2,326.6 400.6,323.4" fill="#336e5c" stroke="#336e5c"/>
<polygon points="408.9,316.3 415.5,319.7 413.8,329.9 407.2,326.6" fill="#34705d" stroke="#34705d"/>
<polygon points="418.5,298.5 425.4,302.9 423.9,313.2 417.1,309.3" fill="#34705d" stroke="#34705d"/>
<polygon points="425.4,302.9 432.5,307.6 430.8,317.3 423.9,313.2" fill="#367360" stroke="#367360"/>
<polygon points="432.5,307.6 439.8,312.6 437.8,321.6 430.8,317.3" fill="#387864" stroke="#387864"/>
<polygon points="417.1,309.3 423.9,313.2 422.2,323.3 415.5,319.7" fill="#35725e" stroke="#35725e"/>
<polygon points="423.9,313.2 430.8,317.3 429,326.9 422.2,323.3" fill="#367562" stroke="#367562"/>
<polygon points="430.8,317.3 437.8,321.6 435.8,330.5 429,326.9" fill="#397a66" stroke="#397a66"/>
<polygon points="415.5,319.7 422.2,323.3 420.4,333.1 413.8,329.9" fill="#367360" stroke="#367360"/>
<polygon points="422.2,323.3 429,326.9 427,336.3 420.4,333.1" fill="#387864" stroke="#387864"/>
<polygon points="429,326.9 435.8,330.5 433.5,339.5 427,336.3" fill="#3a7d68" stroke="#3a7d68"/>
<polygon points="317.8,281.1 324,284.3 320.5,292.8 314.2,289.3" fill="#b84346" stroke="#b84346"/>
<polygon points="324,284.3 330.1,287.5 326.9,296.4 320.5,292.8" fill="#bc4549" stroke="#bc4549"/>
<polygon points="330.1,287.5 336.4,290.7 333.4,299.9 326.9,296.4" fill="#bf474a" stroke="#bf474a"/>
<polygon points="314.2,289.3 320.5,292.8 317.5,301.2 310.9,297.4" fill="#ba4447" stroke="#ba4447"/>
<polygon points="320.5,292.8 326.9,296.4 324,305 317.5,301.2" fill="#be4649" stroke="#be4649"/>
<polygon points="326.9,296.4 333.4,299.9 330.6,308.7 324,305" fill="#bf474a" stroke="#bf474a"/>
<polygon points="310.9,297.4 317.5,301.2 314.7,309.4 308.1,305.4" fill="#bc4549" stroke="#bc4549"/>
<polygon points="317.5,301.2 324,305 321.4,313.3 314.7,309.4" fill="#bf474a" stroke="#bf474a"/>
<polygon points="324,305 330.6,308.7 328.1,317.2 321.4,313.3" fill="#be474a" stroke="#be474a"/>
<polygon points="336.4,290.7 342.6,294 339.8,303.3 333.4,299.9" fill="#be474a" stroke="#be474a"/>
<polygon points="342.6,294 348.9,297.2 346.3,306.8 339.8,303.3" fill="#bc4548" stroke="#bc4548"/>
<polygon points="348.9,297.2 355.3,300.5 352.9,310.3 346.3,306.8" fill="#b74346" stroke="#b74346"/>
<polygon points="333.4,299.9 339.8,303.3 337.2,312.4 330.6,308.7" fill="#bd4649" stroke="#bd4649"/>
<polygon points="339.8,303.3 346.3,306.8 343.8,316 337.2,312.4" fill="#ba4447" stroke="#ba4447"/>
<polygon points="346.3,306.8 352.9,310.3 350.5,319.6 343.8,316" fill="#b44144" stroke="#b44144"/>
<polygon points="330.6,308.7 337.2,312.4 334.7,321 328.1,317.2" fill="#bc4548" stroke="#bc4548"/>
<polygon points="337.2,312.4 343.8,316 341.4,324.8 334.7,321" fill="#b74346" stroke="#b74346"/>
<polygon points="343.8,316 350.5,319.6 348.1,328.6 341.4,324.8" fill="#b13f42" stroke="#b13f42"/>
<polygon points="355.3,300.5 361.7,303.7 359.4,313.7 352.9,310.3" fill="#b13f42" stroke="#b13f42"/>
<polygon points="361.7,303.7 368.1,307 365.9,317.1 359.4,313.7" fill="#a93b3e" stroke="#a93b3e"/>
<polygon points="368.1,307 374.6,310.3 372.5,320.5 365.9,317.1" fill="#a3383b" stroke="#a3383b"/>
<polygon points="352.9,310.3 359.4,313.7 357.1,323.2 350.5,319.6" fill="#ad3d40" stroke="#ad3d40"/>
<polygon points="359.4,313.7 365.9,317.1 363.7,326.7 357.1,323.2" fill="#a6393c" stroke="#a6393c"/>
<polygon points="365.9,317.1 372.5,320.5 370.4,330.2 363.7,326.7" fill="#9f373a" stroke="#9f373a"/>
<polygon points="350.5,319.6 357.1,323.2 354.8,332.2 348.1,328.6" fill="#a93b3e" stroke="#a93b3e"/>
<polygon points="357.1,323.2 363.7,326.7 361.5,335.9 354.8,332.2" fill="#a3383b" stroke="#a3383b"/>
<polygon points="363.7,326.7 370.4,330.2 368.2,339.4 361.5,335.9" fill="#9c3639" stroke="#9c3639"/>
<polygon points="374.6,310.3 381,313.6 379.1,323.8 372.5,320.5" fill="#9c3639" stroke="#9c3639"/>
<polygon points="381,313.6 387.6,316.9 385.6,327.1 379.1,323.8" fill="#983437" stroke="#983437"/>
<polygon points="387.6,316.9 394.1,320.1 392.2,330.3 385.6,327.1" fill="#953336" stroke="#953336"/>
<polygon points="372.5,320.5 379.1,323.8 377,333.5 370.4,330.2" fill="#9a3538" stroke="#9a3538"/>
<polygon points="379.1,323.8 385.6,327.1 383.6,336.9 377,333.5" fill="#963436" stroke="#963436"/>
<polygon points="385.6,327.1 392.2,330.3 390.2,340.1 383.6,336.9" fill="#943336" stroke="#943336"/>
<polygon points="370.4,330.2 377,333.5 374.8,342.8 368.2,339.4" fill="#983437" stroke="#983437"/>
<polygon points="377,333.5 383.6,336.9 381.4,346.2 374.8,342.8" fill="#953336" stroke="#953336"/>
<polygon points="383.6,336.9 390.2,340.1 388,349.5 381.4,346.2" fill="#943336" stroke="#943336"/>
<polygon points="394.1,320.1 400.6,323.4 398.8,333.5 392.2,330.3" fill="#bebdac" stroke="#bebdac"/>
<polygon points="400.6,323.4 407.2,326.6 405.3,336.6 398.8,333.5" fill="#c0bfae" stroke="#c0bfae"/>
<polygon points="407.2,326.6 413.8,329.9 411.9,339.7 405.3,336.6" fill="#c4c3b2" stroke="#c4c3b2"/>
<polygon points="392.2,330.3 398.8,333.5 396.7,343.2 390.2,340.1" fill="#bfbead" stroke="#bfbead"/>
<polygon points="398.8,333.5 405.3,336.6 403.3,346.3 396.7,343.2" fill="#c2c1b0" stroke="#c2c1b0"/>
<polygon points="405.3,336.6 411.9,339.7 409.7,349.2 403.3,346.3" fill="#c7c6b5" stroke="#c7c6b5"/>
<polygon points="390.2,340.1 396.7,343.2 394.5,352.6 388,349.5" fill="#c0bfae" stroke="#c0bfae"/>
<polygon points="396.7,343.2 403.3,346.3 401,355.6 394.5,352.6" fill="#c4c3b2" stroke="#c4c3b2"/>
<polygon points="403.3,346.3 409.7,349.2 407.5,358.5 401,355.6" fill="#cbcab8" stroke="#cbcab8"/>
<polygon points="413.8,329.9 420.4,333.1 418.3,342.7 411.9,339.7" fill="#cbcab8" stroke="#cbcab8"/>
<polygon points="420.4,333.1 427,336.3 424.8,345.6 418.3,342.7" fill="#d3d2bf" stroke="#d3d2bf"/>
<polygon points="427,336.3 433.5,339.5 431.2,348.4 424.8,345.6" fill="#dcdbc7" stroke="#dcdbc7"/>
<polygon points="411.9,339.7 418.3,342.7 416.2,352.1 409.7,349.2" fill="#cfcebc" stroke="#cfcebc"/>
<polygon points="418.3,342.7 424.8,345.6 422.5,354.8 416.2,352.1" fill="#d7d6c3" stroke="#d7d6c3"/>
<polygon points="424.8,345.6 431.2,348.4 428.8,357.3 422.5,354.8" fill="#e0dfcb" stroke="#e0dfcb"/>
<polygon points="409.7,349.2 416.2,352.1 413.8,361.2 407.5,358.5" fill="#d3d2bf" stroke="#d3d2bf"/>
<polygon points="416.2,352.1 422.5,354.8 420.1,363.8 413.8,361.2" fill="#dcdbc7" stroke="#dcdbc7"/>
<polygon points="422.5,354.8 428.8,357.3 426.2,366.2 420.1,363.8" fill="#e4e3cf" stroke="#e4e3cf"/>
<polygon points="308.1,305.4 314.7,309.4 312.3,317.4 305.6,313.3" fill="#468f78" stroke="#468f78"/>
<polygon points="314.7,309.4 321.4,313.3 319,321.4 312.3,317.4" fill="#479079" stroke="#479079"/>
<polygon points="321.4,313.3 328.1,317.2 325.7,325.4 319,321.4" fill="#468f78" stroke="#468f78"/>
<polygon points="305.6,313.3 312.3,317.4 310.1,325.2 303.5,321" fill="#479079" stroke="#479079"/>
<polygon points="312.3,317.4 319,321.4 316.8,329.3 310.1,325.2" fill="#479079" stroke="#479079"/>
<polygon points="319,321.4 325.7,325.4 323.5,333.4 316.8,329.3" fill="#458d77" stroke="#458d77"/>
<polygon points="303.5,321 310.1,325.2 308.3,332.8 301.7,328.6" fill="#479079" stroke="#479079"/>
<polygon points="310.1,325.2 316.8,329.3 314.9,337 308.3,332.8" fill="#468f78" stroke="#468f78"/>
<polygon points="316.8,329.3 323.5,333.4 321.5,341.1 314.9,337" fill="#448c75" stroke="#448c75"/>
<polygon points="328.1,317.2 334.7,321 332.4,329.4 325.7,325.4" fill="#edecd8" stroke="#edecd8"/>
<polygon points="334.7,321 341.4,324.8 339.1,333.3 332.4,329.4" fill="#e6e5d1" stroke="#e6e5d1"/>
<polygon points="341.4,324.8 348.1,328.6 345.8,337.1 339.1,333.3" fill="#deddca" stroke="#deddca"/>
<polygon points="325.7,325.4 332.4,329.4 330.2,337.4 323.5,333.4" fill="#eae9d5" stroke="#eae9d5"/>
<polygon points="332.4,329.4 339.1,333.3 336.9,341.4 330.2,337.4" fill="#e2e1ce" stroke="#e2e1ce"/>
<polygon points="339.1,333.3 345.8,337.1 343.6,345.3 336.9,341.4" fill="#dad9c5" stroke="#dad9c5"/>
<polygon points="323.5,333.4 330.2,337.4 328.1,345.2 321.5,341.1" fill="#e6e5d1" stroke="#e6e5d1"/>
<polygon points="330.2,337.4 336.9,341.4 334.7,349.2 328.1,345.2" fill="#deddca" stroke="#deddca"/>
<polygon points="336.9,341.4 343.6,345.3 341.3,353.2 334.7,349.2" fill="#d5d4c1" stroke="#d5d4c1"/>
<polygon points="348.1,328.6 354.8,332.2 352.5,340.9 345.8,337.1" fill="#d5d4c1" stroke="#d5d4c1"/>
<polygon points="354.8,332.2 361.5,335.9 359.2,344.6 352.5,340.9" fill="#cdccba" stroke="#cdccba"/>
<polygon points="361.5,335.9 368.2,339.4 365.9,348.2 359.2,344.6" fill="#c6c5b4" stroke="#c6c5b4"/>
<polygon points="345.8,337.1 352.5,340.9 350.2,349.2 343.6,345.3" fill="#d1d0be" stroke="#d1d0be"/>
<polygon points="352.5,340.9 359.2,344.6 356.9,352.9 350.2,349.2" fill="#c9c8b7" stroke="#c9c8b7"/>
<polygon points="359.2,344.6 365.9,348.2 363.5,356.6 356.9,352.9" fill="#c3c2b1" stroke="#c3c2b1"/>
<polygon points="343.6,345.3 350.2,349.2 348,357 341.3,353.2" fill="#cdccba" stroke="#cdccba"/>
<polygon points="350.2,349.2 356.9,352.9 354.5,360.9 348,357" fill="#c6c5b4" stroke="#c6c5b4"/>
<polygon points="356.9,352.9 363.5,356.6 361.1,364.6 354.5,360.9" fill="#c1c0af" stroke="#c1c0af"/>
<polygon points="368.2,339.4 374.8,342.8 372.5,351.7 365.9,348.2" fill="#c1c0af" stroke="#c1c0af"/>
<polygon points="374.8,342.8 381.4,346.2 379.1,355.1 372.5,351.7" fill="#bebdad" stroke="#bebdad"/>
<polygon points="381.4,346.2 388,349.5 385.7,358.4 379.1,355.1" fill="#bfbead" stroke="#bfbead"/>
<polygon points="365.9,348.2 372.5,351.7 370.1,360.2 363.5,356.6" fill="#bfbeae" stroke="#bfbeae"/>
<polygon points="372.5,351.7 379.1,355.1 376.7,363.6 370.1,360.2" fill="#bebdac" stroke="#bebdac"/>
<polygon points="379.1,355.1 385.7,358.4 383.2,367 376.7,363.6" fill="#c0bfae" stroke="#c0bfae"/>
<polygon points="363.5,356.6 370.1,360.2 367.7,368.2 361.1,364.6" fill="#bebdad" stroke="#bebdad"/>
<polygon points="370.1,360.2 376.7,363.6 374.2,371.8 367.7,368.2" fill="#bfbead" stroke="#bfbead"/>
<polygon points="376.7,363.6 383.2,367 380.7,375.2 374.2,371.8" fill="#c2c1b0" stroke="#c2c1b0"/>
<polygon points="388,349.5 394.5,352.6 392.2,361.6 385.7,358.4" fill="#34705d" stroke="#34705d"/>
<polygon points="394.5,352.6 401,355.6 398.6,364.6 392.2,361.6" fill="#367360" stroke="#367360"/>
<polygon points="401,355.6 407.5,358.5 405,367.5 398.6,364.6" fill="#387864" stroke="#387864"/>
<polygon points="385.7,358.4 392.2,361.6 389.7,370.2 383.2,367" fill="#35725e" stroke="#35725e"/>
<polygon points="392.2,361.6 398.6,364.6 396.1,373.3 389.7,370.2" fill="#367562" stroke="#367562"/>
<polygon points="398.6,364.6 405,367.5 402.5,376.2 396.1,373.3" fill="#397a66" stroke="#397a66"/>
<polygon points="383.2,367 389.7,370.2 387.1,378.5 380.7,375.2" fill="#367360" stroke="#367360"/>
<polygon points="389.7,370.2 396.1,373.3 393.4,381.7 387.1,378.5" fill="#387864" stroke="#387864"/>
<polygon points="396.1,373.3 402.5,376.2 399.7,384.7 393.4,381.7" fill="#3a7d68" stroke="#3a7d68"/>
<polygon points="407.5,358.5 413.8,361.2 411.3,370.2 405,367.5" fill="#a73a3d" stroke="#a73a3d"/>
<polygon points="413.8,361.2 420.1,363.8 417.5,372.7 411.3,370.2" fill="#af3e41" stroke="#af3e41"/>
<polygon points="420.1,363.8 426.2,366.2 423.6,375.1 417.5,372.7" fill="#b54245" stroke="#b54245"/>
<polygon points="405,367.5 411.3,370.2 408.7,379 402.5,376.2" fill="#ab3c3f" stroke="#ab3c3f"/>
<polygon points="411.3,370.2 417.5,372.7 414.9,381.6 408.7,379" fill="#b24043" stroke="#b24043"/>
<polygon points="417.5,372.7 423.6,375.1 420.9,383.9 414.9,381.6" fill="#b84346" stroke="#b84346"/>
<polygon points="402.5,376.2 408.7,379 406,387.6 399.7,384.7" fill="#af3e41" stroke="#af3e41"/>
<polygon points="408.7,379 414.9,381.6 412.1,390.3 406,387.6" fill="#b54245" stroke="#b54245"/>
<polygon points="414.9,381.6 420.9,383.9 418.1,392.8 412.1,390.3" fill="#bb4548" stroke="#bb4548"/>
<polygon points="301.7,328.6 308.3,332.8 306.7,340.3 300.3,336.1" fill="#479079" stroke="#479079"/>
<polygon points="308.3,332.8 314.9,337 313.2,344.5 306.7,340.3" fill="#458d77" stroke="#458d77"/>
<polygon points="314.9,337 321.5,341.1 319.7,348.6 313.2,344.5" fill="#438a73" stroke="#438a73"/>
<polygon points="300.3,336.1 306.7,340.3 305.4,347.6 299.1,343.5" fill="#468f78" stroke="#468f78"/>
<polygon points="306.7,340.3 313.2,344.5 311.7,351.7 305.4,347.6" fill="#448c75" stroke="#448c75"/>
<polygon points="313.2,344.5 319.7,348.6 318,355.8 311.7,351.7" fill="#418771" stroke="#418771"/>
<polygon points="299.1,343.5 305.4,347.6 304.3,354.8 298.3,350.8" fill="#458d77" stroke="#458d77"/>
<polygon points="305.4,347.6 311.7,351.7 310.4,358.8 304.3,354.8" fill="#438a73" stroke="#438a73"/>
<polygon points="311.7,351.7 318,355.8 316.5,362.8 310.4,358.8" fill="#3f846e" stroke="#3f846e"/>
<polygon points="321.5,341.1 328.1,345.2 326.2,352.6 319.7,348.6" fill="#b13f42" stroke="#b13f42"/>
<polygon points="328.1,345.2 334.7,349.2 332.7,356.7 326.2,352.6" fill="#a93b3e" stroke="#a93b3e"/>
<polygon points="334.7,349.2 341.3,353.2 339.2,360.6 332.7,356.7" fill="#a3383b" stroke="#a3383b"/>
<polygon points="319.7,348.6 326.2,352.6 324.3,359.8 318,355.8" fill="#ad3d40" stroke="#ad3d40"/>
<polygon points="326.2,352.6 332.7,356.7 330.7,363.8 324.3,359.8" fill="#a6393c" stroke="#a6393c"/>
<polygon points="332.7,356.7 339.2,360.6 337,367.8 330.7,363.8" fill="#9f373a" stroke="#9f373a"/>
<polygon points="318,355.8 324.3,359.8 322.6,366.7 316.5,362.8" fill="#a93b3e" stroke="#a93b3e"/>
<polygon points="324.3,359.8 330.7,363.8 328.8,370.7 322.6,366.7" fill="#a3383b" stroke="#a3383b"/>
<polygon points="330.7,363.8 337,367.8 334.9,374.7 328.8,370.7" fill="#9c3639" stroke="#9c3639"/>
<polygon points="341.3,353.2 348,357 345.7,364.6 339.2,360.6" fill="#c9c8b7" stroke="#c9c8b7"/>
<polygon points="348,357 354.5,360.9 352.2,368.4 345.7,364.6" fill="#c3c2b1" stroke="#c3c2b1"/>
<polygon points="354.5,360.9 361.1,364.6 358.6,372.2 352.2,368.4" fill="#bfbeae" stroke="#bfbeae"/>
<polygon points="339.2,360.6 345.7,364.6 343.4,371.7 337,367.8" fill="#c6c5b4" stroke="#c6c5b4"/>
<polygon points="345.7,364.6 352.2,368.4 349.8,375.6 343.4,371.7" fill="#c1c0af" stroke="#c1c0af"/>
<polygon points="352.2,368.4 358.6,372.2 356.1,379.5 349.8,375.6" fill="#bebdad" stroke="#bebdad"/>
<polygon points="337,367.8 343.4,371.7 341.1,378.6 334.9,374.7" fill="#c3c2b1" stroke="#c3c2b1"/>
<polygon points="343.4,371.7 349.8,375.6 347.3,382.5 341.1,378.6" fill="#bfbeae" stroke="#bfbeae"/>
<polygon points="349.8,375.6 356.1,379.5 353.6,386.4 347.3,382.5" fill="#bebdac" stroke="#bebdac"/>
<polygon points="361.1,364.6 367.7,368.2 365.1,375.9 358.6,372.2" fill="#336e5c" stroke="#336e5c"/>
<polygon points="367.7,368.2 374.2,371.8 371.6,379.5 365.1,375.9" fill="#346f5c" stroke="#346f5c"/>
<polygon points="374.2,371.8 380.7,375.2 378,383.1 371.6,379.5" fill="#35725e" stroke="#35725e"/>
<polygon points="358.6,372.2 365.1,375.9 362.5,383.2 356.1,379.5" fill="#336e5c" stroke="#336e5c"/>
<polygon points="365.1,375.9 371.6,379.5 368.8,386.9 362.5,383.2" fill="#34705d" stroke="#34705d"/>
<polygon points="371.6,379.5 378,383.1 375.2,390.6 368.8,386.9" fill="#367360" stroke="#367360"/>
<polygon points="356.1,379.5 362.5,383.2 359.8,390.2 353.6,386.4" fill="#346f5c" stroke="#346f5c"/>
<polygon points="362.5,383.2 368.8,386.9 366,394 359.8,390.2" fill="#35725e" stroke="#35725e"/>
<polygon points="368.8,386.9 375.2,390.6 372.3,397.8 366,394" fill="#367562" stroke="#367562"/>
<polygon points="380.7,375.2 387.1,378.5 384.3,386.5 378,383.1" fill="#9e3639" stroke="#9e3639"/>
<polygon points="387.1,378.5 393.4,381.7 390.7,389.8 384.3,386.5" fill="#a4393c" stroke="#a4393c"/>
<polygon points="393.4,381.7 399.7,384.7 396.9,392.9 390.7,389.8" fill="#ab3c3f" stroke="#ab3c3f"/>
<polygon points="378,383.1 384.3,386.5 381.5,394.1 375.2,390.6" fill="#a1383a" stroke="#a1383a"/>
<polygon points="384.3,386.5 390.7,389.8 387.7,397.6 381.5,394.1" fill="#a73a3d" stroke="#a73a3d"/>
<polygon points="390.7,389.8 396.9,392.9 394,400.9 387.7,397.6" fill="#af3e41" stroke="#af3e41"/>
<polygon points="375.2,390.6 381.5,394.1 378.5,401.5 372.3,397.8" fill="#a4393c" stroke="#a4393c"/>
<polygon points="381.5,394.1 387.7,397.6 384.7,405.1 378.5,401.5" fill="#ab3c3f" stroke="#ab3c3f"/>
<polygon points="387.7,397.6 394,400.9 390.9,408.7 384.7,405.1" fill="#b24043" stroke="#b24043"/>
<polygon points="399.7,384.7 406,387.6 403.1,396 396.9,392.9" fill="#e4e3cf" stroke="#e4e3cf"/>
<polygon points="406,387.6 412.1,390.3 409.2,398.8 403.1,396" fill="#ebead6" stroke="#ebead6"/>
<polygon points="412.1,390.3 418.1,392.8 415.2,401.5 409.2,398.8" fill="#f1efdb" stroke="#f1efdb"/>
<polygon points="396.9,392.9 403.1,396 400.1,404.2 394,400.9" fill="#e8e7d3" stroke="#e8e7d3"/>
<polygon points="403.1,396 409.2,398.8 406.3,407.3 400.1,404.2" fill="#eeedd9" stroke="#eeedd9"/>
<polygon points="409.2,398.8 415.2,401.5 412.3,410.3 406.3,407.3" fill="#f2f1dc" stroke="#f2f1dc"/>
<polygon points="394,400.9 400.1,404.2 397.1,412.2 390.9,408.7" fill="#ebead6" stroke="#ebead6"/>
<polygon points="400.1,404.2 406.3,407.3 403.2,415.7 397.1,412.2" fill="#f1efdb" stroke="#f1efdb"/>
<polygon points="406.3,407.3 412.3,410.3 409.3,419 403.2,415.7" fill="#f3f2dd" stroke="#f3f2dd"/>
<polygon points="298.3,350.8 304.3,354.8 303.5,361.8 297.7,358" fill="#ba4447" stroke="#ba4447"/>
<polygon points="304.3,354.8 310.4,358.8 309.3,365.7 303.5,361.8" fill="#b44144" stroke="#b44144"/>
<polygon points="310.4,358.8 316.5,362.8 315.1,369.5 309.3,365.7" fill="#ad3d40" stroke="#ad3d40"/>
<polygon points="297.7,358 303.5,361.8 302.8,368.7 297.4,365" fill="#b74346" stroke="#b74346"/>
<polygon points="303.5,361.8 309.3,365.7 308.3,372.4 302.8,368.7" fill="#b13f42" stroke="#b13f42"/>
<polygon points="309.3,365.7 315.1,369.5 313.9,376.1 308.3,372.4" fill="#a93b3e" stroke="#a93b3e"/>
<polygon points="297.4,365 302.8,368.7 302.4,375.4 297.3,372" fill="#b44144" stroke="#b44144"/>
<polygon points="302.8,368.7 308.3,372.4 307.6,378.9 302.4,375.4" fill="#ad3d40" stroke="#ad3d40"/>
<polygon points="308.3,372.4 313.9,376.1 312.8,382.4 307.6,378.9" fill="#a6393c" stroke="#a6393c"/>
<polygon points="316.5,362.8 322.6,366.7 321,373.4 315.1,369.5" fill="#397b67" stroke="#397b67"/>
<polygon points="322.6,366.7 328.8,370.7 326.9,377.3 321,373.4" fill="#377763" stroke="#377763"/>
<polygon points="328.8,370.7 334.9,374.7 332.9,381.2 326.9,377.3" fill="#35735f" stroke="#35735f"/>
<polygon points="315.1,369.5 321,373.4 319.5,379.8 313.9,376.1" fill="#387965" stroke="#387965"/>
<polygon points="321,373.4 326.9,377.3 325.1,383.6 319.5,379.8" fill="#367461" stroke="#367461"/>
<polygon points="326.9,377.3 332.9,381.2 330.8,387.5 325.1,383.6" fill="#34715e" stroke="#34715e"/>
<polygon points="313.9,376.1 319.5,379.8 318.1,386 312.8,382.4" fill="#377763" stroke="#377763"/>
<polygon points="319.5,379.8 325.1,383.6 323.4,389.7 318.1,386" fill="#35735f" stroke="#35735f"/>
<polygon points="325.1,383.6 330.8,387.5 328.9,393.5 323.4,389.7" fill="#34705d" stroke="#34705d"/>
<polygon points="334.9,374.7 341.1,378.6 338.9,385.1 332.9,381.2" fill="#963436" stroke="#963436"/>
<polygon points="341.1,378.6 347.3,382.5 344.9,389 338.9,385.1" fill="#943336" stroke="#943336"/>
<polygon points="347.3,382.5 353.6,386.4 350.9,393 344.9,389" fill="#943336" stroke="#943336"/>
<polygon points="332.9,381.2 338.9,385.1 336.6,391.4 330.8,387.5" fill="#953336" stroke="#953336"/>
<polygon points="338.9,385.1 344.9,389 342.4,395.3 336.6,391.4" fill="#943336" stroke="#943336"/>
<polygon points="344.9,389 350.9,393 348.3,399.2 342.4,395.3" fill="#953436" stroke="#953436"/>
<polygon points="330.8,387.5 336.6,391.4 334.4,397.3 328.9,393.5" fill="#943336" stroke="#943336"/>
<polygon points="336.6,391.4 342.4,395.3 339.9,401.2 334.4,397.3" fill="#943336" stroke="#943336"/>
<polygon points="342.4,395.3 348.3,399.2 345.6,405.2 339.9,401.2" fill="#973437" stroke="#973437"/>
<polygon points="353.6,386.4 359.8,390.2 357,396.9 350.9,393" fill="#973437" stroke="#973437"/>
<polygon points="359.8,390.2 366,394 363.1,400.8 357,396.9" fill="#9b3638" stroke="#9b3638"/>
<polygon points="366,394 372.3,397.8 369.3,404.7 363.1,400.8" fill="#a1383a" stroke="#a1383a"/>
<polygon points="350.9,393 357,396.9 354.2,403.2 348.3,399.2" fill="#993537" stroke="#993537"/>
<polygon points="357,396.9 363.1,400.8 360.2,407.2 354.2,403.2" fill="#9e3639" stroke="#9e3639"/>
<polygon points="363.1,400.8 369.3,404.7 366.2,411.3 360.2,407.2" fill="#a4393c" stroke="#a4393c"/>
<polygon points="348.3,399.2 354.2,403.2 351.3,409.2 345.6,405.2" fill="#9b3638" stroke="#9b3638"/>
<polygon points="354.2,403.2 360.2,407.2 357.1,413.4 351.3,409.2" fill="#a1383a" stroke="#a1383a"/>
<polygon points="360.2,407.2 366.2,411.3 363,417.6 357.1,413.4" fill="#a73a3d" stroke="#a73a3d"/>
<polygon points="372.3,397.8 378.5,401.5 375.4,408.6 369.3,404.7" fill="#d7d6c3" stroke="#d7d6c3"/>
<polygon points="378.5,401.5 384.7,405.1 381.6,412.4 375.4,408.6" fill="#e0dfcb" stroke="#e0dfcb"/>
<polygon points="384.7,405.1 390.9,408.7 387.7,416.3 381.6,412.4" fill="#e8e7d3" stroke="#e8e7d3"/>
<polygon points="369.3,404.7 375.4,408.6 372.2,415.4 366.2,411.3" fill="#dcdbc7" stroke="#dcdbc7"/>
<polygon points="375.4,408.6 381.6,412.4 378.3,419.5 372.2,415.4" fill="#e4e3cf" stroke="#e4e3cf"/>
<polygon points="381.6,412.4 387.7,416.3 384.5,423.7 378.3,419.5" fill="#ebead6" stroke="#ebead6"/>
<polygon points="366.2,411.3 372.2,415.4 369,421.9 363,417.6" fill="#e0dfcb" stroke="#e0dfcb"/>
<polygon points="372.2,415.4 378.3,419.5 375,426.3 369,421.9" fill="#e8e7d3" stroke="#e8e7d3"/>
<polygon points="378.3,419.5 384.5,423.7 381.1,430.8 375,426.3" fill="#eeedd9" stroke="#eeedd9"/>
<polygon points="390.9,408.7 397.1,412.2 393.9,420.1 387.7,416.3" fill="#458d76" stroke="#458d76"/>
<polygon points="397.1,412.2 403.2,415.7 400.1,423.9 393.9,420.1" fill="#468f78" stroke="#468f78"/>
<polygon points="403.2,415.7 409.3,419 406.2,427.7 400.1,423.9" fill="#479079" stroke="#479079"/>
<polygon points="387.7,416.3 393.9,420.1 390.7,427.9 384.5,423.7" fill="#468e77" stroke="#468e77"/>
<polygon points="393.9,420.1 400.1,423.9 396.9,432.1 390.7,427.9" fill="#479079" stroke="#479079"/>
<polygon points="400.1,423.9 406.2,427.7 403.1,436.3 396.9,432.1" fill="#478f79" stroke="#478f79"/>
<polygon points="384.5,423.7 390.7,427.9 387.3,435.4 381.1,430.8" fill="#468f78" stroke="#468f78"/>
<polygon points="390.7,427.9 396.9,432.1 393.6,440.1 387.3,435.4" fill="#479079" stroke="#479079"/>
<polygon points="396.9,432.1 403.1,436.3 400,444.9 393.6,440.1" fill="#468e78" stroke="#468e78"/>
<polygon points="297.3,372 302.4,375.4 302.2,382 297.5,378.8" fill="#e2e1ce" stroke="#e2e1ce"/>
<polygon points="302.4,375.4 307.6,378.9 306.9,385.2 302.2,382" fill="#dad9c5" stroke="#dad9c5"/>
<polygon points="307.6,378.9 312.8,382.4 311.8,388.5 306.9,385.2" fill="#d1d0be" stroke="#d1d0be"/>
<polygon points="297.5,378.8 302.2,382 302.1,388.4 297.9,385.6" fill="#deddca" stroke="#deddca"/>
<polygon points="302.2,382 306.9,385.2 306.5,391.4 302.1,388.4" fill="#d5d4c1" stroke="#d5d4c1"/>
<polygon points="306.9,385.2 311.8,388.5 310.9,394.5 306.5,391.4" fill="#cdccba" stroke="#cdccba"/>
<polygon points="297.9,385.6 302.1,388.4 302.3,394.7 298.5,392.2" fill="#dad9c5" stroke="#dad9c5"/>
<polygon points="302.1,388.4 306.5,391.4 306.2,397.4 302.3,394.7" fill="#d1d0be" stroke="#d1d0be"/>
<polygon points="306.5,391.4 310.9,394.5 310.2,400.3 306.2,397.4" fill="#c9c8b7" stroke="#c9c8b7"/>
<polygon points="312.8,382.4 318.1,386 316.7,392 311.8,388.5" fill="#367461" stroke="#367461"/>
<polygon points="318.1,386 323.4,389.7 321.8,395.5 316.7,392" fill="#34715e" stroke="#34715e"/>
<polygon points="323.4,389.7 328.9,393.5 326.9,399.2 321.8,395.5" fill="#336f5c" stroke="#336f5c"/>
<polygon points="311.8,388.5 316.7,392 315.5,397.7 310.9,394.5" fill="#35735f" stroke="#35735f"/>
<polygon points="316.7,392 321.8,395.5 320.2,401.1 315.5,397.7" fill="#34705d" stroke="#34705d"/>
<polygon points="321.8,395.5 326.9,399.2 325,404.7 320.2,401.1" fill="#336e5c" stroke="#336e5c"/>
<polygon points="310.9,394.5 315.5,397.7 314.4,403.3 310.2,400.3" fill="#34715e" stroke="#34715e"/>
<polygon points="315.5,397.7 320.2,401.1 318.7,406.5 314.4,403.3" fill="#336f5c" stroke="#336f5c"/>
<polygon points="320.2,401.1 325,404.7 323.1,409.9 318.7,406.5" fill="#336e5c" stroke="#336e5c"/>
<polygon points="328.9,393.5 334.4,397.3 332.1,403 326.9,399.2" fill="#bebdac" stroke="#bebdac"/>
<polygon points="334.4,397.3 339.9,401.2 337.4,406.8 332.1,403" fill="#c0bfae" stroke="#c0bfae"/>
<polygon points="339.9,401.2 345.6,405.2 342.9,410.8 337.4,406.8" fill="#c4c3b2" stroke="#c4c3b2"/>
<polygon points="326.9,399.2 332.1,403 329.9,408.3 325,404.7" fill="#bfbead" stroke="#bfbead"/>
<polygon points="332.1,403 337.4,406.8 334.9,412.2 329.9,408.3" fill="#c2c1b0" stroke="#c2c1b0"/>
<polygon points="337.4,406.8 342.9,410.8 340.1,416.2 334.9,412.2" fill="#c7c6b5" stroke="#c7c6b5"/>
<polygon points="325,404.7 329.9,408.3 327.7,413.5 323.1,409.9" fill="#c0bfae" stroke="#c0bfae"/>
<polygon points="329.9,408.3 334.9,412.2 332.4,417.3 327.7,413.5" fill="#c4c3b2" stroke="#c4c3b2"/>
<polygon points="334.9,412.2 340.1,416.2 337.3,421.4 332.4,417.3" fill="#cbcab8" stroke="#cbcab8"/>
<polygon points="345.6,405.2 351.3,409.2 348.4,415 342.9,410.8" fill="#cbcab8" stroke="#cbcab8"/>
<polygon points="351.3,409.2 357.1,413.4 354,419.2 348.4,415" fill="#d3d2bf" stroke="#d3d2bf"/>
<polygon points="357.1,413.4 363,417.6 359.8,423.7 354,419.2" fill="#dcdbc7" stroke="#dcdbc7"/>
<polygon points="342.9,410.8 348.4,415 345.4,420.4 340.1,416.2" fill="#cfcebc" stroke="#cfcebc"/>
<polygon points="348.4,415 354,419.2 350.9,424.8 345.4,420.4" fill="#d7d6c3" stroke="#d7d6c3"/>
<polygon points="354,419.2 359.8,423.7 356.5,429.4 350.9,424.8" fill="#e0dfcb" stroke="#e0dfcb"/>
<polygon points="340.1,416.2 345.4,420.4 342.4,425.6 337.3,421.4" fill="#d3d2bf" stroke="#d3d2bf"/>
<polygon points="345.4,420.4 350.9,424.8 347.7,430.2 342.4,425.6" fill="#dcdbc7" stroke="#dcdbc7"/>
<polygon points="350.9,424.8 356.5,429.4 353.1,435 347.7,430.2" fill="#e4e3cf" stroke="#e4e3cf"/>
<polygon points="363,417.6 369,421.9 365.6,428.2 359.8,423.7" fill="#b24043" stroke="#b24043"/>
<polygon points="369,421.9 375,426.3 371.6,432.9 365.6,428.2" fill="#b84346" stroke="#b84346"/>
<polygon points="375,426.3 381.1,430.8 377.7,437.8 371.6,432.9" fill="#bd4649" stroke="#bd4649"/>
<polygon points="359.8,423.7 365.6,428.2 362.2,434.3 356.5,429.4" fill="#b54245" stroke="#b54245"/>
<polygon points="365.6,428.2 371.6,432.9 368.1,439.3 362.2,434.3" fill="#bb4548" stroke="#bb4548"/>
<polygon points="371.6,432.9 377.7,437.8 374.2,444.6 368.1,439.3" fill="#be464a" stroke="#be464a"/>
<polygon points="356.5,429.4 362.2,434.3 358.7,440.1 353.1,435" fill="#b84346" stroke="#b84346"/>
<polygon points="362.2,434.3 368.1,439.3 364.6,445.5 358.7,440.1" fill="#bd4649" stroke="#bd4649"/>
<polygon points="368.1,439.3 374.2,444.6 370.6,451.2 364.6,445.5" fill="#bf474a" stroke="#bf474a"/>
<polygon points="381.1,430.8 387.3,435.4 383.9,442.8 377.7,437.8" fill="#479079" stroke="#479079"/>
<polygon points="387.3,435.4 393.6,440.1 390.3,448 383.9,442.8" fill="#478f79" stroke="#478f79"/>
<polygon points="393.6,440.1 400,444.9 396.8,453.4 390.3,448" fill="#458d76" stroke="#458d76"/>
<polygon points="377.7,437.8 383.9,442.8 380.5,450.1 374.2,444.6" fill="#479079" stroke="#479079"/>
<polygon points="383.9,442.8 390.3,448 386.9,455.9 380.5,450.1" fill="#468e78" stroke="#468e78"/>
<polygon points="390.3,448 396.8,453.4 393.5,461.9 386.9,455.9" fill="#448b75" stroke="#448b75"/>
<polygon points="374.2,444.6 380.5,450.1 376.9,457.2 370.6,451.2" fill="#478f79" stroke="#478f79"/>
<polygon points="380.5,450.1 386.9,455.9 383.4,463.6 376.9,457.2" fill="#458d76" stroke="#458d76"/>
<polygon points="386.9,455.9 393.5,461.9 390.2,470.4 383.4,463.6" fill="#428973" stroke="#428973"/>
</g>
<path d="M333.6,256.2 L320.3,282.4 L310.8,307.1 L304.4,330.4 L300.7,352.4 L299.4,373.4 L300.0,393.2 M329.5,259.1 L345.2,265.5 L361.8,273.0 L379.4,281.6 L398.1,291.5 L417.9,303.0 L439.0,316.3 M335.6,257.0 L322.8,283.7 L313.5,308.7 L307.1,332.1 L303.2,354.1 L301.5,374.8 L301.6,394.3 M327.4,262.6 L343.7,269.7 L360.8,277.5 L378.7,286.4 L397.6,296.2 L417.4,307.4 L438.2,319.9 M337.7,257.8 L325.4,285.0 L316.2,310.3 L309.8,333.8 L305.7,355.7 L303.6,376.2 L303.2,395.3 M325.4,266.1 L342.2,273.7 L359.7,282.0 L378.0,291.0 L397.0,300.9 L416.8,311.7 L437.4,323.6 M339.7,258.6 L327.9,286.3 L319.0,311.9 L312.5,335.5 L308.2,357.3 L305.7,377.6 L304.7,396.4 M323.6,269.6 L340.8,277.8 L358.7,286.4 L377.2,295.6 L396.4,305.5 L416.1,316.0 L436.5,327.3 M341.8,259.4 L330.4,287.6 L321.7,313.5 L315.2,337.2 L310.7,359.0 L307.8,379.0 L306.4,397.5 M321.7,273.1 L339.4,281.7 L357.7,290.7 L376.4,300.1 L395.7,310.0 L415.5,320.2 L435.7,330.9 M343.9,260.2 L333.0,289.0 L324.4,315.1 L317.9,338.9 L313.1,360.6 L309.9,380.5 L308.0,398.7 M320.0,276.5 L338.1,285.6 L356.6,295.0 L375.6,304.5 L395.0,314.4 L414.8,324.4 L434.8,334.6 M346.0,261.1 L335.5,290.3 L327.1,316.7 L320.6,340.6 L315.6,362.2 L312.1,381.9 L309.7,399.9 M318.4,279.9 L336.8,289.5 L355.6,299.1 L374.8,308.9 L394.3,318.7 L414.0,328.5 L433.9,338.2 M348.2,261.9 L338.1,291.6 L329.9,318.2 L323.3,342.2 L318.1,363.9 L314.2,383.4 L311.3,401.1 M316.8,283.3 L335.5,293.2 L354.6,303.2 L374.0,313.1 L393.6,322.9 L413.3,332.6 L432.9,341.9 M350.3,262.8 L340.6,292.9 L332.6,319.8 L326.0,343.9 L320.7,365.5 L316.4,384.9 L313.0,402.3 M315.3,286.7 L334.3,297.0 L353.6,307.2 L373.2,317.3 L392.8,327.1 L412.5,336.6 L432.0,345.5 M352.5,263.8 L343.2,294.3 L335.3,321.4 L328.7,345.6 L323.2,367.1 L318.5,386.4 L314.7,403.6 M313.9,290.1 L333.1,300.7 L352.6,311.1 L372.3,321.4 L392.0,331.2 L411.7,340.6 L431.0,349.2 M354.7,264.7 L345.8,295.6 L338.1,322.9 L331.4,347.2 L325.7,368.7 L320.7,387.9 L316.5,404.9 M312.5,293.4 L332.0,304.3 L351.7,315.0 L371.4,325.4 L391.2,335.3 L410.8,344.5 L430.0,352.9 M356.9,265.7 L348.4,296.9 L340.8,324.5 L334.1,348.8 L328.2,370.4 L322.9,389.4 L318.3,406.2 M311.2,296.7 L330.9,307.9 L350.7,318.8 L370.6,329.3 L390.4,339.2 L409.9,348.4 L429.0,356.5 M359.1,266.7 L351.0,298.3 L343.6,326.0 L336.8,350.5 L330.7,372.0 L325.1,390.9 L320.1,407.5 M310.0,300.0 L329.8,311.4 L349.7,322.5 L369.7,333.1 L389.5,343.1 L409.0,352.2 L428.0,360.1 M361.4,267.7 L353.6,299.6 L346.3,327.6 L339.5,352.1 L333.2,373.6 L327.4,392.4 L321.9,408.9 M308.8,303.3 L328.7,314.9 L348.8,326.2 L368.8,336.9 L388.6,346.9 L408.1,356.0 L426.9,363.8 M363.7,268.7 L356.2,300.9 L349.0,329.1 L342.2,353.7 L335.8,375.2 L329.6,394.0 L323.7,410.4 M307.7,306.5 L327.7,318.3 L347.8,329.8 L367.9,340.6 L387.7,350.7 L407.1,359.7 L425.9,367.4 M366.0,269.8 L358.8,302.3 L351.8,330.6 L344.9,355.3 L338.3,376.8 L331.9,395.5 L325.6,411.8 M306.7,309.7 L326.7,321.7 L346.9,333.3 L366.9,344.2 L386.8,354.4 L406.1,363.4 L424.8,371.1 M368.3,270.9 L361.4,303.6 L354.5,332.1 L347.7,356.9 L340.8,378.4 L334.1,397.1 L327.5,413.3 M305.7,312.9 L325.8,325.1 L345.9,336.8 L366.0,347.8 L385.8,358.0 L405.1,367.1 L423.7,374.7 M370.6,272.0 L364.0,304.9 L357.2,333.6 L350.3,358.4 L343.4,380.0 L336.4,398.7 L329.4,414.9 M304.8,316.1 L324.9,328.4 L345.0,340.2 L365.0,351.3 L384.8,361.6 L404.1,370.7 L422.6,378.3 M373.0,273.1 L366.6,306.3 L360.0,335.0 L353.0,360.0 L345.9,381.6 L338.7,400.3 L331.3,416.4 M303.9,319.3 L324.0,331.6 L344.1,343.5 L364.1,354.7 L383.8,365.1 L403.1,374.3 L421.5,381.9 M375.3,274.3 L369.3,307.6 L362.7,336.5 L355.7,361.5 L348.5,383.2 L341.0,401.9 L333.3,418.0 M303.1,322.4 L323.1,334.8 L343.2,346.8 L363.1,358.1 L382.8,368.5 L402.0,377.8 L420.4,385.5 M377.7,275.5 L371.9,309.0 L365.4,338.0 L358.4,363.1 L351.0,384.8 L343.3,403.5 L335.3,419.7 M302.4,325.5 L322.3,338.0 L342.2,350.0 L362.1,361.4 L381.7,371.9 L400.9,381.3 L419.3,389.1 M380.2,276.7 L374.6,310.3 L368.2,339.4 L361.1,364.6 L353.6,386.4 L345.6,405.2 L337.3,421.4 M301.7,328.6 L321.5,341.1 L341.3,353.2 L361.1,364.6 L380.7,375.2 L399.7,384.7 L418.1,392.8 M382.6,278.0 L377.2,311.6 L370.9,340.8 L363.8,366.1 L356.1,388.0 L347.9,406.8 L339.4,423.1 M301.1,331.7 L320.7,344.2 L340.4,356.3 L360.1,367.7 L379.6,378.5 L398.6,388.1 L417.0,396.3 M385.1,279.3 L379.9,313.0 L373.6,342.2 L366.5,367.6 L358.7,389.5 L350.3,408.5 L341.5,424.8 M300.5,334.8 L320.0,347.2 L339.6,359.3 L359.1,370.8 L378.5,381.7 L397.4,391.5 L415.8,399.9 M387.6,280.6 L382.5,314.3 L376.3,343.6 L369.1,369.0 L361.2,391.1 L352.6,410.2 L343.6,426.6 M300.0,337.8 L319.3,350.2 L338.7,362.3 L358.1,373.9 L377.3,384.8 L396.3,394.8 L414.6,403.5 M390.1,281.9 L385.2,315.7 L379.0,345.0 L371.8,370.5 L363.8,392.6 L355.0,411.9 L345.7,428.5 M299.5,340.9 L318.6,353.2 L337.8,365.2 L357.1,376.9 L376.2,387.9 L395.1,398.1 L413.4,407.1 M392.6,283.3 L387.8,317.0 L381.7,346.4 L374.5,371.9 L366.3,394.2 L357.4,413.6 L347.9,430.4 M299.1,343.9 L317.9,356.1 L336.9,368.1 L356.0,379.8 L375.0,390.9 L393.8,401.3 L412.2,410.7 M395.2,284.7 L390.5,318.3 L384.4,347.7 L377.1,373.3 L368.9,395.7 L359.8,415.3 L350.1,432.3 M298.7,346.9 L317.3,359.0 L336.1,371.0 L355.0,382.6 L373.9,393.9 L392.6,404.5 L411.0,414.3 M397.8,286.2 L393.2,319.7 L387.1,349.0 L379.8,374.7 L371.4,397.3 L362.2,417.0 L352.3,434.3 M298.4,349.8 L316.7,361.8 L335.2,373.7 L353.9,385.5 L372.7,396.8 L391.3,407.7 L409.7,417.8 M400.4,287.7 L395.9,321.0 L389.8,350.3 L382.4,376.1 L374.0,398.8 L364.6,418.8 L354.6,436.3 M298.1,352.8 L316.1,364.6 L334.4,376.5 L352.9,388.2 L371.5,399.7 L390.1,410.8 L408.5,421.4 M403.0,289.2 L398.6,322.3 L392.5,351.6 L385.0,377.5 L376.5,400.3 L367.1,420.5 L356.9,438.4 M297.9,355.7 L315.5,367.4 L333.5,379.2 L351.8,390.9 L370.2,402.5 L388.8,413.9 L407.2,424.9 M405.7,290.7 L401.2,323.7 L395.1,352.9 L387.7,378.8 L379.1,401.8 L369.5,422.3 L359.2,440.6 M297.7,358.6 L315.0,370.1 L332.7,381.8 L350.7,393.5 L369.0,405.3 L387.5,417.0 L406.0,428.5 M408.4,292.3 L403.9,325.0 L397.8,354.1 L390.3,380.1 L381.6,403.3 L372.0,424.1 L361.6,442.7 M297.5,361.5 L314.5,372.8 L331.9,384.4 L349.6,396.1 L367.7,408.0 L386.1,420.0 L404.7,432.0 M411.1,294.0 L406.6,326.3 L400.4,355.3 L392.9,381.4 L384.1,404.8 L374.5,425.9 L364.0,445.0 M297.4,364.4 L314.0,375.5 L331.0,386.9 L348.5,398.7 L366.5,410.7 L384.8,423.0 L403.4,435.5 M413.8,295.6 L409.3,327.7 L403.1,356.6 L395.5,382.7 L386.7,406.3 L377.0,427.7 L366.5,447.2 M297.3,367.2 L313.5,378.1 L330.2,389.4 L347.4,401.1 L365.2,413.3 L383.4,426.0 L402.1,439.1 M416.6,297.4 L412.0,329.0 L405.7,357.7 L398.0,383.9 L389.2,407.8 L379.5,429.6 L369.0,449.6 M297.3,370.1 L313.1,380.7 L329.4,391.9 L346.3,403.6 L363.9,415.9 L382.1,428.9 L400.8,442.6 M419.4,299.1 L414.7,330.3 L408.3,358.9 L400.6,385.1 L391.7,409.2 L382.0,431.4 L371.5,452.0 M297.3,372.9 L312.6,383.3 L328.6,394.3 L345.2,406.0 L362.6,418.4 L380.7,431.8 L399.5,446.1 M422.2,300.9 L417.4,331.6 L410.9,360.0 L403.1,386.3 L394.3,410.7 L384.5,433.3 L374.0,454.4 M297.4,375.7 L312.2,385.8 L327.8,396.6 L344.1,408.3 L361.3,420.9 L379.3,434.6 L398.2,449.6 M425.1,302.7 L420.1,332.9 L413.5,361.1 L405.7,387.4 L396.8,412.1 L387.1,435.2 L376.6,456.9 M297.5,378.5 L311.8,388.3 L327.0,398.9 L343.0,410.6 L359.9,423.4 L377.9,437.5 L396.9,453.1 M428.0,304.6 L422.8,334.3 L416.1,362.2 L408.2,388.6 L399.3,413.5 L389.6,437.1 L379.3,459.5 M297.6,381.3 L311.5,390.7 L326.2,401.2 L341.9,412.8 L358.6,425.8 L376.4,440.3 L395.6,456.5 M430.9,306.5 L425.5,335.6 L418.7,363.2 L410.7,389.7 L401.8,414.9 L392.2,439.0 L381.9,462.1 M297.8,384.0 L311.1,393.2 L325.4,403.4 L340.7,415.0 L357.2,428.2 L375.0,443.0 L394.2,460.0 M433.8,308.5 L428.2,336.9 L421.2,364.3 L413.2,390.7 L404.3,416.3 L394.8,441.0 L384.6,464.8 M298.0,386.8 L310.8,395.6 L324.6,405.6 L339.6,417.2 L355.9,430.5 L373.6,445.8 L392.9,463.5 M436.8,310.5 L430.9,338.2 L423.7,365.2 L415.7,391.8 L406.8,417.7 L397.4,442.9 L387.4,467.6 M298.2,389.5 L310.5,397.9 L323.9,407.8 L338.5,419.3 L354.5,432.7 L372.1,448.5 L391.6,466.9" fill="none" stroke="#222" stroke-width="0.45" stroke-opacity="0.5"/>
<circle cx="282.8" cy="355" r="2.8" fill="#000"/>
<circle cx="292.9" cy="355" r="2.8" fill="#000"/>
<circle cx="303.0" cy="355" r="2.8" fill="#000"/>
<circle cx="313.1" cy="355" r="2.8" fill="#000"/>
<polygon points="504,670 511.4,673.4 518.9,676.9 526.6,680.4 534.3,684 534.3,689 526.6,685.4 518.9,681.9 511.4,678.4 504,675" fill="#eeeed2" stroke="#eeeed2" stroke-width="0.4"/>
<polygon points="504,665 511.4,668.4 518.9,671.9 526.6,675.4 534.3,679 534.3,684 526.6,680.4 518.9,676.9 511.4,673.4 504,670" fill="#eeeed2" stroke="#eeeed2" stroke-width="0.4"/>
<polygon points="534.3,684 542.3,687.7 550.3,691.4 558.6,695.2 566.9,699 566.9,704 558.6,700.2 550.3,696.4 542.3,692.7 534.3,689" fill="#52a387" stroke="#52a387" stroke-width="0.4"/>
<polygon points="534.3,679 542.3,682.7 550.3,686.4 558.6,690.2 566.9,694 566.9,699 558.6,695.2 550.3,691.4 542.3,687.7 534.3,684" fill="#eeeed2" stroke="#eeeed2" stroke-width="0.4"/>
<polygon points="566.9,699 575.4,703 584.1,707 592.9,711 601.9,715.2 601.9,720.2 592.9,716 584.1,712 575.4,708 566.9,704" fill="#52a387" stroke="#52a387" stroke-width="0.4"/>
<polygon points="566.9,694 575.4,698 584.1,702 592.9,706 601.9,710.2 601.9,715.2 592.9,711 584.1,707 575.4,703 566.9,699" fill="#c94848" stroke="#c94848" stroke-width="0.4"/>
<polygon points="601.9,715.2 611.1,719.4 620.5,723.8 630,728.2 639.7,732.6 639.7,737.6 630,733.2 620.5,728.8 611.1,724.4 601.9,720.2" fill="#52a387" stroke="#52a387" stroke-width="0.4"/>
<polygon points="601.9,710.2 611.1,714.4 620.5,718.8 630,723.2 639.7,727.6 639.7,732.6 630,728.2 620.5,723.8 611.1,719.4 601.9,715.2" fill="#eeeed2" stroke="#eeeed2" stroke-width="0.4"/>
<polygon points="639.7,732.6 649.6,737.2 659.8,741.9 670.1,746.7 680.6,751.5 680.6,756.5 670.1,751.7 659.8,746.9 649.6,742.2 639.7,737.6" fill="#eeeed2" stroke="#eeeed2" stroke-width="0.4"/>
<polygon points="639.7,727.6 649.6,732.2 659.8,736.9 670.1,741.7 680.6,746.5 680.6,751.5 670.1,746.7 659.8,741.9 649.6,737.2 639.7,732.6" fill="#52a387" stroke="#52a387" stroke-width="0.4"/>
<polygon points="680.6,751.5 691.4,756.5 702.3,761.5 713.6,766.7 725,772 725,777 713.6,771.7 702.3,766.5 691.4,761.5 680.6,756.5" fill="#52a387" stroke="#52a387" stroke-width="0.4"/>
<polygon points="680.6,746.5 691.4,751.5 702.3,756.5 713.6,761.7 725,767 725,772 713.6,766.7 702.3,761.5 691.4,756.5 680.6,751.5" fill="#c94848" stroke="#c94848" stroke-width="0.4"/>
<polygon points="725,772 735.4,767 745.6,762.1 755.6,757.3 765.5,752.6 765.5,757.6 755.6,762.3 745.6,767.1 735.4,772 725,777" fill="#2c5f4e" stroke="#2c5f4e" stroke-width="0.4"/>
<polygon points="725,767 735.4,762 745.6,757.1 755.6,752.3 765.5,747.6 765.5,752.6 755.6,757.3 745.6,762.1 735.4,767 725,772" fill="#7e2729" stroke="#7e2729" stroke-width="0.4"/>
<polygon points="765.5,752.6 775.1,747.9 784.5,743.4 793.8,738.9 802.9,734.6 802.9,739.6 793.8,743.9 784.5,748.4 775.1,752.9 765.5,757.6" fill="#2c5f4e" stroke="#2c5f4e" stroke-width="0.4"/>
<polygon points="765.5,747.6 775.1,742.9 784.5,738.4 793.8,733.9 802.9,729.6 802.9,734.6 793.8,738.9 784.5,743.4 775.1,747.9 765.5,752.6" fill="#aaa892" stroke="#aaa892" stroke-width="0.4"/>
<polygon points="802.9,734.6 811.9,730.3 820.7,726 829.3,721.9 837.8,717.8 837.8,722.8 829.3,726.9 820.7,731 811.9,735.3 802.9,739.6" fill="#2c5f4e" stroke="#2c5f4e" stroke-width="0.4"/>
<polygon points="802.9,729.6 811.9,725.3 820.7,721 829.3,716.9 837.8,712.8 837.8,717.8 829.3,721.9 820.7,726 811.9,730.3 802.9,734.6" fill="#7e2729" stroke="#7e2729" stroke-width="0.4"/>
<polygon points="837.8,717.8 846.1,713.8 854.3,709.9 862.4,706 870.3,702.2 870.3,707.2 862.4,711 854.3,714.9 846.1,718.8 837.8,722.8" fill="#2c5f4e" stroke="#2c5f4e" stroke-width="0.4"/>
<polygon points="837.8,712.8 846.1,708.8 854.3,704.9 862.4,701 870.3,697.2 870.3,702.2 862.4,706 854.3,709.9 846.1,713.8 837.8,717.8" fill="#aaa892" stroke="#aaa892" stroke-width="0.4"/>
<polygon points="870.3,702.2 878,698.5 885.7,694.8 893.2,691.2 900.6,687.6 900.6,692.6 893.2,696.2 885.7,699.8 878,703.5 870.3,707.2" fill="#2c5f4e" stroke="#2c5f4e" stroke-width="0.4"/>
<polygon points="870.3,697.2 878,693.5 885.7,689.8 893.2,686.2 900.6,682.6 900.6,687.6 893.2,691.2 885.7,694.8 878,698.5 870.3,702.2" fill="#aaa892" stroke="#aaa892" stroke-width="0.4"/>
<polygon points="900.6,687.6 907.9,684.1 915,680.7 922.1,677.3 929,674 929,679 922.1,682.3 915,685.7 907.9,689.1 900.6,692.6" fill="#2c5f4e" stroke="#2c5f4e" stroke-width="0.4"/>
<polygon points="900.6,682.6 907.9,679.1 915,675.7 922.1,672.3 929,669 929,674 922.1,677.3 915,680.7 907.9,684.1 900.6,687.6" fill="#aaa892" stroke="#aaa892" stroke-width="0.4"/>
<g stroke-width="0.9">
<polygon points="504,665 511.4,668.4 518.9,671.9 526.6,675.4 534.3,679 534.3,679 544.5,675.6 554.4,672.2 564.3,668.9 573.9,665.7 573.9,665.7 566,662.3 558.3,659 550.7,655.7 543.2,652.5 543.2,652.5 533.6,655.6 523.9,658.7 514,661.8 504,665" fill="#d8d7c2" stroke="#d8d7c2"/>
<polygon points="534.3,679 542.3,682.7 550.3,686.4 558.6,690.2 566.9,694 566.9,694 577.1,690.4 587.2,686.8 597.1,683.2 606.8,679.7 606.8,679.7 598.4,676.1 590.1,672.6 581.9,669.1 573.9,665.7 573.9,665.7 564.3,668.9 554.4,672.2 544.5,675.6 534.3,679" fill="#d8d7c2" stroke="#d8d7c2"/>
<polygon points="566.9,694 575.4,698 584.1,702 592.9,706 601.9,710.2 601.9,710.2 612.2,706.3 622.4,702.4 632.3,698.6 642.1,694.8 642.1,694.8 633,690.9 624.1,687.1 615.4,683.4 606.8,679.7 606.8,679.7 597.1,683.2 587.2,686.8 577.1,690.4 566.9,694" fill="#a53436" stroke="#a53436"/>
<polygon points="601.9,710.2 611.1,714.4 620.5,718.8 630,723.2 639.7,727.6 639.7,727.6 650.1,723.4 660.3,719.2 670.3,715.1 680.1,711.1 680.1,711.1 670.3,706.9 660.8,702.8 651.3,698.8 642.1,694.8 642.1,694.8 632.3,698.6 622.4,702.4 612.2,706.3 601.9,710.2" fill="#d8d7c2" stroke="#d8d7c2"/>
<polygon points="639.7,727.6 649.6,732.2 659.8,736.9 670.1,741.7 680.6,746.5 680.6,746.5 691,741.9 701.2,737.4 711.3,733 721.1,728.6 721.1,728.6 710.5,724.1 700.2,719.7 690.1,715.3 680.1,711.1 680.1,711.1 670.3,715.1 660.3,719.2 650.1,723.4 639.7,727.6" fill="#3b7c68" stroke="#3b7c68"/>
<polygon points="680.6,746.5 691.4,751.5 702.3,756.5 713.6,761.7 725,767 725,767 735.4,762 745.6,757.1 755.6,752.3 765.5,747.6 765.5,747.6 754,742.7 742.8,737.9 731.8,733.2 721.1,728.6 721.1,728.6 711.3,733 701.2,737.4 691,741.9 680.6,746.5" fill="#a53436" stroke="#a53436"/>
<polygon points="543.2,652.5 550.7,655.7 558.3,659 566,662.3 573.9,665.7 573.9,665.7 583.4,662.5 592.8,659.3 602,656.2 611,653.1 611,653.1 603.1,650 595.3,646.8 587.6,643.8 580,640.8 580,640.8 571,643.6 561.9,646.6 552.6,649.5 543.2,652.5" fill="#3b7c68" stroke="#3b7c68"/>
<polygon points="573.9,665.7 581.9,669.1 590.1,672.6 598.4,676.1 606.8,679.7 606.8,679.7 616.4,676.3 625.8,672.9 635.1,669.6 644.2,666.3 644.2,666.3 635.7,662.9 627.3,659.6 619.1,656.3 611,653.1 611,653.1 602,656.2 592.8,659.3 583.4,662.5 573.9,665.7" fill="#3b7c68" stroke="#3b7c68"/>
<polygon points="606.8,679.7 615.4,683.4 624.1,687.1 633,690.9 642.1,694.8 642.1,694.8 651.7,691.1 661.2,687.5 670.5,684 679.7,680.4 679.7,680.4 670.6,676.8 661.6,673.3 652.8,669.8 644.2,666.3 644.2,666.3 635.1,669.6 625.8,672.9 616.4,676.3 606.8,679.7" fill="#d8d7c2" stroke="#d8d7c2"/>
<polygon points="642.1,694.8 651.3,698.8 660.8,702.8 670.3,706.9 680.1,711.1 680.1,711.1 689.8,707.1 699.2,703.2 708.6,699.4 717.7,695.6 717.7,695.6 708,691.7 698.3,687.9 688.9,684.1 679.7,680.4 679.7,680.4 670.5,684 661.2,687.5 651.7,691.1 642.1,694.8" fill="#3b7c68" stroke="#3b7c68"/>
<polygon points="680.1,711.1 690.1,715.3 700.2,719.7 710.5,724.1 721.1,728.6 721.1,728.6 730.8,724.3 740.2,720.1 749.6,716 758.7,711.9 758.7,711.9 748.2,707.7 737.8,703.6 727.7,699.6 717.7,695.6 717.7,695.6 708.6,699.4 699.2,703.2 689.8,707.1 680.1,711.1" fill="#a53436" stroke="#a53436"/>
<polygon points="721.1,728.6 731.8,733.2 742.8,737.9 754,742.7 765.5,747.6 765.5,747.6 775.1,742.9 784.5,738.4 793.8,733.9 802.9,729.6 802.9,729.6 791.6,725 780.4,720.6 769.5,716.2 758.7,711.9 758.7,711.9 749.6,716 740.2,720.1 730.8,724.3 721.1,728.6" fill="#d8d7c2" stroke="#d8d7c2"/>
<polygon points="580,640.8 587.6,643.8 595.3,646.8 603.1,650 611,653.1 611,653.1 620,650.1 628.8,647.1 637.4,644.2 646,641.3 646,641.3 638,638.4 630.1,635.4 622.4,632.5 614.8,629.7 614.8,629.7 606.3,632.4 597.7,635.2 588.9,637.9 580,640.8" fill="#a53436" stroke="#a53436"/>
<polygon points="611,653.1 619.1,656.3 627.3,659.6 635.7,662.9 644.2,666.3 644.2,666.3 653.2,663.1 662,659.9 670.7,656.8 679.3,653.7 679.3,653.7 670.7,650.6 662.4,647.4 654.1,644.4 646,641.3 646,641.3 637.4,644.2 628.8,647.1 620,650.1 611,653.1" fill="#3b7c68" stroke="#3b7c68"/>
<polygon points="644.2,666.3 652.8,669.8 661.6,673.3 670.6,676.8 679.7,680.4 679.7,680.4 688.7,677 697.5,673.6 706.2,670.3 714.8,667 714.8,667 705.7,663.6 696.7,660.2 687.9,657 679.3,653.7 679.3,653.7 670.7,656.8 662,659.9 653.2,663.1 644.2,666.3" fill="#a53436" stroke="#a53436"/>
<polygon points="679.7,680.4 688.9,684.1 698.3,687.9 708,691.7 717.7,695.6 717.7,695.6 726.7,691.9 735.6,688.3 744.3,684.7 752.9,681.2 752.9,681.2 743.1,677.5 733.5,674 724.1,670.4 714.8,667 714.8,667 706.2,670.3 697.5,673.6 688.7,677 679.7,680.4" fill="#a53436" stroke="#a53436"/>
<polygon points="717.7,695.6 727.7,699.6 737.8,703.6 748.2,707.7 758.7,711.9 758.7,711.9 767.7,708 776.6,704 785.2,700.2 793.8,696.4 793.8,696.4 783.3,692.5 773,688.7 762.8,684.9 752.9,681.2 752.9,681.2 744.3,684.7 735.6,688.3 726.7,691.9 717.7,695.6" fill="#3b7c68" stroke="#3b7c68"/>
<polygon points="758.7,711.9 769.5,716.2 780.4,720.6 791.6,725 802.9,729.6 802.9,729.6 811.9,725.3 820.7,721 829.3,716.9 837.8,712.8 837.8,712.8 826.5,708.6 815.4,704.5 804.5,700.4 793.8,696.4 793.8,696.4 785.2,700.2 776.6,704 767.7,708 758.7,711.9" fill="#a53436" stroke="#a53436"/>
<polygon points="614.8,629.7 622.4,632.5 630.1,635.4 638,638.4 646,641.3 646,641.3 654.4,638.5 662.7,635.7 670.9,632.9 678.9,630.2 678.9,630.2 670.9,627.4 663,624.6 655.2,621.9 647.6,619.2 647.6,619.2 639.6,621.8 631.4,624.4 623.2,627 614.8,629.7" fill="#3b7c68" stroke="#3b7c68"/>
<polygon points="646,641.3 654.1,644.4 662.4,647.4 670.7,650.6 679.3,653.7 679.3,653.7 687.7,650.7 696,647.7 704.2,644.8 712.3,641.9 712.3,641.9 703.7,638.9 695.3,636 687.1,633.1 678.9,630.2 678.9,630.2 670.9,632.9 662.7,635.7 654.4,638.5 646,641.3" fill="#d8d7c2" stroke="#d8d7c2"/>
<polygon points="679.3,653.7 687.9,657 696.7,660.2 705.7,663.6 714.8,667 714.8,667 723.3,663.8 731.6,660.6 739.8,657.4 747.8,654.3 747.8,654.3 738.7,651.2 729.8,648 720.9,644.9 712.3,641.9 712.3,641.9 704.2,644.8 696,647.7 687.7,650.7 679.3,653.7" fill="#3b7c68" stroke="#3b7c68"/>
<polygon points="714.8,667 724.1,670.4 733.5,674 743.1,677.5 752.9,681.2 752.9,681.2 761.3,677.7 769.6,674.3 777.8,671 785.8,667.7 785.8,667.7 776.1,664.2 766.5,660.9 757.1,657.6 747.8,654.3 747.8,654.3 739.8,657.4 731.6,660.6 723.3,663.8 714.8,667" fill="#a53436" stroke="#a53436"/>
<polygon points="752.9,681.2 762.8,684.9 773,688.7 783.3,692.5 793.8,696.4 793.8,696.4 802.2,692.7 810.4,689 818.6,685.4 826.5,681.9 826.5,681.9 816.1,678.2 805.8,674.7 795.7,671.1 785.8,667.7 785.8,667.7 777.8,671 769.6,674.3 761.3,677.7 752.9,681.2" fill="#3b7c68" stroke="#3b7c68"/>
<polygon points="793.8,696.4 804.5,700.4 815.4,704.5 826.5,708.6 837.8,712.8 837.8,712.8 846.1,708.8 854.3,704.9 862.4,701 870.3,697.2 870.3,697.2 859,693.3 848,689.4 837.2,685.6 826.5,681.9 826.5,681.9 818.6,685.4 810.4,689 802.2,692.7 793.8,696.4" fill="#d8d7c2" stroke="#d8d7c2"/>
<polygon points="647.6,619.2 655.2,621.9 663,624.6 670.9,627.4 678.9,630.2 678.9,630.2 686.9,627.5 694.7,624.9 702.4,622.3 710,619.7 710,619.7 702,617.1 694.1,614.5 686.3,611.9 678.6,609.4 678.6,609.4 671,611.8 663.3,614.2 655.5,616.7 647.6,619.2" fill="#3b7c68" stroke="#3b7c68"/>
<polygon points="678.9,630.2 687.1,633.1 695.3,636 703.7,638.9 712.3,641.9 712.3,641.9 720.2,639 728,636.2 735.8,633.5 743.4,630.7 743.4,630.7 734.8,627.9 726.4,625.1 718.2,622.4 710,619.7 710,619.7 702.4,622.3 694.7,624.9 686.9,627.5 678.9,630.2" fill="#3b7c68" stroke="#3b7c68"/>
<polygon points="712.3,641.9 720.9,644.9 729.8,648 738.7,651.2 747.8,654.3 747.8,654.3 755.8,651.3 763.6,648.3 771.3,645.4 778.9,642.5 778.9,642.5 769.8,639.5 760.8,636.5 752,633.6 743.4,630.7 743.4,630.7 735.8,633.5 728,636.2 720.2,639 712.3,641.9" fill="#3b7c68" stroke="#3b7c68"/>
<polygon points="747.8,654.3 757.1,657.6 766.5,660.9 776.1,664.2 785.8,667.7 785.8,667.7 793.7,664.4 801.5,661.2 809.2,658.1 816.7,655 816.7,655 807,651.8 797.5,648.6 788.1,645.5 778.9,642.5 778.9,642.5 771.3,645.4 763.6,648.3 755.8,651.3 747.8,654.3" fill="#d8d7c2" stroke="#d8d7c2"/>
<polygon points="785.8,667.7 795.7,671.1 805.8,674.7 816.1,678.2 826.5,681.9 826.5,681.9 834.4,678.4 842.1,675 849.7,671.6 857.2,668.3 857.2,668.3 846.8,664.9 836.6,661.5 826.6,658.2 816.7,655 816.7,655 809.2,658.1 801.5,661.2 793.7,664.4 785.8,667.7" fill="#d8d7c2" stroke="#d8d7c2"/>
<polygon points="826.5,681.9 837.2,685.6 848,689.4 859,693.3 870.3,697.2 870.3,697.2 878,693.5 885.7,689.8 893.2,686.2 900.6,682.6 900.6,682.6 889.5,679 878.5,675.4 867.8,671.8 857.2,668.3 857.2,668.3 849.7,671.6 842.1,675 834.4,678.4 826.5,681.9" fill="#d8d7c2" stroke="#d8d7c2"/>
<polygon points="678.6,609.4 686.3,611.9 694.1,614.5 702,617.1 710,619.7 710,619.7 717.5,617.2 724.9,614.7 732.2,612.2 739.4,609.8 739.4,609.8 731.4,607.3 723.5,604.8 715.7,602.4 708,600 708,600 700.8,602.3 693.5,604.6 686.1,607 678.6,609.4" fill="#a53436" stroke="#a53436"/>
<polygon points="710,619.7 718.2,622.4 726.4,625.1 734.8,627.9 743.4,630.7 743.4,630.7 750.9,628 758.3,625.4 765.5,622.8 772.7,620.2 772.7,620.2 764.2,617.5 755.8,614.9 747.5,612.3 739.4,609.8 739.4,609.8 732.2,612.2 724.9,614.7 717.5,617.2 710,619.7" fill="#a53436" stroke="#a53436"/>
<polygon points="743.4,630.7 752,633.6 760.8,636.5 769.8,639.5 778.9,642.5 778.9,642.5 786.3,639.6 793.7,636.8 801,634 808.1,631.3 808.1,631.3 799.1,628.4 790.1,625.6 781.4,622.9 772.7,620.2 772.7,620.2 765.5,622.8 758.3,625.4 750.9,628 743.4,630.7" fill="#a53436" stroke="#a53436"/>
<polygon points="778.9,642.5 788.1,645.5 797.5,648.6 807,651.8 816.7,655 816.7,655 824.2,651.9 831.5,648.9 838.7,645.9 845.8,643 845.8,643 836.2,640 826.7,637 817.3,634.1 808.1,631.3 808.1,631.3 801,634 793.7,636.8 786.3,639.6 778.9,642.5" fill="#a53436" stroke="#a53436"/>
<polygon points="816.7,655 826.6,658.2 836.6,661.5 846.8,664.9 857.2,668.3 857.2,668.3 864.6,665.1 871.8,661.9 879,658.7 886,655.6 886,655.6 875.7,652.4 865.6,649.2 855.6,646.1 845.8,643 845.8,643 838.7,645.9 831.5,648.9 824.2,651.9 816.7,655" fill="#3b7c68" stroke="#3b7c68"/>
<polygon points="857.2,668.3 867.8,671.8 878.5,675.4 889.5,679 900.6,682.6 900.6,682.6 907.9,679.1 915,675.7 922.1,672.3 929,669 929,669 918,665.6 907.1,662.2 896.5,658.8 886,655.6 886,655.6 879,658.7 871.8,661.9 864.6,665.1 857.2,668.3" fill="#d8d7c2" stroke="#d8d7c2"/>
</g>
<polygon points="39.4,567.9 42.5,570.2 45.5,573.9 48.6,578.8 51.8,584.4 54.9,590 58.1,595 61.4,599 64.6,601.5 67.9,603.2 71.2,604.9 71.2,609.4 67.9,607.7 64.6,606 61.4,603.5 58.1,599.5 54.9,594.5 51.8,588.9 48.6,583.3 45.5,578.4 42.5,574.7 39.4,572.4" fill="#eeeed2" stroke="#eeeed2" stroke-width="0.4"/>
<polygon points="39.4,562.9 42.5,565.2 45.5,568.9 48.6,573.8 51.8,579.4 54.9,585 58.1,590 61.4,594 64.6,596.5 67.9,598.2 71.2,599.9 71.2,604.9 67.9,603.2 64.6,601.5 61.4,599 58.1,595 54.9,590 51.8,584.4 48.6,578.8 45.5,573.9 42.5,570.2 39.4,567.9" fill="#eeeed2" stroke="#eeeed2" stroke-width="0.4"/>
<polygon points="71.2,604.9 74.6,606.8 77.9,608.8 81.4,610.8 84.8,612.8 88.3,614.7 91.8,616.6 95.3,618.4 98.9,620.1 102.5,622 106.2,623.9 106.2,628.4 102.5,626.5 98.9,624.6 95.3,622.9 91.8,621.1 88.3,619.2 84.8,617.3 81.4,615.3 77.9,613.3 74.6,611.3 71.2,609.4" fill="#52a387" stroke="#52a387" stroke-width="0.4"/>
<polygon points="71.2,599.9 74.6,601.8 77.9,603.8 81.4,605.8 84.8,607.8 88.3,609.7 91.8,611.6 95.3,613.4 98.9,615.1 102.5,617 106.2,618.9 106.2,623.9 102.5,622 98.9,620.1 95.3,618.4 91.8,616.6 88.3,614.7 84.8,612.8 81.4,610.8 77.9,608.8 74.6,606.8 71.2,604.9" fill="#eeeed2" stroke="#eeeed2" stroke-width="0.4"/>
<polygon points="106.2,623.9 109.9,625.9 113.6,627.9 117.3,629.9 121.1,632 125,634 128.8,635.9 132.7,637.7 136.7,639 140.7,639.8 144.7,640.1 144.7,644.6 140.7,644.3 136.7,643.5 132.7,642.2 128.8,640.4 125,638.5 121.1,636.5 117.3,634.4 113.6,632.4 109.9,630.4 106.2,628.4" fill="#52a387" stroke="#52a387" stroke-width="0.4"/>
<polygon points="106.2,618.9 109.9,620.9 113.6,622.9 117.3,624.9 121.1,627 125,629 128.8,630.9 132.7,632.7 136.7,634 140.7,634.8 144.7,635.1 144.7,640.1 140.7,639.8 136.7,639 132.7,637.7 128.8,635.9 125,634 121.1,632 117.3,629.9 113.6,627.9 109.9,625.9 106.2,623.9" fill="#c94848" stroke="#c94848" stroke-width="0.4"/>
<polygon points="144.7,640.1 148.8,640.1 152.9,640 157.1,640.1 161.3,640.5 165.5,641.4 169.8,643 174.2,645 178.6,646.7 183,648.3 187.5,649.7 187.5,654.2 183,652.8 178.6,651.2 174.2,649.5 169.8,647.5 165.5,645.9 161.3,645 157.1,644.6 152.9,644.5 148.8,644.6 144.7,644.6" fill="#52a387" stroke="#52a387" stroke-width="0.4"/>
<polygon points="144.7,635.1 148.8,635.1 152.9,635 157.1,635.1 161.3,635.5 165.5,636.4 169.8,638 174.2,640 178.6,641.7 183,643.3 187.5,644.7 187.5,649.7 183,648.3 178.6,646.7 174.2,645 169.8,643 165.5,641.4 161.3,640.5 157.1,640.1 152.9,640 148.8,640.1 144.7,640.1" fill="#eeeed2" stroke="#eeeed2" stroke-width="0.4"/>
<polygon points="187.5,649.7 192,650.9 196.6,652.2 201.2,653.5 205.9,654.9 210.7,656.5 215.5,658.4 220.3,660.6 225.2,662.9 230.2,665 235.2,667.1 235.2,671.6 230.2,669.5 225.2,667.4 220.3,665.1 215.5,662.9 210.7,661 205.9,659.4 201.2,658 196.6,656.7 192,655.4 187.5,654.2" fill="#eeeed2" stroke="#eeeed2" stroke-width="0.4"/>
<polygon points="187.5,644.7 192,645.9 196.6,647.2 201.2,648.5 205.9,649.9 210.7,651.5 215.5,653.4 220.3,655.6 225.2,657.9 230.2,660 235.2,662.1 235.2,667.1 230.2,665 225.2,662.9 220.3,660.6 215.5,658.4 210.7,656.5 205.9,654.9 201.2,653.5 196.6,652.2 192,650.9 187.5,649.7" fill="#52a387" stroke="#52a387" stroke-width="0.4"/>
<polygon points="235.2,667.1 240.3,669 245.4,670.8 250.6,672.7 255.8,674.5 261.1,676.4 266.5,678.4 272,680.5 277.5,682.7 283.1,685.2 288.7,687.8 288.7,692.3 283.1,689.7 277.5,687.2 272,685 266.5,682.9 261.1,680.9 255.8,679 250.6,677.2 245.4,675.3 240.3,673.5 235.2,671.6" fill="#52a387" stroke="#52a387" stroke-width="0.4"/>
<polygon points="235.2,662.1 240.3,664 245.4,665.8 250.6,667.7 255.8,669.5 261.1,671.4 266.5,673.4 272,675.5 277.5,677.7 283.1,680.2 288.7,682.8 288.7,687.8 283.1,685.2 277.5,682.7 272,680.5 266.5,678.4 261.1,676.4 255.8,674.5 250.6,672.7 245.4,670.8 240.3,669 235.2,667.1" fill="#c94848" stroke="#c94848" stroke-width="0.4"/>
<polygon points="288.7,687.8 293.4,686.3 298.1,685.7 302.7,685.8 307.2,686.5 311.7,687.6 316.2,689 320.6,690.4 324.9,691.6 329.2,692.4 333.5,692.7 333.5,697.2 329.2,696.9 324.9,696.1 320.6,694.9 316.2,693.5 311.7,692.1 307.2,691 302.7,690.3 298.1,690.2 293.4,690.8 288.7,692.3" fill="#2c5f4e" stroke="#2c5f4e" stroke-width="0.4"/>
<polygon points="288.7,682.8 293.4,681.3 298.1,680.7 302.7,680.8 307.2,681.5 311.7,682.6 316.2,684 320.6,685.4 324.9,686.6 329.2,687.4 333.5,687.7 333.5,692.7 329.2,692.4 324.9,691.6 320.6,690.4 316.2,689 311.7,687.6 307.2,686.5 302.7,685.8 298.1,685.7 293.4,686.3 288.7,687.8" fill="#7e2729" stroke="#7e2729" stroke-width="0.4"/>
<polygon points="333.5,692.7 337.7,692.2 341.9,691 346,689.4 350.1,688.2 354.1,687.2 358.1,686.4 362,685.7 365.9,685.1 369.8,684.5 373.6,683.8 373.6,688.3 369.8,689 365.9,689.6 362,690.2 358.1,690.9 354.1,691.7 350.1,692.7 346,693.9 341.9,695.5 337.7,696.7 333.5,697.2" fill="#2c5f4e" stroke="#2c5f4e" stroke-width="0.4"/>
<polygon points="333.5,687.7 337.7,687.2 341.9,686 346,684.4 350.1,683.2 354.1,682.2 358.1,681.4 362,680.7 365.9,680.1 369.8,679.5 373.6,678.8 373.6,683.8 369.8,684.5 365.9,685.1 362,685.7 358.1,686.4 354.1,687.2 350.1,688.2 346,689.4 341.9,691 337.7,692.2 333.5,692.7" fill="#aaa892" stroke="#aaa892" stroke-width="0.4"/>
<polygon points="373.6,683.8 377.4,682.9 381.1,681.9 384.8,680.7 388.5,679.2 392.1,677.7 395.7,676.1 399.3,674.5 402.8,672.8 406.3,671.2 409.7,669.6 409.7,674.1 406.3,675.7 402.8,677.3 399.3,679 395.7,680.6 392.1,682.2 388.5,683.7 384.8,685.2 381.1,686.4 377.4,687.4 373.6,688.3" fill="#2c5f4e" stroke="#2c5f4e" stroke-width="0.4"/>
<polygon points="373.6,678.8 377.4,677.9 381.1,676.9 384.8,675.7 388.5,674.2 392.1,672.7 395.7,671.1 399.3,669.5 402.8,667.8 406.3,666.2 409.7,664.6 409.7,669.6 406.3,671.2 402.8,672.8 399.3,674.5 395.7,676.1 392.1,677.7 388.5,679.2 384.8,680.7 381.1,681.9 377.4,682.9 373.6,683.8" fill="#7e2729" stroke="#7e2729" stroke-width="0.4"/>
<polygon points="409.7,669.6 413.1,668 416.5,666.5 419.8,665.1 423.1,663.7 426.4,661.7 429.7,659.3 432.9,656.5 436.1,653.5 439.2,650.7 442.4,648.3 442.4,652.8 439.2,655.2 436.1,658 432.9,661 429.7,663.8 426.4,666.2 423.1,668.2 419.8,669.6 416.5,671 413.1,672.5 409.7,674.1" fill="#2c5f4e" stroke="#2c5f4e" stroke-width="0.4"/>
<polygon points="409.7,664.6 413.1,663 416.5,661.5 419.8,660.1 423.1,658.7 426.4,656.7 429.7,654.3 432.9,651.5 436.1,648.5 439.2,645.7 442.4,643.3 442.4,648.3 439.2,650.7 436.1,653.5 432.9,656.5 429.7,659.3 426.4,661.7 423.1,663.7 419.8,665.1 416.5,666.5 413.1,668 409.7,669.6" fill="#aaa892" stroke="#aaa892" stroke-width="0.4"/>
<polygon points="442.4,648.3 445.5,646.3 448.5,644.9 451.6,643.1 454.6,640.7 457.6,637.7 460.5,634.4 463.4,631 466.3,627.8 469.2,625 472.1,622.6 472.1,627.1 469.2,629.5 466.3,632.3 463.4,635.5 460.5,638.9 457.6,642.2 454.6,645.2 451.6,647.6 448.5,649.4 445.5,650.8 442.4,652.8" fill="#2c5f4e" stroke="#2c5f4e" stroke-width="0.4"/>
<polygon points="442.4,643.3 445.5,641.3 448.5,639.9 451.6,638.1 454.6,635.7 457.6,632.7 460.5,629.4 463.4,626 466.3,622.8 469.2,620 472.1,617.6 472.1,622.6 469.2,625 466.3,627.8 463.4,631 460.5,634.4 457.6,637.7 454.6,640.7 451.6,643.1 448.5,644.9 445.5,646.3 442.4,648.3" fill="#aaa892" stroke="#aaa892" stroke-width="0.4"/>
<polygon points="472.1,622.6 474.9,621 477.7,619.7 480.5,618 483.2,615.9 485.9,613.6 488.6,611.2 491.3,608.8 494,606.7 496.6,605 499.2,603.7 499.2,608.2 496.6,609.5 494,611.2 491.3,613.3 488.6,615.7 485.9,618.1 483.2,620.4 480.5,622.5 477.7,624.2 474.9,625.5 472.1,627.1" fill="#2c5f4e" stroke="#2c5f4e" stroke-width="0.4"/>
<polygon points="472.1,617.6 474.9,616 477.7,614.7 480.5,613 483.2,610.9 485.9,608.6 488.6,606.2 491.3,603.8 494,601.7 496.6,600 499.2,598.7 499.2,603.7 496.6,605 494,606.7 491.3,608.8 488.6,611.2 485.9,613.6 483.2,615.9 480.5,618 477.7,619.7 474.9,621 472.1,622.6" fill="#aaa892" stroke="#aaa892" stroke-width="0.4"/>
<g stroke-width="1.1">
<polygon points="39.4,562.9 47.1,571.3 58.4,569 50.6,561" fill="#e0dfc9" stroke="#e0dfc9"/>
<polygon points="47.1,571.3 54.9,585 66.3,582.2 58.4,569" fill="#e9e8d2" stroke="#e9e8d2"/>
<polygon points="54.9,585 63,595.5 74.3,592.4 66.3,582.2" fill="#e6e4cf" stroke="#e6e4cf"/>
<polygon points="63,595.5 71.2,599.9 82.6,596.9 74.3,592.4" fill="#dcdbc6" stroke="#dcdbc6"/>
<polygon points="50.6,561 58.4,569 69.4,567.3 61.6,559.5" fill="#deddc8" stroke="#deddc8"/>
<polygon points="58.4,569 66.3,582.2 77.3,580.2 69.4,567.3" fill="#e7e6d0" stroke="#e7e6d0"/>
<polygon points="66.3,582.2 74.3,592.4 85.5,590.3 77.3,580.2" fill="#e3e2cc" stroke="#e3e2cc"/>
<polygon points="74.3,592.4 82.6,596.9 93.8,594.8 85.5,590.3" fill="#d9d8c3" stroke="#d9d8c3"/>
<polygon points="61.6,559.5 69.4,567.3 80.2,565.8 72.4,558.2" fill="#dddcc7" stroke="#dddcc7"/>
<polygon points="69.4,567.3 77.3,580.2 88.2,578.5 80.2,565.8" fill="#e6e5cf" stroke="#e6e5cf"/>
<polygon points="77.3,580.2 85.5,590.3 96.3,588.5 88.2,578.5" fill="#e2e1cb" stroke="#e2e1cb"/>
<polygon points="85.5,590.3 93.8,594.8 104.7,593.2 96.3,588.5" fill="#d9d8c3" stroke="#d9d8c3"/>
<polygon points="72.4,558.2 80.2,565.8 90.8,564.2 82.9,556.8" fill="#deddc7" stroke="#deddc7"/>
<polygon points="80.2,565.8 88.2,578.5 98.8,576.5 90.8,564.2" fill="#e7e6d0" stroke="#e7e6d0"/>
<polygon points="88.2,578.5 96.3,588.5 107,586.3 98.8,576.5" fill="#e3e2cc" stroke="#e3e2cc"/>
<polygon points="96.3,588.5 104.7,593.2 115.3,591.1 107,586.3" fill="#dad9c4" stroke="#dad9c4"/>
<polygon points="71.2,599.9 79.6,604.8 91.1,601.7 82.6,596.9" fill="#dcdbc6" stroke="#dcdbc6"/>
<polygon points="79.6,604.8 88.3,609.7 99.7,606.6 91.1,601.7" fill="#dcdbc6" stroke="#dcdbc6"/>
<polygon points="88.3,609.7 97.1,614.3 108.6,611.3 99.7,606.6" fill="#dbdac5" stroke="#dbdac5"/>
<polygon points="97.1,614.3 106.2,618.9 117.7,616.1 108.6,611.3" fill="#dad9c4" stroke="#dad9c4"/>
<polygon points="82.6,596.9 91.1,601.7 102.3,599.8 93.8,594.8" fill="#d9d8c3" stroke="#d9d8c3"/>
<polygon points="91.1,601.7 99.7,606.6 111,604.8 102.3,599.8" fill="#d9d8c3" stroke="#d9d8c3"/>
<polygon points="99.7,606.6 108.6,611.3 119.9,609.8 111,604.8" fill="#d7d6c1" stroke="#d7d6c1"/>
<polygon points="108.6,611.3 117.7,616.1 129,614.9 119.9,609.8" fill="#d6d5c0" stroke="#d6d5c0"/>
<polygon points="93.8,594.8 102.3,599.8 113.2,598.2 104.7,593.2" fill="#d8d7c2" stroke="#d8d7c2"/>
<polygon points="102.3,599.8 111,604.8 121.9,603.5 113.2,598.2" fill="#d8d7c2" stroke="#d8d7c2"/>
<polygon points="111,604.8 119.9,609.8 130.9,608.7 121.9,603.5" fill="#d7d6c1" stroke="#d7d6c1"/>
<polygon points="119.9,609.8 129,614.9 140,614.2 130.9,608.7" fill="#d6d5c0" stroke="#d6d5c0"/>
<polygon points="104.7,593.2 113.2,598.2 123.9,596.2 115.3,591.1" fill="#dad9c4" stroke="#dad9c4"/>
<polygon points="113.2,598.2 121.9,603.5 132.6,601.5 123.9,596.2" fill="#dad9c4" stroke="#dad9c4"/>
<polygon points="121.9,603.5 130.9,608.7 141.6,606.9 132.6,601.5" fill="#d9d8c3" stroke="#d9d8c3"/>
<polygon points="130.9,608.7 140,614.2 150.8,612.7 141.6,606.9" fill="#d9d8c3" stroke="#d9d8c3"/>
<polygon points="106.2,618.9 115.4,623.9 127,621.3 117.7,616.1" fill="#a73337" stroke="#a73337"/>
<polygon points="115.4,623.9 125,629 136.6,626.3 127,621.3" fill="#a63337" stroke="#a63337"/>
<polygon points="125,629 134.7,633.5 146.3,630.9 136.6,626.3" fill="#a53337" stroke="#a53337"/>
<polygon points="134.7,633.5 144.7,635.1 156.4,632.7 146.3,630.9" fill="#a13135" stroke="#a13135"/>
<polygon points="117.7,616.1 127,621.3 138.3,620.3 129,614.9" fill="#a33236" stroke="#a33236"/>
<polygon points="127,621.3 136.6,626.3 147.9,625.6 138.3,620.3" fill="#a23236" stroke="#a23236"/>
<polygon points="136.6,626.3 146.3,630.9 157.7,630.3 147.9,625.6" fill="#a13135" stroke="#a13135"/>
<polygon points="146.3,630.9 156.4,632.7 167.8,632.5 157.7,630.3" fill="#9c3034" stroke="#9c3034"/>
<polygon points="129,614.9 138.3,620.3 149.4,620 140,614.2" fill="#a23236" stroke="#a23236"/>
<polygon points="138.3,620.3 147.9,625.6 159,625.5 149.4,620" fill="#a13235" stroke="#a13235"/>
<polygon points="147.9,625.6 157.7,630.3 168.8,630.5 159,625.5" fill="#a03135" stroke="#a03135"/>
<polygon points="157.7,630.3 167.8,632.5 178.9,633.1 168.8,630.5" fill="#9c3034" stroke="#9c3034"/>
<polygon points="140,614.2 149.4,620 160.2,618.8 150.8,612.7" fill="#a53337" stroke="#a53337"/>
<polygon points="149.4,620 159,625.5 169.8,624.4 160.2,618.8" fill="#a43236" stroke="#a43236"/>
<polygon points="159,625.5 168.8,630.5 179.6,629.7 169.8,624.4" fill="#a33236" stroke="#a33236"/>
<polygon points="168.8,630.5 178.9,633.1 189.7,632.7 179.6,629.7" fill="#9f3135" stroke="#9f3135"/>
<polygon points="144.7,635.1 155,635 166.7,632.9 156.4,632.7" fill="#cfceba" stroke="#cfceba"/>
<polygon points="155,635 165.5,636.4 177.2,634.5 166.7,632.9" fill="#d0cfba" stroke="#d0cfba"/>
<polygon points="165.5,636.4 176.4,640.9 188.1,639 177.2,634.5" fill="#d3d2be" stroke="#d3d2be"/>
<polygon points="176.4,640.9 187.5,644.7 199.2,642.8 188.1,639" fill="#d2d1bc" stroke="#d2d1bc"/>
<polygon points="156.4,632.7 166.7,632.9 178.1,633.2 167.8,632.5" fill="#c8c7b4" stroke="#c8c7b4"/>
<polygon points="166.7,632.9 177.2,634.5 188.7,635.2 178.1,633.2" fill="#c9c8b4" stroke="#c9c8b4"/>
<polygon points="177.2,634.5 188.1,639 199.5,639.9 188.7,635.2" fill="#cccbb7" stroke="#cccbb7"/>
<polygon points="188.1,639 199.2,642.8 210.7,643.9 199.5,639.9" fill="#c9c9b5" stroke="#c9c9b5"/>
<polygon points="167.8,632.5 178.1,633.2 189.2,634.3 178.9,633.1" fill="#c7c6b3" stroke="#c7c6b3"/>
<polygon points="178.1,633.2 188.7,635.2 199.8,636.7 189.2,634.3" fill="#c7c6b3" stroke="#c7c6b3"/>
<polygon points="188.7,635.2 199.5,639.9 210.7,641.7 199.8,636.7" fill="#cac9b5" stroke="#cac9b5"/>
<polygon points="199.5,639.9 210.7,643.9 221.8,646 210.7,641.7" fill="#c7c6b3" stroke="#c7c6b3"/>
<polygon points="178.9,633.1 189.2,634.3 200,634.3 189.7,632.7" fill="#cbcbb7" stroke="#cbcbb7"/>
<polygon points="189.2,634.3 199.8,636.7 210.6,637.1 200,634.3" fill="#cbcbb7" stroke="#cbcbb7"/>
<polygon points="199.8,636.7 210.7,641.7 221.5,642.3 210.6,637.1" fill="#cecdb9" stroke="#cecdb9"/>
<polygon points="210.7,641.7 221.8,646 232.7,646.8 221.5,642.3" fill="#cccbb7" stroke="#cccbb7"/>
<polygon points="187.5,644.7 198.9,647.8 210.7,646.1 199.2,642.8" fill="#387663" stroke="#387663"/>
<polygon points="198.9,647.8 210.7,651.5 222.4,649.8 210.7,646.1" fill="#397663" stroke="#397663"/>
<polygon points="210.7,651.5 222.7,656.8 234.5,655 222.4,649.8" fill="#397763" stroke="#397763"/>
<polygon points="222.7,656.8 235.2,662.1 246.9,660.3 234.5,655" fill="#397663" stroke="#397663"/>
<polygon points="199.2,642.8 210.7,646.1 222.1,647.3 210.7,643.9" fill="#36715f" stroke="#36715f"/>
<polygon points="210.7,646.1 222.4,649.8 233.9,651.3 222.1,647.3" fill="#36715e" stroke="#36715e"/>
<polygon points="222.4,649.8 234.5,655 245.9,656.6 233.9,651.3" fill="#36715f" stroke="#36715f"/>
<polygon points="234.5,655 246.9,660.3 258.4,662 245.9,656.6" fill="#36715e" stroke="#36715e"/>
<polygon points="210.7,643.9 222.1,647.3 233.3,649.7 221.8,646" fill="#36705d" stroke="#36705d"/>
<polygon points="222.1,647.3 233.9,651.3 245,653.9 233.3,649.7" fill="#356f5d" stroke="#356f5d"/>
<polygon points="233.9,651.3 245.9,656.6 257.1,659.4 245,653.9" fill="#36705e" stroke="#36705e"/>
<polygon points="245.9,656.6 258.4,662 269.5,665 257.1,659.4" fill="#356f5d" stroke="#356f5d"/>
<polygon points="221.8,646 233.3,649.7 244.1,650.7 232.7,646.8" fill="#377260" stroke="#377260"/>
<polygon points="233.3,649.7 245,653.9 255.9,655.1 244.1,650.7" fill="#377260" stroke="#377260"/>
<polygon points="245,653.9 257.1,659.4 267.9,660.8 255.9,655.1" fill="#377360" stroke="#377360"/>
<polygon points="257.1,659.4 269.5,665 280.3,666.4 267.9,660.8" fill="#377260" stroke="#377260"/>
<polygon points="235.2,662.1 248,666.8 259.7,664.9 246.9,660.3" fill="#9f3135" stroke="#9f3135"/>
<polygon points="248,666.8 261.1,671.4 272.9,669.4 259.7,664.9" fill="#9e3134" stroke="#9e3134"/>
<polygon points="261.1,671.4 274.7,676.6 286.4,674.5 272.9,669.4" fill="#9f3135" stroke="#9f3135"/>
<polygon points="274.7,676.6 288.7,682.8 300.4,680.7 286.4,674.5" fill="#9f3135" stroke="#9f3135"/>
<polygon points="246.9,660.3 259.7,664.9 271.1,666.7 258.4,662" fill="#972e32" stroke="#972e32"/>
<polygon points="259.7,664.9 272.9,669.4 284.3,671.3 271.1,666.7" fill="#962e32" stroke="#962e32"/>
<polygon points="272.9,669.4 286.4,674.5 297.8,676.4 284.3,671.3" fill="#962e32" stroke="#962e32"/>
<polygon points="286.4,674.5 300.4,680.7 311.7,682.6 297.8,676.4" fill="#962e32" stroke="#962e32"/>
<polygon points="258.4,662 271.1,666.7 282.3,669.8 269.5,665" fill="#942e31" stroke="#942e31"/>
<polygon points="271.1,666.7 284.3,671.3 295.4,674.5 282.3,669.8" fill="#932d31" stroke="#932d31"/>
<polygon points="284.3,671.3 297.8,676.4 308.9,679.7 295.4,674.5" fill="#932d31" stroke="#932d31"/>
<polygon points="297.8,676.4 311.7,682.6 322.8,686.1 308.9,679.7" fill="#942d31" stroke="#942d31"/>
<polygon points="269.5,665 282.3,669.8 293.1,671.3 280.3,666.4" fill="#982f33" stroke="#982f33"/>
<polygon points="282.3,669.8 295.4,674.5 306.2,676 293.1,671.3" fill="#982f32" stroke="#982f32"/>
<polygon points="295.4,674.5 308.9,679.7 319.6,681.3 306.2,676" fill="#982f32" stroke="#982f32"/>
<polygon points="308.9,679.7 322.8,686.1 333.5,687.7 319.6,681.3" fill="#982f32" stroke="#982f32"/>
<polygon points="82.9,556.8 90.8,564.2 101.1,562.2 93.3,555.1" fill="#3e7f6a" stroke="#3e7f6a"/>
<polygon points="90.8,564.2 98.8,576.5 109.2,573.9 101.1,562.2" fill="#428570" stroke="#428570"/>
<polygon points="98.8,576.5 107,586.3 117.4,583.3 109.2,573.9" fill="#41836f" stroke="#41836f"/>
<polygon points="107,586.3 115.3,591.1 125.8,587.9 117.4,583.3" fill="#3d7e6a" stroke="#3d7e6a"/>
<polygon points="93.3,555.1 101.1,562.2 111.3,559.9 103.4,553.3" fill="#3e7f6b" stroke="#3e7f6b"/>
<polygon points="101.1,562.2 109.2,573.9 119.3,571 111.3,559.9" fill="#428570" stroke="#428570"/>
<polygon points="109.2,573.9 117.4,583.3 127.6,580 119.3,571" fill="#41846f" stroke="#41846f"/>
<polygon points="117.4,583.3 125.8,587.9 136,584.4 127.6,580" fill="#3e7f6a" stroke="#3e7f6a"/>
<polygon points="103.4,553.3 111.3,559.9 121.2,557.9 113.3,551.7" fill="#3d7e6a" stroke="#3d7e6a"/>
<polygon points="111.3,559.9 119.3,571 129.3,568.4 121.2,557.9" fill="#41846f" stroke="#41846f"/>
<polygon points="119.3,571 127.6,580 137.6,577 129.3,568.4" fill="#40836e" stroke="#40836e"/>
<polygon points="127.6,580 136,584.4 146,581.1 137.6,577" fill="#3d7e6a" stroke="#3d7e6a"/>
<polygon points="113.3,551.7 121.2,557.9 131,556 123,550.3" fill="#3d7d69" stroke="#3d7d69"/>
<polygon points="121.2,557.9 129.3,568.4 139.1,565.9 131,556" fill="#41836f" stroke="#41836f"/>
<polygon points="129.3,568.4 137.6,577 147.3,574 139.1,565.9" fill="#40826e" stroke="#40826e"/>
<polygon points="137.6,577 146,581.1 155.8,577.8 147.3,574" fill="#3d7e6a" stroke="#3d7e6a"/>
<polygon points="115.3,591.1 123.9,596.2 134.4,592.9 125.8,587.9" fill="#3e7f6a" stroke="#3e7f6a"/>
<polygon points="123.9,596.2 132.6,601.5 143.1,598 134.4,592.9" fill="#3e7f6b" stroke="#3e7f6b"/>
<polygon points="132.6,601.5 141.6,606.9 152.1,603.5 143.1,598" fill="#3e7f6b" stroke="#3e7f6b"/>
<polygon points="141.6,606.9 150.8,612.7 161.3,609.4 152.1,603.5" fill="#3e7f6b" stroke="#3e7f6b"/>
<polygon points="125.8,587.9 134.4,592.9 144.6,589.1 136,584.4" fill="#3e806b" stroke="#3e806b"/>
<polygon points="134.4,592.9 143.1,598 153.4,594 144.6,589.1" fill="#3f806c" stroke="#3f806c"/>
<polygon points="143.1,598 152.1,603.5 162.4,599.5 153.4,594" fill="#3f816c" stroke="#3f816c"/>
<polygon points="152.1,603.5 161.3,609.4 171.6,605.5 162.4,599.5" fill="#3f816c" stroke="#3f816c"/>
<polygon points="136,584.4 144.6,589.1 154.6,585.5 146,581.1" fill="#3e7f6b" stroke="#3e7f6b"/>
<polygon points="144.6,589.1 153.4,594 163.4,590.2 154.6,585.5" fill="#3e806b" stroke="#3e806b"/>
<polygon points="153.4,594 162.4,599.5 172.5,595.6 163.4,590.2" fill="#3f806c" stroke="#3f806c"/>
<polygon points="162.4,599.5 171.6,605.5 181.7,601.7 172.5,595.6" fill="#3f816c" stroke="#3f816c"/>
<polygon points="146,581.1 154.6,585.5 164.4,581.8 155.8,577.8" fill="#3e7f6a" stroke="#3e7f6a"/>
<polygon points="154.6,585.5 163.4,590.2 173.3,586.3 164.4,581.8" fill="#3e806b" stroke="#3e806b"/>
<polygon points="163.4,590.2 172.5,595.6 182.3,591.5 173.3,586.3" fill="#3f816c" stroke="#3f816c"/>
<polygon points="172.5,595.6 181.7,601.7 191.5,597.8 182.3,591.5" fill="#40826d" stroke="#40826d"/>
<polygon points="150.8,612.7 160.2,618.8 170.7,615.6 161.3,609.4" fill="#dfdec8" stroke="#dfdec8"/>
<polygon points="160.2,618.8 169.8,624.4 180.3,621.3 170.7,615.6" fill="#dddcc7" stroke="#dddcc7"/>
<polygon points="169.8,624.4 179.6,629.7 190.2,626.7 180.3,621.3" fill="#dcdbc6" stroke="#dcdbc6"/>
<polygon points="179.6,629.7 189.7,632.7 200.3,629.9 190.2,626.7" fill="#d7d6c2" stroke="#d7d6c2"/>
<polygon points="161.3,609.4 170.7,615.6 181,611.7 171.6,605.5" fill="#e1e0ca" stroke="#e1e0ca"/>
<polygon points="170.7,615.6 180.3,621.3 190.7,617.5 181,611.7" fill="#e0dfc9" stroke="#e0dfc9"/>
<polygon points="180.3,621.3 190.2,626.7 200.5,623.1 190.7,617.5" fill="#deddc8" stroke="#deddc8"/>
<polygon points="190.2,626.7 200.3,629.9 210.6,626.6 200.5,623.1" fill="#dad9c4" stroke="#dad9c4"/>
<polygon points="171.6,605.5 181,611.7 191.1,608.2 181.7,601.7" fill="#e1e0ca" stroke="#e1e0ca"/>
<polygon points="181,611.7 190.7,617.5 200.8,614.1 191.1,608.2" fill="#dfdec9" stroke="#dfdec9"/>
<polygon points="190.7,617.5 200.5,623.1 210.6,619.9 200.8,614.1" fill="#deddc8" stroke="#deddc8"/>
<polygon points="200.5,623.1 210.6,626.6 220.8,623.8 210.6,619.9" fill="#d9d8c3" stroke="#d9d8c3"/>
<polygon points="181.7,601.7 191.1,608.2 201,604.4 191.5,597.8" fill="#e2e1cc" stroke="#e2e1cc"/>
<polygon points="191.1,608.2 200.8,614.1 210.6,610.5 201,604.4" fill="#e0dfca" stroke="#e0dfca"/>
<polygon points="200.8,614.1 210.6,619.9 220.5,616.6 210.6,610.5" fill="#dfdec9" stroke="#dfdec9"/>
<polygon points="210.6,619.9 220.8,623.8 230.6,621 220.5,616.6" fill="#dbdac4" stroke="#dbdac4"/>
<polygon points="189.7,632.7 200,634.3 210.6,631.9 200.3,629.9" fill="#3a7865" stroke="#3a7865"/>
<polygon points="200,634.3 210.6,637.1 221.3,634.9 210.6,631.9" fill="#3a7865" stroke="#3a7865"/>
<polygon points="210.6,637.1 221.5,642.3 232.1,640.2 221.3,634.9" fill="#3a7a66" stroke="#3a7a66"/>
<polygon points="221.5,642.3 232.7,646.8 243.3,644.7 232.1,640.2" fill="#3a7965" stroke="#3a7965"/>
<polygon points="200.3,629.9 210.6,631.9 221,629 210.6,626.6" fill="#3a7a66" stroke="#3a7a66"/>
<polygon points="210.6,631.9 221.3,634.9 231.6,632.3 221,629" fill="#3a7a66" stroke="#3a7a66"/>
<polygon points="221.3,634.9 232.1,640.2 242.5,637.6 231.6,632.3" fill="#3b7b67" stroke="#3b7b67"/>
<polygon points="232.1,640.2 243.3,644.7 253.6,642.3 242.5,637.6" fill="#3a7a66" stroke="#3a7a66"/>
<polygon points="210.6,626.6 221,629 231.1,626.7 220.8,623.8" fill="#3a7965" stroke="#3a7965"/>
<polygon points="221,629 231.6,632.3 241.7,630.4 231.1,626.7" fill="#3a7965" stroke="#3a7965"/>
<polygon points="231.6,632.3 242.5,637.6 252.6,635.9 241.7,630.4" fill="#3a7a66" stroke="#3a7a66"/>
<polygon points="242.5,637.6 253.6,642.3 263.7,640.6 252.6,635.9" fill="#3a7965" stroke="#3a7965"/>
<polygon points="220.8,623.8 231.1,626.7 241,624.4 230.6,621" fill="#3a7a66" stroke="#3a7a66"/>
<polygon points="231.1,626.7 241.7,630.4 251.6,628.5 241,624.4" fill="#3a7966" stroke="#3a7966"/>
<polygon points="241.7,630.4 252.6,635.9 262.5,634.2 251.6,628.5" fill="#3b7a66" stroke="#3b7a66"/>
<polygon points="252.6,635.9 263.7,640.6 273.6,639.1 262.5,634.2" fill="#3a7965" stroke="#3a7965"/>
<polygon points="232.7,646.8 244.1,650.7 254.7,648.7 243.3,644.7" fill="#a23236" stroke="#a23236"/>
<polygon points="244.1,650.7 255.9,655.1 266.5,653.1 254.7,648.7" fill="#a23236" stroke="#a23236"/>
<polygon points="255.9,655.1 267.9,660.8 278.5,658.8 266.5,653.1" fill="#a33236" stroke="#a33236"/>
<polygon points="267.9,660.8 280.3,666.4 290.9,664.3 278.5,658.8" fill="#a33236" stroke="#a33236"/>
<polygon points="243.3,644.7 254.7,648.7 265.1,646.3 253.6,642.3" fill="#a33236" stroke="#a33236"/>
<polygon points="254.7,648.7 266.5,653.1 276.8,650.7 265.1,646.3" fill="#a33236" stroke="#a33236"/>
<polygon points="266.5,653.1 278.5,658.8 288.8,656.3 276.8,650.7" fill="#a43236" stroke="#a43236"/>
<polygon points="278.5,658.8 290.9,664.3 301.2,661.8 288.8,656.3" fill="#a43236" stroke="#a43236"/>
<polygon points="253.6,642.3 265.1,646.3 275.1,644.8 263.7,640.6" fill="#a23236" stroke="#a23236"/>
<polygon points="265.1,646.3 276.8,650.7 286.9,649.3 275.1,644.8" fill="#a13235" stroke="#a13235"/>
<polygon points="276.8,650.7 288.8,656.3 298.9,654.9 286.9,649.3" fill="#a23236" stroke="#a23236"/>
<polygon points="288.8,656.3 301.2,661.8 311.2,660.3 298.9,654.9" fill="#a23236" stroke="#a23236"/>
<polygon points="263.7,640.6 275.1,644.8 285,643.4 273.6,639.1" fill="#a23236" stroke="#a23236"/>
<polygon points="275.1,644.8 286.9,649.3 296.7,648 285,643.4" fill="#a13235" stroke="#a13235"/>
<polygon points="286.9,649.3 298.9,654.9 308.7,653.6 296.7,648" fill="#a23236" stroke="#a23236"/>
<polygon points="298.9,654.9 311.2,660.3 321,659 308.7,653.6" fill="#a23236" stroke="#a23236"/>
<polygon points="280.3,666.4 293.1,671.3 303.6,669.1 290.9,664.3" fill="#d3d2be" stroke="#d3d2be"/>
<polygon points="293.1,671.3 306.2,676 316.7,673.7 303.6,669.1" fill="#d2d1bd" stroke="#d2d1bd"/>
<polygon points="306.2,676 319.6,681.3 330.1,678.9 316.7,673.7" fill="#d3d2be" stroke="#d3d2be"/>
<polygon points="319.6,681.3 333.5,687.7 343.9,685.2 330.1,678.9" fill="#d4d3bf" stroke="#d4d3bf"/>
<polygon points="290.9,664.3 303.6,669.1 313.9,666.5 301.2,661.8" fill="#d5d4bf" stroke="#d5d4bf"/>
<polygon points="303.6,669.1 316.7,673.7 326.9,671 313.9,666.5" fill="#d4d3bf" stroke="#d4d3bf"/>
<polygon points="316.7,673.7 330.1,678.9 340.3,676 326.9,671" fill="#d5d4bf" stroke="#d5d4bf"/>
<polygon points="330.1,678.9 343.9,685.2 354.1,682.2 340.3,676" fill="#d6d5c0" stroke="#d6d5c0"/>
<polygon points="301.2,661.8 313.9,666.5 323.9,665 311.2,660.3" fill="#d2d1bc" stroke="#d2d1bc"/>
<polygon points="313.9,666.5 326.9,671 336.9,669.4 323.9,665" fill="#d1d0bc" stroke="#d1d0bc"/>
<polygon points="326.9,671 340.3,676 350.2,674.3 336.9,669.4" fill="#d2d1bc" stroke="#d2d1bc"/>
<polygon points="340.3,676 354.1,682.2 364,680.4 350.2,674.3" fill="#d3d2be" stroke="#d3d2be"/>
<polygon points="311.2,660.3 323.9,665 333.6,663.6 321,659" fill="#d1d1bc" stroke="#d1d1bc"/>
<polygon points="323.9,665 336.9,669.4 346.6,667.9 333.6,663.6" fill="#d1d0bc" stroke="#d1d0bc"/>
<polygon points="336.9,669.4 350.2,674.3 359.9,672.7 346.6,667.9" fill="#d1d0bc" stroke="#d1d0bc"/>
<polygon points="350.2,674.3 364,680.4 373.6,678.8 359.9,672.7" fill="#d3d2bd" stroke="#d3d2bd"/>
<polygon points="123,550.3 131,556 140.5,554.1 132.5,548.8" fill="#a93438" stroke="#a93438"/>
<polygon points="131,556 139.1,565.9 148.6,563.3 140.5,554.1" fill="#b0383c" stroke="#b0383c"/>
<polygon points="139.1,565.9 147.3,574 156.9,570.8 148.6,563.3" fill="#af383c" stroke="#af383c"/>
<polygon points="147.3,574 155.8,577.8 165.4,574.2 156.9,570.8" fill="#aa3539" stroke="#aa3539"/>
<polygon points="132.5,548.8 140.5,554.1 149.9,551.9 141.9,547.1" fill="#a93438" stroke="#a93438"/>
<polygon points="140.5,554.1 148.6,563.3 158,560.3 149.9,551.9" fill="#b0383c" stroke="#b0383c"/>
<polygon points="148.6,563.3 156.9,570.8 166.3,567.2 158,560.3" fill="#af383c" stroke="#af383c"/>
<polygon points="156.9,570.8 165.4,574.2 174.8,570.2 166.3,567.2" fill="#ab363a" stroke="#ab363a"/>
<polygon points="141.9,547.1 149.9,551.9 159.1,547.9 151.1,543.6" fill="#ad373b" stroke="#ad373b"/>
<polygon points="149.9,551.9 158,560.3 167.2,555.7 159.1,547.9" fill="#b33a3e" stroke="#b33a3e"/>
<polygon points="158,560.3 166.3,567.2 175.5,562.1 167.2,555.7" fill="#b33a3e" stroke="#b33a3e"/>
<polygon points="166.3,567.2 174.8,570.2 184,564.8 175.5,562.1" fill="#ae383c" stroke="#ae383c"/>
<polygon points="151.1,543.6 159.1,547.9 168.1,542.2 160,538.3" fill="#b1393d" stroke="#b1393d"/>
<polygon points="159.1,547.9 167.2,555.7 176.2,549.5 168.1,542.2" fill="#b33a3e" stroke="#b33a3e"/>
<polygon points="167.2,555.7 175.5,562.1 184.6,555.5 176.2,549.5" fill="#b33a3e" stroke="#b33a3e"/>
<polygon points="175.5,562.1 184,564.8 193.1,558 184.6,555.5" fill="#b23a3e" stroke="#b23a3e"/>
<polygon points="155.8,577.8 164.4,581.8 174.1,577.8 165.4,574.2" fill="#3e7f6b" stroke="#3e7f6b"/>
<polygon points="164.4,581.8 173.3,586.3 182.9,581.8 174.1,577.8" fill="#3f816c" stroke="#3f816c"/>
<polygon points="173.3,586.3 182.3,591.5 191.9,586.9 182.9,581.8" fill="#40826d" stroke="#40826d"/>
<polygon points="182.3,591.5 191.5,597.8 201.2,593.2 191.9,586.9" fill="#41836e" stroke="#41836e"/>
<polygon points="165.4,574.2 174.1,577.8 183.5,573.3 174.8,570.2" fill="#3e806b" stroke="#3e806b"/>
<polygon points="174.1,577.8 182.9,581.8 192.3,576.9 183.5,573.3" fill="#3f816d" stroke="#3f816d"/>
<polygon points="182.9,581.8 191.9,586.9 201.4,581.8 192.3,576.9" fill="#41836e" stroke="#41836e"/>
<polygon points="191.9,586.9 201.2,593.2 210.6,588.1 201.4,581.8" fill="#428570" stroke="#428570"/>
<polygon points="174.8,570.2 183.5,573.3 192.7,567.5 184,564.8" fill="#40836e" stroke="#40836e"/>
<polygon points="183.5,573.3 192.3,576.9 201.6,570.7 192.7,567.5" fill="#41846f" stroke="#41846f"/>
<polygon points="192.3,576.9 201.4,581.8 210.6,575.5 201.6,570.7" fill="#428671" stroke="#428671"/>
<polygon points="201.4,581.8 210.6,588.1 219.9,581.9 210.6,575.5" fill="#438671" stroke="#438671"/>
<polygon points="184,564.8 192.7,567.5 201.8,560.5 193.1,558" fill="#428570" stroke="#428570"/>
<polygon points="192.7,567.5 201.6,570.7 210.6,563.6 201.8,560.5" fill="#438671" stroke="#438671"/>
<polygon points="201.6,570.7 210.6,575.5 219.7,568.3 210.6,563.6" fill="#438671" stroke="#438671"/>
<polygon points="210.6,575.5 219.9,581.9 228.9,574.9 219.7,568.3" fill="#438671" stroke="#438671"/>
<polygon points="191.5,597.8 201,604.4 210.6,600 201.2,593.2" fill="#b0383c" stroke="#b0383c"/>
<polygon points="201,604.4 210.6,610.5 220.3,606.3 210.6,600" fill="#ae383c" stroke="#ae383c"/>
<polygon points="210.6,610.5 220.5,616.6 230.2,612.7 220.3,606.3" fill="#ad373b" stroke="#ad373b"/>
<polygon points="220.5,616.6 230.6,621 240.3,617.6 230.2,612.7" fill="#aa3539" stroke="#aa3539"/>
<polygon points="201.2,593.2 210.6,600 220.1,595 210.6,588.1" fill="#b2393e" stroke="#b2393e"/>
<polygon points="210.6,600 220.3,606.3 229.7,601.4 220.1,595" fill="#b1393d" stroke="#b1393d"/>
<polygon points="220.3,606.3 230.2,612.7 239.6,608.1 229.7,601.4" fill="#b0383d" stroke="#b0383d"/>
<polygon points="230.2,612.7 240.3,617.6 249.7,613.5 239.6,608.1" fill="#ad373b" stroke="#ad373b"/>
<polygon points="210.6,588.1 220.1,595 229.3,588.9 219.9,581.9" fill="#b33a3e" stroke="#b33a3e"/>
<polygon points="220.1,595 229.7,601.4 239,595.6 229.3,588.9" fill="#b33a3e" stroke="#b33a3e"/>
<polygon points="229.7,601.4 239.6,608.1 248.9,602.5 239,595.6" fill="#b33a3e" stroke="#b33a3e"/>
<polygon points="239.6,608.1 249.7,613.5 259,608.4 248.9,602.5" fill="#b0393d" stroke="#b0393d"/>
<polygon points="219.9,581.9 229.3,588.9 238.4,582.2 228.9,574.9" fill="#b33a3e" stroke="#b33a3e"/>
<polygon points="229.3,588.9 239,595.6 248.1,589 238.4,582.2" fill="#b33a3e" stroke="#b33a3e"/>
<polygon points="239,595.6 248.9,602.5 257.9,596.3 248.1,589" fill="#b33a3e" stroke="#b33a3e"/>
<polygon points="248.9,602.5 259,608.4 268,602.6 257.9,596.3" fill="#b33a3e" stroke="#b33a3e"/>
<polygon points="230.6,621 241,624.4 250.6,621.6 240.3,617.6" fill="#a73337" stroke="#a73337"/>
<polygon points="241,624.4 251.6,628.5 261.2,626.1 250.6,621.6" fill="#a63337" stroke="#a63337"/>
<polygon points="251.6,628.5 262.5,634.2 272.1,632 261.2,626.1" fill="#a73337" stroke="#a73337"/>
<polygon points="262.5,634.2 273.6,639.1 283.2,637 272.1,632" fill="#a53337" stroke="#a53337"/>
<polygon points="240.3,617.6 250.6,621.6 260.1,618 249.7,613.5" fill="#aa3539" stroke="#aa3539"/>
<polygon points="250.6,621.6 261.2,626.1 270.7,622.9 260.1,618" fill="#a93439" stroke="#a93439"/>
<polygon points="261.2,626.1 272.1,632 281.5,629 270.7,622.9" fill="#a93539" stroke="#a93539"/>
<polygon points="272.1,632 283.2,637 292.6,634.1 281.5,629" fill="#a73438" stroke="#a73438"/>
<polygon points="249.7,613.5 260.1,618 269.3,613.4 259,608.4" fill="#ad373b" stroke="#ad373b"/>
<polygon points="260.1,618 270.7,622.9 279.9,618.8 269.3,613.4" fill="#ac363a" stroke="#ac363a"/>
<polygon points="270.7,622.9 281.5,629 290.7,625 279.9,618.8" fill="#ac363b" stroke="#ac363b"/>
<polygon points="281.5,629 292.6,634.1 301.8,630.3 290.7,625" fill="#aa3539" stroke="#aa3539"/>
<polygon points="259,608.4 269.3,613.4 278.4,608.2 268,602.6" fill="#b0383d" stroke="#b0383d"/>
<polygon points="269.3,613.4 279.9,618.8 288.9,613.9 278.4,608.2" fill="#af383c" stroke="#af383c"/>
<polygon points="279.9,618.8 290.7,625 299.7,620.4 288.9,613.9" fill="#af383c" stroke="#af383c"/>
<polygon points="290.7,625 301.8,630.3 310.8,625.8 299.7,620.4" fill="#ad373b" stroke="#ad373b"/>
<polygon points="273.6,639.1 285,643.4 294.6,641.4 283.2,637" fill="#3a7965" stroke="#3a7965"/>
<polygon points="285,643.4 296.7,648 306.3,646.1 294.6,641.4" fill="#3a7965" stroke="#3a7965"/>
<polygon points="296.7,648 308.7,653.6 318.3,651.6 306.3,646.1" fill="#3a7a66" stroke="#3a7a66"/>
<polygon points="308.7,653.6 321,659 330.5,657 318.3,651.6" fill="#3a7965" stroke="#3a7965"/>
<polygon points="283.2,637 294.6,641.4 304,638.5 292.6,634.1" fill="#3b7b67" stroke="#3b7b67"/>
<polygon points="294.6,641.4 306.3,646.1 315.7,643.2 304,638.5" fill="#3b7b67" stroke="#3b7b67"/>
<polygon points="306.3,646.1 318.3,651.6 327.6,648.7 315.7,643.2" fill="#3b7c68" stroke="#3b7c68"/>
<polygon points="318.3,651.6 330.5,657 339.8,654 327.6,648.7" fill="#3b7b67" stroke="#3b7b67"/>
<polygon points="292.6,634.1 304,638.5 313.2,634.8 301.8,630.3" fill="#3d7d69" stroke="#3d7d69"/>
<polygon points="304,638.5 315.7,643.2 324.8,639.5 313.2,634.8" fill="#3c7d69" stroke="#3c7d69"/>
<polygon points="315.7,643.2 327.6,648.7 336.7,645 324.8,639.5" fill="#3d7d69" stroke="#3d7d69"/>
<polygon points="327.6,648.7 339.8,654 348.9,650.3 336.7,645" fill="#3c7d69" stroke="#3c7d69"/>
<polygon points="301.8,630.3 313.2,634.8 322.1,630.5 310.8,625.8" fill="#3e7f6b" stroke="#3e7f6b"/>
<polygon points="313.2,634.8 324.8,639.5 333.7,635.4 322.1,630.5" fill="#3d7e6a" stroke="#3d7e6a"/>
<polygon points="324.8,639.5 336.7,645 345.6,641 333.7,635.4" fill="#3e7f6a" stroke="#3e7f6a"/>
<polygon points="336.7,645 348.9,650.3 357.8,646.3 345.6,641" fill="#3d7e6a" stroke="#3d7e6a"/>
<polygon points="321,659 333.6,663.6 343.1,661.5 330.5,657" fill="#a23236" stroke="#a23236"/>
<polygon points="333.6,663.6 346.6,667.9 356.1,665.7 343.1,661.5" fill="#a23236" stroke="#a23236"/>
<polygon points="346.6,667.9 359.9,672.7 369.3,670.4 356.1,665.7" fill="#a23236" stroke="#a23236"/>
<polygon points="359.9,672.7 373.6,678.8 383,676.3 369.3,670.4" fill="#a33236" stroke="#a33236"/>
<polygon points="330.5,657 343.1,661.5 352.4,658.3 339.8,654" fill="#a53337" stroke="#a53337"/>
<polygon points="343.1,661.5 356.1,665.7 365.3,662.3 352.4,658.3" fill="#a53337" stroke="#a53337"/>
<polygon points="356.1,665.7 369.3,670.4 378.5,666.9 365.3,662.3" fill="#a53337" stroke="#a53337"/>
<polygon points="369.3,670.4 383,676.3 392.1,672.7 378.5,666.9" fill="#a73337" stroke="#a73337"/>
<polygon points="339.8,654 352.4,658.3 361.5,654.5 348.9,650.3" fill="#a73337" stroke="#a73337"/>
<polygon points="352.4,658.3 365.3,662.3 374.3,658.5 361.5,654.5" fill="#a63337" stroke="#a63337"/>
<polygon points="365.3,662.3 378.5,666.9 387.5,662.9 374.3,658.5" fill="#a73337" stroke="#a73337"/>
<polygon points="378.5,666.9 392.1,672.7 401,668.7 387.5,662.9" fill="#a83438" stroke="#a83438"/>
<polygon points="348.9,650.3 361.5,654.5 370.3,650.5 357.8,646.3" fill="#a83438" stroke="#a83438"/>
<polygon points="361.5,654.5 374.3,658.5 383.1,654.4 370.3,650.5" fill="#a73338" stroke="#a73338"/>
<polygon points="374.3,658.5 387.5,662.9 396.2,658.9 383.1,654.4" fill="#a73438" stroke="#a73438"/>
<polygon points="387.5,662.9 401,668.7 409.7,664.6 396.2,658.9" fill="#a93438" stroke="#a93438"/>
<polygon points="160,538.3 168.1,542.2 176.9,536.9 168.9,533.3" fill="#41836f" stroke="#41836f"/>
<polygon points="168.1,542.2 176.2,549.5 185.1,543.7 176.9,536.9" fill="#438671" stroke="#438671"/>
<polygon points="176.2,549.5 184.6,555.5 193.4,549.5 185.1,543.7" fill="#438671" stroke="#438671"/>
<polygon points="184.6,555.5 193.1,558 201.9,551.9 193.4,549.5" fill="#41846f" stroke="#41846f"/>
<polygon points="168.9,533.3 176.9,536.9 185.6,533.8 177.5,530.6" fill="#3d7e6a" stroke="#3d7e6a"/>
<polygon points="176.9,536.9 185.1,543.7 193.7,540.1 185.6,533.8" fill="#40836e" stroke="#40836e"/>
<polygon points="185.1,543.7 193.4,549.5 202.1,545.6 193.7,540.1" fill="#40826e" stroke="#40826e"/>
<polygon points="193.4,549.5 201.9,551.9 210.6,548 202.1,545.6" fill="#3e7f6a" stroke="#3e7f6a"/>
<polygon points="177.5,530.6 185.6,533.8 194.1,528.3 186,525.4" fill="#41836f" stroke="#41836f"/>
<polygon points="185.6,533.8 193.7,540.1 202.3,534.1 194.1,528.3" fill="#438671" stroke="#438671"/>
<polygon points="193.7,540.1 202.1,545.6 210.6,539.5 202.3,534.1" fill="#438671" stroke="#438671"/>
<polygon points="202.1,545.6 210.6,548 219.1,542 210.6,539.5" fill="#41846f" stroke="#41846f"/>
<polygon points="186,525.4 194.1,528.3 202.4,521.3 194.4,518.7" fill="#438671" stroke="#438671"/>
<polygon points="194.1,528.3 202.3,534.1 210.6,526.8 202.4,521.3" fill="#438671" stroke="#438671"/>
<polygon points="202.3,534.1 210.6,539.5 219,532.1 210.6,526.8" fill="#438671" stroke="#438671"/>
<polygon points="210.6,539.5 219.1,542 227.5,534.9 219,532.1" fill="#438671" stroke="#438671"/>
<polygon points="193.1,558 201.8,560.5 210.6,554.4 201.9,551.9" fill="#e5e4ce" stroke="#e5e4ce"/>
<polygon points="201.8,560.5 210.6,563.6 219.5,557.4 210.6,554.4" fill="#e6e5cf" stroke="#e6e5cf"/>
<polygon points="210.6,563.6 219.7,568.3 228.6,562.3 219.5,557.4" fill="#e9e8d2" stroke="#e9e8d2"/>
<polygon points="219.7,568.3 228.9,574.9 237.8,569.1 228.6,562.3" fill="#e9e8d2" stroke="#e9e8d2"/>
<polygon points="201.9,551.9 210.6,554.4 219.3,550.5 210.6,548" fill="#deddc8" stroke="#deddc8"/>
<polygon points="210.6,554.4 219.5,557.4 228.2,553.6 219.3,550.5" fill="#dfdec8" stroke="#dfdec8"/>
<polygon points="219.5,557.4 228.6,562.3 237.2,558.6 228.2,553.6" fill="#e2e1cb" stroke="#e2e1cb"/>
<polygon points="228.6,562.3 237.8,569.1 246.5,565.5 237.2,558.6" fill="#e4e3cd" stroke="#e4e3cd"/>
<polygon points="210.6,548 219.3,550.5 227.8,544.6 219.1,542" fill="#e5e4ce" stroke="#e5e4ce"/>
<polygon points="219.3,550.5 228.2,553.6 236.7,547.8 227.8,544.6" fill="#e6e5cf" stroke="#e6e5cf"/>
<polygon points="228.2,553.6 237.2,558.6 245.8,553 236.7,547.8" fill="#e8e7d1" stroke="#e8e7d1"/>
<polygon points="237.2,558.6 246.5,565.5 255,560.1 245.8,553" fill="#e9e8d2" stroke="#e9e8d2"/>
<polygon points="219.1,542 227.8,544.6 236.2,537.8 227.5,534.9" fill="#e9e8d2" stroke="#e9e8d2"/>
<polygon points="227.8,544.6 236.7,547.8 245.1,541.3 236.2,537.8" fill="#e9e8d2" stroke="#e9e8d2"/>
<polygon points="236.7,547.8 245.8,553 254.1,546.9 245.1,541.3" fill="#e9e8d2" stroke="#e9e8d2"/>
<polygon points="245.8,553 255,560.1 263.4,554.3 254.1,546.9" fill="#e9e8d2" stroke="#e9e8d2"/>
<polygon points="228.9,574.9 238.4,582.2 247.3,576.5 237.8,569.1" fill="#438671" stroke="#438671"/>
<polygon points="238.4,582.2 248.1,589 256.9,583.5 247.3,576.5" fill="#438671" stroke="#438671"/>
<polygon points="248.1,589 257.9,596.3 266.8,590.9 256.9,583.5" fill="#438671" stroke="#438671"/>
<polygon points="257.9,596.3 268,602.6 276.9,597.6 266.8,590.9" fill="#428570" stroke="#428570"/>
<polygon points="237.8,569.1 247.3,576.5 255.9,573 246.5,565.5" fill="#40836e" stroke="#40836e"/>
<polygon points="247.3,576.5 256.9,583.5 265.6,579.9 255.9,573" fill="#40826d" stroke="#40826d"/>
<polygon points="256.9,583.5 266.8,590.9 275.5,587.2 265.6,579.9" fill="#40826e" stroke="#40826e"/>
<polygon points="266.8,590.9 276.9,597.6 285.5,594 275.5,587.2" fill="#40826d" stroke="#40826d"/>
<polygon points="246.5,565.5 255.9,573 264.5,567.6 255,560.1" fill="#438671" stroke="#438671"/>
<polygon points="255.9,573 265.6,579.9 274.1,574.3 264.5,567.6" fill="#438671" stroke="#438671"/>
<polygon points="265.6,579.9 275.5,587.2 284,581.5 274.1,574.3" fill="#438671" stroke="#438671"/>
<polygon points="275.5,587.2 285.5,594 294,588.1 284,581.5" fill="#438671" stroke="#438671"/>
<polygon points="255,560.1 264.5,567.6 272.8,561.8 263.4,554.3" fill="#438671" stroke="#438671"/>
<polygon points="264.5,567.6 274.1,574.3 282.4,568.4 272.8,561.8" fill="#438671" stroke="#438671"/>
<polygon points="274.1,574.3 284,581.5 292.3,575.3 282.4,568.4" fill="#438671" stroke="#438671"/>
<polygon points="284,581.5 294,588.1 302.3,581.8 292.3,575.3" fill="#438671" stroke="#438671"/>
<polygon points="268,602.6 278.4,608.2 287.2,603.5 276.9,597.6" fill="#af383c" stroke="#af383c"/>
<polygon points="278.4,608.2 288.9,613.9 297.7,609.6 287.2,603.5" fill="#ae373c" stroke="#ae373c"/>
<polygon points="288.9,613.9 299.7,620.4 308.5,616.2 297.7,609.6" fill="#ae373b" stroke="#ae373b"/>
<polygon points="299.7,620.4 310.8,625.8 319.6,621.7 308.5,616.2" fill="#ac363a" stroke="#ac363a"/>
<polygon points="276.9,597.6 287.2,603.5 295.8,600 285.5,594" fill="#ac363a" stroke="#ac363a"/>
<polygon points="287.2,603.5 297.7,609.6 306.4,606.2 295.8,600" fill="#ac363a" stroke="#ac363a"/>
<polygon points="297.7,609.6 308.5,616.2 317.2,612.7 306.4,606.2" fill="#ac363a" stroke="#ac363a"/>
<polygon points="308.5,616.2 319.6,621.7 328.2,618.3 317.2,612.7" fill="#aa3539" stroke="#aa3539"/>
<polygon points="285.5,594 295.8,600 304.3,594.2 294,588.1" fill="#b33a3e" stroke="#b33a3e"/>
<polygon points="295.8,600 306.4,606.2 314.8,600.4 304.3,594.2" fill="#b23a3e" stroke="#b23a3e"/>
<polygon points="306.4,606.2 317.2,612.7 325.6,606.8 314.8,600.4" fill="#b33a3e" stroke="#b33a3e"/>
<polygon points="317.2,612.7 328.2,618.3 336.6,612.3 325.6,606.8" fill="#b1393d" stroke="#b1393d"/>
<polygon points="294,588.1 304.3,594.2 312.6,587.9 302.3,581.8" fill="#b33a3e" stroke="#b33a3e"/>
<polygon points="304.3,594.2 314.8,600.4 323.1,594 312.6,587.9" fill="#b33a3e" stroke="#b33a3e"/>
<polygon points="314.8,600.4 325.6,606.8 333.8,600.4 323.1,594" fill="#b33a3e" stroke="#b33a3e"/>
<polygon points="325.6,606.8 336.6,612.3 344.8,605.8 333.8,600.4" fill="#b33a3e" stroke="#b33a3e"/>
<polygon points="310.8,625.8 322.1,630.5 330.9,626.6 319.6,621.7" fill="#3d7f6a" stroke="#3d7f6a"/>
<polygon points="322.1,630.5 333.7,635.4 342.5,631.6 330.9,626.6" fill="#3d7e6a" stroke="#3d7e6a"/>
<polygon points="333.7,635.4 345.6,641 354.3,637.2 342.5,631.6" fill="#3d7e6a" stroke="#3d7e6a"/>
<polygon points="345.6,641 357.8,646.3 366.5,642.6 354.3,637.2" fill="#3d7e69" stroke="#3d7e69"/>
<polygon points="319.6,621.7 330.9,626.6 339.5,623.2 328.2,618.3" fill="#3d7e69" stroke="#3d7e69"/>
<polygon points="330.9,626.6 342.5,631.6 351,628.1 339.5,623.2" fill="#3d7d69" stroke="#3d7d69"/>
<polygon points="342.5,631.6 354.3,637.2 362.8,633.7 351,628.1" fill="#3d7e6a" stroke="#3d7e6a"/>
<polygon points="354.3,637.2 366.5,642.6 374.9,638.9 362.8,633.7" fill="#3d7d69" stroke="#3d7d69"/>
<polygon points="328.2,618.3 339.5,623.2 347.8,617.1 336.6,612.3" fill="#41846f" stroke="#41846f"/>
<polygon points="339.5,623.2 351,628.1 359.3,622 347.8,617.1" fill="#41836f" stroke="#41836f"/>
<polygon points="351,628.1 362.8,633.7 371.1,627.5 359.3,622" fill="#41846f" stroke="#41846f"/>
<polygon points="362.8,633.7 374.9,638.9 383.2,632.7 371.1,627.5" fill="#41836f" stroke="#41836f"/>
<polygon points="336.6,612.3 347.8,617.1 356,610.7 344.8,605.8" fill="#428570" stroke="#428570"/>
<polygon points="347.8,617.1 359.3,622 367.5,615.6 356,610.7" fill="#428570" stroke="#428570"/>
<polygon points="359.3,622 371.1,627.5 379.3,621.1 367.5,615.6" fill="#428570" stroke="#428570"/>
<polygon points="371.1,627.5 383.2,632.7 391.3,626.2 379.3,621.1" fill="#41846f" stroke="#41846f"/>
<polygon points="357.8,646.3 370.3,650.5 378.9,646.8 366.5,642.6" fill="#dad9c4" stroke="#dad9c4"/>
<polygon points="370.3,650.5 383.1,654.4 391.7,650.7 378.9,646.8" fill="#d9d8c3" stroke="#d9d8c3"/>
<polygon points="383.1,654.4 396.2,658.9 404.7,655.1 391.7,650.7" fill="#dad9c4" stroke="#dad9c4"/>
<polygon points="396.2,658.9 409.7,664.6 418.2,660.8 404.7,655.1" fill="#dcdbc5" stroke="#dcdbc5"/>
<polygon points="366.5,642.6 378.9,646.8 387.3,643.1 374.9,638.9" fill="#dbdac4" stroke="#dbdac4"/>
<polygon points="378.9,646.8 391.7,650.7 400,646.8 387.3,643.1" fill="#dad9c4" stroke="#dad9c4"/>
<polygon points="391.7,650.7 404.7,655.1 413.1,651.1 400,646.8" fill="#dbdac5" stroke="#dbdac5"/>
<polygon points="404.7,655.1 418.2,660.8 426.4,656.7 413.1,651.1" fill="#dddcc6" stroke="#dddcc6"/>
<polygon points="374.9,638.9 387.3,643.1 395.6,636.7 383.2,632.7" fill="#e3e2cd" stroke="#e3e2cd"/>
<polygon points="387.3,643.1 400,646.8 408.2,640.3 395.6,636.7" fill="#e3e2cc" stroke="#e3e2cc"/>
<polygon points="400,646.8 413.1,651.1 421.2,644.5 408.2,640.3" fill="#e3e2cd" stroke="#e3e2cd"/>
<polygon points="413.1,651.1 426.4,656.7 434.5,650 421.2,644.5" fill="#e6e4cf" stroke="#e6e4cf"/>
<polygon points="383.2,632.7 395.6,636.7 403.6,630.2 391.3,626.2" fill="#e4e3cd" stroke="#e4e3cd"/>
<polygon points="395.6,636.7 408.2,640.3 416.2,633.7 403.6,630.2" fill="#e3e2cd" stroke="#e3e2cd"/>
<polygon points="408.2,640.3 421.2,644.5 429.1,637.8 416.2,633.7" fill="#e4e3cd" stroke="#e4e3cd"/>
<polygon points="421.2,644.5 434.5,650 442.4,643.3 429.1,637.8" fill="#e6e5cf" stroke="#e6e5cf"/>
<polygon points="194.4,518.7 202.4,521.3 210.6,517.5 202.6,515.2" fill="#3e7f6b" stroke="#3e7f6b"/>
<polygon points="202.4,521.3 210.6,526.8 218.8,522.7 210.6,517.5" fill="#41836e" stroke="#41836e"/>
<polygon points="210.6,526.8 219,532.1 227.2,527.9 218.8,522.7" fill="#41836e" stroke="#41836e"/>
<polygon points="219,532.1 227.5,534.9 235.7,531.1 227.2,527.9" fill="#3f806c" stroke="#3f806c"/>
<polygon points="202.6,515.2 210.6,517.5 218.7,515.3 210.6,513.4" fill="#3b7b67" stroke="#3b7b67"/>
<polygon points="210.6,517.5 218.8,522.7 226.9,520 218.7,515.3" fill="#3e7f6b" stroke="#3e7f6b"/>
<polygon points="218.8,522.7 227.2,527.9 235.2,525 226.9,520" fill="#3f806c" stroke="#3f806c"/>
<polygon points="227.2,527.9 235.7,531.1 243.8,528.2 235.2,525" fill="#3d7e6a" stroke="#3d7e6a"/>
<polygon points="210.6,513.4 218.7,515.3 226.6,512.9 218.5,511.6" fill="#3b7b67" stroke="#3b7b67"/>
<polygon points="218.7,515.3 226.9,520 234.8,517 226.6,512.9" fill="#3e7f6b" stroke="#3e7f6b"/>
<polygon points="226.9,520 235.2,525 243.1,521.7 234.8,517" fill="#3f816c" stroke="#3f816c"/>
<polygon points="235.2,525 243.8,528.2 251.7,524.9 243.1,521.7" fill="#3e7f6b" stroke="#3e7f6b"/>
<polygon points="218.5,511.6 226.6,512.9 234.3,511.3 226.3,510.5" fill="#3a7965" stroke="#3a7965"/>
<polygon points="226.6,512.9 234.8,517 242.5,514.8 234.3,511.3" fill="#3c7d69" stroke="#3c7d69"/>
<polygon points="234.8,517 243.1,521.7 250.9,519.2 242.5,514.8" fill="#3e7f6a" stroke="#3e7f6a"/>
<polygon points="243.1,521.7 251.7,524.9 259.4,522.4 250.9,519.2" fill="#3d7d69" stroke="#3d7d69"/>
<polygon points="227.5,534.9 236.2,537.8 244.4,534.3 235.7,531.1" fill="#3e7f6b" stroke="#3e7f6b"/>
<polygon points="236.2,537.8 245.1,541.3 253.3,538.1 244.4,534.3" fill="#3e7f6b" stroke="#3e7f6b"/>
<polygon points="245.1,541.3 254.1,546.9 262.3,544 253.3,538.1" fill="#3f816c" stroke="#3f816c"/>
<polygon points="254.1,546.9 263.4,554.3 271.6,551.6 262.3,544" fill="#40826d" stroke="#40826d"/>
<polygon points="235.7,531.1 244.4,534.3 252.4,531.6 243.8,528.2" fill="#3d7e69" stroke="#3d7e69"/>
<polygon points="244.4,534.3 253.3,538.1 261.3,535.6 252.4,531.6" fill="#3d7e69" stroke="#3d7e69"/>
<polygon points="253.3,538.1 262.3,544 270.4,541.7 261.3,535.6" fill="#3e806b" stroke="#3e806b"/>
<polygon points="262.3,544 271.6,551.6 279.6,549.4 270.4,541.7" fill="#3f816c" stroke="#3f816c"/>
<polygon points="243.8,528.2 252.4,531.6 260.3,528.3 251.7,524.9" fill="#3e7f6b" stroke="#3e7f6b"/>
<polygon points="252.4,531.6 261.3,535.6 269.2,532.3 260.3,528.3" fill="#3e806b" stroke="#3e806b"/>
<polygon points="261.3,535.6 270.4,541.7 278.2,538.5 269.2,532.3" fill="#40826d" stroke="#40826d"/>
<polygon points="270.4,541.7 279.6,549.4 287.5,546.1 278.2,538.5" fill="#41836e" stroke="#41836e"/>
<polygon points="251.7,524.9 260.3,528.3 268.1,525.7 259.4,522.4" fill="#3d7e69" stroke="#3d7e69"/>
<polygon points="260.3,528.3 269.2,532.3 276.9,529.7 268.1,525.7" fill="#3d7e6a" stroke="#3d7e6a"/>
<polygon points="269.2,532.3 278.2,538.5 286,535.9 276.9,529.7" fill="#3f806c" stroke="#3f806c"/>
<polygon points="278.2,538.5 287.5,546.1 295.2,543.5 286,535.9" fill="#40826d" stroke="#40826d"/>
<polygon points="263.4,554.3 272.8,561.8 281,559.2 271.6,551.6" fill="#3f816d" stroke="#3f816d"/>
<polygon points="272.8,561.8 282.4,568.4 290.6,565.5 281,559.2" fill="#3e806b" stroke="#3e806b"/>
<polygon points="282.4,568.4 292.3,575.3 300.4,572.1 290.6,565.5" fill="#3f816c" stroke="#3f816c"/>
<polygon points="292.3,575.3 302.3,581.8 310.5,578.5 300.4,572.1" fill="#3f816c" stroke="#3f816c"/>
<polygon points="271.6,551.6 281,559.2 289,556.8 279.6,549.4" fill="#3f816c" stroke="#3f816c"/>
<polygon points="281,559.2 290.6,565.5 298.6,562.7 289,556.8" fill="#3e7f6b" stroke="#3e7f6b"/>
<polygon points="290.6,565.5 300.4,572.1 308.4,568.9 298.6,562.7" fill="#3f816c" stroke="#3f816c"/>
<polygon points="300.4,572.1 310.5,578.5 318.4,574.9 308.4,568.9" fill="#3f816d" stroke="#3f816d"/>
<polygon points="279.6,549.4 289,556.8 296.9,553.4 287.5,546.1" fill="#40836e" stroke="#40836e"/>
<polygon points="289,556.8 298.6,562.7 306.5,558.8 296.9,553.4" fill="#3f816d" stroke="#3f816d"/>
<polygon points="298.6,562.7 308.4,568.9 316.2,564.5 306.5,558.8" fill="#40836e" stroke="#40836e"/>
<polygon points="308.4,568.9 318.4,574.9 326.2,570.2 316.2,564.5" fill="#41836f" stroke="#41836f"/>
<polygon points="287.5,546.1 296.9,553.4 304.6,550.6 295.2,543.5" fill="#3f816d" stroke="#3f816d"/>
<polygon points="296.9,553.4 306.5,558.8 314.1,555.7 304.6,550.6" fill="#3e806b" stroke="#3e806b"/>
<polygon points="306.5,558.8 316.2,564.5 323.9,561 314.1,555.7" fill="#3f816c" stroke="#3f816c"/>
<polygon points="316.2,564.5 326.2,570.2 333.9,566.5 323.9,561" fill="#3f816d" stroke="#3f816d"/>
<polygon points="302.3,581.8 312.6,587.9 320.7,584.5 310.5,578.5" fill="#e1e0ca" stroke="#e1e0ca"/>
<polygon points="312.6,587.9 323.1,594 331.2,590.6 320.7,584.5" fill="#e1e0ca" stroke="#e1e0ca"/>
<polygon points="323.1,594 333.8,600.4 341.9,596.8 331.2,590.6" fill="#e1e0ca" stroke="#e1e0ca"/>
<polygon points="333.8,600.4 344.8,605.8 352.8,602.1 341.9,596.8" fill="#e0dfc9" stroke="#e0dfc9"/>
<polygon points="310.5,578.5 320.7,584.5 328.7,580.7 318.4,574.9" fill="#e2e1cb" stroke="#e2e1cb"/>
<polygon points="320.7,584.5 331.2,590.6 339.1,586.5 328.7,580.7" fill="#e2e1cc" stroke="#e2e1cc"/>
<polygon points="331.2,590.6 341.9,596.8 349.8,592.4 339.1,586.5" fill="#e3e2cc" stroke="#e3e2cc"/>
<polygon points="341.9,596.8 352.8,602.1 360.7,597.5 349.8,592.4" fill="#e2e1cc" stroke="#e2e1cc"/>
<polygon points="318.4,574.9 328.7,580.7 336.5,575.8 326.2,570.2" fill="#e6e4cf" stroke="#e6e4cf"/>
<polygon points="328.7,580.7 339.1,586.5 346.9,581.3 336.5,575.8" fill="#e6e5cf" stroke="#e6e5cf"/>
<polygon points="339.1,586.5 349.8,592.4 357.5,586.8 346.9,581.3" fill="#e7e6d0" stroke="#e7e6d0"/>
<polygon points="349.8,592.4 360.7,597.5 368.4,591.5 357.5,586.8" fill="#e6e5cf" stroke="#e6e5cf"/>
<polygon points="326.2,570.2 336.5,575.8 344.1,571.8 333.9,566.5" fill="#e2e1cb" stroke="#e2e1cb"/>
<polygon points="336.5,575.8 346.9,581.3 354.5,577.2 344.1,571.8" fill="#e2e1cc" stroke="#e2e1cc"/>
<polygon points="346.9,581.3 357.5,586.8 365.1,582.4 354.5,577.2" fill="#e3e2cc" stroke="#e3e2cc"/>
<polygon points="357.5,586.8 368.4,591.5 376,586.8 365.1,582.4" fill="#e2e1cb" stroke="#e2e1cb"/>
<polygon points="344.8,605.8 356,610.7 364,606.9 352.8,602.1" fill="#dfdec8" stroke="#dfdec8"/>
<polygon points="356,610.7 367.5,615.6 375.5,611.9 364,606.9" fill="#deddc8" stroke="#deddc8"/>
<polygon points="367.5,615.6 379.3,621.1 387.2,617.3 375.5,611.9" fill="#dfdec8" stroke="#dfdec8"/>
<polygon points="379.3,621.1 391.3,626.2 399.2,622.4 387.2,617.3" fill="#deddc8" stroke="#deddc8"/>
<polygon points="352.8,602.1 364,606.9 371.9,602.1 360.7,597.5" fill="#e2e1cb" stroke="#e2e1cb"/>
<polygon points="364,606.9 375.5,611.9 383.3,606.9 371.9,602.1" fill="#e2e1cc" stroke="#e2e1cc"/>
<polygon points="375.5,611.9 387.2,617.3 395,612.1 383.3,606.9" fill="#e3e2cd" stroke="#e3e2cd"/>
<polygon points="387.2,617.3 399.2,622.4 406.9,617 395,612.1" fill="#e3e2cc" stroke="#e3e2cc"/>
<polygon points="360.7,597.5 371.9,602.1 379.6,595.9 368.4,591.5" fill="#e6e5cf" stroke="#e6e5cf"/>
<polygon points="371.9,602.1 383.3,606.9 390.9,600.5 379.6,595.9" fill="#e7e6d0" stroke="#e7e6d0"/>
<polygon points="383.3,606.9 395,612.1 402.6,605.4 390.9,600.5" fill="#e8e7d1" stroke="#e8e7d1"/>
<polygon points="395,612.1 406.9,617 414.5,610 402.6,605.4" fill="#e8e7d1" stroke="#e8e7d1"/>
<polygon points="368.4,591.5 379.6,595.9 387.1,591.1 376,586.8" fill="#e2e1cb" stroke="#e2e1cb"/>
<polygon points="379.6,595.9 390.9,600.5 398.4,595.4 387.1,591.1" fill="#e2e1cc" stroke="#e2e1cc"/>
<polygon points="390.9,600.5 402.6,605.4 410,600.1 398.4,595.4" fill="#e3e2cd" stroke="#e3e2cd"/>
<polygon points="402.6,605.4 414.5,610 421.9,604.5 410,600.1" fill="#e3e2cd" stroke="#e3e2cd"/>
<polygon points="391.3,626.2 403.6,630.2 411.4,626.3 399.2,622.4" fill="#dcdbc6" stroke="#dcdbc6"/>
<polygon points="403.6,630.2 416.2,633.7 424,629.7 411.4,626.3" fill="#dbdac5" stroke="#dbdac5"/>
<polygon points="416.2,633.7 429.1,637.8 436.9,633.7 424,629.7" fill="#dcdbc6" stroke="#dcdbc6"/>
<polygon points="429.1,637.8 442.4,643.3 450.1,639.1 436.9,633.7" fill="#deddc7" stroke="#deddc7"/>
<polygon points="399.2,622.4 411.4,626.3 419.1,620.7 406.9,617" fill="#e1e0cb" stroke="#e1e0cb"/>
<polygon points="411.4,626.3 424,629.7 431.6,623.8 419.1,620.7" fill="#e1e0ca" stroke="#e1e0ca"/>
<polygon points="424,629.7 436.9,633.7 444.4,627.6 431.6,623.8" fill="#e2e1cc" stroke="#e2e1cc"/>
<polygon points="436.9,633.7 450.1,639.1 457.6,632.7 444.4,627.6" fill="#e5e4ce" stroke="#e5e4ce"/>
<polygon points="406.9,617 419.1,620.7 426.6,613.4 414.5,610" fill="#e7e6d0" stroke="#e7e6d0"/>
<polygon points="419.1,620.7 431.6,623.8 439.1,616.2 426.6,613.4" fill="#e6e5d0" stroke="#e6e5d0"/>
<polygon points="431.6,623.8 444.4,627.6 451.8,619.6 439.1,616.2" fill="#e8e7d1" stroke="#e8e7d1"/>
<polygon points="444.4,627.6 457.6,632.7 464.9,624.4 451.8,619.6" fill="#e9e8d2" stroke="#e9e8d2"/>
<polygon points="414.5,610 426.6,613.4 434,607.5 421.9,604.5" fill="#e2e1cb" stroke="#e2e1cb"/>
<polygon points="426.6,613.4 439.1,616.2 446.4,610 434,607.5" fill="#e1e0cb" stroke="#e1e0cb"/>
<polygon points="439.1,616.2 451.8,619.6 459.1,613.1 446.4,610" fill="#e3e2cc" stroke="#e3e2cc"/>
<polygon points="451.8,619.6 464.9,624.4 472.1,617.6 459.1,613.1" fill="#e6e5cf" stroke="#e6e5cf"/>
<polygon points="226.3,510.5 234.3,511.3 242,514 233.9,513.9" fill="#982f32" stroke="#982f32"/>
<polygon points="234.3,511.3 242.5,514.8 250.2,516.8 242,514" fill="#9d3034" stroke="#9d3034"/>
<polygon points="242.5,514.8 250.9,519.2 258.5,520.7 250.2,516.8" fill="#a03135" stroke="#a03135"/>
<polygon points="250.9,519.2 259.4,522.4 267,523.7 258.5,520.7" fill="#9f3135" stroke="#9f3135"/>
<polygon points="233.9,513.9 242,514 249.4,518.4 241.4,519" fill="#932d31" stroke="#932d31"/>
<polygon points="242,514 250.2,516.8 257.6,520.3 249.4,518.4" fill="#992f33" stroke="#992f33"/>
<polygon points="250.2,516.8 258.5,520.7 266,523.6 257.6,520.3" fill="#9c3034" stroke="#9c3034"/>
<polygon points="258.5,520.7 267,523.7 274.5,526.2 266,523.6" fill="#9c3034" stroke="#9c3034"/>
<polygon points="241.4,519 249.4,518.4 256.8,519.8 248.8,521.1" fill="#9a2f33" stroke="#9a2f33"/>
<polygon points="249.4,518.4 257.6,520.3 265,521 256.8,519.8" fill="#9f3135" stroke="#9f3135"/>
<polygon points="257.6,520.3 266,523.6 273.3,523.7 265,521" fill="#a23236" stroke="#a23236"/>
<polygon points="266,523.6 274.5,526.2 281.8,526 273.3,523.7" fill="#a23236" stroke="#a23236"/>
<polygon points="248.8,521.1 256.8,519.8 264,519.5 256,521.3" fill="#9e3034" stroke="#9e3034"/>
<polygon points="256.8,519.8 265,521 272.2,519.9 264,519.5" fill="#a23236" stroke="#a23236"/>
<polygon points="265,521 273.3,523.7 280.6,522.2 272.2,519.9" fill="#a53337" stroke="#a53337"/>
<polygon points="273.3,523.7 281.8,526 289.1,524.4 280.6,522.2" fill="#a53337" stroke="#a53337"/>
<polygon points="259.4,522.4 268.1,525.7 275.7,526.9 267,523.7" fill="#9f3135" stroke="#9f3135"/>
<polygon points="268.1,525.7 276.9,529.7 284.5,530.7 275.7,526.9" fill="#a03135" stroke="#a03135"/>
<polygon points="276.9,529.7 286,535.9 293.6,536.9 284.5,530.7" fill="#a33236" stroke="#a33236"/>
<polygon points="286,535.9 295.2,543.5 302.8,544.5 293.6,536.9" fill="#a53337" stroke="#a53337"/>
<polygon points="267,523.7 275.7,526.9 283.2,529 274.5,526.2" fill="#9d3034" stroke="#9d3034"/>
<polygon points="275.7,526.9 284.5,530.7 292,532.5 283.2,529" fill="#9e3134" stroke="#9e3134"/>
<polygon points="284.5,530.7 293.6,536.9 301,538.4 292,532.5" fill="#a23236" stroke="#a23236"/>
<polygon points="293.6,536.9 302.8,544.5 310.2,545.7 301,538.4" fill="#a43236" stroke="#a43236"/>
<polygon points="274.5,526.2 283.2,529 290.5,528.5 281.8,526" fill="#a33236" stroke="#a33236"/>
<polygon points="283.2,529 292,532.5 299.3,531.6 290.5,528.5" fill="#a43236" stroke="#a43236"/>
<polygon points="292,532.5 301,538.4 308.3,537.3 299.3,531.6" fill="#a83438" stroke="#a83438"/>
<polygon points="301,538.4 310.2,545.7 317.5,544.5 308.3,537.3" fill="#aa3539" stroke="#aa3539"/>
<polygon points="281.8,526 290.5,528.5 297.7,526.7 289.1,524.4" fill="#a63337" stroke="#a63337"/>
<polygon points="290.5,528.5 299.3,531.6 306.5,529.6 297.7,526.7" fill="#a73438" stroke="#a73438"/>
<polygon points="299.3,531.6 308.3,537.3 315.5,535.3 306.5,529.6" fill="#ab363a" stroke="#ab363a"/>
<polygon points="308.3,537.3 317.5,544.5 324.6,542.5 315.5,535.3" fill="#ad373b" stroke="#ad373b"/>
<polygon points="295.2,543.5 304.6,550.6 312.1,551.4 302.8,544.5" fill="#a43236" stroke="#a43236"/>
<polygon points="304.6,550.6 314.1,555.7 321.7,556.1 312.1,551.4" fill="#a23236" stroke="#a23236"/>
<polygon points="314.1,555.7 323.9,561 331.5,561 321.7,556.1" fill="#a33236" stroke="#a33236"/>
<polygon points="323.9,561 333.9,566.5 341.4,566.2 331.5,561" fill="#a43236" stroke="#a43236"/>
<polygon points="302.8,544.5 312.1,551.4 319.5,552.3 310.2,545.7" fill="#a33236" stroke="#a33236"/>
<polygon points="312.1,551.4 321.7,556.1 329.1,556.5 319.5,552.3" fill="#a23236" stroke="#a23236"/>
<polygon points="321.7,556.1 331.5,561 338.8,561 329.1,556.5" fill="#a33236" stroke="#a33236"/>
<polygon points="331.5,561 341.4,566.2 348.8,565.8 338.8,561" fill="#a43236" stroke="#a43236"/>
<polygon points="310.2,545.7 319.5,552.3 326.8,550.9 317.5,544.5" fill="#a93539" stroke="#a93539"/>
<polygon points="319.5,552.3 329.1,556.5 336.4,554.8 326.8,550.9" fill="#a73337" stroke="#a73337"/>
<polygon points="329.1,556.5 338.8,561 346.1,558.9 336.4,554.8" fill="#a83438" stroke="#a83438"/>
<polygon points="338.8,561 348.8,565.8 356,563.6 346.1,558.9" fill="#a93539" stroke="#a93539"/>
<polygon points="317.5,544.5 326.8,550.9 334,548.8 324.6,542.5" fill="#ab363a" stroke="#ab363a"/>
<polygon points="326.8,550.9 336.4,554.8 343.5,552.5 334,548.8" fill="#a83438" stroke="#a83438"/>
<polygon points="336.4,554.8 346.1,558.9 353.2,556.5 343.5,552.5" fill="#a93438" stroke="#a93438"/>
<polygon points="346.1,558.9 356,563.6 363.1,561.2 353.2,556.5" fill="#aa3539" stroke="#aa3539"/>
<polygon points="333.9,566.5 344.1,571.8 351.6,571.4 341.4,566.2" fill="#a43236" stroke="#a43236"/>
<polygon points="344.1,571.8 354.5,577.2 362,576.6 351.6,571.4" fill="#a43236" stroke="#a43236"/>
<polygon points="354.5,577.2 365.1,582.4 372.6,581.4 362,576.6" fill="#a43336" stroke="#a43336"/>
<polygon points="365.1,582.4 376,586.8 383.4,585.6 372.6,581.4" fill="#a43236" stroke="#a43236"/>
<polygon points="341.4,566.2 351.6,571.4 358.9,570.8 348.8,565.8" fill="#a43336" stroke="#a43336"/>
<polygon points="351.6,571.4 362,576.6 369.3,575.7 358.9,570.8" fill="#a53337" stroke="#a53337"/>
<polygon points="362,576.6 372.6,581.4 379.8,580.1 369.3,575.7" fill="#a53337" stroke="#a53337"/>
<polygon points="372.6,581.4 383.4,585.6 390.6,583.9 379.8,580.1" fill="#a53337" stroke="#a53337"/>
<polygon points="348.8,565.8 358.9,570.8 366.1,568.5 356,563.6" fill="#a93539" stroke="#a93539"/>
<polygon points="358.9,570.8 369.3,575.7 376.4,573.2 366.1,568.5" fill="#a93539" stroke="#a93539"/>
<polygon points="369.3,575.7 379.8,580.1 387,577.3 376.4,573.2" fill="#a93439" stroke="#a93439"/>
<polygon points="379.8,580.1 390.6,583.9 397.7,580.8 387,577.3" fill="#a83438" stroke="#a83438"/>
<polygon points="356,563.6 366.1,568.5 373.2,566.2 363.1,561.2" fill="#a93539" stroke="#a93539"/>
<polygon points="366.1,568.5 376.4,573.2 383.5,570.9 373.2,566.2" fill="#a93439" stroke="#a93439"/>
<polygon points="376.4,573.2 387,577.3 394,574.9 383.5,570.9" fill="#a83438" stroke="#a83438"/>
<polygon points="387,577.3 397.7,580.8 404.7,578.2 394,574.9" fill="#a73438" stroke="#a73438"/>
<polygon points="376,586.8 387.1,591.1 394.4,589.6 383.4,585.6" fill="#3a7a66" stroke="#3a7a66"/>
<polygon points="387.1,591.1 398.4,595.4 405.7,593.7 394.4,589.6" fill="#3b7a66" stroke="#3b7a66"/>
<polygon points="398.4,595.4 410,600.1 417.3,598.1 405.7,593.7" fill="#3b7b67" stroke="#3b7b67"/>
<polygon points="410,600.1 421.9,604.5 429.1,602.1 417.3,598.1" fill="#3b7b67" stroke="#3b7b67"/>
<polygon points="383.4,585.6 394.4,589.6 401.6,587.5 390.6,583.9" fill="#3b7b67" stroke="#3b7b67"/>
<polygon points="394.4,589.6 405.7,593.7 412.9,591.2 401.6,587.5" fill="#3b7b67" stroke="#3b7b67"/>
<polygon points="405.7,593.7 417.3,598.1 424.4,595.2 412.9,591.2" fill="#3c7c68" stroke="#3c7c68"/>
<polygon points="417.3,598.1 429.1,602.1 436.2,598.8 424.4,595.2" fill="#3c7d68" stroke="#3c7d68"/>
<polygon points="390.6,583.9 401.6,587.5 408.7,584.1 397.7,580.8" fill="#3d7d69" stroke="#3d7d69"/>
<polygon points="401.6,587.5 412.9,591.2 419.9,587.6 408.7,584.1" fill="#3d7e69" stroke="#3d7e69"/>
<polygon points="412.9,591.2 424.4,595.2 431.4,591.2 419.9,587.6" fill="#3d7e6a" stroke="#3d7e6a"/>
<polygon points="424.4,595.2 436.2,598.8 443.1,594.5 431.4,591.2" fill="#3d7f6a" stroke="#3d7f6a"/>
<polygon points="397.7,580.8 408.7,584.1 415.6,581.5 404.7,578.2" fill="#3c7c68" stroke="#3c7c68"/>
<polygon points="408.7,584.1 419.9,587.6 426.8,584.8 415.6,581.5" fill="#3c7c68" stroke="#3c7c68"/>
<polygon points="419.9,587.6 431.4,591.2 438.2,588.3 426.8,584.8" fill="#3c7c68" stroke="#3c7c68"/>
<polygon points="431.4,591.2 443.1,594.5 449.9,591.3 438.2,588.3" fill="#3c7c68" stroke="#3c7c68"/>
<polygon points="421.9,604.5 434,607.5 441.2,604.8 429.1,602.1" fill="#d7d6c1" stroke="#d7d6c1"/>
<polygon points="434,607.5 446.4,610 453.5,607 441.2,604.8" fill="#d7d6c1" stroke="#d7d6c1"/>
<polygon points="446.4,610 459.1,613.1 466.2,609.7 453.5,607" fill="#d9d8c3" stroke="#d9d8c3"/>
<polygon points="459.1,613.1 472.1,617.6 479.1,613.9 466.2,609.7" fill="#dcdbc5" stroke="#dcdbc5"/>
<polygon points="429.1,602.1 441.2,604.8 448.2,601 436.2,598.8" fill="#dad9c4" stroke="#dad9c4"/>
<polygon points="441.2,604.8 453.5,607 460.5,602.6 448.2,601" fill="#dbdac4" stroke="#dbdac4"/>
<polygon points="453.5,607 466.2,609.7 473.1,604.9 460.5,602.6" fill="#dddcc7" stroke="#dddcc7"/>
<polygon points="466.2,609.7 479.1,613.9 485.9,608.6 473.1,604.9" fill="#e0dfca" stroke="#e0dfca"/>
<polygon points="436.2,598.8 448.2,601 455.1,596.3 443.1,594.5" fill="#dddcc6" stroke="#dddcc6"/>
<polygon points="448.2,601 460.5,602.6 467.3,597.5 455.1,596.3" fill="#dddcc6" stroke="#dddcc6"/>
<polygon points="460.5,602.6 473.1,604.9 479.8,599.4 467.3,597.5" fill="#dfdec8" stroke="#dfdec8"/>
<polygon points="473.1,604.9 485.9,608.6 492.6,602.7 479.8,599.4" fill="#e2e1cb" stroke="#e2e1cb"/>
<polygon points="443.1,594.5 455.1,596.3 461.8,592.9 449.9,591.3" fill="#d8d7c2" stroke="#d8d7c2"/>
<polygon points="455.1,596.3 467.3,597.5 474,594 461.8,592.9" fill="#d8d7c2" stroke="#d8d7c2"/>
<polygon points="467.3,597.5 479.8,599.4 486.5,595.6 474,594" fill="#d9d8c3" stroke="#d9d8c3"/>
<polygon points="479.8,599.4 492.6,602.7 499.2,598.7 486.5,595.6" fill="#dcdbc6" stroke="#dcdbc6"/>
</g>
<g stroke="#24150a" stroke-width="0.75"><ellipse cx="712.6" cy="468.8" rx="4.5" ry="4.1" transform="rotate(33 712.6 468.8)" fill="#633b12"/><ellipse cx="706.0" cy="465.4" rx="4.6" ry="2.3" transform="rotate(39 706.0 465.4)" fill="#8a5826"/><ellipse cx="708.9" cy="499.9" rx="4.6" ry="1.4" transform="rotate(179 708.9 499.9)" fill="#74461a"/><ellipse cx="762.9" cy="511.4" rx="4.6" ry="1.0" transform="rotate(69 762.9 511.4)" fill="#6e4317"/><ellipse cx="743.2" cy="543.0" rx="4.4" ry="3.7" transform="rotate(112 743.2 543.0)" fill="#633b12"/><ellipse cx="748.1" cy="491.7" rx="4.3" ry="2.2" transform="rotate(102 748.1 491.7)" fill="#74461a"/><ellipse cx="723.8" cy="466.2" rx="4.3" ry="3.0" transform="rotate(10 723.8 466.2)" fill="#74461a"/><ellipse cx="736.2" cy="432.5" rx="4.5" ry="4.0" transform="rotate(130 736.2 432.5)" fill="#d09a60"/><ellipse cx="758.4" cy="458.5" rx="5.1" ry="1.5" transform="rotate(15 758.4 458.5)" fill="#8a5826"/><ellipse cx="704.2" cy="535.1" rx="5.0" ry="1.1" transform="rotate(120 704.2 535.1)" fill="#805020"/><ellipse cx="732.7" cy="487.2" rx="4.3" ry="4.3" transform="rotate(34 732.7 487.2)" fill="#633b12"/><ellipse cx="752.7" cy="463.0" rx="4.0" ry="3.4" transform="rotate(74 752.7 463.0)" fill="#8a5826"/><ellipse cx="738.9" cy="471.6" rx="4.2" ry="0.9" transform="rotate(47 738.9 471.6)" fill="#74461a"/><ellipse cx="698.1" cy="450.8" rx="4.5" ry="4.0" transform="rotate(150 698.1 450.8)" fill="#633b12"/><ellipse cx="712.6" cy="460.3" rx="4.5" ry="2.3" transform="rotate(93 712.6 460.3)" fill="#805020"/><ellipse cx="739.9" cy="467.2" rx="4.4" ry="3.1" transform="rotate(110 739.9 467.2)" fill="#7a4c1c"/><ellipse cx="714.7" cy="531.8" rx="4.0" ry="1.2" transform="rotate(102 714.7 531.8)" fill="#5a3510"/><ellipse cx="769.4" cy="466.5" rx="5.0" ry="5.0" transform="rotate(165 769.4 466.5)" fill="#7a4c1c"/><ellipse cx="690.2" cy="472.1" rx="4.5" ry="4.5" transform="rotate(172 690.2 472.1)" fill="#5a3510"/><ellipse cx="771.3" cy="487.6" rx="5.0" ry="4.3" transform="rotate(16 771.3 487.6)" fill="#8a5826"/><ellipse cx="752.0" cy="499.5" rx="4.6" ry="1.4" transform="rotate(69 752.0 499.5)" fill="#805020"/><ellipse cx="714.3" cy="476.9" rx="4.9" ry="4.4" transform="rotate(29 714.3 476.9)" fill="#8a5826"/><ellipse cx="787.1" cy="472.3" rx="5.0" ry="3.5" transform="rotate(120 787.1 472.3)" fill="#7a4c1c"/><ellipse cx="757.6" cy="526.5" rx="5.0" ry="2.5" transform="rotate(145 757.6 526.5)" fill="#8a5826"/><ellipse cx="722.8" cy="464.0" rx="4.9" ry="1.1" transform="rotate(56 722.8 464.0)" fill="#6e4317"/><ellipse cx="767.4" cy="451.1" rx="4.2" ry="4.2" transform="rotate(164 767.4 451.1)" fill="#805020"/><ellipse cx="726.3" cy="489.0" rx="4.6" ry="3.9" transform="rotate(84 726.3 489.0)" fill="#805020"/><ellipse cx="665.1" cy="502.9" rx="4.1" ry="4.1" transform="rotate(62 665.1 502.9)" fill="#805020"/><ellipse cx="760.4" cy="422.6" rx="4.3" ry="4.1" transform="rotate(116 760.4 422.6)" fill="#8a5826"/><ellipse cx="732.2" cy="505.2" rx="5.2" ry="3.7" transform="rotate(6 732.2 505.2)" fill="#74461a"/><ellipse cx="754.6" cy="434.0" rx="5.0" ry="5.0" transform="rotate(112 754.6 434.0)" fill="#8a5826"/><ellipse cx="723.7" cy="444.4" rx="4.1" ry="4.1" transform="rotate(149 723.7 444.4)" fill="#8a5826"/><ellipse cx="703.0" cy="499.0" rx="5.2" ry="5.2" transform="rotate(145 703.0 499.0)" fill="#74461a"/><ellipse cx="733.6" cy="509.3" rx="4.4" ry="3.1" transform="rotate(85 733.6 509.3)" fill="#6e4317"/><ellipse cx="737.5" cy="513.2" rx="4.3" ry="3.8" transform="rotate(46 737.5 513.2)" fill="#7a4c1c"/><ellipse cx="722.5" cy="499.4" rx="4.0" ry="0.9" transform="rotate(176 722.5 499.4)" fill="#6e4317"/><ellipse cx="764.3" cy="481.6" rx="4.6" ry="1.0" transform="rotate(14 764.3 481.6)" fill="#5a3510"/><ellipse cx="677.0" cy="475.4" rx="5.1" ry="3.6" transform="rotate(48 677.0 475.4)" fill="#6e4317"/><ellipse cx="724.4" cy="484.5" rx="4.4" ry="4.0" transform="rotate(125 724.4 484.5)" fill="#74461a"/><ellipse cx="735.6" cy="490.7" rx="4.2" ry="4.0" transform="rotate(29 735.6 490.7)" fill="#633b12"/><ellipse cx="711.8" cy="510.3" rx="5.0" ry="4.3" transform="rotate(67 711.8 510.3)" fill="#805020"/><ellipse cx="705.6" cy="468.9" rx="4.9" ry="1.5" transform="rotate(43 705.6 468.9)" fill="#7a4c1c"/><ellipse cx="691.7" cy="521.6" rx="4.9" ry="1.1" transform="rotate(133 691.7 521.6)" fill="#6e4317"/><ellipse cx="751.5" cy="530.4" rx="5.1" ry="4.3" transform="rotate(20 751.5 530.4)" fill="#8a5826"/><ellipse cx="732.7" cy="416.3" rx="4.9" ry="4.9" transform="rotate(29 732.7 416.3)" fill="#5a3510"/><ellipse cx="766.5" cy="484.7" rx="4.6" ry="3.2" transform="rotate(46 766.5 484.7)" fill="#633b12"/><ellipse cx="725.9" cy="501.6" rx="4.9" ry="4.2" transform="rotate(129 725.9 501.6)" fill="#805020"/><ellipse cx="730.9" cy="491.1" rx="4.9" ry="4.6" transform="rotate(60 730.9 491.1)" fill="#5a3510"/><ellipse cx="730.5" cy="467.5" rx="4.7" ry="4.5" transform="rotate(102 730.5 467.5)" fill="#8a5826"/><ellipse cx="690.1" cy="475.5" rx="4.2" ry="3.5" transform="rotate(144 690.1 475.5)" fill="#7a4c1c"/><ellipse cx="692.9" cy="472.0" rx="4.8" ry="4.1" transform="rotate(42 692.9 472.0)" fill="#7a4c1c"/><ellipse cx="733.4" cy="484.8" rx="4.6" ry="4.4" transform="rotate(48 733.4 484.8)" fill="#805020"/><ellipse cx="780.2" cy="526.1" rx="4.8" ry="2.4" transform="rotate(70 780.2 526.1)" fill="#74461a"/><ellipse cx="750.5" cy="456.1" rx="4.1" ry="4.1" transform="rotate(157 750.5 456.1)" fill="#7a4c1c"/><ellipse cx="716.9" cy="458.2" rx="5.0" ry="5.0" transform="rotate(73 716.9 458.2)" fill="#6e4317"/><ellipse cx="761.1" cy="454.5" rx="5.1" ry="4.9" transform="rotate(67 761.1 454.5)" fill="#805020"/><ellipse cx="717.8" cy="427.3" rx="5.1" ry="4.4" transform="rotate(40 717.8 427.3)" fill="#74461a"/><ellipse cx="692.0" cy="442.8" rx="5.0" ry="2.5" transform="rotate(121 692.0 442.8)" fill="#7a4c1c"/><ellipse cx="659.0" cy="504.6" rx="5.0" ry="4.8" transform="rotate(80 659.0 504.6)" fill="#5a3510"/><ellipse cx="739.7" cy="474.5" rx="5.2" ry="4.4" transform="rotate(158 739.7 474.5)" fill="#8a5826"/><ellipse cx="683.8" cy="480.7" rx="4.4" ry="4.4" transform="rotate(49 683.8 480.7)" fill="#633b12"/><ellipse cx="705.2" cy="460.9" rx="4.8" ry="4.1" transform="rotate(58 705.2 460.9)" fill="#6e4317"/><ellipse cx="774.4" cy="477.5" rx="4.5" ry="3.8" transform="rotate(101 774.4 477.5)" fill="#7a4c1c"/><ellipse cx="668.7" cy="461.6" rx="5.2" ry="4.4" transform="rotate(121 668.7 461.6)" fill="#6e4317"/><ellipse cx="712.3" cy="532.2" rx="4.6" ry="4.2" transform="rotate(178 712.3 532.2)" fill="#8a5826"/><ellipse cx="748.2" cy="489.3" rx="4.5" ry="1.0" transform="rotate(71 748.2 489.3)" fill="#6e4317"/><ellipse cx="702.1" cy="481.6" rx="4.8" ry="4.1" transform="rotate(50 702.1 481.6)" fill="#805020"/><ellipse cx="721.4" cy="445.6" rx="5.3" ry="1.6" transform="rotate(103 721.4 445.6)" fill="#74461a"/><ellipse cx="676.4" cy="514.7" rx="5.1" ry="4.9" transform="rotate(97 676.4 514.7)" fill="#74461a"/><ellipse cx="668.7" cy="477.0" rx="4.5" ry="1.0" transform="rotate(56 668.7 477.0)" fill="#633b12"/><ellipse cx="741.9" cy="443.6" rx="5.2" ry="5.2" transform="rotate(173 741.9 443.6)" fill="#6e4317"/><ellipse cx="723.9" cy="420.0" rx="4.3" ry="3.9" transform="rotate(143 723.9 420.0)" fill="#74461a"/><ellipse cx="735.6" cy="486.1" rx="4.4" ry="1.0" transform="rotate(149 735.6 486.1)" fill="#5a3510"/><ellipse cx="696.7" cy="493.3" rx="5.0" ry="1.5" transform="rotate(72 696.7 493.3)" fill="#74461a"/><ellipse cx="713.3" cy="475.6" rx="5.2" ry="5.2" transform="rotate(2 713.3 475.6)" fill="#7a4c1c"/><ellipse cx="745.2" cy="451.4" rx="4.5" ry="3.2" transform="rotate(91 745.2 451.4)" fill="#805020"/><ellipse cx="761.7" cy="466.0" rx="4.5" ry="1.3" transform="rotate(64 761.7 466.0)" fill="#805020"/><ellipse cx="701.1" cy="503.7" rx="4.8" ry="4.8" transform="rotate(48 701.1 503.7)" fill="#7a4c1c"/><ellipse cx="774.3" cy="468.7" rx="4.3" ry="4.1" transform="rotate(98 774.3 468.7)" fill="#74461a"/><ellipse cx="706.3" cy="424.4" rx="4.5" ry="4.2" transform="rotate(26 706.3 424.4)" fill="#805020"/><ellipse cx="752.1" cy="509.1" rx="4.0" ry="2.0" transform="rotate(90 752.1 509.1)" fill="#8a5826"/><ellipse cx="761.9" cy="427.0" rx="5.2" ry="4.7" transform="rotate(4 761.9 427.0)" fill="#7a4c1c"/><ellipse cx="713.3" cy="441.2" rx="5.0" ry="5.0" transform="rotate(104 713.3 441.2)" fill="#805020"/><ellipse cx="734.3" cy="512.0" rx="5.3" ry="4.7" transform="rotate(90 734.3 512.0)" fill="#5a3510"/><ellipse cx="750.0" cy="495.1" rx="4.2" ry="3.6" transform="rotate(13 750.0 495.1)" fill="#8a5826"/><ellipse cx="712.0" cy="486.5" rx="4.4" ry="4.2" transform="rotate(140 712.0 486.5)" fill="#633b12"/><ellipse cx="732.9" cy="465.8" rx="4.2" ry="2.1" transform="rotate(164 732.9 465.8)" fill="#6e4317"/><ellipse cx="700.5" cy="452.2" rx="4.8" ry="1.4" transform="rotate(154 700.5 452.2)" fill="#74461a"/><ellipse cx="788.1" cy="470.7" rx="5.3" ry="5.3" transform="rotate(22 788.1 470.7)" fill="#74461a"/><ellipse cx="702.4" cy="455.4" rx="4.6" ry="1.4" transform="rotate(75 702.4 455.4)" fill="#8a5826"/><ellipse cx="679.4" cy="454.7" rx="4.5" ry="1.0" transform="rotate(103 679.4 454.7)" fill="#633b12"/><ellipse cx="735.5" cy="500.8" rx="4.7" ry="1.4" transform="rotate(80 735.5 500.8)" fill="#633b12"/><ellipse cx="775.6" cy="456.6" rx="4.1" ry="2.8" transform="rotate(27 775.6 456.6)" fill="#8a5826"/><ellipse cx="693.0" cy="519.0" rx="4.3" ry="3.0" transform="rotate(34 693.0 519.0)" fill="#8a5826"/><ellipse cx="668.7" cy="471.2" rx="4.5" ry="4.3" transform="rotate(136 668.7 471.2)" fill="#8a5826"/><ellipse cx="719.5" cy="441.3" rx="4.2" ry="4.0" transform="rotate(149 719.5 441.3)" fill="#5a3510"/><ellipse cx="677.7" cy="473.2" rx="4.3" ry="3.7" transform="rotate(12 677.7 473.2)" fill="#5a3510"/><ellipse cx="729.2" cy="483.9" rx="4.4" ry="1.0" transform="rotate(145 729.2 483.9)" fill="#8a5826"/><ellipse cx="742.3" cy="516.3" rx="4.0" ry="2.0" transform="rotate(35 742.3 516.3)" fill="#805020"/><ellipse cx="736.6" cy="447.2" rx="4.3" ry="4.3" transform="rotate(100 736.6 447.2)" fill="#5a3510"/><ellipse cx="727.3" cy="471.8" rx="5.1" ry="5.1" transform="rotate(144 727.3 471.8)" fill="#5a3510"/><ellipse cx="723.2" cy="542.3" rx="5.1" ry="5.1" transform="rotate(143 723.2 542.3)" fill="#7a4c1c"/><ellipse cx="708.6" cy="471.0" rx="4.2" ry="3.0" transform="rotate(7 708.6 471.0)" fill="#805020"/><ellipse cx="729.9" cy="532.0" rx="4.3" ry="3.6" transform="rotate(21 729.9 532.0)" fill="#7a4c1c"/><ellipse cx="708.8" cy="475.9" rx="4.0" ry="1.2" transform="rotate(162 708.8 475.9)" fill="#6e4317"/><ellipse cx="721.6" cy="510.0" rx="4.8" ry="1.1" transform="rotate(113 721.6 510.0)" fill="#74461a"/><ellipse cx="734.4" cy="501.9" rx="4.7" ry="2.4" transform="rotate(68 734.4 501.9)" fill="#5a3510"/><ellipse cx="680.8" cy="476.8" rx="4.4" ry="3.7" transform="rotate(118 680.8 476.8)" fill="#7a4c1c"/><ellipse cx="738.4" cy="438.4" rx="4.2" ry="4.0" transform="rotate(31 738.4 438.4)" fill="#633b12"/><ellipse cx="741.4" cy="459.6" rx="4.2" ry="4.2" transform="rotate(47 741.4 459.6)" fill="#805020"/><ellipse cx="755.7" cy="440.4" rx="4.5" ry="4.0" transform="rotate(1 755.7 440.4)" fill="#6e4317"/><ellipse cx="757.8" cy="481.1" rx="5.0" ry="3.5" transform="rotate(157 757.8 481.1)" fill="#5a3510"/><ellipse cx="717.9" cy="479.6" rx="4.2" ry="3.6" transform="rotate(76 717.9 479.6)" fill="#5a3510"/><ellipse cx="730.4" cy="461.9" rx="4.4" ry="4.1" transform="rotate(91 730.4 461.9)" fill="#6e4317"/><ellipse cx="695.2" cy="461.5" rx="4.9" ry="4.4" transform="rotate(89 695.2 461.5)" fill="#6e4317"/><ellipse cx="778.1" cy="512.4" rx="5.1" ry="4.4" transform="rotate(171 778.1 512.4)" fill="#6e4317"/><ellipse cx="709.9" cy="527.6" rx="4.6" ry="1.4" transform="rotate(70 709.9 527.6)" fill="#74461a"/><ellipse cx="781.9" cy="438.8" rx="4.3" ry="4.3" transform="rotate(66 781.9 438.8)" fill="#805020"/><ellipse cx="760.0" cy="474.8" rx="4.6" ry="3.9" transform="rotate(53 760.0 474.8)" fill="#b57a44"/><ellipse cx="707.5" cy="499.9" rx="4.0" ry="2.8" transform="rotate(24 707.5 499.9)" fill="#5a3510"/><ellipse cx="708.6" cy="424.1" rx="4.5" ry="3.2" transform="rotate(18 708.6 424.1)" fill="#5a3510"/><ellipse cx="782.9" cy="518.7" rx="4.1" ry="4.1" transform="rotate(82 782.9 518.7)" fill="#7a4c1c"/><ellipse cx="742.5" cy="475.7" rx="4.5" ry="3.1" transform="rotate(5 742.5 475.7)" fill="#633b12"/><ellipse cx="689.5" cy="463.8" rx="4.4" ry="4.4" transform="rotate(120 689.5 463.8)" fill="#7a4c1c"/><ellipse cx="714.6" cy="436.3" rx="4.5" ry="1.3" transform="rotate(91 714.6 436.3)" fill="#8a5826"/><ellipse cx="691.4" cy="464.2" rx="4.8" ry="4.3" transform="rotate(176 691.4 464.2)" fill="#5a3510"/><ellipse cx="739.6" cy="472.3" rx="5.1" ry="1.1" transform="rotate(126 739.6 472.3)" fill="#6e4317"/><ellipse cx="719.8" cy="454.7" rx="4.6" ry="2.3" transform="rotate(142 719.8 454.7)" fill="#7a4c1c"/><ellipse cx="747.3" cy="437.4" rx="4.8" ry="1.4" transform="rotate(67 747.3 437.4)" fill="#7a4c1c"/><ellipse cx="695.5" cy="530.5" rx="4.1" ry="4.1" transform="rotate(1 695.5 530.5)" fill="#74461a"/><ellipse cx="740.6" cy="508.2" rx="5.0" ry="4.3" transform="rotate(119 740.6 508.2)" fill="#74461a"/><ellipse cx="753.8" cy="441.4" rx="5.1" ry="2.6" transform="rotate(84 753.8 441.4)" fill="#6e4317"/><ellipse cx="704.5" cy="503.2" rx="4.5" ry="4.5" transform="rotate(20 704.5 503.2)" fill="#8a5826"/><ellipse cx="744.2" cy="481.2" rx="4.7" ry="4.7" transform="rotate(140 744.2 481.2)" fill="#6e4317"/><ellipse cx="752.1" cy="494.9" rx="4.7" ry="4.7" transform="rotate(12 752.1 494.9)" fill="#7a4c1c"/><ellipse cx="743.0" cy="523.0" rx="4.1" ry="0.9" transform="rotate(56 743.0 523.0)" fill="#805020"/><ellipse cx="700.5" cy="486.3" rx="4.3" ry="2.2" transform="rotate(84 700.5 486.3)" fill="#7a4c1c"/><ellipse cx="730.9" cy="466.4" rx="4.2" ry="4.2" transform="rotate(83 730.9 466.4)" fill="#5a3510"/><ellipse cx="692.0" cy="437.0" rx="5.1" ry="1.1" transform="rotate(28 692.0 437.0)" fill="#633b12"/><ellipse cx="770.1" cy="437.3" rx="4.5" ry="4.5" transform="rotate(74 770.1 437.3)" fill="#6e4317"/><ellipse cx="764.4" cy="481.6" rx="5.0" ry="5.0" transform="rotate(132 764.4 481.6)" fill="#74461a"/><ellipse cx="775.8" cy="468.9" rx="4.4" ry="4.4" transform="rotate(73 775.8 468.9)" fill="#8a5826"/><ellipse cx="686.8" cy="470.0" rx="5.3" ry="5.3" transform="rotate(70 686.8 470.0)" fill="#805020"/><ellipse cx="757.5" cy="461.8" rx="4.3" ry="4.3" transform="rotate(118 757.5 461.8)" fill="#8a5826"/><ellipse cx="795.9" cy="476.1" rx="4.6" ry="1.0" transform="rotate(170 795.9 476.1)" fill="#633b12"/><ellipse cx="725.1" cy="501.7" rx="5.2" ry="5.2" transform="rotate(71 725.1 501.7)" fill="#805020"/><ellipse cx="738.2" cy="493.9" rx="4.8" ry="4.3" transform="rotate(66 738.2 493.9)" fill="#8a5826"/><ellipse cx="761.2" cy="532.7" rx="4.5" ry="2.3" transform="rotate(60 761.2 532.7)" fill="#6e4317"/><ellipse cx="748.6" cy="481.5" rx="5.1" ry="5.1" transform="rotate(29 748.6 481.5)" fill="#8a5826"/><ellipse cx="751.1" cy="474.7" rx="4.5" ry="4.1" transform="rotate(122 751.1 474.7)" fill="#74461a"/><ellipse cx="751.6" cy="506.2" rx="4.4" ry="1.3" transform="rotate(171 751.6 506.2)" fill="#633b12"/><ellipse cx="738.0" cy="448.7" rx="4.6" ry="4.6" transform="rotate(67 738.0 448.7)" fill="#633b12"/><ellipse cx="700.3" cy="464.2" rx="4.0" ry="2.8" transform="rotate(173 700.3 464.2)" fill="#805020"/><ellipse cx="699.4" cy="447.3" rx="4.9" ry="4.2" transform="rotate(38 699.4 447.3)" fill="#5a3510"/><ellipse cx="737.0" cy="504.3" rx="4.4" ry="1.3" transform="rotate(21 737.0 504.3)" fill="#5a3510"/><ellipse cx="752.8" cy="500.0" rx="4.1" ry="4.1" transform="rotate(38 752.8 500.0)" fill="#633b12"/><ellipse cx="786.3" cy="467.9" rx="5.0" ry="2.5" transform="rotate(116 786.3 467.9)" fill="#805020"/><ellipse cx="700.1" cy="506.0" rx="4.4" ry="4.4" transform="rotate(15 700.1 506.0)" fill="#7a4c1c"/><ellipse cx="722.5" cy="469.7" rx="4.4" ry="3.1" transform="rotate(27 722.5 469.7)" fill="#7a4c1c"/><ellipse cx="732.5" cy="459.1" rx="4.8" ry="4.8" transform="rotate(180 732.5 459.1)" fill="#8a5826"/><ellipse cx="773.9" cy="485.4" rx="4.8" ry="1.1" transform="rotate(25 773.9 485.4)" fill="#805020"/><ellipse cx="763.9" cy="503.1" rx="4.0" ry="3.6" transform="rotate(104 763.9 503.1)" fill="#6e4317"/><ellipse cx="744.1" cy="456.4" rx="4.6" ry="3.2" transform="rotate(122 744.1 456.4)" fill="#5a3510"/><ellipse cx="763.8" cy="469.1" rx="5.0" ry="1.5" transform="rotate(123 763.8 469.1)" fill="#7a4c1c"/><ellipse cx="756.3" cy="482.5" rx="4.6" ry="2.3" transform="rotate(144 756.3 482.5)" fill="#8a5826"/><ellipse cx="732.0" cy="504.6" rx="5.0" ry="5.0" transform="rotate(150 732.0 504.6)" fill="#5a3510"/><ellipse cx="789.6" cy="461.8" rx="5.1" ry="5.1" transform="rotate(127 789.6 461.8)" fill="#8a5826"/><ellipse cx="763.3" cy="465.8" rx="5.2" ry="1.2" transform="rotate(20 763.3 465.8)" fill="#5a3510"/><ellipse cx="732.9" cy="471.9" rx="4.5" ry="1.0" transform="rotate(25 732.9 471.9)" fill="#6e4317"/><ellipse cx="714.7" cy="483.0" rx="4.4" ry="2.2" transform="rotate(6 714.7 483.0)" fill="#8a5826"/><ellipse cx="670.7" cy="460.9" rx="4.3" ry="1.3" transform="rotate(89 670.7 460.9)" fill="#74461a"/><ellipse cx="736.7" cy="458.4" rx="4.7" ry="1.4" transform="rotate(19 736.7 458.4)" fill="#74461a"/><ellipse cx="750.2" cy="442.8" rx="5.0" ry="3.5" transform="rotate(36 750.2 442.8)" fill="#805020"/><ellipse cx="757.2" cy="460.1" rx="4.8" ry="2.4" transform="rotate(106 757.2 460.1)" fill="#633b12"/><ellipse cx="720.9" cy="482.1" rx="4.6" ry="1.4" transform="rotate(64 720.9 482.1)" fill="#633b12"/><ellipse cx="735.3" cy="502.5" rx="4.9" ry="2.5" transform="rotate(59 735.3 502.5)" fill="#74461a"/><ellipse cx="729.3" cy="444.5" rx="4.8" ry="3.4" transform="rotate(131 729.3 444.5)" fill="#633b12"/><ellipse cx="716.2" cy="501.5" rx="5.2" ry="4.4" transform="rotate(68 716.2 501.5)" fill="#74461a"/><ellipse cx="666.2" cy="475.5" rx="5.2" ry="5.2" transform="rotate(101 666.2 475.5)" fill="#8a5826"/><ellipse cx="718.7" cy="481.1" rx="4.6" ry="1.4" transform="rotate(21 718.7 481.1)" fill="#7a4c1c"/><ellipse cx="715.4" cy="433.8" rx="4.1" ry="3.5" transform="rotate(90 715.4 433.8)" fill="#7a4c1c"/><ellipse cx="709.2" cy="488.2" rx="4.9" ry="4.7" transform="rotate(99 709.2 488.2)" fill="#805020"/><ellipse cx="726.5" cy="456.9" rx="4.6" ry="3.2" transform="rotate(145 726.5 456.9)" fill="#6e4317"/><ellipse cx="735.5" cy="451.6" rx="4.2" ry="3.8" transform="rotate(155 735.5 451.6)" fill="#74461a"/><ellipse cx="751.3" cy="505.0" rx="4.2" ry="3.7" transform="rotate(105 751.3 505.0)" fill="#805020"/><ellipse cx="691.5" cy="465.5" rx="4.5" ry="3.8" transform="rotate(109 691.5 465.5)" fill="#5a3510"/><ellipse cx="702.3" cy="441.8" rx="4.3" ry="3.9" transform="rotate(64 702.3 441.8)" fill="#7a4c1c"/><ellipse cx="693.4" cy="455.4" rx="4.3" ry="3.7" transform="rotate(52 693.4 455.4)" fill="#633b12"/><ellipse cx="708.3" cy="512.8" rx="4.6" ry="3.9" transform="rotate(5 708.3 512.8)" fill="#5a3510"/><ellipse cx="741.7" cy="513.0" rx="4.7" ry="2.3" transform="rotate(29 741.7 513.0)" fill="#5a3510"/><ellipse cx="673.8" cy="508.9" rx="4.2" ry="4.2" transform="rotate(98 673.8 508.9)" fill="#74461a"/><ellipse cx="753.2" cy="489.6" rx="5.0" ry="4.2" transform="rotate(55 753.2 489.6)" fill="#8a5826"/><ellipse cx="715.0" cy="417.2" rx="4.5" ry="1.0" transform="rotate(42 715.0 417.2)" fill="#8a5826"/><ellipse cx="733.3" cy="437.8" rx="4.4" ry="4.0" transform="rotate(170 733.3 437.8)" fill="#633b12"/><ellipse cx="781.8" cy="466.2" rx="4.9" ry="4.5" transform="rotate(14 781.8 466.2)" fill="#633b12"/><ellipse cx="789.1" cy="479.5" rx="5.2" ry="5.2" transform="rotate(54 789.1 479.5)" fill="#6e4317"/><ellipse cx="711.4" cy="493.5" rx="4.7" ry="4.7" transform="rotate(35 711.4 493.5)" fill="#805020"/><ellipse cx="740.7" cy="510.2" rx="5.1" ry="5.1" transform="rotate(171 740.7 510.2)" fill="#74461a"/><ellipse cx="710.2" cy="462.8" rx="4.0" ry="3.8" transform="rotate(177 710.2 462.8)" fill="#74461a"/><ellipse cx="695.1" cy="520.5" rx="5.3" ry="1.2" transform="rotate(98 695.1 520.5)" fill="#8a5826"/><ellipse cx="753.9" cy="449.0" rx="4.2" ry="0.9" transform="rotate(125 753.9 449.0)" fill="#633b12"/><ellipse cx="694.5" cy="509.8" rx="4.3" ry="4.3" transform="rotate(75 694.5 509.8)" fill="#8a5826"/><ellipse cx="769.1" cy="470.0" rx="4.9" ry="4.9" transform="rotate(100 769.1 470.0)" fill="#633b12"/><ellipse cx="729.7" cy="533.6" rx="5.2" ry="4.4" transform="rotate(60 729.7 533.6)" fill="#74461a"/><ellipse cx="728.0" cy="525.1" rx="4.2" ry="0.9" transform="rotate(171 728.0 525.1)" fill="#7a4c1c"/><ellipse cx="775.4" cy="472.9" rx="5.2" ry="5.2" transform="rotate(110 775.4 472.9)" fill="#5a3510"/><ellipse cx="691.0" cy="495.6" rx="4.9" ry="3.4" transform="rotate(168 691.0 495.6)" fill="#6e4317"/><ellipse cx="721.3" cy="549.9" rx="4.2" ry="4.2" transform="rotate(20 721.3 549.9)" fill="#805020"/><ellipse cx="722.4" cy="417.1" rx="5.2" ry="5.2" transform="rotate(75 722.4 417.1)" fill="#7a4c1c"/><ellipse cx="744.9" cy="496.3" rx="4.9" ry="1.1" transform="rotate(152 744.9 496.3)" fill="#5a3510"/><ellipse cx="733.2" cy="478.1" rx="5.1" ry="5.1" transform="rotate(67 733.2 478.1)" fill="#5a3510"/><ellipse cx="702.7" cy="462.9" rx="4.5" ry="4.1" transform="rotate(73 702.7 462.9)" fill="#805020"/><ellipse cx="730.3" cy="448.9" rx="4.5" ry="4.1" transform="rotate(47 730.3 448.9)" fill="#633b12"/><ellipse cx="729.5" cy="444.8" rx="4.9" ry="1.1" transform="rotate(121 729.5 444.8)" fill="#8a5826"/><ellipse cx="763.1" cy="474.8" rx="5.2" ry="2.6" transform="rotate(32 763.1 474.8)" fill="#7a4c1c"/><ellipse cx="735.6" cy="493.6" rx="4.6" ry="4.1" transform="rotate(141 735.6 493.6)" fill="#805020"/><ellipse cx="669.8" cy="492.7" rx="4.9" ry="4.1" transform="rotate(107 669.8 492.7)" fill="#633b12"/><ellipse cx="745.4" cy="513.7" rx="5.1" ry="4.9" transform="rotate(56 745.4 513.7)" fill="#6e4317"/><ellipse cx="665.6" cy="502.7" rx="4.4" ry="4.0" transform="rotate(121 665.6 502.7)" fill="#5a3510"/><ellipse cx="746.1" cy="530.4" rx="4.1" ry="0.9" transform="rotate(44 746.1 530.4)" fill="#7a4c1c"/><ellipse cx="684.0" cy="522.8" rx="4.7" ry="4.5" transform="rotate(67 684.0 522.8)" fill="#805020"/><ellipse cx="733.7" cy="482.9" rx="4.1" ry="2.0" transform="rotate(180 733.7 482.9)" fill="#8a5826"/><ellipse cx="760.8" cy="493.4" rx="5.0" ry="3.5" transform="rotate(179 760.8 493.4)" fill="#7a4c1c"/><ellipse cx="716.8" cy="508.4" rx="4.4" ry="4.4" transform="rotate(86 716.8 508.4)" fill="#5a3510"/><ellipse cx="730.9" cy="532.8" rx="4.1" ry="4.1" transform="rotate(68 730.9 532.8)" fill="#6e4317"/><ellipse cx="686.7" cy="510.6" rx="4.2" ry="4.2" transform="rotate(37 686.7 510.6)" fill="#8a5826"/><ellipse cx="746.6" cy="492.1" rx="5.2" ry="3.6" transform="rotate(25 746.6 492.1)" fill="#7a4c1c"/><ellipse cx="755.0" cy="445.5" rx="4.9" ry="4.9" transform="rotate(35 755.0 445.5)" fill="#7a4c1c"/><ellipse cx="749.2" cy="434.3" rx="4.3" ry="1.3" transform="rotate(66 749.2 434.3)" fill="#74461a"/><ellipse cx="723.5" cy="454.0" rx="4.4" ry="4.4" transform="rotate(177 723.5 454.0)" fill="#74461a"/><ellipse cx="759.8" cy="520.8" rx="4.1" ry="3.5" transform="rotate(58 759.8 520.8)" fill="#633b12"/><ellipse cx="715.0" cy="506.2" rx="4.7" ry="1.0" transform="rotate(147 715.0 506.2)" fill="#8a5826"/><ellipse cx="665.1" cy="448.2" rx="4.7" ry="4.7" transform="rotate(15 665.1 448.2)" fill="#d09a60"/><ellipse cx="729.5" cy="457.9" rx="5.3" ry="1.2" transform="rotate(33 729.5 457.9)" fill="#805020"/><ellipse cx="691.9" cy="470.5" rx="4.1" ry="1.2" transform="rotate(143 691.9 470.5)" fill="#633b12"/><ellipse cx="757.8" cy="497.2" rx="4.8" ry="1.4" transform="rotate(84 757.8 497.2)" fill="#7a4c1c"/><ellipse cx="778.6" cy="444.9" rx="4.6" ry="4.6" transform="rotate(79 778.6 444.9)" fill="#633b12"/><ellipse cx="671.8" cy="473.3" rx="4.1" ry="3.9" transform="rotate(8 671.8 473.3)" fill="#8a5826"/><ellipse cx="699.1" cy="447.1" rx="4.3" ry="4.3" transform="rotate(4 699.1 447.1)" fill="#8a5826"/><ellipse cx="680.4" cy="464.0" rx="4.6" ry="4.6" transform="rotate(84 680.4 464.0)" fill="#7a4c1c"/><ellipse cx="721.4" cy="517.2" rx="4.2" ry="4.2" transform="rotate(61 721.4 517.2)" fill="#5a3510"/><ellipse cx="722.2" cy="491.7" rx="4.5" ry="1.3" transform="rotate(45 722.2 491.7)" fill="#74461a"/><ellipse cx="684.7" cy="435.0" rx="4.5" ry="2.2" transform="rotate(77 684.7 435.0)" fill="#633b12"/><ellipse cx="726.3" cy="511.2" rx="4.4" ry="1.3" transform="rotate(42 726.3 511.2)" fill="#633b12"/><ellipse cx="769.7" cy="505.4" rx="5.1" ry="4.9" transform="rotate(84 769.7 505.4)" fill="#633b12"/><ellipse cx="725.8" cy="484.1" rx="4.4" ry="4.2" transform="rotate(168 725.8 484.1)" fill="#805020"/><ellipse cx="685.7" cy="471.9" rx="4.8" ry="4.5" transform="rotate(126 685.7 471.9)" fill="#805020"/><ellipse cx="739.7" cy="447.1" rx="4.1" ry="4.1" transform="rotate(62 739.7 447.1)" fill="#633b12"/><ellipse cx="685.6" cy="455.9" rx="5.0" ry="1.1" transform="rotate(117 685.6 455.9)" fill="#a87040"/><ellipse cx="714.7" cy="491.6" rx="4.5" ry="1.4" transform="rotate(103 714.7 491.6)" fill="#74461a"/><ellipse cx="708.6" cy="438.7" rx="4.1" ry="2.9" transform="rotate(90 708.6 438.7)" fill="#8a5826"/><ellipse cx="724.6" cy="513.4" rx="4.2" ry="4.2" transform="rotate(50 724.6 513.4)" fill="#8a5826"/><ellipse cx="739.6" cy="525.1" rx="4.4" ry="4.4" transform="rotate(42 739.6 525.1)" fill="#5a3510"/><ellipse cx="679.1" cy="446.0" rx="4.1" ry="3.6" transform="rotate(163 679.1 446.0)" fill="#633b12"/><ellipse cx="705.2" cy="511.1" rx="4.5" ry="4.5" transform="rotate(170 705.2 511.1)" fill="#8a5826"/><ellipse cx="702.6" cy="491.0" rx="4.2" ry="2.9" transform="rotate(151 702.6 491.0)" fill="#633b12"/><ellipse cx="733.9" cy="513.3" rx="5.2" ry="4.7" transform="rotate(124 733.9 513.3)" fill="#8a5826"/><ellipse cx="700.0" cy="538.6" rx="5.3" ry="5.0" transform="rotate(123 700.0 538.6)" fill="#5a3510"/><ellipse cx="680.8" cy="471.3" rx="4.4" ry="3.7" transform="rotate(144 680.8 471.3)" fill="#7a4c1c"/><ellipse cx="686.0" cy="467.8" rx="4.6" ry="4.2" transform="rotate(8 686.0 467.8)" fill="#d09a60"/><ellipse cx="729.2" cy="489.6" rx="4.6" ry="2.3" transform="rotate(168 729.2 489.6)" fill="#74461a"/><ellipse cx="723.9" cy="414.1" rx="5.3" ry="5.0" transform="rotate(20 723.9 414.1)" fill="#805020"/><ellipse cx="695.9" cy="508.8" rx="4.4" ry="4.2" transform="rotate(110 695.9 508.8)" fill="#5a3510"/><ellipse cx="721.5" cy="467.3" rx="5.3" ry="5.0" transform="rotate(135 721.5 467.3)" fill="#74461a"/><ellipse cx="706.4" cy="517.2" rx="5.1" ry="2.6" transform="rotate(141 706.4 517.2)" fill="#d09a60"/><ellipse cx="675.9" cy="479.1" rx="5.2" ry="1.6" transform="rotate(40 675.9 479.1)" fill="#74461a"/><ellipse cx="699.3" cy="499.5" rx="4.0" ry="3.8" transform="rotate(90 699.3 499.5)" fill="#7a4c1c"/><ellipse cx="749.3" cy="479.1" rx="4.8" ry="4.8" transform="rotate(125 749.3 479.1)" fill="#633b12"/><ellipse cx="704.9" cy="482.3" rx="4.6" ry="4.4" transform="rotate(5 704.9 482.3)" fill="#805020"/><ellipse cx="750.3" cy="462.0" rx="5.2" ry="3.7" transform="rotate(59 750.3 462.0)" fill="#6e4317"/><ellipse cx="671.3" cy="485.1" rx="4.4" ry="3.7" transform="rotate(173 671.3 485.1)" fill="#5a3510"/><ellipse cx="683.7" cy="466.9" rx="4.1" ry="3.7" transform="rotate(94 683.7 466.9)" fill="#8a5826"/><ellipse cx="714.7" cy="467.9" rx="4.1" ry="0.9" transform="rotate(9 714.7 467.9)" fill="#5a3510"/><ellipse cx="747.3" cy="486.0" rx="4.3" ry="3.9" transform="rotate(168 747.3 486.0)" fill="#805020"/><ellipse cx="774.8" cy="479.0" rx="4.4" ry="4.4" transform="rotate(61 774.8 479.0)" fill="#805020"/><ellipse cx="757.6" cy="527.6" rx="5.1" ry="1.1" transform="rotate(75 757.6 527.6)" fill="#8a5826"/><ellipse cx="688.1" cy="483.8" rx="5.0" ry="5.0" transform="rotate(22 688.1 483.8)" fill="#8a5826"/><ellipse cx="742.0" cy="470.9" rx="4.5" ry="1.0" transform="rotate(146 742.0 470.9)" fill="#633b12"/><ellipse cx="761.8" cy="417.4" rx="4.3" ry="1.0" transform="rotate(76 761.8 417.4)" fill="#6e4317"/><ellipse cx="766.6" cy="470.8" rx="4.2" ry="4.2" transform="rotate(111 766.6 470.8)" fill="#7a4c1c"/><ellipse cx="730.1" cy="467.3" rx="4.4" ry="3.0" transform="rotate(48 730.1 467.3)" fill="#5a3510"/><ellipse cx="756.1" cy="461.2" rx="4.9" ry="1.5" transform="rotate(11 756.1 461.2)" fill="#6e4317"/><ellipse cx="684.4" cy="491.8" rx="4.3" ry="3.6" transform="rotate(160 684.4 491.8)" fill="#6e4317"/><ellipse cx="715.0" cy="486.3" rx="4.0" ry="1.2" transform="rotate(125 715.0 486.3)" fill="#8a5826"/><ellipse cx="698.9" cy="506.7" rx="5.3" ry="1.6" transform="rotate(103 698.9 506.7)" fill="#74461a"/><ellipse cx="738.1" cy="486.1" rx="5.1" ry="4.6" transform="rotate(123 738.1 486.1)" fill="#633b12"/><ellipse cx="709.8" cy="471.1" rx="4.1" ry="3.9" transform="rotate(44 709.8 471.1)" fill="#633b12"/><ellipse cx="737.5" cy="445.3" rx="4.0" ry="4.0" transform="rotate(134 737.5 445.3)" fill="#74461a"/><ellipse cx="734.1" cy="496.9" rx="4.1" ry="3.7" transform="rotate(153 734.1 496.9)" fill="#8a5826"/><ellipse cx="752.4" cy="502.7" rx="5.1" ry="5.1" transform="rotate(60 752.4 502.7)" fill="#6e4317"/><ellipse cx="683.2" cy="509.8" rx="5.1" ry="1.1" transform="rotate(104 683.2 509.8)" fill="#74461a"/><ellipse cx="721.6" cy="520.8" rx="5.2" ry="4.4" transform="rotate(6 721.6 520.8)" fill="#6e4317"/><ellipse cx="714.8" cy="436.3" rx="4.6" ry="3.2" transform="rotate(119 714.8 436.3)" fill="#7a4c1c"/><ellipse cx="738.0" cy="457.0" rx="4.4" ry="4.4" transform="rotate(74 738.0 457.0)" fill="#805020"/><ellipse cx="749.7" cy="440.1" rx="4.1" ry="1.2" transform="rotate(113 749.7 440.1)" fill="#633b12"/><ellipse cx="714.7" cy="452.7" rx="4.5" ry="1.0" transform="rotate(176 714.7 452.7)" fill="#5a3510"/><ellipse cx="749.8" cy="435.6" rx="5.2" ry="5.2" transform="rotate(133 749.8 435.6)" fill="#805020"/><ellipse cx="710.9" cy="458.5" rx="4.8" ry="1.4" transform="rotate(78 710.9 458.5)" fill="#74461a"/><ellipse cx="683.7" cy="508.7" rx="4.8" ry="4.8" transform="rotate(97 683.7 508.7)" fill="#74461a"/><ellipse cx="716.3" cy="426.5" rx="4.9" ry="4.9" transform="rotate(151 716.3 426.5)" fill="#805020"/><ellipse cx="721.2" cy="458.2" rx="4.3" ry="2.2" transform="rotate(40 721.2 458.2)" fill="#8a5826"/><ellipse cx="721.5" cy="475.7" rx="5.2" ry="2.6" transform="rotate(11 721.5 475.7)" fill="#633b12"/><ellipse cx="736.7" cy="535.9" rx="4.3" ry="2.1" transform="rotate(12 736.7 535.9)" fill="#74461a"/><ellipse cx="701.9" cy="511.0" rx="4.4" ry="3.1" transform="rotate(104 701.9 511.0)" fill="#805020"/><ellipse cx="712.1" cy="415.9" rx="4.9" ry="2.4" transform="rotate(98 712.1 415.9)" fill="#6e4317"/><ellipse cx="736.1" cy="513.3" rx="5.0" ry="3.5" transform="rotate(146 736.1 513.3)" fill="#633b12"/><ellipse cx="760.1" cy="447.8" rx="4.4" ry="3.0" transform="rotate(95 760.1 447.8)" fill="#8a5826"/><ellipse cx="701.5" cy="442.9" rx="5.2" ry="1.6" transform="rotate(119 701.5 442.9)" fill="#805020"/><ellipse cx="769.0" cy="500.2" rx="5.3" ry="5.0" transform="rotate(18 769.0 500.2)" fill="#6e4317"/><ellipse cx="706.1" cy="416.5" rx="4.7" ry="1.4" transform="rotate(103 706.1 416.5)" fill="#805020"/><ellipse cx="678.7" cy="496.7" rx="5.0" ry="5.0" transform="rotate(2 678.7 496.7)" fill="#633b12"/><ellipse cx="760.1" cy="526.3" rx="4.9" ry="4.4" transform="rotate(68 760.1 526.3)" fill="#805020"/><ellipse cx="684.3" cy="442.1" rx="4.8" ry="1.0" transform="rotate(4 684.3 442.1)" fill="#805020"/><ellipse cx="701.6" cy="508.0" rx="4.5" ry="3.8" transform="rotate(113 701.6 508.0)" fill="#5a3510"/><ellipse cx="738.1" cy="470.9" rx="4.3" ry="4.1" transform="rotate(5 738.1 470.9)" fill="#6e4317"/><ellipse cx="759.2" cy="514.8" rx="4.0" ry="3.6" transform="rotate(48 759.2 514.8)" fill="#8a5826"/><ellipse cx="733.1" cy="457.0" rx="4.8" ry="4.0" transform="rotate(155 733.1 457.0)" fill="#7a4c1c"/><ellipse cx="719.6" cy="474.0" rx="4.5" ry="3.1" transform="rotate(61 719.6 474.0)" fill="#7a4c1c"/><ellipse cx="763.3" cy="430.0" rx="4.9" ry="4.9" transform="rotate(80 763.3 430.0)" fill="#5a3510"/><ellipse cx="702.6" cy="431.0" rx="4.4" ry="1.0" transform="rotate(178 702.6 431.0)" fill="#7a4c1c"/><ellipse cx="674.3" cy="478.1" rx="4.8" ry="3.3" transform="rotate(27 674.3 478.1)" fill="#805020"/><ellipse cx="736.9" cy="495.6" rx="5.2" ry="4.9" transform="rotate(149 736.9 495.6)" fill="#633b12"/><ellipse cx="760.8" cy="523.2" rx="4.2" ry="3.0" transform="rotate(109 760.8 523.2)" fill="#805020"/><ellipse cx="713.4" cy="509.8" rx="5.1" ry="4.6" transform="rotate(86 713.4 509.8)" fill="#6e4317"/><ellipse cx="714.5" cy="502.7" rx="4.9" ry="4.9" transform="rotate(153 714.5 502.7)" fill="#74461a"/><ellipse cx="696.6" cy="483.4" rx="5.1" ry="1.1" transform="rotate(169 696.6 483.4)" fill="#6e4317"/><ellipse cx="763.3" cy="486.1" rx="4.1" ry="2.8" transform="rotate(137 763.3 486.1)" fill="#8a5826"/><ellipse cx="781.7" cy="436.6" rx="5.1" ry="5.1" transform="rotate(143 781.7 436.6)" fill="#b57a44"/><ellipse cx="695.4" cy="442.6" rx="4.7" ry="4.7" transform="rotate(120 695.4 442.6)" fill="#74461a"/><ellipse cx="749.4" cy="492.4" rx="4.1" ry="3.5" transform="rotate(40 749.4 492.4)" fill="#6e4317"/><ellipse cx="786.3" cy="443.7" rx="4.5" ry="4.0" transform="rotate(166 786.3 443.7)" fill="#805020"/><ellipse cx="714.4" cy="451.3" rx="4.0" ry="3.4" transform="rotate(75 714.4 451.3)" fill="#7a4c1c"/><ellipse cx="737.7" cy="482.0" rx="4.1" ry="4.1" transform="rotate(84 737.7 482.0)" fill="#633b12"/><ellipse cx="750.5" cy="527.4" rx="4.7" ry="1.4" transform="rotate(125 750.5 527.4)" fill="#633b12"/><ellipse cx="752.8" cy="529.6" rx="5.1" ry="3.5" transform="rotate(91 752.8 529.6)" fill="#8a5826"/><ellipse cx="734.6" cy="444.8" rx="4.7" ry="4.3" transform="rotate(51 734.6 444.8)" fill="#805020"/><ellipse cx="710.5" cy="452.3" rx="4.0" ry="4.0" transform="rotate(112 710.5 452.3)" fill="#805020"/><ellipse cx="707.0" cy="414.2" rx="4.5" ry="1.0" transform="rotate(123 707.0 414.2)" fill="#74461a"/><ellipse cx="746.6" cy="511.4" rx="5.2" ry="5.2" transform="rotate(72 746.6 511.4)" fill="#633b12"/><ellipse cx="725.9" cy="468.1" rx="4.8" ry="4.3" transform="rotate(13 725.9 468.1)" fill="#7a4c1c"/><ellipse cx="753.9" cy="435.1" rx="4.4" ry="2.2" transform="rotate(93 753.9 435.1)" fill="#805020"/><ellipse cx="773.9" cy="441.0" rx="4.4" ry="3.1" transform="rotate(178 773.9 441.0)" fill="#6e4317"/><ellipse cx="728.2" cy="465.6" rx="4.1" ry="3.9" transform="rotate(144 728.2 465.6)" fill="#74461a"/><ellipse cx="701.7" cy="498.0" rx="4.1" ry="0.9" transform="rotate(178 701.7 498.0)" fill="#8a5826"/><ellipse cx="751.8" cy="492.4" rx="4.7" ry="4.7" transform="rotate(105 751.8 492.4)" fill="#7a4c1c"/><ellipse cx="706.3" cy="475.3" rx="5.0" ry="4.5" transform="rotate(121 706.3 475.3)" fill="#7a4c1c"/><ellipse cx="759.4" cy="467.0" rx="4.8" ry="3.4" transform="rotate(178 759.4 467.0)" fill="#74461a"/><ellipse cx="726.1" cy="501.1" rx="4.0" ry="3.6" transform="rotate(109 726.1 501.1)" fill="#7a4c1c"/><ellipse cx="701.1" cy="439.6" rx="4.4" ry="1.0" transform="rotate(94 701.1 439.6)" fill="#74461a"/><ellipse cx="699.4" cy="452.6" rx="4.2" ry="3.8" transform="rotate(137 699.4 452.6)" fill="#6e4317"/><ellipse cx="722.5" cy="448.8" rx="4.9" ry="4.7" transform="rotate(142 722.5 448.8)" fill="#b57a44"/><ellipse cx="785.7" cy="472.2" rx="5.2" ry="3.6" transform="rotate(145 785.7 472.2)" fill="#5a3510"/><ellipse cx="699.0" cy="520.3" rx="4.4" ry="4.4" transform="rotate(111 699.0 520.3)" fill="#74461a"/><ellipse cx="722.8" cy="491.6" rx="4.7" ry="2.4" transform="rotate(158 722.8 491.6)" fill="#74461a"/><ellipse cx="673.1" cy="471.0" rx="4.9" ry="4.7" transform="rotate(75 673.1 471.0)" fill="#74461a"/><ellipse cx="730.8" cy="452.5" rx="4.3" ry="3.7" transform="rotate(49 730.8 452.5)" fill="#7a4c1c"/><ellipse cx="696.9" cy="516.3" rx="4.1" ry="3.9" transform="rotate(125 696.9 516.3)" fill="#8a5826"/><ellipse cx="737.5" cy="527.8" rx="5.1" ry="5.1" transform="rotate(176 737.5 527.8)" fill="#74461a"/><ellipse cx="678.7" cy="516.4" rx="4.9" ry="3.4" transform="rotate(89 678.7 516.4)" fill="#6e4317"/><ellipse cx="667.5" cy="465.2" rx="4.8" ry="4.8" transform="rotate(96 667.5 465.2)" fill="#6e4317"/><ellipse cx="679.6" cy="533.5" rx="4.5" ry="3.1" transform="rotate(100 679.6 533.5)" fill="#8a5826"/><ellipse cx="685.6" cy="452.8" rx="4.8" ry="4.5" transform="rotate(37 685.6 452.8)" fill="#6e4317"/><ellipse cx="755.1" cy="507.3" rx="5.0" ry="4.5" transform="rotate(81 755.1 507.3)" fill="#8a5826"/><ellipse cx="701.6" cy="481.9" rx="4.1" ry="4.1" transform="rotate(23 701.6 481.9)" fill="#8a5826"/><ellipse cx="720.0" cy="478.5" rx="5.1" ry="2.5" transform="rotate(134 720.0 478.5)" fill="#5a3510"/><ellipse cx="766.8" cy="475.6" rx="5.1" ry="3.6" transform="rotate(149 766.8 475.6)" fill="#7a4c1c"/><ellipse cx="664.1" cy="454.8" rx="4.8" ry="4.8" transform="rotate(43 664.1 454.8)" fill="#74461a"/><ellipse cx="735.2" cy="500.0" rx="4.1" ry="4.1" transform="rotate(25 735.2 500.0)" fill="#805020"/><ellipse cx="721.3" cy="514.5" rx="5.2" ry="5.2" transform="rotate(107 721.3 514.5)" fill="#7a4c1c"/><ellipse cx="764.0" cy="498.5" rx="4.2" ry="4.2" transform="rotate(79 764.0 498.5)" fill="#6e4317"/><ellipse cx="767.2" cy="464.2" rx="4.2" ry="4.0" transform="rotate(149 767.2 464.2)" fill="#5a3510"/><ellipse cx="717.0" cy="471.4" rx="4.2" ry="0.9" transform="rotate(17 717.0 471.4)" fill="#6e4317"/><ellipse cx="702.2" cy="453.9" rx="4.1" ry="4.1" transform="rotate(35 702.2 453.9)" fill="#805020"/><ellipse cx="700.0" cy="487.3" rx="4.5" ry="2.3" transform="rotate(52 700.0 487.3)" fill="#805020"/><ellipse cx="768.5" cy="502.4" rx="4.2" ry="2.1" transform="rotate(144 768.5 502.4)" fill="#805020"/><ellipse cx="699.3" cy="440.3" rx="4.1" ry="4.1" transform="rotate(47 699.3 440.3)" fill="#805020"/><ellipse cx="772.9" cy="466.3" rx="5.0" ry="5.0" transform="rotate(126 772.9 466.3)" fill="#74461a"/><ellipse cx="740.8" cy="520.2" rx="4.5" ry="3.2" transform="rotate(138 740.8 520.2)" fill="#6e4317"/><ellipse cx="767.5" cy="503.5" rx="4.2" ry="2.1" transform="rotate(156 767.5 503.5)" fill="#805020"/><ellipse cx="687.2" cy="466.0" rx="4.9" ry="4.1" transform="rotate(180 687.2 466.0)" fill="#5a3510"/><ellipse cx="759.0" cy="481.6" rx="4.4" ry="4.1" transform="rotate(47 759.0 481.6)" fill="#8a5826"/><ellipse cx="709.8" cy="518.7" rx="4.2" ry="4.2" transform="rotate(78 709.8 518.7)" fill="#633b12"/><ellipse cx="766.2" cy="471.2" rx="4.4" ry="2.2" transform="rotate(34 766.2 471.2)" fill="#8a5826"/><ellipse cx="731.8" cy="486.0" rx="5.1" ry="5.1" transform="rotate(47 731.8 486.0)" fill="#805020"/><ellipse cx="741.9" cy="482.7" rx="4.8" ry="1.1" transform="rotate(153 741.9 482.7)" fill="#7a4c1c"/><ellipse cx="732.1" cy="498.8" rx="4.8" ry="4.8" transform="rotate(21 732.1 498.8)" fill="#d09a60"/><ellipse cx="732.9" cy="498.2" rx="4.8" ry="1.5" transform="rotate(178 732.9 498.2)" fill="#a87040"/><ellipse cx="699.5" cy="486.3" rx="4.9" ry="4.4" transform="rotate(144 699.5 486.3)" fill="#7a4c1c"/><ellipse cx="687.5" cy="466.5" rx="5.1" ry="2.6" transform="rotate(48 687.5 466.5)" fill="#633b12"/><ellipse cx="702.4" cy="545.6" rx="4.4" ry="1.3" transform="rotate(97 702.4 545.6)" fill="#633b12"/><ellipse cx="728.8" cy="455.6" rx="5.0" ry="4.5" transform="rotate(23 728.8 455.6)" fill="#633b12"/><ellipse cx="748.6" cy="441.5" rx="4.0" ry="2.0" transform="rotate(152 748.6 441.5)" fill="#633b12"/><ellipse cx="702.6" cy="523.6" rx="4.7" ry="3.3" transform="rotate(174 702.6 523.6)" fill="#6e4317"/><ellipse cx="721.8" cy="434.4" rx="5.2" ry="5.0" transform="rotate(83 721.8 434.4)" fill="#5a3510"/><ellipse cx="725.1" cy="494.3" rx="4.3" ry="1.3" transform="rotate(154 725.1 494.3)" fill="#805020"/><ellipse cx="722.1" cy="497.5" rx="4.1" ry="4.1" transform="rotate(86 722.1 497.5)" fill="#b57a44"/><ellipse cx="721.0" cy="448.9" rx="5.1" ry="4.9" transform="rotate(96 721.0 448.9)" fill="#7a4c1c"/><ellipse cx="683.0" cy="441.4" rx="4.9" ry="3.4" transform="rotate(165 683.0 441.4)" fill="#805020"/><ellipse cx="743.6" cy="448.1" rx="4.9" ry="2.5" transform="rotate(100 743.6 448.1)" fill="#633b12"/><ellipse cx="712.3" cy="458.1" rx="4.1" ry="0.9" transform="rotate(175 712.3 458.1)" fill="#805020"/><ellipse cx="733.4" cy="519.9" rx="4.4" ry="2.2" transform="rotate(84 733.4 519.9)" fill="#6e4317"/><ellipse cx="759.8" cy="461.6" rx="5.1" ry="1.5" transform="rotate(108 759.8 461.6)" fill="#633b12"/><ellipse cx="745.9" cy="467.6" rx="4.3" ry="1.0" transform="rotate(24 745.9 467.6)" fill="#633b12"/><ellipse cx="721.7" cy="426.1" rx="4.1" ry="3.5" transform="rotate(13 721.7 426.1)" fill="#633b12"/><ellipse cx="746.3" cy="460.2" rx="5.0" ry="2.5" transform="rotate(173 746.3 460.2)" fill="#74461a"/><ellipse cx="769.6" cy="512.7" rx="4.5" ry="1.4" transform="rotate(154 769.6 512.7)" fill="#6e4317"/><ellipse cx="705.0" cy="460.2" rx="4.1" ry="2.0" transform="rotate(96 705.0 460.2)" fill="#74461a"/><ellipse cx="775.0" cy="507.5" rx="4.6" ry="2.3" transform="rotate(18 775.0 507.5)" fill="#7a4c1c"/><ellipse cx="745.4" cy="454.2" rx="4.6" ry="3.9" transform="rotate(56 745.4 454.2)" fill="#8a5826"/><ellipse cx="738.5" cy="485.7" rx="4.3" ry="4.3" transform="rotate(1 738.5 485.7)" fill="#7a4c1c"/><ellipse cx="732.2" cy="458.7" rx="4.2" ry="4.0" transform="rotate(20 732.2 458.7)" fill="#74461a"/><ellipse cx="690.0" cy="463.6" rx="4.7" ry="4.5" transform="rotate(38 690.0 463.6)" fill="#8a5826"/><ellipse cx="743.3" cy="434.7" rx="5.3" ry="4.5" transform="rotate(168 743.3 434.7)" fill="#805020"/><ellipse cx="741.3" cy="486.7" rx="4.6" ry="4.6" transform="rotate(20 741.3 486.7)" fill="#6e4317"/><ellipse cx="751.2" cy="493.2" rx="4.4" ry="2.2" transform="rotate(162 751.2 493.2)" fill="#5a3510"/><ellipse cx="712.6" cy="440.0" rx="5.1" ry="4.8" transform="rotate(85 712.6 440.0)" fill="#805020"/><ellipse cx="709.7" cy="437.0" rx="4.5" ry="4.5" transform="rotate(75 709.7 437.0)" fill="#7a4c1c"/><ellipse cx="673.3" cy="490.0" rx="4.8" ry="3.4" transform="rotate(11 673.3 490.0)" fill="#8a5826"/><ellipse cx="715.0" cy="489.9" rx="5.0" ry="5.0" transform="rotate(147 715.0 489.9)" fill="#7a4c1c"/><ellipse cx="752.8" cy="481.8" rx="4.7" ry="1.0" transform="rotate(156 752.8 481.8)" fill="#7a4c1c"/></g>
<defs><radialGradient id="mg" cx="0.35" cy="0.35" r="0.8"><stop offset="0" stop-color="#eef0f6"/><stop offset="1" stop-color="#c9cfdc"/></radialGradient><clipPath id="cm"><circle cx="620.7" cy="525.6" r="26"/></clipPath><clipPath id="co"><circle cx="680" cy="614" r="36"/></clipPath></defs>
<circle cx="620.7" cy="525.6" r="26" fill="url(#mg)"/>
<g fill="#8a4f1e" clip-path="url(#cm)"><circle cx="596.5" cy="523.0" r="1.3"/><circle cx="619.7" cy="538.4" r="1.4"/><circle cx="637.8" cy="507.1" r="1.1"/><circle cx="637.8" cy="532.7" r="1.1"/><circle cx="621.4" cy="542.5" r="1.5"/><circle cx="609.2" cy="526.6" r="1.0"/><circle cx="623.8" cy="545.6" r="1.1"/><circle cx="636.3" cy="535.5" r="1.3"/><circle cx="644.2" cy="522.5" r="1.5"/><circle cx="624.1" cy="508.9" r="1.1"/><circle cx="645.3" cy="522.4" r="1.4"/><circle cx="630.0" cy="534.7" r="1.2"/><circle cx="608.2" cy="520.6" r="1.4"/><circle cx="628.6" cy="537.1" r="1.4"/><circle cx="636.2" cy="530.1" r="1.3"/><circle cx="631.3" cy="523.5" r="1.5"/><circle cx="603.3" cy="514.3" r="1.4"/><circle cx="639.5" cy="523.3" r="1.3"/><circle cx="598.3" cy="520.7" r="1.2"/><circle cx="626.3" cy="529.4" r="1.4"/><circle cx="642.5" cy="517.4" r="1.6"/><circle cx="625.7" cy="512.1" r="1.2"/><circle cx="625.6" cy="544.6" r="1.4"/><circle cx="617.9" cy="525.7" r="1.2"/><circle cx="640.2" cy="536.8" r="1.3"/><circle cx="621.6" cy="543.4" r="1.2"/><circle cx="612.9" cy="542.6" r="1.2"/><circle cx="620.2" cy="535.1" r="1.3"/><circle cx="621.6" cy="504.1" r="1.0"/><circle cx="609.5" cy="542.9" r="1.0"/><circle cx="610.4" cy="510.3" r="1.0"/><circle cx="610.1" cy="516.1" r="1.1"/><circle cx="616.7" cy="539.1" r="1.0"/><circle cx="616.0" cy="527.0" r="1.0"/><circle cx="617.3" cy="533.9" r="1.3"/><circle cx="636.8" cy="508.7" r="1.4"/><circle cx="636.8" cy="513.2" r="1.5"/><circle cx="622.3" cy="508.3" r="1.5"/><circle cx="620.0" cy="501.5" r="1.6"/><circle cx="622.2" cy="517.0" r="1.0"/><circle cx="630.3" cy="542.8" r="1.3"/><circle cx="614.2" cy="520.3" r="1.1"/><circle cx="604.8" cy="534.5" r="1.2"/><circle cx="630.6" cy="518.9" r="1.1"/><circle cx="608.0" cy="508.6" r="1.4"/><circle cx="626.9" cy="539.2" r="1.4"/><circle cx="615.9" cy="527.9" r="0.9"/><circle cx="601.9" cy="529.7" r="1.3"/><circle cx="603.3" cy="517.8" r="1.2"/><circle cx="632.4" cy="522.7" r="1.4"/><circle cx="608.1" cy="512.8" r="1.4"/><circle cx="600.4" cy="533.6" r="1.5"/><circle cx="600.8" cy="526.3" r="1.4"/><circle cx="609.4" cy="538.3" r="1.5"/><circle cx="622.3" cy="526.6" r="1.5"/><circle cx="627.3" cy="521.3" r="1.1"/><circle cx="631.6" cy="510.0" r="1.1"/><circle cx="624.9" cy="524.5" r="1.4"/><circle cx="625.7" cy="507.8" r="1.6"/><circle cx="638.9" cy="507.6" r="1.4"/><circle cx="631.4" cy="541.1" r="1.3"/><circle cx="638.1" cy="517.2" r="1.5"/><circle cx="614.7" cy="514.9" r="1.1"/><circle cx="631.4" cy="531.6" r="1.0"/><circle cx="622.1" cy="519.4" r="1.4"/><circle cx="609.6" cy="515.4" r="1.0"/><circle cx="611.3" cy="540.2" r="1.4"/><circle cx="629.9" cy="547.3" r="1.6"/><circle cx="625.7" cy="540.8" r="1.2"/><circle cx="640.8" cy="538.5" r="0.9"/><circle cx="613.0" cy="526.1" r="1.0"/><circle cx="645.3" cy="520.7" r="0.9"/><circle cx="616.2" cy="540.1" r="1.3"/><circle cx="640.5" cy="539.1" r="1.1"/><circle cx="631.8" cy="520.4" r="1.2"/><circle cx="626.6" cy="521.5" r="1.3"/><circle cx="617.5" cy="532.6" r="1.2"/><circle cx="622.4" cy="521.2" r="1.1"/><circle cx="640.6" cy="513.4" r="1.2"/><circle cx="642.0" cy="536.8" r="1.2"/><circle cx="606.6" cy="534.3" r="1.3"/><circle cx="603.7" cy="532.6" r="1.4"/><circle cx="615.9" cy="538.3" r="1.1"/><circle cx="637.7" cy="516.9" r="1.2"/><circle cx="615.4" cy="527.1" r="1.3"/><circle cx="623.0" cy="518.0" r="1.3"/><circle cx="643.3" cy="526.7" r="1.0"/><circle cx="622.5" cy="548.8" r="1.3"/><circle cx="620.3" cy="521.2" r="0.9"/><circle cx="610.5" cy="523.3" r="1.2"/><circle cx="601.3" cy="539.3" r="1.4"/><circle cx="633.9" cy="534.9" r="1.1"/><circle cx="600.9" cy="541.9" r="1.4"/><circle cx="623.0" cy="516.1" r="1.1"/><circle cx="644.5" cy="519.2" r="1.5"/><circle cx="595.0" cy="523.0" r="1.5"/><circle cx="632.5" cy="505.1" r="1.3"/><circle cx="597.8" cy="516.8" r="1.3"/><circle cx="622.2" cy="527.2" r="1.3"/><circle cx="631.5" cy="517.5" r="1.5"/><circle cx="621.2" cy="516.9" r="1.3"/><circle cx="627.9" cy="510.1" r="1.1"/><circle cx="633.3" cy="515.7" r="1.4"/><circle cx="624.9" cy="500.5" r="1.2"/><circle cx="596.3" cy="531.6" r="1.3"/><circle cx="618.5" cy="518.7" r="1.2"/><circle cx="620.8" cy="536.3" r="1.3"/><circle cx="607.7" cy="537.6" r="1.5"/><circle cx="634.3" cy="539.3" r="1.3"/><circle cx="627.4" cy="540.3" r="1.3"/><circle cx="611.3" cy="524.1" r="1.1"/><circle cx="642.8" cy="528.3" r="1.5"/><circle cx="599.2" cy="521.5" r="1.0"/><circle cx="636.1" cy="516.2" r="1.4"/><circle cx="612.9" cy="513.9" r="1.4"/><circle cx="637.9" cy="543.8" r="1.6"/><circle cx="644.8" cy="518.0" r="1.4"/><circle cx="627.9" cy="530.8" r="1.0"/><circle cx="634.2" cy="511.9" r="1.2"/><circle cx="616.4" cy="550.0" r="1.3"/><circle cx="631.4" cy="536.7" r="1.5"/><circle cx="622.8" cy="500.3" r="1.3"/><circle cx="613.8" cy="504.3" r="1.0"/><circle cx="619.5" cy="550.9" r="1.0"/><circle cx="620.4" cy="516.8" r="0.9"/><circle cx="615.7" cy="509.7" r="1.4"/><circle cx="609.9" cy="544.1" r="1.5"/><circle cx="641.3" cy="516.7" r="0.9"/><circle cx="606.1" cy="537.2" r="1.4"/><circle cx="639.7" cy="531.4" r="1.4"/><circle cx="627.8" cy="516.4" r="1.1"/><circle cx="614.9" cy="528.1" r="1.6"/><circle cx="621.8" cy="509.6" r="1.4"/><circle cx="599.8" cy="539.8" r="1.0"/><circle cx="598.7" cy="534.0" r="1.4"/><circle cx="635.0" cy="547.1" r="1.5"/><circle cx="625.6" cy="517.3" r="1.6"/><circle cx="629.2" cy="507.5" r="1.0"/><circle cx="627.9" cy="505.6" r="1.4"/><circle cx="627.4" cy="538.4" r="1.0"/><circle cx="638.7" cy="536.0" r="1.1"/><circle cx="644.6" cy="524.0" r="1.3"/><circle cx="637.5" cy="531.4" r="1.2"/><circle cx="643.0" cy="536.7" r="1.5"/><circle cx="598.5" cy="531.1" r="1.3"/><circle cx="612.1" cy="519.2" r="1.5"/><circle cx="616.4" cy="530.4" r="1.4"/><circle cx="612.6" cy="541.9" r="1.2"/><circle cx="622.3" cy="530.2" r="1.3"/><circle cx="626.9" cy="549.5" r="1.3"/><circle cx="615.7" cy="506.9" r="1.5"/><circle cx="638.9" cy="532.9" r="1.1"/><circle cx="643.1" cy="535.2" r="1.3"/><circle cx="619.9" cy="503.2" r="1.0"/><circle cx="605.2" cy="524.6" r="0.9"/><circle cx="605.2" cy="510.7" r="1.3"/><circle cx="616.0" cy="539.7" r="1.3"/><circle cx="602.0" cy="536.4" r="1.1"/><circle cx="633.1" cy="509.5" r="1.4"/><circle cx="610.3" cy="538.5" r="1.5"/><circle cx="642.6" cy="518.8" r="1.5"/><circle cx="630.2" cy="525.3" r="1.1"/><circle cx="609.7" cy="536.3" r="1.1"/><circle cx="640.2" cy="539.1" r="1.3"/><circle cx="603.2" cy="509.7" r="1.0"/><circle cx="604.3" cy="532.3" r="1.2"/><circle cx="610.9" cy="549.2" r="0.9"/><circle cx="598.8" cy="534.2" r="1.4"/><circle cx="628.6" cy="526.7" r="1.0"/><circle cx="604.4" cy="530.5" r="1.5"/></g>
<circle cx="684.4" cy="662" r="3" fill="none" stroke="#000" stroke-width="1"/>
<circle cx="680" cy="614" r="36" fill="#5a3614"/>
<g clip-path="url(#co)"><line x1="720.0" y1="618.7" x2="724.6" y2="619.1" stroke="#5c3814" stroke-width="0.9"/><line x1="687.6" y1="637.6" x2="694.5" y2="637.3" stroke="#f4efe6" stroke-width="1.1"/><line x1="686.3" y1="638.7" x2="690.3" y2="639.1" stroke="#7a4c22" stroke-width="1.0"/><line x1="674.6" y1="596.4" x2="682.8" y2="596.9" stroke="#ffffff" stroke-width="1.1"/><line x1="646.0" y1="630.8" x2="654.6" y2="631.0" stroke="#8c6038" stroke-width="1.2"/><line x1="646.8" y1="615.2" x2="656.5" y2="615.4" stroke="#5c3814" stroke-width="0.9"/><line x1="643.4" y1="606.1" x2="648.0" y2="605.7" stroke="#ffffff" stroke-width="0.8"/><line x1="721.3" y1="635.0" x2="728.2" y2="634.7" stroke="#7a4c22" stroke-width="0.7"/><line x1="688.7" y1="623.3" x2="699.3" y2="623.0" stroke="#5c3814" stroke-width="0.8"/><line x1="637.6" y1="640.4" x2="641.8" y2="640.3" stroke="#2a1604" stroke-width="1.0"/><line x1="711.7" y1="599.3" x2="716.3" y2="598.9" stroke="#2a1604" stroke-width="0.7"/><line x1="688.4" y1="642.4" x2="691.8" y2="642.2" stroke="#f4efe6" stroke-width="1.1"/><line x1="707.6" y1="631.3" x2="712.6" y2="631.3" stroke="#f4efe6" stroke-width="1.0"/><line x1="645.2" y1="592.4" x2="652.1" y2="592.8" stroke="#8c6038" stroke-width="0.8"/><line x1="650.7" y1="627.9" x2="653.7" y2="628.2" stroke="#8c6038" stroke-width="1.2"/><line x1="640.0" y1="648.1" x2="644.9" y2="647.6" stroke="#3a2008" stroke-width="1.0"/><line x1="640.8" y1="609.6" x2="650.3" y2="609.5" stroke="#5c3814" stroke-width="0.8"/><line x1="685.6" y1="638.6" x2="690.7" y2="638.6" stroke="#2a1604" stroke-width="1.1"/><line x1="717.5" y1="628.8" x2="722.3" y2="628.4" stroke="#3a2008" stroke-width="1.2"/><line x1="655.2" y1="651.1" x2="662.3" y2="651.0" stroke="#8c6038" stroke-width="0.7"/><line x1="646.4" y1="647.1" x2="656.2" y2="647.6" stroke="#2a1604" stroke-width="0.8"/><line x1="641.4" y1="610.3" x2="648.9" y2="610.0" stroke="#ffffff" stroke-width="1.0"/><line x1="665.8" y1="640.4" x2="675.4" y2="640.0" stroke="#2a1604" stroke-width="1.1"/><line x1="647.8" y1="586.2" x2="655.5" y2="586.2" stroke="#f4efe6" stroke-width="1.0"/><line x1="670.4" y1="615.6" x2="678.4" y2="615.8" stroke="#f4efe6" stroke-width="1.2"/><line x1="678.0" y1="645.3" x2="687.7" y2="645.1" stroke="#3a2008" stroke-width="0.8"/><line x1="674.3" y1="610.9" x2="680.8" y2="610.6" stroke="#f4efe6" stroke-width="1.0"/><line x1="710.5" y1="649.6" x2="719.6" y2="649.4" stroke="#5c3814" stroke-width="1.0"/><line x1="721.0" y1="643.5" x2="728.5" y2="643.6" stroke="#f4efe6" stroke-width="1.0"/><line x1="667.5" y1="651.4" x2="676.6" y2="651.7" stroke="#7a4c22" stroke-width="1.1"/><line x1="709.4" y1="610.8" x2="715.9" y2="611.2" stroke="#ffffff" stroke-width="0.8"/><line x1="689.5" y1="638.6" x2="697.9" y2="638.2" stroke="#ffffff" stroke-width="1.0"/><line x1="692.3" y1="584.2" x2="696.1" y2="584.4" stroke="#ffffff" stroke-width="1.2"/><line x1="683.6" y1="588.1" x2="688.8" y2="587.7" stroke="#ffffff" stroke-width="0.9"/><line x1="644.2" y1="633.0" x2="648.3" y2="632.7" stroke="#ffffff" stroke-width="0.7"/><line x1="684.1" y1="607.1" x2="694.5" y2="607.1" stroke="#3a2008" stroke-width="0.8"/><line x1="671.4" y1="583.0" x2="681.1" y2="582.7" stroke="#2a1604" stroke-width="0.7"/><line x1="685.6" y1="594.7" x2="693.5" y2="595.0" stroke="#5c3814" stroke-width="1.0"/><line x1="658.6" y1="591.0" x2="667.5" y2="591.4" stroke="#3a2008" stroke-width="0.9"/><line x1="718.1" y1="620.2" x2="723.1" y2="620.1" stroke="#ffffff" stroke-width="0.8"/><line x1="639.4" y1="622.4" x2="644.3" y2="622.1" stroke="#ffffff" stroke-width="1.1"/><line x1="713.0" y1="611.5" x2="717.5" y2="611.9" stroke="#ffffff" stroke-width="1.2"/><line x1="720.3" y1="621.9" x2="730.8" y2="622.0" stroke="#3a2008" stroke-width="0.9"/><line x1="668.6" y1="619.3" x2="673.6" y2="619.7" stroke="#2a1604" stroke-width="1.1"/><line x1="655.4" y1="578.1" x2="661.3" y2="577.7" stroke="#2a1604" stroke-width="1.2"/><line x1="661.4" y1="643.7" x2="670.9" y2="643.9" stroke="#ffffff" stroke-width="1.0"/><line x1="683.5" y1="593.9" x2="687.5" y2="593.7" stroke="#7a4c22" stroke-width="0.8"/><line x1="716.6" y1="577.6" x2="722.7" y2="577.6" stroke="#7a4c22" stroke-width="1.3"/><line x1="688.6" y1="628.7" x2="697.0" y2="628.2" stroke="#3a2008" stroke-width="1.1"/><line x1="651.4" y1="630.4" x2="659.1" y2="630.4" stroke="#7a4c22" stroke-width="0.8"/><line x1="679.6" y1="615.9" x2="686.8" y2="616.1" stroke="#5c3814" stroke-width="1.1"/><line x1="719.8" y1="622.8" x2="727.2" y2="622.6" stroke="#3a2008" stroke-width="0.9"/><line x1="673.2" y1="631.8" x2="681.9" y2="631.7" stroke="#f4efe6" stroke-width="0.8"/><line x1="679.3" y1="615.4" x2="685.1" y2="615.3" stroke="#f4efe6" stroke-width="0.8"/><line x1="637.5" y1="620.9" x2="646.2" y2="621.2" stroke="#3a2008" stroke-width="1.0"/><line x1="699.8" y1="621.9" x2="707.9" y2="622.1" stroke="#8c6038" stroke-width="1.0"/><line x1="643.8" y1="627.3" x2="652.4" y2="627.3" stroke="#2a1604" stroke-width="1.1"/><line x1="700.0" y1="605.8" x2="708.0" y2="605.4" stroke="#5c3814" stroke-width="1.2"/><line x1="651.2" y1="630.1" x2="655.6" y2="630.6" stroke="#3a2008" stroke-width="0.8"/><line x1="709.9" y1="576.5" x2="720.7" y2="576.0" stroke="#7a4c22" stroke-width="1.2"/><line x1="719.6" y1="641.0" x2="725.5" y2="641.4" stroke="#5c3814" stroke-width="0.8"/><line x1="682.4" y1="611.8" x2="689.8" y2="611.7" stroke="#2a1604" stroke-width="1.3"/><line x1="687.5" y1="596.6" x2="694.9" y2="597.0" stroke="#ffffff" stroke-width="0.8"/><line x1="665.6" y1="613.5" x2="672.2" y2="613.5" stroke="#3a2008" stroke-width="1.0"/><line x1="687.7" y1="596.5" x2="695.7" y2="596.7" stroke="#7a4c22" stroke-width="1.3"/><line x1="651.2" y1="623.1" x2="659.7" y2="622.9" stroke="#8c6038" stroke-width="1.0"/><line x1="720.9" y1="613.8" x2="731.8" y2="613.6" stroke="#5c3814" stroke-width="1.3"/><line x1="669.8" y1="608.1" x2="674.0" y2="608.2" stroke="#2a1604" stroke-width="1.3"/><line x1="699.9" y1="583.0" x2="710.8" y2="583.0" stroke="#ffffff" stroke-width="1.2"/><line x1="714.1" y1="649.7" x2="723.4" y2="649.3" stroke="#7a4c22" stroke-width="1.0"/><line x1="718.7" y1="600.8" x2="727.2" y2="600.7" stroke="#2a1604" stroke-width="1.0"/><line x1="719.3" y1="625.3" x2="729.1" y2="625.7" stroke="#ffffff" stroke-width="1.1"/><line x1="656.6" y1="604.3" x2="663.5" y2="604.2" stroke="#ffffff" stroke-width="1.0"/><line x1="655.3" y1="588.0" x2="664.3" y2="587.8" stroke="#7a4c22" stroke-width="1.1"/><line x1="643.9" y1="594.3" x2="648.4" y2="594.5" stroke="#2a1604" stroke-width="0.8"/><line x1="695.2" y1="620.5" x2="704.2" y2="620.4" stroke="#ffffff" stroke-width="1.3"/><line x1="675.1" y1="614.7" x2="679.6" y2="615.0" stroke="#ffffff" stroke-width="1.3"/><line x1="709.6" y1="584.3" x2="712.9" y2="584.0" stroke="#ffffff" stroke-width="0.9"/><line x1="702.0" y1="609.9" x2="706.1" y2="609.9" stroke="#3a2008" stroke-width="1.0"/><line x1="696.4" y1="639.7" x2="705.7" y2="639.2" stroke="#3a2008" stroke-width="1.2"/><line x1="709.8" y1="582.3" x2="714.6" y2="582.0" stroke="#5c3814" stroke-width="1.3"/><line x1="673.3" y1="638.0" x2="683.8" y2="637.7" stroke="#7a4c22" stroke-width="0.7"/><line x1="720.5" y1="596.0" x2="726.8" y2="596.2" stroke="#8c6038" stroke-width="0.9"/><line x1="681.2" y1="603.1" x2="687.3" y2="602.6" stroke="#8c6038" stroke-width="1.0"/><line x1="680.0" y1="587.2" x2="688.9" y2="587.6" stroke="#5c3814" stroke-width="0.7"/><line x1="663.5" y1="615.6" x2="672.2" y2="615.6" stroke="#2a1604" stroke-width="0.9"/><line x1="697.4" y1="613.4" x2="705.3" y2="613.3" stroke="#5c3814" stroke-width="1.1"/><line x1="642.7" y1="603.0" x2="650.3" y2="602.9" stroke="#ffffff" stroke-width="1.2"/><line x1="700.5" y1="586.4" x2="707.9" y2="586.2" stroke="#5c3814" stroke-width="0.7"/><line x1="699.1" y1="626.4" x2="702.5" y2="625.9" stroke="#7a4c22" stroke-width="0.8"/><line x1="703.0" y1="634.3" x2="707.8" y2="634.6" stroke="#ffffff" stroke-width="1.1"/><line x1="681.2" y1="590.1" x2="684.7" y2="589.8" stroke="#3a2008" stroke-width="1.2"/><line x1="678.5" y1="607.7" x2="686.6" y2="607.6" stroke="#7a4c22" stroke-width="1.2"/><line x1="681.7" y1="642.9" x2="692.6" y2="643.0" stroke="#3a2008" stroke-width="0.7"/><line x1="660.7" y1="624.4" x2="664.9" y2="624.5" stroke="#2a1604" stroke-width="1.0"/><line x1="656.6" y1="599.1" x2="665.2" y2="598.9" stroke="#f4efe6" stroke-width="0.9"/><line x1="674.5" y1="608.6" x2="682.6" y2="608.9" stroke="#ffffff" stroke-width="1.2"/><line x1="698.4" y1="649.9" x2="705.0" y2="649.9" stroke="#7a4c22" stroke-width="0.9"/><line x1="653.9" y1="596.4" x2="658.8" y2="596.3" stroke="#2a1604" stroke-width="0.7"/><line x1="659.9" y1="612.2" x2="670.5" y2="611.8" stroke="#f4efe6" stroke-width="1.3"/><line x1="642.6" y1="627.8" x2="652.0" y2="627.3" stroke="#f4efe6" stroke-width="0.9"/><line x1="716.7" y1="627.2" x2="726.3" y2="627.6" stroke="#f4efe6" stroke-width="1.2"/><line x1="701.0" y1="593.1" x2="706.7" y2="593.3" stroke="#5c3814" stroke-width="1.3"/><line x1="674.9" y1="634.3" x2="685.8" y2="634.3" stroke="#2a1604" stroke-width="0.9"/><line x1="641.9" y1="619.4" x2="652.5" y2="619.6" stroke="#5c3814" stroke-width="0.7"/><line x1="710.6" y1="604.0" x2="717.6" y2="603.9" stroke="#8c6038" stroke-width="0.8"/><line x1="701.6" y1="623.7" x2="711.4" y2="623.5" stroke="#5c3814" stroke-width="1.0"/><line x1="676.1" y1="602.7" x2="683.7" y2="603.0" stroke="#f4efe6" stroke-width="0.8"/><line x1="669.5" y1="624.6" x2="676.1" y2="625.0" stroke="#2a1604" stroke-width="0.8"/><line x1="668.2" y1="600.8" x2="676.7" y2="601.1" stroke="#8c6038" stroke-width="1.1"/><line x1="652.8" y1="608.9" x2="659.0" y2="609.1" stroke="#ffffff" stroke-width="0.8"/><line x1="669.1" y1="604.8" x2="674.8" y2="604.5" stroke="#8c6038" stroke-width="0.8"/><line x1="692.8" y1="598.1" x2="702.1" y2="598.3" stroke="#5c3814" stroke-width="1.0"/><line x1="719.8" y1="642.8" x2="728.5" y2="643.3" stroke="#5c3814" stroke-width="1.3"/><line x1="671.5" y1="621.1" x2="675.1" y2="621.1" stroke="#8c6038" stroke-width="0.9"/><line x1="666.9" y1="649.7" x2="673.8" y2="649.2" stroke="#2a1604" stroke-width="1.1"/><line x1="640.5" y1="582.1" x2="651.0" y2="581.9" stroke="#8c6038" stroke-width="1.1"/><line x1="671.6" y1="648.6" x2="678.1" y2="648.7" stroke="#5c3814" stroke-width="1.2"/><line x1="664.6" y1="600.6" x2="668.1" y2="600.9" stroke="#ffffff" stroke-width="1.1"/><line x1="703.1" y1="638.5" x2="711.8" y2="638.6" stroke="#ffffff" stroke-width="1.1"/><line x1="668.4" y1="593.7" x2="674.7" y2="593.6" stroke="#ffffff" stroke-width="1.1"/><line x1="700.9" y1="645.8" x2="709.3" y2="645.4" stroke="#7a4c22" stroke-width="0.8"/><line x1="678.2" y1="598.6" x2="687.5" y2="598.5" stroke="#5c3814" stroke-width="0.7"/><line x1="706.6" y1="605.6" x2="716.2" y2="605.8" stroke="#ffffff" stroke-width="1.0"/><line x1="711.1" y1="630.1" x2="717.7" y2="630.6" stroke="#5c3814" stroke-width="1.0"/><line x1="699.0" y1="621.7" x2="705.8" y2="622.1" stroke="#f4efe6" stroke-width="1.0"/><line x1="721.9" y1="616.5" x2="724.9" y2="616.8" stroke="#ffffff" stroke-width="0.9"/><line x1="663.7" y1="594.2" x2="669.3" y2="594.1" stroke="#5c3814" stroke-width="1.0"/><line x1="667.5" y1="629.3" x2="673.5" y2="629.4" stroke="#5c3814" stroke-width="1.3"/><line x1="682.4" y1="627.8" x2="686.2" y2="628.1" stroke="#2a1604" stroke-width="1.1"/><line x1="644.4" y1="644.6" x2="651.0" y2="645.0" stroke="#3a2008" stroke-width="1.0"/><line x1="656.0" y1="639.6" x2="664.7" y2="640.1" stroke="#f4efe6" stroke-width="1.3"/><line x1="702.2" y1="601.1" x2="709.3" y2="601.0" stroke="#2a1604" stroke-width="1.2"/><line x1="674.7" y1="628.4" x2="679.1" y2="628.8" stroke="#f4efe6" stroke-width="1.0"/><line x1="695.5" y1="582.0" x2="703.8" y2="581.8" stroke="#7a4c22" stroke-width="0.7"/><line x1="713.1" y1="600.0" x2="723.4" y2="600.0" stroke="#7a4c22" stroke-width="0.7"/><line x1="688.9" y1="639.1" x2="697.1" y2="639.1" stroke="#f4efe6" stroke-width="0.8"/><line x1="710.3" y1="589.1" x2="714.9" y2="588.9" stroke="#7a4c22" stroke-width="0.8"/><line x1="650.4" y1="579.1" x2="658.6" y2="578.9" stroke="#3a2008" stroke-width="1.3"/><line x1="672.4" y1="610.7" x2="682.8" y2="611.1" stroke="#7a4c22" stroke-width="1.1"/><line x1="705.4" y1="648.7" x2="710.7" y2="649.0" stroke="#ffffff" stroke-width="1.1"/><line x1="646.1" y1="632.6" x2="650.5" y2="632.7" stroke="#f4efe6" stroke-width="0.7"/><line x1="667.4" y1="631.7" x2="671.3" y2="631.6" stroke="#ffffff" stroke-width="0.8"/><line x1="695.1" y1="629.2" x2="700.1" y2="629.4" stroke="#2a1604" stroke-width="0.8"/><line x1="700.6" y1="576.7" x2="704.9" y2="577.2" stroke="#8c6038" stroke-width="1.2"/><line x1="699.6" y1="604.5" x2="704.4" y2="604.3" stroke="#7a4c22" stroke-width="0.7"/><line x1="709.4" y1="649.7" x2="719.7" y2="649.8" stroke="#ffffff" stroke-width="1.1"/><line x1="684.6" y1="640.4" x2="691.2" y2="640.9" stroke="#7a4c22" stroke-width="1.0"/><line x1="674.4" y1="624.4" x2="683.7" y2="624.9" stroke="#7a4c22" stroke-width="0.9"/><line x1="713.1" y1="642.8" x2="718.9" y2="642.5" stroke="#ffffff" stroke-width="1.0"/><line x1="715.8" y1="626.4" x2="726.4" y2="626.0" stroke="#3a2008" stroke-width="1.1"/><line x1="673.7" y1="592.4" x2="678.9" y2="592.8" stroke="#8c6038" stroke-width="0.9"/><line x1="643.1" y1="648.0" x2="653.5" y2="648.3" stroke="#f4efe6" stroke-width="0.7"/><line x1="660.2" y1="611.2" x2="665.6" y2="611.3" stroke="#3a2008" stroke-width="0.9"/><line x1="673.5" y1="592.3" x2="681.7" y2="592.2" stroke="#ffffff" stroke-width="1.0"/><line x1="643.5" y1="585.8" x2="650.9" y2="585.5" stroke="#7a4c22" stroke-width="1.0"/><line x1="721.2" y1="650.6" x2="725.8" y2="650.3" stroke="#2a1604" stroke-width="1.1"/><line x1="653.6" y1="621.2" x2="662.4" y2="621.5" stroke="#5c3814" stroke-width="0.9"/><line x1="658.9" y1="623.6" x2="662.9" y2="624.0" stroke="#f4efe6" stroke-width="1.1"/><line x1="717.8" y1="633.8" x2="725.1" y2="633.7" stroke="#7a4c22" stroke-width="0.9"/><line x1="640.5" y1="584.4" x2="650.5" y2="584.5" stroke="#5c3814" stroke-width="1.0"/><line x1="662.4" y1="618.4" x2="667.1" y2="618.2" stroke="#ffffff" stroke-width="0.7"/><line x1="660.5" y1="648.2" x2="671.4" y2="648.4" stroke="#ffffff" stroke-width="0.7"/><line x1="642.7" y1="582.6" x2="652.1" y2="582.2" stroke="#8c6038" stroke-width="1.2"/><line x1="679.6" y1="635.5" x2="687.7" y2="635.6" stroke="#f4efe6" stroke-width="1.1"/><line x1="669.8" y1="606.4" x2="678.5" y2="606.3" stroke="#ffffff" stroke-width="0.8"/><line x1="642.2" y1="612.0" x2="648.5" y2="612.1" stroke="#3a2008" stroke-width="1.1"/><line x1="670.3" y1="602.6" x2="674.5" y2="602.1" stroke="#8c6038" stroke-width="1.0"/><line x1="700.0" y1="582.5" x2="708.0" y2="582.9" stroke="#ffffff" stroke-width="1.1"/><line x1="652.9" y1="610.8" x2="656.1" y2="610.4" stroke="#8c6038" stroke-width="0.8"/><line x1="679.7" y1="616.9" x2="684.4" y2="616.8" stroke="#5c3814" stroke-width="1.2"/><line x1="677.4" y1="621.3" x2="681.6" y2="621.1" stroke="#2a1604" stroke-width="1.1"/><line x1="644.2" y1="645.3" x2="648.9" y2="645.8" stroke="#2a1604" stroke-width="1.1"/><line x1="651.6" y1="622.5" x2="658.5" y2="622.6" stroke="#5c3814" stroke-width="0.8"/><line x1="654.8" y1="621.9" x2="659.8" y2="622.0" stroke="#ffffff" stroke-width="0.8"/><line x1="661.9" y1="629.3" x2="672.7" y2="629.5" stroke="#5c3814" stroke-width="1.0"/><line x1="679.5" y1="596.3" x2="690.1" y2="596.0" stroke="#2a1604" stroke-width="0.8"/><line x1="640.9" y1="620.2" x2="644.6" y2="620.6" stroke="#f4efe6" stroke-width="0.8"/><line x1="719.1" y1="623.4" x2="722.1" y2="623.3" stroke="#2a1604" stroke-width="0.8"/><line x1="702.2" y1="639.6" x2="709.0" y2="639.6" stroke="#ffffff" stroke-width="1.0"/><line x1="655.9" y1="646.2" x2="666.0" y2="646.7" stroke="#7a4c22" stroke-width="1.0"/><line x1="714.7" y1="601.9" x2="718.6" y2="602.1" stroke="#f4efe6" stroke-width="0.9"/><line x1="650.9" y1="607.9" x2="654.8" y2="607.6" stroke="#ffffff" stroke-width="1.0"/><line x1="705.6" y1="621.5" x2="715.8" y2="621.7" stroke="#8c6038" stroke-width="1.1"/><line x1="695.4" y1="645.8" x2="703.1" y2="645.9" stroke="#7a4c22" stroke-width="1.3"/><line x1="661.8" y1="590.4" x2="668.8" y2="590.2" stroke="#5c3814" stroke-width="0.9"/><line x1="678.7" y1="600.3" x2="683.1" y2="600.3" stroke="#2a1604" stroke-width="1.1"/><line x1="665.8" y1="646.8" x2="671.9" y2="646.4" stroke="#8c6038" stroke-width="1.1"/><line x1="688.8" y1="622.6" x2="695.8" y2="623.1" stroke="#5c3814" stroke-width="1.2"/><line x1="673.4" y1="637.8" x2="681.7" y2="638.3" stroke="#ffffff" stroke-width="0.7"/><line x1="668.4" y1="621.0" x2="677.7" y2="621.4" stroke="#7a4c22" stroke-width="0.8"/><line x1="655.0" y1="642.6" x2="663.2" y2="642.1" stroke="#ffffff" stroke-width="0.7"/><line x1="647.2" y1="578.0" x2="654.1" y2="577.8" stroke="#5c3814" stroke-width="0.8"/><line x1="650.9" y1="615.6" x2="660.7" y2="615.9" stroke="#5c3814" stroke-width="1.3"/><line x1="698.4" y1="597.3" x2="702.2" y2="597.1" stroke="#f4efe6" stroke-width="1.1"/><line x1="688.6" y1="604.1" x2="692.1" y2="604.3" stroke="#2a1604" stroke-width="1.2"/><line x1="646.6" y1="615.0" x2="657.5" y2="614.6" stroke="#8c6038" stroke-width="1.1"/><line x1="643.5" y1="632.9" x2="650.8" y2="632.5" stroke="#8c6038" stroke-width="1.2"/><line x1="679.7" y1="614.6" x2="689.0" y2="614.6" stroke="#f4efe6" stroke-width="1.3"/><line x1="639.1" y1="594.2" x2="644.5" y2="594.3" stroke="#ffffff" stroke-width="0.7"/><line x1="663.6" y1="628.3" x2="673.6" y2="628.1" stroke="#ffffff" stroke-width="0.9"/><line x1="664.7" y1="588.9" x2="668.3" y2="589.4" stroke="#ffffff" stroke-width="1.1"/><line x1="715.0" y1="585.6" x2="723.0" y2="585.3" stroke="#8c6038" stroke-width="1.2"/><line x1="709.4" y1="640.0" x2="713.6" y2="639.8" stroke="#f4efe6" stroke-width="0.8"/><line x1="721.4" y1="648.8" x2="724.5" y2="649.0" stroke="#8c6038" stroke-width="1.0"/><line x1="685.5" y1="584.7" x2="690.3" y2="584.3" stroke="#7a4c22" stroke-width="1.2"/><line x1="697.6" y1="584.9" x2="705.6" y2="584.5" stroke="#f4efe6" stroke-width="1.0"/><line x1="640.8" y1="644.4" x2="648.0" y2="644.5" stroke="#7a4c22" stroke-width="1.3"/><line x1="664.8" y1="602.6" x2="669.5" y2="602.1" stroke="#8c6038" stroke-width="0.7"/><line x1="666.0" y1="612.7" x2="674.2" y2="612.6" stroke="#3a2008" stroke-width="1.0"/><line x1="658.0" y1="607.1" x2="666.8" y2="607.3" stroke="#ffffff" stroke-width="0.8"/><line x1="645.3" y1="578.1" x2="648.5" y2="578.2" stroke="#8c6038" stroke-width="0.7"/><line x1="656.5" y1="596.0" x2="660.9" y2="596.2" stroke="#f4efe6" stroke-width="1.2"/><line x1="647.4" y1="590.3" x2="652.9" y2="590.6" stroke="#2a1604" stroke-width="1.2"/><line x1="710.0" y1="577.3" x2="713.2" y2="577.0" stroke="#8c6038" stroke-width="0.9"/><line x1="663.6" y1="622.5" x2="666.8" y2="622.4" stroke="#3a2008" stroke-width="0.7"/><line x1="688.3" y1="601.5" x2="693.7" y2="601.2" stroke="#8c6038" stroke-width="0.8"/><line x1="721.5" y1="630.3" x2="730.4" y2="629.9" stroke="#8c6038" stroke-width="1.3"/><line x1="685.9" y1="633.4" x2="693.2" y2="633.4" stroke="#2a1604" stroke-width="1.0"/><line x1="710.2" y1="651.9" x2="719.7" y2="651.4" stroke="#3a2008" stroke-width="0.7"/><line x1="643.8" y1="643.8" x2="652.1" y2="644.0" stroke="#5c3814" stroke-width="0.7"/><line x1="716.6" y1="598.6" x2="725.7" y2="598.6" stroke="#7a4c22" stroke-width="1.0"/><line x1="715.0" y1="639.5" x2="721.2" y2="639.1" stroke="#3a2008" stroke-width="0.9"/><line x1="663.6" y1="579.6" x2="669.8" y2="579.8" stroke="#ffffff" stroke-width="1.0"/><line x1="704.7" y1="586.0" x2="715.5" y2="586.4" stroke="#5c3814" stroke-width="0.9"/><line x1="718.7" y1="623.3" x2="725.7" y2="623.5" stroke="#8c6038" stroke-width="0.9"/><line x1="721.3" y1="595.4" x2="730.3" y2="595.7" stroke="#ffffff" stroke-width="0.9"/><line x1="721.6" y1="603.0" x2="729.3" y2="602.7" stroke="#3a2008" stroke-width="1.2"/><line x1="718.5" y1="603.0" x2="727.8" y2="603.2" stroke="#2a1604" stroke-width="0.9"/><line x1="667.5" y1="593.2" x2="677.1" y2="593.4" stroke="#f4efe6" stroke-width="0.8"/><line x1="637.8" y1="643.9" x2="647.0" y2="644.0" stroke="#8c6038" stroke-width="1.3"/><line x1="704.3" y1="585.1" x2="710.8" y2="585.1" stroke="#2a1604" stroke-width="1.3"/><line x1="690.3" y1="643.2" x2="694.9" y2="642.7" stroke="#2a1604" stroke-width="1.1"/><line x1="696.1" y1="620.4" x2="703.7" y2="620.7" stroke="#3a2008" stroke-width="1.3"/><line x1="699.1" y1="632.0" x2="702.8" y2="631.6" stroke="#2a1604" stroke-width="1.2"/><line x1="714.6" y1="586.9" x2="718.3" y2="586.4" stroke="#ffffff" stroke-width="0.8"/><line x1="666.6" y1="581.8" x2="670.6" y2="581.8" stroke="#f4efe6" stroke-width="0.7"/><line x1="664.9" y1="636.8" x2="669.3" y2="636.7" stroke="#3a2008" stroke-width="1.2"/><line x1="640.8" y1="593.6" x2="650.1" y2="593.9" stroke="#8c6038" stroke-width="0.8"/><line x1="697.3" y1="614.4" x2="707.3" y2="614.5" stroke="#5c3814" stroke-width="1.1"/><line x1="665.5" y1="631.4" x2="671.4" y2="631.2" stroke="#ffffff" stroke-width="0.8"/><line x1="668.8" y1="632.8" x2="677.0" y2="632.9" stroke="#2a1604" stroke-width="1.2"/><line x1="659.4" y1="591.8" x2="667.3" y2="592.3" stroke="#3a2008" stroke-width="0.8"/><line x1="714.1" y1="628.5" x2="720.8" y2="628.6" stroke="#5c3814" stroke-width="1.2"/><line x1="709.0" y1="596.4" x2="715.0" y2="596.8" stroke="#2a1604" stroke-width="1.1"/><line x1="690.2" y1="602.0" x2="693.9" y2="601.6" stroke="#8c6038" stroke-width="1.1"/><line x1="716.8" y1="603.4" x2="721.9" y2="602.9" stroke="#ffffff" stroke-width="1.0"/><line x1="650.2" y1="588.0" x2="659.4" y2="588.4" stroke="#f4efe6" stroke-width="0.8"/><line x1="711.1" y1="594.0" x2="717.0" y2="593.6" stroke="#ffffff" stroke-width="0.9"/><line x1="720.7" y1="604.5" x2="725.9" y2="604.5" stroke="#ffffff" stroke-width="1.1"/><line x1="669.5" y1="596.9" x2="674.9" y2="597.2" stroke="#3a2008" stroke-width="0.9"/><line x1="678.4" y1="643.4" x2="685.3" y2="643.7" stroke="#3a2008" stroke-width="0.8"/><line x1="679.9" y1="577.3" x2="687.1" y2="577.7" stroke="#ffffff" stroke-width="1.0"/><line x1="639.7" y1="631.7" x2="643.3" y2="631.2" stroke="#ffffff" stroke-width="0.7"/><line x1="655.4" y1="624.7" x2="664.5" y2="624.2" stroke="#3a2008" stroke-width="0.8"/><line x1="699.9" y1="610.3" x2="706.1" y2="609.9" stroke="#8c6038" stroke-width="1.0"/><line x1="664.5" y1="578.6" x2="673.2" y2="578.5" stroke="#ffffff" stroke-width="1.0"/><line x1="716.0" y1="619.5" x2="719.2" y2="619.6" stroke="#7a4c22" stroke-width="1.1"/><line x1="661.3" y1="612.2" x2="667.7" y2="612.5" stroke="#3a2008" stroke-width="1.3"/><line x1="712.5" y1="609.6" x2="716.1" y2="609.9" stroke="#ffffff" stroke-width="0.7"/><line x1="663.5" y1="599.1" x2="668.3" y2="599.4" stroke="#f4efe6" stroke-width="1.1"/><line x1="714.3" y1="584.7" x2="719.5" y2="584.7" stroke="#2a1604" stroke-width="1.1"/><line x1="672.1" y1="581.8" x2="679.4" y2="582.0" stroke="#7a4c22" stroke-width="1.2"/><line x1="680.7" y1="627.6" x2="690.6" y2="627.3" stroke="#8c6038" stroke-width="0.7"/><line x1="696.8" y1="638.0" x2="701.3" y2="637.7" stroke="#8c6038" stroke-width="0.8"/><line x1="692.6" y1="623.4" x2="696.9" y2="623.3" stroke="#3a2008" stroke-width="1.1"/><line x1="637.7" y1="608.5" x2="645.0" y2="608.9" stroke="#2a1604" stroke-width="1.0"/><line x1="671.4" y1="593.7" x2="681.2" y2="593.8" stroke="#8c6038" stroke-width="1.1"/><line x1="707.4" y1="580.4" x2="712.7" y2="580.2" stroke="#ffffff" stroke-width="1.1"/><line x1="671.6" y1="581.0" x2="681.3" y2="581.3" stroke="#7a4c22" stroke-width="0.9"/><line x1="675.7" y1="581.1" x2="679.0" y2="580.6" stroke="#f4efe6" stroke-width="0.7"/><line x1="668.5" y1="605.4" x2="678.3" y2="605.1" stroke="#3a2008" stroke-width="1.1"/><line x1="666.7" y1="634.2" x2="675.0" y2="633.8" stroke="#ffffff" stroke-width="1.1"/><line x1="693.7" y1="595.7" x2="700.4" y2="595.6" stroke="#8c6038" stroke-width="1.0"/><line x1="707.2" y1="627.7" x2="711.7" y2="627.3" stroke="#f4efe6" stroke-width="0.8"/><line x1="710.7" y1="621.9" x2="717.5" y2="622.1" stroke="#7a4c22" stroke-width="0.9"/><line x1="700.1" y1="614.1" x2="710.7" y2="614.5" stroke="#f4efe6" stroke-width="0.8"/><line x1="682.5" y1="620.3" x2="692.7" y2="619.8" stroke="#8c6038" stroke-width="1.0"/><line x1="718.8" y1="595.8" x2="724.1" y2="596.2" stroke="#3a2008" stroke-width="1.0"/><line x1="646.9" y1="604.3" x2="650.6" y2="603.8" stroke="#2a1604" stroke-width="1.2"/><line x1="670.5" y1="601.6" x2="674.2" y2="601.3" stroke="#8c6038" stroke-width="1.1"/><line x1="680.4" y1="607.1" x2="687.3" y2="607.1" stroke="#2a1604" stroke-width="0.9"/><line x1="636.0" y1="591.5" x2="643.3" y2="591.5" stroke="#f4efe6" stroke-width="1.2"/><line x1="718.9" y1="632.4" x2="726.9" y2="632.0" stroke="#f4efe6" stroke-width="1.1"/><line x1="652.9" y1="604.9" x2="660.6" y2="604.4" stroke="#5c3814" stroke-width="1.0"/><line x1="679.5" y1="619.6" x2="684.8" y2="619.5" stroke="#7a4c22" stroke-width="1.0"/><line x1="691.7" y1="620.9" x2="702.3" y2="620.4" stroke="#7a4c22" stroke-width="1.0"/><line x1="690.0" y1="624.7" x2="698.3" y2="624.5" stroke="#3a2008" stroke-width="1.0"/><line x1="697.2" y1="578.0" x2="705.1" y2="578.1" stroke="#2a1604" stroke-width="1.0"/><line x1="661.0" y1="588.5" x2="667.5" y2="588.6" stroke="#8c6038" stroke-width="1.3"/><line x1="704.8" y1="617.3" x2="712.5" y2="617.2" stroke="#2a1604" stroke-width="1.2"/><line x1="700.7" y1="634.7" x2="710.6" y2="634.6" stroke="#7a4c22" stroke-width="1.1"/><line x1="672.2" y1="628.7" x2="679.3" y2="629.1" stroke="#2a1604" stroke-width="1.2"/><line x1="677.3" y1="605.4" x2="686.0" y2="605.0" stroke="#ffffff" stroke-width="1.0"/><line x1="660.0" y1="625.2" x2="664.4" y2="625.5" stroke="#5c3814" stroke-width="0.8"/><line x1="675.0" y1="633.9" x2="681.0" y2="634.1" stroke="#ffffff" stroke-width="1.2"/><line x1="669.6" y1="608.5" x2="677.8" y2="608.0" stroke="#3a2008" stroke-width="1.1"/><line x1="639.7" y1="632.1" x2="647.9" y2="632.3" stroke="#3a2008" stroke-width="1.1"/><line x1="673.7" y1="598.1" x2="677.4" y2="598.2" stroke="#5c3814" stroke-width="1.0"/><line x1="689.0" y1="635.1" x2="697.8" y2="634.9" stroke="#7a4c22" stroke-width="0.9"/><line x1="677.9" y1="581.6" x2="681.3" y2="581.3" stroke="#ffffff" stroke-width="1.3"/><line x1="660.9" y1="613.3" x2="667.6" y2="613.0" stroke="#3a2008" stroke-width="0.9"/><line x1="690.5" y1="603.5" x2="696.3" y2="603.9" stroke="#f4efe6" stroke-width="1.1"/><line x1="659.2" y1="579.4" x2="667.5" y2="579.1" stroke="#5c3814" stroke-width="1.1"/><line x1="641.7" y1="616.4" x2="647.3" y2="616.5" stroke="#7a4c22" stroke-width="1.2"/><line x1="708.6" y1="613.1" x2="714.7" y2="612.6" stroke="#3a2008" stroke-width="0.9"/><line x1="667.2" y1="616.1" x2="673.2" y2="615.6" stroke="#5c3814" stroke-width="1.2"/><line x1="640.3" y1="602.6" x2="644.2" y2="602.8" stroke="#f4efe6" stroke-width="1.0"/><line x1="654.3" y1="647.7" x2="658.3" y2="648.0" stroke="#5c3814" stroke-width="1.2"/><line x1="650.9" y1="626.3" x2="658.6" y2="626.4" stroke="#ffffff" stroke-width="0.8"/><line x1="673.1" y1="586.1" x2="680.4" y2="586.4" stroke="#7a4c22" stroke-width="1.3"/><line x1="645.7" y1="610.9" x2="654.1" y2="611.0" stroke="#8c6038" stroke-width="1.0"/><line x1="661.9" y1="604.9" x2="669.0" y2="605.2" stroke="#3a2008" stroke-width="1.0"/><line x1="709.8" y1="633.8" x2="716.1" y2="633.6" stroke="#ffffff" stroke-width="1.0"/><line x1="637.1" y1="644.6" x2="642.0" y2="644.3" stroke="#ffffff" stroke-width="1.3"/><line x1="717.4" y1="645.7" x2="723.8" y2="645.6" stroke="#ffffff" stroke-width="1.2"/><line x1="692.6" y1="597.1" x2="697.2" y2="597.3" stroke="#3a2008" stroke-width="1.2"/><line x1="659.0" y1="585.0" x2="666.3" y2="584.8" stroke="#5c3814" stroke-width="0.9"/><line x1="700.8" y1="646.4" x2="708.3" y2="646.5" stroke="#7a4c22" stroke-width="1.1"/><line x1="668.9" y1="651.3" x2="674.4" y2="651.4" stroke="#ffffff" stroke-width="0.7"/><line x1="667.8" y1="648.4" x2="671.4" y2="648.1" stroke="#8c6038" stroke-width="0.8"/><line x1="685.1" y1="616.5" x2="694.4" y2="616.6" stroke="#5c3814" stroke-width="1.1"/><line x1="678.3" y1="631.2" x2="686.7" y2="631.3" stroke="#7a4c22" stroke-width="1.3"/><line x1="637.3" y1="601.1" x2="642.8" y2="601.6" stroke="#5c3814" stroke-width="1.1"/><line x1="651.8" y1="621.9" x2="654.9" y2="621.6" stroke="#ffffff" stroke-width="1.1"/><line x1="714.2" y1="592.5" x2="719.5" y2="592.2" stroke="#2a1604" stroke-width="1.2"/><line x1="678.2" y1="631.2" x2="687.2" y2="631.4" stroke="#8c6038" stroke-width="1.0"/><line x1="661.9" y1="598.8" x2="672.8" y2="598.5" stroke="#ffffff" stroke-width="1.3"/><line x1="636.3" y1="609.1" x2="640.3" y2="609.1" stroke="#8c6038" stroke-width="1.2"/><line x1="658.3" y1="643.5" x2="665.7" y2="643.4" stroke="#8c6038" stroke-width="1.3"/><line x1="684.4" y1="616.6" x2="690.3" y2="616.1" stroke="#7a4c22" stroke-width="1.2"/><line x1="713.0" y1="633.9" x2="718.1" y2="634.2" stroke="#ffffff" stroke-width="0.9"/><line x1="687.0" y1="598.6" x2="696.8" y2="598.4" stroke="#5c3814" stroke-width="0.7"/><line x1="677.3" y1="616.4" x2="682.2" y2="616.6" stroke="#f4efe6" stroke-width="0.9"/><line x1="691.3" y1="603.4" x2="698.3" y2="603.4" stroke="#5c3814" stroke-width="0.9"/><line x1="654.8" y1="581.4" x2="662.2" y2="581.5" stroke="#ffffff" stroke-width="1.2"/><line x1="677.3" y1="641.7" x2="687.7" y2="641.3" stroke="#2a1604" stroke-width="1.1"/><line x1="682.1" y1="637.0" x2="690.0" y2="637.1" stroke="#2a1604" stroke-width="1.1"/><line x1="658.5" y1="604.7" x2="661.6" y2="605.0" stroke="#f4efe6" stroke-width="1.1"/><line x1="719.6" y1="633.4" x2="723.4" y2="633.1" stroke="#8c6038" stroke-width="1.2"/><line x1="670.6" y1="647.3" x2="681.3" y2="647.6" stroke="#3a2008" stroke-width="1.2"/><line x1="673.1" y1="643.4" x2="677.8" y2="643.5" stroke="#8c6038" stroke-width="0.7"/><line x1="670.0" y1="576.8" x2="680.3" y2="577.0" stroke="#ffffff" stroke-width="0.7"/><line x1="716.7" y1="596.1" x2="724.9" y2="596.1" stroke="#f4efe6" stroke-width="0.8"/><line x1="657.1" y1="631.5" x2="661.1" y2="631.9" stroke="#2a1604" stroke-width="0.9"/><line x1="712.2" y1="620.6" x2="720.2" y2="620.5" stroke="#3a2008" stroke-width="1.2"/><line x1="707.0" y1="589.5" x2="714.4" y2="589.7" stroke="#7a4c22" stroke-width="0.8"/><line x1="645.8" y1="618.3" x2="653.6" y2="618.8" stroke="#5c3814" stroke-width="1.3"/><line x1="694.8" y1="585.9" x2="703.1" y2="585.9" stroke="#7a4c22" stroke-width="1.0"/><line x1="653.4" y1="586.1" x2="663.4" y2="586.4" stroke="#2a1604" stroke-width="1.1"/><line x1="670.5" y1="617.8" x2="675.9" y2="618.2" stroke="#2a1604" stroke-width="1.2"/><line x1="672.4" y1="596.2" x2="682.5" y2="596.2" stroke="#3a2008" stroke-width="1.2"/><line x1="720.7" y1="580.2" x2="728.8" y2="579.8" stroke="#7a4c22" stroke-width="1.2"/><line x1="666.8" y1="594.7" x2="674.7" y2="594.9" stroke="#8c6038" stroke-width="1.1"/><line x1="710.7" y1="614.7" x2="719.0" y2="614.5" stroke="#ffffff" stroke-width="1.2"/><line x1="665.5" y1="615.2" x2="670.7" y2="615.4" stroke="#2a1604" stroke-width="1.2"/><line x1="653.5" y1="596.0" x2="662.3" y2="596.3" stroke="#5c3814" stroke-width="1.0"/><line x1="666.1" y1="630.7" x2="674.3" y2="630.4" stroke="#2a1604" stroke-width="1.0"/><line x1="718.5" y1="622.6" x2="729.4" y2="622.5" stroke="#5c3814" stroke-width="1.1"/><line x1="639.8" y1="626.9" x2="649.7" y2="627.1" stroke="#2a1604" stroke-width="1.0"/><line x1="654.0" y1="578.4" x2="659.6" y2="578.0" stroke="#8c6038" stroke-width="1.0"/><line x1="700.8" y1="588.5" x2="707.5" y2="588.3" stroke="#ffffff" stroke-width="1.0"/><line x1="707.7" y1="619.7" x2="715.3" y2="619.9" stroke="#5c3814" stroke-width="1.2"/><line x1="702.6" y1="649.7" x2="705.9" y2="649.9" stroke="#ffffff" stroke-width="1.2"/><line x1="649.8" y1="587.0" x2="659.6" y2="587.3" stroke="#ffffff" stroke-width="1.3"/><line x1="715.1" y1="624.5" x2="725.9" y2="624.1" stroke="#ffffff" stroke-width="1.1"/><line x1="695.6" y1="594.7" x2="700.7" y2="594.5" stroke="#ffffff" stroke-width="1.2"/><line x1="660.8" y1="590.3" x2="665.3" y2="590.7" stroke="#2a1604" stroke-width="0.9"/><line x1="664.3" y1="604.0" x2="674.4" y2="603.6" stroke="#3a2008" stroke-width="1.3"/><line x1="650.4" y1="632.2" x2="656.3" y2="632.5" stroke="#ffffff" stroke-width="1.1"/><line x1="646.2" y1="595.8" x2="653.2" y2="595.4" stroke="#2a1604" stroke-width="1.2"/><line x1="699.4" y1="577.6" x2="708.9" y2="578.1" stroke="#5c3814" stroke-width="0.8"/><line x1="654.2" y1="604.4" x2="659.7" y2="604.8" stroke="#3a2008" stroke-width="1.0"/><line x1="654.4" y1="620.3" x2="664.3" y2="620.6" stroke="#5c3814" stroke-width="0.8"/><line x1="693.7" y1="588.4" x2="701.5" y2="588.2" stroke="#5c3814" stroke-width="0.8"/><line x1="691.1" y1="597.6" x2="698.2" y2="597.6" stroke="#8c6038" stroke-width="1.1"/><line x1="701.0" y1="637.3" x2="709.5" y2="637.3" stroke="#ffffff" stroke-width="1.3"/><line x1="674.1" y1="648.3" x2="679.7" y2="648.6" stroke="#8c6038" stroke-width="1.2"/><line x1="651.6" y1="629.6" x2="658.8" y2="630.0" stroke="#2a1604" stroke-width="1.2"/><line x1="702.2" y1="638.2" x2="713.1" y2="637.7" stroke="#ffffff" stroke-width="0.9"/><line x1="664.3" y1="582.6" x2="670.3" y2="582.7" stroke="#8c6038" stroke-width="0.9"/><line x1="648.9" y1="579.1" x2="657.3" y2="578.9" stroke="#8c6038" stroke-width="1.0"/><line x1="667.2" y1="612.9" x2="671.6" y2="613.3" stroke="#3a2008" stroke-width="1.1"/><line x1="718.5" y1="637.9" x2="725.8" y2="637.8" stroke="#ffffff" stroke-width="0.7"/><line x1="674.9" y1="638.1" x2="683.3" y2="637.7" stroke="#ffffff" stroke-width="1.1"/><line x1="672.4" y1="605.2" x2="678.5" y2="604.9" stroke="#f4efe6" stroke-width="1.1"/><line x1="697.1" y1="643.2" x2="704.2" y2="643.7" stroke="#ffffff" stroke-width="0.7"/><line x1="648.3" y1="584.0" x2="653.7" y2="583.6" stroke="#f4efe6" stroke-width="1.0"/><line x1="657.9" y1="581.5" x2="662.2" y2="581.7" stroke="#ffffff" stroke-width="1.2"/><line x1="709.3" y1="605.2" x2="716.4" y2="605.2" stroke="#5c3814" stroke-width="1.0"/><line x1="690.7" y1="630.1" x2="700.9" y2="629.7" stroke="#3a2008" stroke-width="0.8"/><line x1="708.5" y1="609.1" x2="711.6" y2="608.7" stroke="#5c3814" stroke-width="0.9"/><line x1="715.2" y1="590.4" x2="724.8" y2="590.5" stroke="#5c3814" stroke-width="0.9"/><line x1="665.2" y1="603.1" x2="672.0" y2="602.8" stroke="#3a2008" stroke-width="0.9"/><line x1="648.9" y1="629.0" x2="655.7" y2="629.4" stroke="#2a1604" stroke-width="0.9"/><line x1="704.3" y1="646.6" x2="708.9" y2="646.6" stroke="#7a4c22" stroke-width="1.1"/><line x1="688.1" y1="608.2" x2="694.8" y2="607.8" stroke="#f4efe6" stroke-width="0.7"/><line x1="661.6" y1="643.9" x2="670.9" y2="644.2" stroke="#8c6038" stroke-width="0.9"/><line x1="688.0" y1="650.4" x2="698.2" y2="650.2" stroke="#2a1604" stroke-width="1.1"/><line x1="651.1" y1="583.5" x2="654.7" y2="583.5" stroke="#2a1604" stroke-width="0.7"/><line x1="666.6" y1="624.0" x2="671.4" y2="623.5" stroke="#f4efe6" stroke-width="1.0"/><line x1="685.4" y1="590.3" x2="696.3" y2="589.9" stroke="#f4efe6" stroke-width="0.7"/><line x1="711.7" y1="646.7" x2="718.2" y2="646.3" stroke="#ffffff" stroke-width="0.9"/><line x1="681.2" y1="595.1" x2="689.7" y2="594.7" stroke="#3a2008" stroke-width="1.2"/><line x1="637.2" y1="600.7" x2="641.9" y2="601.0" stroke="#3a2008" stroke-width="0.8"/><line x1="670.9" y1="579.5" x2="676.4" y2="579.7" stroke="#8c6038" stroke-width="0.8"/><line x1="644.3" y1="646.4" x2="648.0" y2="646.6" stroke="#7a4c22" stroke-width="0.9"/><line x1="720.7" y1="633.0" x2="724.7" y2="633.1" stroke="#7a4c22" stroke-width="1.3"/><line x1="713.7" y1="637.6" x2="722.9" y2="638.1" stroke="#7a4c22" stroke-width="1.3"/><line x1="691.5" y1="630.6" x2="696.7" y2="630.8" stroke="#7a4c22" stroke-width="0.7"/><line x1="670.4" y1="585.9" x2="675.8" y2="586.0" stroke="#ffffff" stroke-width="1.2"/><line x1="659.0" y1="588.8" x2="665.4" y2="589.2" stroke="#f4efe6" stroke-width="1.1"/><line x1="673.3" y1="586.1" x2="679.8" y2="586.1" stroke="#ffffff" stroke-width="1.0"/><line x1="651.1" y1="626.2" x2="658.6" y2="626.4" stroke="#ffffff" stroke-width="1.3"/><line x1="710.1" y1="640.3" x2="720.8" y2="640.5" stroke="#3a2008" stroke-width="0.9"/><line x1="655.8" y1="651.4" x2="663.3" y2="651.2" stroke="#3a2008" stroke-width="0.9"/><line x1="640.5" y1="585.8" x2="646.5" y2="585.3" stroke="#2a1604" stroke-width="0.8"/><line x1="703.2" y1="584.5" x2="707.9" y2="584.9" stroke="#8c6038" stroke-width="1.0"/><line x1="721.1" y1="595.0" x2="731.4" y2="594.9" stroke="#ffffff" stroke-width="0.8"/><line x1="699.0" y1="583.3" x2="709.8" y2="583.1" stroke="#5c3814" stroke-width="0.9"/><line x1="649.9" y1="600.0" x2="658.5" y2="599.9" stroke="#8c6038" stroke-width="1.2"/><line x1="655.9" y1="616.5" x2="663.1" y2="616.9" stroke="#5c3814" stroke-width="1.3"/><line x1="683.4" y1="581.3" x2="693.0" y2="580.8" stroke="#ffffff" stroke-width="0.9"/><line x1="707.8" y1="612.2" x2="712.2" y2="612.3" stroke="#3a2008" stroke-width="0.9"/><line x1="659.2" y1="610.2" x2="667.8" y2="609.7" stroke="#5c3814" stroke-width="0.8"/><line x1="693.2" y1="648.9" x2="697.1" y2="648.4" stroke="#5c3814" stroke-width="1.2"/><line x1="663.0" y1="604.4" x2="672.3" y2="604.9" stroke="#ffffff" stroke-width="1.1"/><line x1="663.8" y1="651.6" x2="670.4" y2="651.8" stroke="#f4efe6" stroke-width="1.3"/><line x1="707.3" y1="630.4" x2="713.2" y2="630.4" stroke="#ffffff" stroke-width="0.8"/><line x1="698.6" y1="641.5" x2="704.2" y2="641.4" stroke="#3a2008" stroke-width="0.8"/><line x1="637.6" y1="588.3" x2="643.5" y2="587.8" stroke="#8c6038" stroke-width="1.2"/><line x1="721.3" y1="650.6" x2="731.7" y2="650.3" stroke="#f4efe6" stroke-width="1.0"/><line x1="679.0" y1="600.0" x2="688.3" y2="599.9" stroke="#3a2008" stroke-width="1.1"/><line x1="710.6" y1="610.7" x2="720.7" y2="611.0" stroke="#ffffff" stroke-width="1.3"/><line x1="656.6" y1="626.7" x2="665.7" y2="626.3" stroke="#2a1604" stroke-width="0.8"/><line x1="641.4" y1="628.7" x2="647.3" y2="628.3" stroke="#3a2008" stroke-width="1.1"/><line x1="659.4" y1="609.3" x2="667.2" y2="609.0" stroke="#f4efe6" stroke-width="1.2"/><line x1="640.3" y1="589.5" x2="648.9" y2="589.8" stroke="#ffffff" stroke-width="1.0"/><line x1="659.0" y1="615.5" x2="666.2" y2="615.9" stroke="#7a4c22" stroke-width="0.8"/><line x1="688.2" y1="579.1" x2="692.9" y2="579.0" stroke="#8c6038" stroke-width="1.2"/><line x1="701.1" y1="590.0" x2="709.3" y2="589.9" stroke="#ffffff" stroke-width="1.0"/><line x1="692.4" y1="630.7" x2="698.5" y2="630.8" stroke="#2a1604" stroke-width="0.7"/><line x1="651.5" y1="611.5" x2="656.4" y2="611.7" stroke="#ffffff" stroke-width="0.8"/><line x1="710.7" y1="638.5" x2="716.6" y2="638.2" stroke="#ffffff" stroke-width="1.2"/><line x1="669.7" y1="576.7" x2="676.6" y2="577.1" stroke="#ffffff" stroke-width="1.1"/><line x1="678.1" y1="648.1" x2="688.0" y2="647.7" stroke="#f4efe6" stroke-width="1.3"/><line x1="675.5" y1="611.7" x2="679.7" y2="611.8" stroke="#3a2008" stroke-width="1.0"/><line x1="639.6" y1="631.1" x2="649.4" y2="630.8" stroke="#ffffff" stroke-width="1.1"/><line x1="643.6" y1="586.8" x2="647.5" y2="587.3" stroke="#2a1604" stroke-width="0.7"/><line x1="703.5" y1="579.3" x2="708.8" y2="579.1" stroke="#7a4c22" stroke-width="0.8"/><line x1="682.4" y1="598.8" x2="692.4" y2="598.5" stroke="#5c3814" stroke-width="1.2"/><line x1="653.1" y1="644.1" x2="660.0" y2="644.2" stroke="#ffffff" stroke-width="1.1"/><line x1="672.9" y1="629.4" x2="678.7" y2="629.4" stroke="#7a4c22" stroke-width="0.9"/><line x1="705.1" y1="596.0" x2="710.6" y2="596.1" stroke="#ffffff" stroke-width="1.1"/><line x1="684.5" y1="586.6" x2="688.0" y2="586.4" stroke="#3a2008" stroke-width="0.9"/><line x1="679.8" y1="599.4" x2="686.9" y2="599.7" stroke="#ffffff" stroke-width="0.7"/><line x1="645.5" y1="604.1" x2="649.4" y2="603.9" stroke="#7a4c22" stroke-width="1.2"/><line x1="679.9" y1="585.8" x2="684.3" y2="586.3" stroke="#ffffff" stroke-width="0.8"/><line x1="707.9" y1="629.0" x2="715.3" y2="628.6" stroke="#7a4c22" stroke-width="1.3"/><line x1="646.8" y1="634.2" x2="654.5" y2="634.2" stroke="#f4efe6" stroke-width="1.0"/><line x1="713.5" y1="640.9" x2="719.7" y2="640.9" stroke="#8c6038" stroke-width="0.8"/><line x1="645.9" y1="636.3" x2="654.1" y2="636.5" stroke="#7a4c22" stroke-width="0.7"/><line x1="677.1" y1="628.7" x2="686.0" y2="628.7" stroke="#3a2008" stroke-width="1.2"/><line x1="679.1" y1="580.1" x2="689.8" y2="579.8" stroke="#3a2008" stroke-width="0.8"/><line x1="681.9" y1="643.9" x2="687.7" y2="644.2" stroke="#5c3814" stroke-width="0.7"/><line x1="638.5" y1="651.8" x2="645.5" y2="652.2" stroke="#5c3814" stroke-width="0.9"/><line x1="637.3" y1="641.9" x2="647.8" y2="641.4" stroke="#2a1604" stroke-width="0.7"/><line x1="679.2" y1="624.2" x2="682.8" y2="624.4" stroke="#ffffff" stroke-width="0.9"/><line x1="651.4" y1="615.1" x2="661.3" y2="615.1" stroke="#f4efe6" stroke-width="0.8"/><line x1="648.6" y1="594.1" x2="654.1" y2="594.2" stroke="#7a4c22" stroke-width="0.9"/><line x1="692.2" y1="586.2" x2="697.6" y2="586.1" stroke="#3a2008" stroke-width="0.8"/><line x1="707.7" y1="644.7" x2="711.7" y2="644.4" stroke="#ffffff" stroke-width="0.8"/><line x1="705.3" y1="612.6" x2="712.8" y2="613.1" stroke="#5c3814" stroke-width="0.8"/><line x1="699.7" y1="577.9" x2="703.6" y2="577.9" stroke="#5c3814" stroke-width="0.9"/><line x1="636.0" y1="602.9" x2="641.6" y2="602.9" stroke="#ffffff" stroke-width="1.0"/><line x1="700.3" y1="620.9" x2="703.9" y2="620.7" stroke="#7a4c22" stroke-width="0.9"/><line x1="671.2" y1="629.5" x2="676.4" y2="629.3" stroke="#7a4c22" stroke-width="0.9"/><line x1="678.9" y1="646.7" x2="682.3" y2="647.1" stroke="#f4efe6" stroke-width="0.9"/><line x1="691.9" y1="577.8" x2="696.7" y2="577.6" stroke="#8c6038" stroke-width="1.0"/><line x1="720.5" y1="618.6" x2="728.9" y2="619.1" stroke="#5c3814" stroke-width="0.8"/><line x1="669.3" y1="603.3" x2="680.3" y2="603.1" stroke="#5c3814" stroke-width="1.0"/><line x1="642.3" y1="647.5" x2="649.4" y2="647.6" stroke="#5c3814" stroke-width="0.7"/><line x1="717.5" y1="608.7" x2="728.5" y2="608.9" stroke="#ffffff" stroke-width="1.1"/><line x1="650.0" y1="629.5" x2="660.8" y2="629.3" stroke="#ffffff" stroke-width="0.8"/><line x1="693.7" y1="607.5" x2="699.4" y2="607.5" stroke="#2a1604" stroke-width="1.1"/><line x1="683.0" y1="636.7" x2="687.3" y2="636.9" stroke="#7a4c22" stroke-width="0.9"/><line x1="674.6" y1="617.1" x2="683.5" y2="617.2" stroke="#2a1604" stroke-width="1.1"/><line x1="676.8" y1="609.4" x2="684.6" y2="609.1" stroke="#8c6038" stroke-width="1.0"/><line x1="653.1" y1="599.6" x2="658.9" y2="599.9" stroke="#ffffff" stroke-width="1.1"/><line x1="657.0" y1="576.0" x2="661.0" y2="575.7" stroke="#ffffff" stroke-width="0.9"/><line x1="714.0" y1="608.2" x2="718.9" y2="608.6" stroke="#f4efe6" stroke-width="0.9"/><line x1="677.7" y1="596.1" x2="681.7" y2="596.6" stroke="#ffffff" stroke-width="0.9"/><line x1="718.1" y1="584.7" x2="723.5" y2="584.5" stroke="#5c3814" stroke-width="1.3"/><line x1="685.9" y1="636.5" x2="696.9" y2="636.3" stroke="#8c6038" stroke-width="1.3"/><line x1="712.8" y1="576.2" x2="723.5" y2="576.0" stroke="#2a1604" stroke-width="1.0"/><line x1="661.9" y1="634.9" x2="668.1" y2="634.8" stroke="#ffffff" stroke-width="1.1"/><line x1="677.5" y1="584.3" x2="685.8" y2="583.8" stroke="#7a4c22" stroke-width="1.0"/><line x1="649.4" y1="618.6" x2="654.3" y2="618.8" stroke="#3a2008" stroke-width="0.8"/><line x1="663.0" y1="589.1" x2="672.5" y2="589.2" stroke="#2a1604" stroke-width="1.1"/><line x1="720.0" y1="615.6" x2="726.5" y2="615.6" stroke="#5c3814" stroke-width="1.2"/><line x1="646.7" y1="602.0" x2="656.9" y2="601.7" stroke="#ffffff" stroke-width="1.0"/><line x1="656.4" y1="605.2" x2="659.6" y2="604.8" stroke="#5c3814" stroke-width="0.9"/><line x1="644.7" y1="628.9" x2="649.5" y2="628.6" stroke="#ffffff" stroke-width="1.0"/><line x1="657.0" y1="592.6" x2="665.5" y2="592.9" stroke="#ffffff" stroke-width="0.7"/><line x1="678.2" y1="612.9" x2="683.5" y2="612.6" stroke="#f4efe6" stroke-width="0.8"/><line x1="713.7" y1="583.3" x2="721.3" y2="583.5" stroke="#5c3814" stroke-width="1.0"/><line x1="683.1" y1="632.0" x2="688.3" y2="632.2" stroke="#3a2008" stroke-width="1.0"/><line x1="642.6" y1="639.4" x2="649.8" y2="639.0" stroke="#ffffff" stroke-width="0.7"/><line x1="679.3" y1="611.8" x2="687.3" y2="612.3" stroke="#7a4c22" stroke-width="0.8"/><line x1="711.1" y1="651.4" x2="716.0" y2="651.5" stroke="#ffffff" stroke-width="1.0"/><line x1="654.4" y1="597.4" x2="659.4" y2="597.6" stroke="#ffffff" stroke-width="1.2"/><line x1="659.4" y1="626.1" x2="665.3" y2="625.7" stroke="#5c3814" stroke-width="1.1"/><line x1="700.2" y1="624.8" x2="708.9" y2="624.6" stroke="#ffffff" stroke-width="1.0"/><line x1="666.2" y1="629.2" x2="675.7" y2="629.5" stroke="#8c6038" stroke-width="1.2"/><line x1="649.5" y1="642.5" x2="659.1" y2="642.8" stroke="#3a2008" stroke-width="0.8"/><line x1="717.0" y1="581.1" x2="727.4" y2="581.5" stroke="#f4efe6" stroke-width="1.2"/><line x1="698.5" y1="612.5" x2="702.0" y2="612.4" stroke="#2a1604" stroke-width="1.2"/><line x1="706.4" y1="643.2" x2="709.9" y2="642.9" stroke="#2a1604" stroke-width="0.8"/><line x1="688.6" y1="630.7" x2="693.4" y2="630.6" stroke="#5c3814" stroke-width="0.7"/><line x1="682.2" y1="626.3" x2="692.3" y2="626.1" stroke="#f4efe6" stroke-width="1.1"/><line x1="689.2" y1="618.5" x2="697.3" y2="618.1" stroke="#ffffff" stroke-width="0.7"/><line x1="694.1" y1="613.4" x2="702.1" y2="613.2" stroke="#8c6038" stroke-width="0.9"/><line x1="693.9" y1="651.1" x2="701.4" y2="651.0" stroke="#ffffff" stroke-width="1.2"/><line x1="661.8" y1="611.5" x2="672.3" y2="611.0" stroke="#f4efe6" stroke-width="0.8"/><line x1="686.1" y1="616.4" x2="695.8" y2="616.6" stroke="#ffffff" stroke-width="1.2"/><line x1="672.5" y1="648.4" x2="676.0" y2="648.7" stroke="#3a2008" stroke-width="1.3"/><line x1="704.5" y1="635.4" x2="709.9" y2="635.9" stroke="#7a4c22" stroke-width="1.2"/><line x1="696.4" y1="650.6" x2="700.2" y2="651.0" stroke="#ffffff" stroke-width="1.3"/><line x1="704.9" y1="584.4" x2="711.9" y2="584.6" stroke="#7a4c22" stroke-width="1.2"/><line x1="648.1" y1="612.9" x2="658.4" y2="613.4" stroke="#f4efe6" stroke-width="0.9"/><line x1="687.7" y1="605.3" x2="693.8" y2="605.5" stroke="#8c6038" stroke-width="1.2"/><line x1="667.4" y1="613.6" x2="674.0" y2="613.6" stroke="#2a1604" stroke-width="1.3"/><line x1="719.3" y1="578.2" x2="728.5" y2="578.1" stroke="#ffffff" stroke-width="1.2"/><line x1="659.1" y1="605.0" x2="667.5" y2="604.7" stroke="#8c6038" stroke-width="1.0"/><line x1="669.3" y1="647.0" x2="677.1" y2="647.1" stroke="#7a4c22" stroke-width="1.2"/><line x1="707.9" y1="633.5" x2="714.2" y2="633.2" stroke="#8c6038" stroke-width="1.1"/><line x1="700.0" y1="623.1" x2="708.4" y2="622.9" stroke="#7a4c22" stroke-width="1.2"/><line x1="637.8" y1="587.4" x2="644.4" y2="587.7" stroke="#7a4c22" stroke-width="1.2"/><line x1="706.5" y1="590.1" x2="717.4" y2="589.8" stroke="#ffffff" stroke-width="1.2"/><line x1="682.5" y1="579.1" x2="690.0" y2="579.0" stroke="#7a4c22" stroke-width="1.3"/><line x1="699.5" y1="578.5" x2="707.3" y2="578.4" stroke="#3a2008" stroke-width="1.2"/><line x1="648.7" y1="594.8" x2="655.2" y2="595.1" stroke="#8c6038" stroke-width="1.0"/><line x1="659.0" y1="647.3" x2="664.2" y2="647.1" stroke="#3a2008" stroke-width="0.9"/><line x1="641.5" y1="637.7" x2="646.0" y2="638.1" stroke="#ffffff" stroke-width="1.3"/><line x1="662.7" y1="585.1" x2="671.8" y2="584.7" stroke="#2a1604" stroke-width="1.2"/><line x1="700.9" y1="594.7" x2="710.6" y2="595.0" stroke="#f4efe6" stroke-width="1.2"/><line x1="707.5" y1="641.4" x2="711.6" y2="641.4" stroke="#5c3814" stroke-width="0.8"/><line x1="642.7" y1="607.8" x2="646.5" y2="607.9" stroke="#3a2008" stroke-width="0.9"/><line x1="652.2" y1="607.0" x2="661.2" y2="607.0" stroke="#5c3814" stroke-width="1.1"/><line x1="657.9" y1="648.1" x2="666.0" y2="647.9" stroke="#ffffff" stroke-width="1.0"/><line x1="697.1" y1="616.5" x2="706.2" y2="616.6" stroke="#5c3814" stroke-width="1.0"/><line x1="701.2" y1="589.3" x2="707.6" y2="588.8" stroke="#3a2008" stroke-width="0.8"/><line x1="682.6" y1="626.0" x2="691.1" y2="626.1" stroke="#f4efe6" stroke-width="0.7"/><line x1="713.1" y1="629.7" x2="717.7" y2="629.4" stroke="#7a4c22" stroke-width="0.7"/><line x1="687.0" y1="589.1" x2="694.6" y2="589.2" stroke="#5c3814" stroke-width="0.9"/><line x1="652.8" y1="595.9" x2="662.8" y2="596.4" stroke="#7a4c22" stroke-width="1.2"/><line x1="707.2" y1="594.0" x2="717.2" y2="593.9" stroke="#8c6038" stroke-width="1.1"/><line x1="665.1" y1="621.2" x2="670.0" y2="621.6" stroke="#3a2008" stroke-width="0.8"/><line x1="711.1" y1="641.2" x2="720.4" y2="640.8" stroke="#f4efe6" stroke-width="1.0"/><line x1="722.0" y1="639.8" x2="725.2" y2="639.8" stroke="#7a4c22" stroke-width="1.2"/><line x1="696.8" y1="632.4" x2="706.7" y2="632.5" stroke="#f4efe6" stroke-width="1.2"/><line x1="712.5" y1="592.9" x2="718.5" y2="592.6" stroke="#ffffff" stroke-width="1.2"/><line x1="673.5" y1="582.3" x2="683.0" y2="582.5" stroke="#8c6038" stroke-width="1.0"/><line x1="665.3" y1="629.7" x2="676.3" y2="629.8" stroke="#ffffff" stroke-width="0.7"/><line x1="648.0" y1="611.6" x2="656.3" y2="611.3" stroke="#5c3814" stroke-width="0.8"/><line x1="680.1" y1="650.9" x2="690.9" y2="651.0" stroke="#3a2008" stroke-width="0.9"/><line x1="716.9" y1="633.0" x2="723.0" y2="633.4" stroke="#2a1604" stroke-width="1.2"/><line x1="687.7" y1="611.2" x2="691.0" y2="611.0" stroke="#7a4c22" stroke-width="0.8"/><line x1="639.6" y1="602.9" x2="650.3" y2="603.2" stroke="#8c6038" stroke-width="1.1"/><line x1="699.4" y1="583.2" x2="706.7" y2="582.7" stroke="#8c6038" stroke-width="1.2"/><line x1="703.9" y1="636.4" x2="711.5" y2="636.5" stroke="#ffffff" stroke-width="0.9"/><line x1="713.7" y1="611.8" x2="719.5" y2="611.7" stroke="#3a2008" stroke-width="1.1"/><line x1="713.1" y1="651.3" x2="723.2" y2="651.0" stroke="#5c3814" stroke-width="0.9"/><line x1="660.5" y1="628.3" x2="667.5" y2="628.8" stroke="#f4efe6" stroke-width="0.9"/><line x1="711.6" y1="643.8" x2="718.7" y2="644.2" stroke="#ffffff" stroke-width="0.7"/><line x1="686.8" y1="648.5" x2="692.3" y2="648.3" stroke="#8c6038" stroke-width="1.2"/><line x1="704.0" y1="626.8" x2="708.0" y2="626.9" stroke="#f4efe6" stroke-width="1.0"/><line x1="664.9" y1="649.7" x2="673.0" y2="649.2" stroke="#7a4c22" stroke-width="0.7"/><line x1="682.4" y1="616.2" x2="687.4" y2="616.1" stroke="#3a2008" stroke-width="0.8"/><line x1="655.3" y1="609.2" x2="659.3" y2="609.5" stroke="#5c3814" stroke-width="0.9"/><line x1="666.6" y1="620.9" x2="674.6" y2="621.2" stroke="#8c6038" stroke-width="0.9"/><line x1="667.6" y1="576.1" x2="672.0" y2="576.1" stroke="#2a1604" stroke-width="1.0"/><line x1="686.7" y1="582.8" x2="690.9" y2="583.2" stroke="#8c6038" stroke-width="1.1"/><line x1="673.0" y1="589.7" x2="676.3" y2="590.1" stroke="#5c3814" stroke-width="1.3"/><line x1="717.3" y1="591.4" x2="721.0" y2="591.4" stroke="#ffffff" stroke-width="1.0"/><line x1="703.0" y1="595.1" x2="709.5" y2="594.9" stroke="#f4efe6" stroke-width="0.9"/><line x1="676.4" y1="596.4" x2="683.5" y2="596.8" stroke="#3a2008" stroke-width="0.9"/><line x1="677.1" y1="601.1" x2="686.0" y2="601.2" stroke="#2a1604" stroke-width="1.2"/><line x1="668.8" y1="595.4" x2="678.5" y2="595.2" stroke="#f4efe6" stroke-width="1.2"/><line x1="666.8" y1="641.3" x2="677.0" y2="641.2" stroke="#ffffff" stroke-width="1.1"/><line x1="704.4" y1="636.9" x2="713.6" y2="636.5" stroke="#ffffff" stroke-width="0.8"/><line x1="714.1" y1="594.4" x2="724.2" y2="594.4" stroke="#ffffff" stroke-width="0.8"/><line x1="692.7" y1="617.9" x2="698.4" y2="618.4" stroke="#7a4c22" stroke-width="0.7"/><line x1="665.9" y1="634.9" x2="674.4" y2="634.8" stroke="#3a2008" stroke-width="1.1"/><line x1="699.3" y1="646.5" x2="704.2" y2="646.0" stroke="#f4efe6" stroke-width="1.0"/><line x1="686.8" y1="649.5" x2="694.6" y2="649.3" stroke="#5c3814" stroke-width="0.9"/><line x1="663.5" y1="585.7" x2="669.5" y2="585.3" stroke="#ffffff" stroke-width="0.8"/><line x1="693.6" y1="614.3" x2="703.8" y2="614.6" stroke="#8c6038" stroke-width="1.2"/><line x1="667.4" y1="592.4" x2="678.0" y2="592.6" stroke="#8c6038" stroke-width="1.1"/><line x1="660.9" y1="578.7" x2="671.1" y2="578.8" stroke="#5c3814" stroke-width="1.2"/></g>
<path d="M822.6,540.6 Q853,536 883.5,540.6 L861.8,602.4 L862,680.6 L843.5,680.6 L843.2,602.4 Z" fill="#4b4b46"/>
<line x1="853" y1="545" x2="853" y2="600" stroke="#5c5c57" stroke-width="0.8"/>
<circle cx="842.6" cy="569" r="5" fill="#000"/>
<rect x="847" y="520" width="3.2" height="12" fill="#000"/>
<polygon points="843.3,530 853.9,530 848.6,540" fill="#000"/>
<line x1="620.7" y1="499.6" x2="665.5" y2="508.3" stroke="#000" stroke-width="1.2"/>
<line x1="633.7" y1="550.0" x2="667.0" y2="512.6" stroke="#000" stroke-width="1.2"/>
<line x1="795.5" y1="475.0" x2="842.6" y2="569.0" stroke="#000" stroke-width="1.2"/>
<line x1="727.6" y1="548.7" x2="838.8" y2="573.0" stroke="#000" stroke-width="1.2"/>
<line x1="654.0" y1="638.5" x2="682.0" y2="660.0" stroke="#000" stroke-width="1.2"/>
<line x1="708.0" y1="638.5" x2="686.5" y2="660.0" stroke="#000" stroke-width="1.2"/>
<rect x="879" y="601.8" width="64.8" height="13.8" fill="#e0111b"/>
<rect x="879" y="615.6" width="64.8" height="13.2" fill="#1212d6"/>
<text x="911.4" y="612.8" font-size="9.5" font-weight="bold" fill="#fff" text-anchor="middle">N</text>
<text x="911.4" y="626.2" font-size="9.5" font-weight="bold" fill="#fff" text-anchor="middle">S</text>
<path d="M868.7,608 A14.7,27.6 0 1 1 868.3,622" fill="none" stroke="#000" stroke-width="1.1"/>
<polygon points="865.8,630 868.4,619 871.6,629" fill="#000"/></svg>
</body></html>
